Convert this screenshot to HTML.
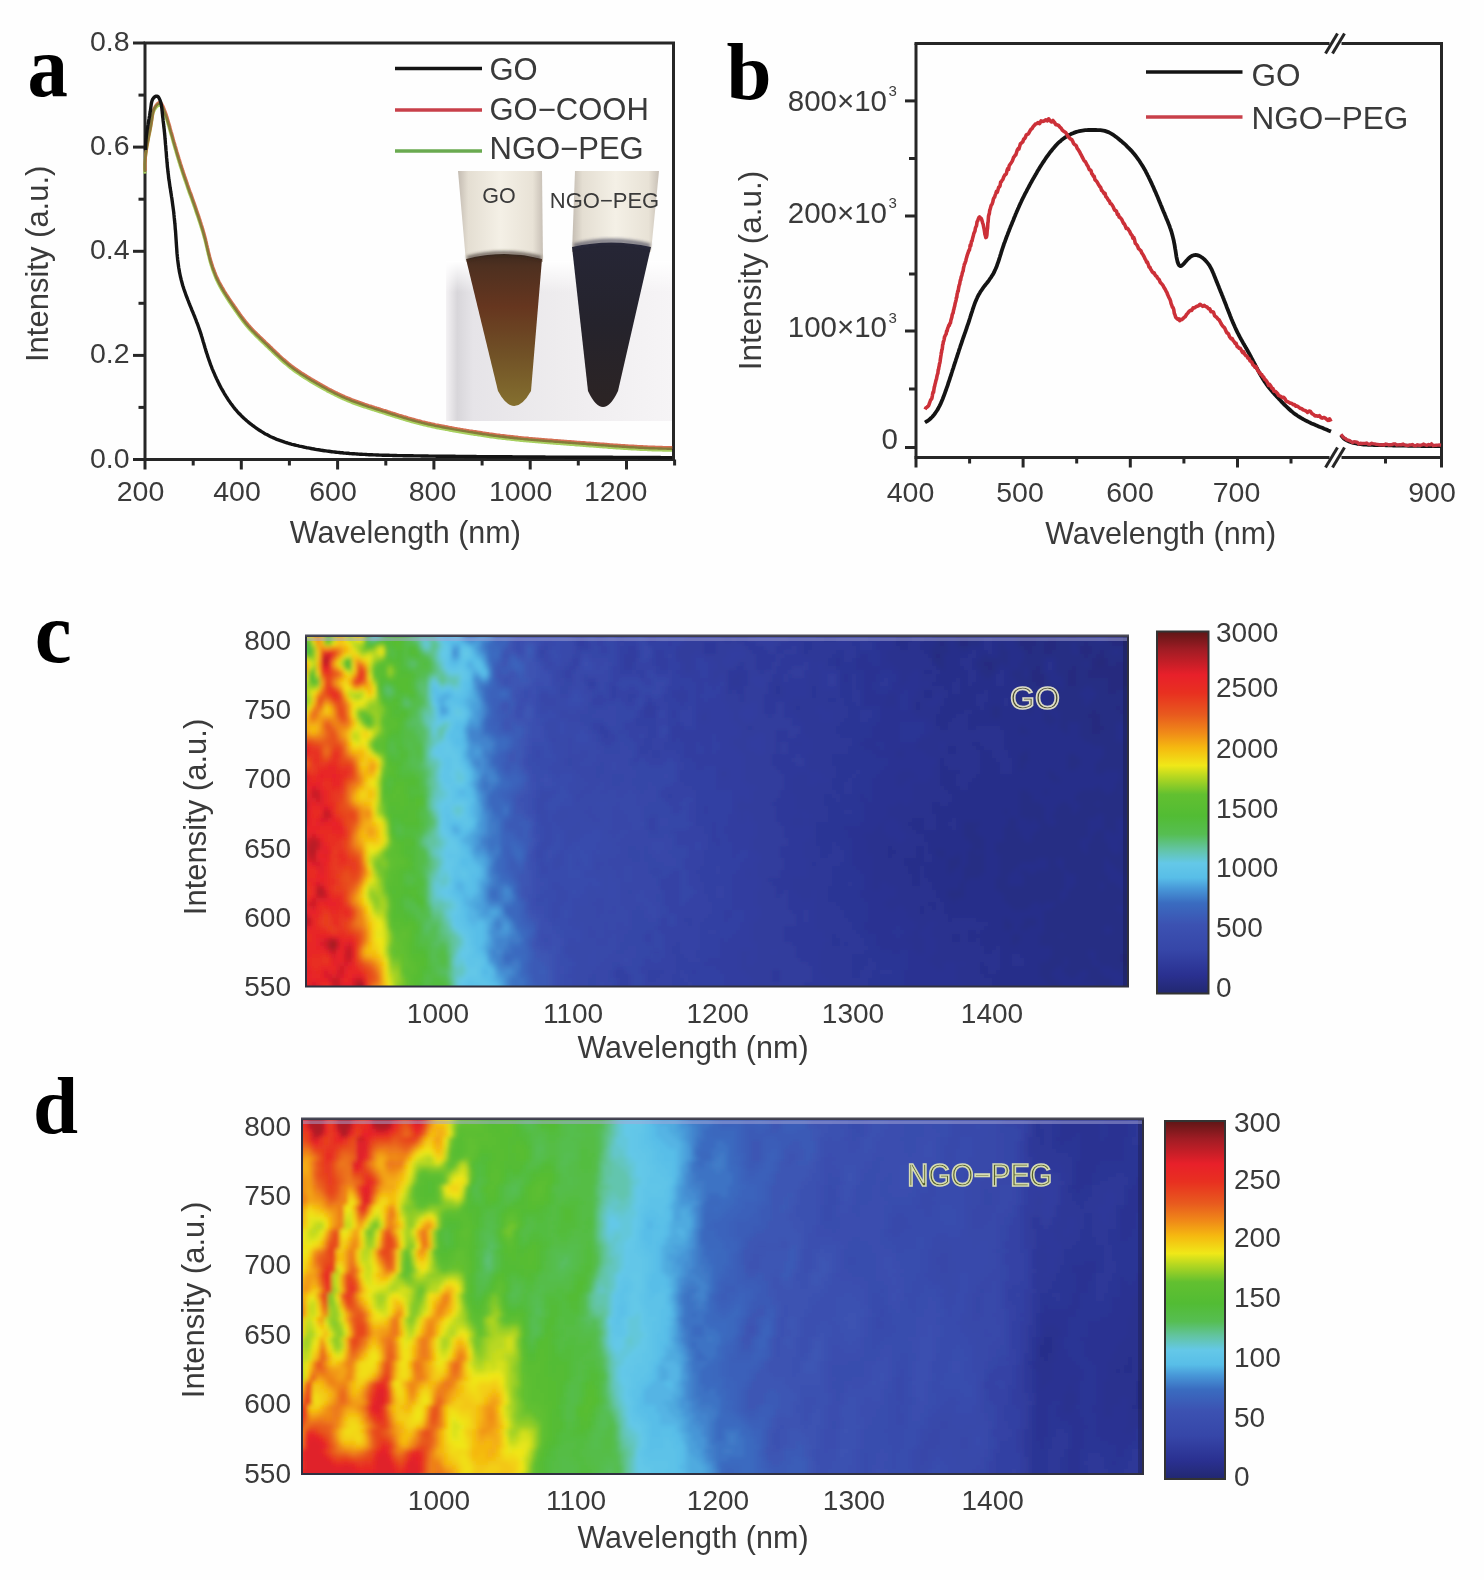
<!DOCTYPE html>
<html><head><meta charset="utf-8"><title>Figure</title>
<style>html,body{margin:0;padding:0;background:#fff;} body{width:1484px;height:1580px;overflow:hidden;} svg{display:block;filter:blur(0.5px);}</style>
</head><body>
<svg width="1484" height="1580" viewBox="0 0 1484 1580">
<rect width="1484" height="1580" fill="#fefefe"/>
<text x="0" y="0" font-family="Liberation Serif, serif" font-weight="bold" font-size="86" fill="#000" transform="translate(27.5,95.8) scale(0.94,1.045)">a</text>
<text x="0" y="0" font-family="Liberation Serif, serif" font-weight="bold" font-size="81" fill="#000" transform="translate(726.5,99.0) scale(1.0,1.0)">b</text>
<text x="0" y="0" font-family="Liberation Serif, serif" font-weight="bold" font-size="86" fill="#000" transform="translate(34.8,661.5) scale(0.965,1.0)">c</text>
<text x="0" y="0" font-family="Liberation Serif, serif" font-weight="bold" font-size="81" fill="#000" transform="translate(33.0,1133.0) scale(1.0,1.0)">d</text>
<rect x="145" y="43" width="528.5" height="416.5" fill="none" stroke="#262626" stroke-width="3"/>
<line x1="133" y1="459.5" x2="145" y2="459.5" stroke="#262626" stroke-width="3"/>
<line x1="138.5" y1="407.4" x2="145" y2="407.4" stroke="#262626" stroke-width="3"/>
<line x1="133" y1="355.4" x2="145" y2="355.4" stroke="#262626" stroke-width="3"/>
<line x1="138.5" y1="303.3" x2="145" y2="303.3" stroke="#262626" stroke-width="3"/>
<line x1="133" y1="251.3" x2="145" y2="251.3" stroke="#262626" stroke-width="3"/>
<line x1="138.5" y1="199.2" x2="145" y2="199.2" stroke="#262626" stroke-width="3"/>
<line x1="133" y1="147.1" x2="145" y2="147.1" stroke="#262626" stroke-width="3"/>
<line x1="138.5" y1="95.1" x2="145" y2="95.1" stroke="#262626" stroke-width="3"/>
<line x1="133" y1="43.0" x2="145" y2="43.0" stroke="#262626" stroke-width="3"/>
<line x1="145.0" y1="459.5" x2="145.0" y2="469.5" stroke="#262626" stroke-width="3"/>
<line x1="193.2" y1="459.5" x2="193.2" y2="465.5" stroke="#262626" stroke-width="3"/>
<line x1="241.3" y1="459.5" x2="241.3" y2="469.5" stroke="#262626" stroke-width="3"/>
<line x1="289.4" y1="459.5" x2="289.4" y2="465.5" stroke="#262626" stroke-width="3"/>
<line x1="337.6" y1="459.5" x2="337.6" y2="469.5" stroke="#262626" stroke-width="3"/>
<line x1="385.8" y1="459.5" x2="385.8" y2="465.5" stroke="#262626" stroke-width="3"/>
<line x1="433.9" y1="459.5" x2="433.9" y2="469.5" stroke="#262626" stroke-width="3"/>
<line x1="482.1" y1="459.5" x2="482.1" y2="465.5" stroke="#262626" stroke-width="3"/>
<line x1="530.2" y1="459.5" x2="530.2" y2="469.5" stroke="#262626" stroke-width="3"/>
<line x1="578.3" y1="459.5" x2="578.3" y2="465.5" stroke="#262626" stroke-width="3"/>
<line x1="626.5" y1="459.5" x2="626.5" y2="469.5" stroke="#262626" stroke-width="3"/>
<line x1="674.6" y1="459.5" x2="674.6" y2="465.5" stroke="#262626" stroke-width="3"/>
<text x="129.5" y="467.5" font-family="Liberation Sans, sans-serif" font-size="28.5" fill="#3a3a3a" text-anchor="end">0.0</text>
<text x="129.5" y="363.4" font-family="Liberation Sans, sans-serif" font-size="28.5" fill="#3a3a3a" text-anchor="end">0.2</text>
<text x="129.5" y="259.3" font-family="Liberation Sans, sans-serif" font-size="28.5" fill="#3a3a3a" text-anchor="end">0.4</text>
<text x="129.5" y="155.1" font-family="Liberation Sans, sans-serif" font-size="28.5" fill="#3a3a3a" text-anchor="end">0.6</text>
<text x="129.5" y="51.0" font-family="Liberation Sans, sans-serif" font-size="28.5" fill="#3a3a3a" text-anchor="end">0.8</text>
<text x="140.5" y="501" font-family="Liberation Sans, sans-serif" font-size="28.5" fill="#3a3a3a" text-anchor="middle">200</text>
<text x="237" y="501" font-family="Liberation Sans, sans-serif" font-size="28.5" fill="#3a3a3a" text-anchor="middle">400</text>
<text x="333" y="501" font-family="Liberation Sans, sans-serif" font-size="28.5" fill="#3a3a3a" text-anchor="middle">600</text>
<text x="432.5" y="501" font-family="Liberation Sans, sans-serif" font-size="28.5" fill="#3a3a3a" text-anchor="middle">800</text>
<text x="520.6" y="501" font-family="Liberation Sans, sans-serif" font-size="28.5" fill="#3a3a3a" text-anchor="middle">1000</text>
<text x="615.6" y="501" font-family="Liberation Sans, sans-serif" font-size="28.5" fill="#3a3a3a" text-anchor="middle">1200</text>
<text x="405.3" y="542.5" font-family="Liberation Sans, sans-serif" font-size="30.5" fill="#3a3a3a" text-anchor="middle">Wavelength (nm)</text>
<text x="0" y="0" font-family="Liberation Sans, sans-serif" font-size="31" fill="#3a3a3a" text-anchor="middle" transform="translate(47.5,263.8) rotate(-90)" font-size-adjust="none">Intensity (a.u.)</text>
<g>
<defs>
<filter id="mblur" x="-10%" y="-100%" width="120%" height="300%"><feGaussianBlur stdDeviation="1.5"/></filter>
<linearGradient id="insbg" x1="0" y1="0" x2="1" y2="0">
<stop offset="0" stop-color="#f4f2f4"/><stop offset="0.05" stop-color="#d8d6da"/><stop offset="0.12" stop-color="#e6e4e8"/>
<stop offset="0.5" stop-color="#eeecee"/><stop offset="1" stop-color="#f6f4f6"/></linearGradient>
<linearGradient id="insfade" x1="0" y1="0" x2="0" y2="1">
<stop offset="0" stop-color="#fff" stop-opacity="1"/><stop offset="0.45" stop-color="#fff" stop-opacity="0"/></linearGradient>
<linearGradient id="gotube" x1="0" y1="0" x2="0" y2="1">
<stop offset="0" stop-color="#3e2a1e"/><stop offset="0.08" stop-color="#4e3020"/><stop offset="0.35" stop-color="#66361f"/><stop offset="0.65" stop-color="#705026"/><stop offset="1" stop-color="#85702f"/></linearGradient>
<linearGradient id="ngtube" x1="0" y1="0" x2="0" y2="1">
<stop offset="0" stop-color="#262636"/><stop offset="0.5" stop-color="#25232c"/><stop offset="1" stop-color="#2c2424"/></linearGradient>
<linearGradient id="glass" x1="0" y1="0" x2="1" y2="0">
<stop offset="0" stop-color="#c4bcb2"/><stop offset="0.12" stop-color="#e4ded2"/><stop offset="0.5" stop-color="#f4f0e6"/><stop offset="0.88" stop-color="#e8e2d6"/><stop offset="1" stop-color="#c8c0b6"/></linearGradient>
</defs>
<rect x="446" y="262" width="226" height="159" fill="url(#insbg)"/>
<rect x="446" y="261" width="226" height="70" fill="url(#insfade)"/>
<path d="M458,171 L542,171 L543,262 L466,262 Z" fill="url(#glass)"/>
<path d="M466,259 Q504,249 542,259 L531,391 Q514,421 498,391 Z" fill="url(#gotube)"/>
<path d="M467,258 Q504,248 541,258" fill="none" stroke="#2e221c" stroke-width="4" opacity="0.6" filter="url(#mblur)"/>
<path d="M575,171 L659,171 L651,252 L572,252 Z" fill="url(#glass)"/>
<path d="M572,247 Q611,238 651,247 L618,391 Q603,423 588,391 Z" fill="url(#ngtube)"/>
<path d="M574,246 Q611,236 650,246" fill="none" stroke="#2a2a42" stroke-width="5" opacity="0.55" filter="url(#mblur)"/>
</g>
<text x="499" y="202.5" font-family="Liberation Sans, sans-serif" font-size="21.5" fill="#3a3a3a" text-anchor="middle">GO</text>
<text x="604.5" y="207.5" font-family="Liberation Sans, sans-serif" font-size="22" fill="#3a3a3a" text-anchor="middle">NGO−PEG</text>
<path d="M145.0,173.6 144.9,172.1 144.8,170.6 144.8,169.1 144.8,167.6 144.8,166.1 144.9,164.6 145.0,163.1 145.1,161.6 145.2,160.1 145.3,158.6 145.5,157.2 145.7,155.7 145.9,154.2 146.1,152.7 146.3,151.2 146.5,149.7 146.8,148.2 147.0,146.7 147.3,145.2 147.6,143.7 147.9,142.3 148.2,140.8 148.4,139.3 148.7,137.8 149.0,136.3 149.3,134.9 149.6,133.4 149.9,131.9 150.2,130.4 150.5,129.0 150.7,127.5 151.0,126.0 151.2,124.5 151.5,123.1 151.7,121.6 151.9,120.1 152.1,118.7 152.3,117.2 152.6,115.8 152.9,114.3 153.2,112.9 153.7,111.5 154.4,110.1 155.2,108.7 156.2,107.3 157.4,106.1 158.7,105.3 159.9,105.2 160.9,105.9 161.8,107.2 162.6,108.8 163.4,110.5 164.0,112.1 164.6,113.6 165.2,115.1 165.7,116.5 166.2,117.9 166.6,119.3 167.0,120.6 167.4,121.9 167.8,123.2 168.2,124.6 168.6,125.9 169.0,127.3 169.4,128.6 169.7,130.0 170.1,131.4 170.5,132.9 170.9,134.3 171.4,135.7 171.8,137.2 172.2,138.6 172.6,140.1 173.0,141.6 173.4,143.1 173.8,144.5 174.3,146.0 174.7,147.5 175.1,149.0 175.6,150.4 176.0,151.9 176.4,153.4 176.8,154.8 177.3,156.3 177.7,157.7 178.1,159.1 178.6,160.6 179.0,162.0 179.5,163.4 179.9,164.9 180.3,166.3 180.8,167.7 181.3,169.1 181.7,170.5 182.2,171.9 182.6,173.4 183.1,174.8 183.6,176.2 184.0,177.6 184.5,179.0 185.0,180.4 185.5,181.8 186.0,183.3 186.5,184.7 187.0,186.1 187.4,187.5 187.9,188.9 188.4,190.3 188.9,191.8 189.4,193.2 189.9,194.6 190.5,196.0 191.0,197.4 191.5,198.8 192.0,200.2 192.5,201.7 193.0,203.1 193.5,204.5 194.0,205.9 194.5,207.3 195.0,208.7 195.5,210.1 195.9,211.6 196.4,213.0 196.9,214.4 197.4,215.8 197.9,217.2 198.4,218.6 198.8,220.1 199.3,221.5 199.8,222.9 200.2,224.3 200.7,225.8 201.1,227.2 201.6,228.6 202.0,230.1 202.5,231.5 202.9,232.9 203.3,234.4 203.7,235.8 204.1,237.3 204.5,238.7 204.9,240.2 205.3,241.6 205.6,243.1 206.0,244.5 206.3,246.0 206.6,247.4 207.0,248.9 207.3,250.4 207.7,251.8 208.0,253.3 208.3,254.7 208.7,256.2 209.1,257.6 209.4,259.1 209.8,260.5 210.2,262.0 210.6,263.4 211.0,264.9 211.5,266.3 212.0,267.7 212.4,269.2 212.9,270.6 213.4,272.0 214.0,273.4 214.5,274.8 215.1,276.2 215.6,277.6 216.2,279.0 216.8,280.3 217.5,281.7 218.1,283.0 218.8,284.4 219.5,285.7 220.2,287.0 220.9,288.3 221.6,289.6 222.4,290.9 223.2,292.2 223.9,293.5 224.7,294.8 225.5,296.0 226.3,297.3 227.2,298.6 228.0,299.8 228.8,301.1 229.6,302.3 230.5,303.6 231.3,304.8 232.2,306.1 233.0,307.3 233.9,308.5 234.7,309.8 235.6,311.0 236.4,312.2 237.3,313.5 238.2,314.7 239.0,315.9 239.9,317.2 240.8,318.4 241.7,319.6 242.6,320.8 243.5,322.0 244.4,323.1 245.3,324.3 246.3,325.5 247.2,326.6 248.2,327.8 249.2,328.9 250.2,330.0 251.2,331.1 252.2,332.2 253.3,333.3 254.3,334.3 255.4,335.4 256.4,336.4 257.5,337.5 258.6,338.5 259.7,339.6 260.8,340.6 261.8,341.6 262.9,342.7 264.0,343.7 265.1,344.8 266.2,345.8 267.3,346.8 268.4,347.9 269.4,348.9 270.5,350.0 271.6,351.0 272.7,352.1 273.8,353.1 274.8,354.1 275.9,355.2 277.0,356.2 278.1,357.2 279.2,358.3 280.3,359.3 281.4,360.3 282.5,361.3 283.6,362.3 284.8,363.3 285.9,364.2 287.1,365.2 288.2,366.1 289.4,367.1 290.5,368.0 291.7,368.9 292.9,369.8 294.1,370.7 295.3,371.6 296.6,372.4 297.8,373.3 299.0,374.1 300.3,375.0 301.5,375.8 302.8,376.6 304.0,377.4 305.3,378.2 306.6,379.0 307.9,379.8 309.2,380.6 310.4,381.4 311.7,382.2 313.0,382.9 314.3,383.7 315.6,384.4 316.9,385.2 318.2,385.9 319.5,386.7 320.8,387.4 322.2,388.2 323.5,388.9 324.8,389.6 326.1,390.3 327.4,391.1 328.8,391.8 330.1,392.5 331.4,393.1 332.8,393.8 334.1,394.5 335.4,395.2 336.8,395.8 338.1,396.5 339.5,397.1 340.8,397.8 342.2,398.4 343.6,399.0 344.9,399.6 346.3,400.2 347.7,400.8 349.1,401.3 350.5,401.9 351.8,402.5 353.2,403.0 354.6,403.5 356.0,404.0 357.5,404.5 358.9,405.0 360.3,405.5 361.7,406.0 363.1,406.5 364.5,407.0 366.0,407.4 367.4,407.9 368.8,408.4 370.2,408.8 371.7,409.3 373.1,409.7 374.5,410.2 376.0,410.6 377.4,411.1 378.8,411.5 380.3,412.0 381.7,412.4 383.1,412.9 384.6,413.3 386.0,413.8 387.4,414.3 388.9,414.7 390.3,415.2 391.7,415.6 393.1,416.1 394.6,416.5 396.0,417.0 397.4,417.4 398.9,417.9 400.3,418.3 401.7,418.7 403.2,419.2 404.6,419.6 406.0,420.0 407.5,420.5 408.9,420.9 410.3,421.3 411.8,421.7 413.2,422.1 414.7,422.5 416.1,422.9 417.6,423.3 419.0,423.6 420.5,424.0 421.9,424.4 423.4,424.7 424.8,425.1 426.3,425.4 427.7,425.8 429.2,426.1 430.7,426.4 432.1,426.7 433.6,427.0 435.1,427.4 436.5,427.7 438.0,427.9 439.5,428.2 440.9,428.5 442.4,428.8 443.9,429.1 445.4,429.4 446.8,429.6 448.3,429.9 449.8,430.2 451.3,430.4 452.7,430.7 454.2,431.0 455.7,431.2 457.2,431.5 458.7,431.7 460.1,432.0 461.6,432.2 463.1,432.5 464.6,432.7 466.1,433.0 467.5,433.2 469.0,433.5 470.5,433.7 472.0,433.9 473.5,434.2 474.9,434.4 476.4,434.6 477.9,434.9 479.4,435.1 480.9,435.3 482.3,435.6 483.8,435.8 485.3,436.0 486.8,436.2 488.3,436.4 489.7,436.7 491.2,436.9 492.7,437.1 494.2,437.3 495.7,437.5 497.2,437.7 498.7,437.9 500.1,438.1 501.6,438.2 503.1,438.4 504.6,438.6 506.1,438.8 507.6,439.0 509.1,439.1 510.6,439.3 512.0,439.4 513.5,439.6 515.0,439.8 516.5,439.9 518.0,440.1 519.5,440.2 521.0,440.4 522.5,440.5 524.0,440.7 525.5,440.8 527.0,440.9 528.5,441.1 529.9,441.2 531.4,441.3 532.9,441.5 534.4,441.6 535.9,441.7 537.4,441.8 538.9,442.0 540.4,442.1 541.9,442.2 543.4,442.3 544.9,442.5 546.4,442.6 547.9,442.7 549.4,442.8 550.9,442.9 552.4,443.0 553.8,443.2 555.3,443.3 556.8,443.4 558.3,443.5 559.8,443.6 561.3,443.7 562.8,443.8 564.3,444.0 565.8,444.1 567.3,444.2 568.8,444.3 570.3,444.4 571.8,444.5 573.3,444.6 574.8,444.7 576.3,444.9 577.8,445.0 579.2,445.1 580.7,445.2 582.2,445.3 583.7,445.4 585.2,445.5 586.7,445.7 588.2,445.8 589.7,445.9 591.2,446.0 592.7,446.1 594.2,446.2 595.7,446.3 597.2,446.5 598.7,446.6 600.2,446.7 601.7,446.8 603.2,446.9 604.7,447.0 606.1,447.1 607.6,447.2 609.1,447.4 610.6,447.5 612.1,447.6 613.6,447.7 615.1,447.8 616.6,447.9 618.1,448.0 619.6,448.1 621.1,448.2 622.6,448.3 624.1,448.4 625.6,448.5 627.1,448.6 628.6,448.7 630.1,448.8 631.6,448.9 633.1,448.9 634.6,449.0 636.0,449.1 637.5,449.2 639.0,449.3 640.5,449.4 642.0,449.4 643.5,449.5 645.0,449.6 646.5,449.6 648.0,449.7 649.5,449.8 651.0,449.8 652.5,449.9 654.0,449.9 655.5,450.0 657.0,450.0 658.5,450.1 660.0,450.1 661.5,450.1 663.0,450.2 664.5,450.2 666.0,450.2 667.5,450.3 669.0,450.3 670.5,450.3 672.0,450.3" fill="none" stroke="#a8d060" stroke-width="3.0" stroke-linejoin="round"/>
<path d="M145.3,170.8 145.2,169.3 145.1,167.8 145.1,166.3 145.1,164.8 145.1,163.3 145.2,161.8 145.3,160.3 145.4,158.8 145.5,157.3 145.6,155.8 145.8,154.4 146.0,152.9 146.2,151.4 146.4,149.9 146.6,148.4 146.8,146.9 147.1,145.4 147.3,143.9 147.6,142.4 147.9,140.9 148.2,139.5 148.5,138.0 148.7,136.5 149.0,135.0 149.3,133.5 149.6,132.1 149.9,130.6 150.2,129.1 150.5,127.6 150.8,126.2 151.0,124.7 151.3,123.2 151.5,121.7 151.8,120.3 152.0,118.8 152.2,117.3 152.4,115.9 152.6,114.4 152.9,113.0 153.2,111.5 153.5,110.1 154.0,108.7 154.7,107.3 155.5,105.9 156.5,104.5 157.7,103.3 159.0,102.5 160.2,102.4 161.2,103.1 162.1,104.4 162.9,106.0 163.7,107.7 164.3,109.3 164.9,110.8 165.5,112.3 166.0,113.7 166.5,115.1 166.9,116.5 167.3,117.8 167.7,119.1 168.1,120.4 168.5,121.8 168.9,123.1 169.3,124.5 169.7,125.8 170.0,127.2 170.4,128.6 170.8,130.1 171.2,131.5 171.7,132.9 172.1,134.4 172.5,135.8 172.9,137.3 173.3,138.8 173.7,140.3 174.1,141.7 174.6,143.2 175.0,144.7 175.4,146.2 175.9,147.6 176.3,149.1 176.7,150.6 177.1,152.0 177.6,153.5 178.0,154.9 178.4,156.3 178.9,157.8 179.3,159.2 179.8,160.6 180.2,162.1 180.6,163.5 181.1,164.9 181.6,166.3 182.0,167.7 182.5,169.1 182.9,170.6 183.4,172.0 183.9,173.4 184.3,174.8 184.8,176.2 185.3,177.6 185.8,179.0 186.3,180.5 186.8,181.9 187.3,183.3 187.7,184.7 188.2,186.1 188.7,187.5 189.2,189.0 189.7,190.4 190.2,191.8 190.8,193.2 191.3,194.6 191.8,196.0 192.3,197.4 192.8,198.9 193.3,200.3 193.8,201.7 194.3,203.1 194.8,204.5 195.3,205.9 195.8,207.3 196.2,208.8 196.7,210.2 197.2,211.6 197.7,213.0 198.2,214.4 198.7,215.8 199.1,217.3 199.6,218.7 200.1,220.1 200.5,221.5 201.0,223.0 201.4,224.4 201.9,225.8 202.3,227.3 202.8,228.7 203.2,230.1 203.6,231.6 204.0,233.0 204.4,234.5 204.8,235.9 205.2,237.4 205.6,238.8 205.9,240.3 206.3,241.7 206.6,243.2 206.9,244.6 207.3,246.1 207.6,247.6 208.0,249.0 208.3,250.5 208.6,251.9 209.0,253.4 209.4,254.8 209.7,256.3 210.1,257.7 210.5,259.2 210.9,260.6 211.3,262.1 211.8,263.5 212.3,264.9 212.7,266.4 213.2,267.8 213.7,269.2 214.3,270.6 214.8,272.0 215.4,273.4 215.9,274.8 216.5,276.2 217.1,277.5 217.8,278.9 218.4,280.2 219.1,281.6 219.8,282.9 220.5,284.2 221.2,285.5 221.9,286.8 222.7,288.1 223.5,289.4 224.2,290.7 225.0,292.0 225.8,293.2 226.6,294.5 227.5,295.8 228.3,297.0 229.1,298.3 229.9,299.5 230.8,300.8 231.6,302.0 232.5,303.3 233.3,304.5 234.2,305.7 235.0,307.0 235.9,308.2 236.7,309.4 237.6,310.7 238.5,311.9 239.3,313.1 240.2,314.4 241.1,315.6 242.0,316.8 242.9,318.0 243.8,319.2 244.7,320.3 245.6,321.5 246.6,322.7 247.5,323.8 248.5,325.0 249.5,326.1 250.5,327.2 251.5,328.3 252.5,329.4 253.6,330.5 254.6,331.5 255.7,332.6 256.7,333.6 257.8,334.7 258.9,335.7 260.0,336.8 261.1,337.8 262.1,338.8 263.2,339.9 264.3,340.9 265.4,342.0 266.5,343.0 267.6,344.0 268.7,345.1 269.7,346.1 270.8,347.2 271.9,348.2 273.0,349.3 274.1,350.3 275.1,351.3 276.2,352.4 277.3,353.4 278.4,354.4 279.5,355.5 280.6,356.5 281.7,357.5 282.8,358.5 283.9,359.5 285.1,360.5 286.2,361.4 287.4,362.4 288.5,363.3 289.7,364.3 290.8,365.2 292.0,366.1 293.2,367.0 294.4,367.9 295.6,368.8 296.9,369.6 298.1,370.5 299.3,371.3 300.6,372.2 301.8,373.0 303.1,373.8 304.3,374.6 305.6,375.4 306.9,376.2 308.2,377.0 309.5,377.8 310.7,378.6 312.0,379.4 313.3,380.1 314.6,380.9 315.9,381.6 317.2,382.4 318.5,383.1 319.8,383.9 321.1,384.6 322.5,385.4 323.8,386.1 325.1,386.8 326.4,387.5 327.7,388.3 329.1,389.0 330.4,389.7 331.7,390.3 333.1,391.0 334.4,391.7 335.7,392.4 337.1,393.0 338.4,393.7 339.8,394.3 341.1,395.0 342.5,395.6 343.9,396.2 345.2,396.8 346.6,397.4 348.0,398.0 349.4,398.5 350.8,399.1 352.1,399.7 353.5,400.2 354.9,400.7 356.3,401.2 357.8,401.7 359.2,402.2 360.6,402.7 362.0,403.2 363.4,403.7 364.8,404.2 366.3,404.6 367.7,405.1 369.1,405.6 370.5,406.0 372.0,406.5 373.4,406.9 374.8,407.4 376.3,407.8 377.7,408.3 379.1,408.7 380.6,409.2 382.0,409.6 383.4,410.1 384.9,410.5 386.3,411.0 387.7,411.5 389.2,411.9 390.6,412.4 392.0,412.8 393.4,413.3 394.9,413.7 396.3,414.2 397.7,414.6 399.2,415.1 400.6,415.5 402.0,415.9 403.5,416.4 404.9,416.8 406.3,417.2 407.8,417.7 409.2,418.1 410.6,418.5 412.1,418.9 413.5,419.3 415.0,419.7 416.4,420.1 417.9,420.5 419.3,420.8 420.8,421.2 422.2,421.6 423.7,421.9 425.1,422.3 426.6,422.6 428.0,423.0 429.5,423.3 431.0,423.6 432.4,423.9 433.9,424.2 435.4,424.6 436.8,424.9 438.3,425.1 439.8,425.4 441.2,425.7 442.7,426.0 444.2,426.3 445.7,426.6 447.1,426.8 448.6,427.1 450.1,427.4 451.6,427.6 453.0,427.9 454.5,428.2 456.0,428.4 457.5,428.7 459.0,428.9 460.4,429.2 461.9,429.4 463.4,429.7 464.9,429.9 466.4,430.2 467.8,430.4 469.3,430.7 470.8,430.9 472.3,431.1 473.8,431.4 475.2,431.6 476.7,431.8 478.2,432.1 479.7,432.3 481.2,432.5 482.6,432.8 484.1,433.0 485.6,433.2 487.1,433.4 488.6,433.6 490.0,433.9 491.5,434.1 493.0,434.3 494.5,434.5 496.0,434.7 497.5,434.9 499.0,435.1 500.4,435.3 501.9,435.4 503.4,435.6 504.9,435.8 506.4,436.0 507.9,436.2 509.4,436.3 510.9,436.5 512.3,436.6 513.8,436.8 515.3,437.0 516.8,437.1 518.3,437.3 519.8,437.4 521.3,437.6 522.8,437.7 524.3,437.9 525.8,438.0 527.3,438.1 528.8,438.3 530.2,438.4 531.7,438.5 533.2,438.7 534.7,438.8 536.2,438.9 537.7,439.0 539.2,439.2 540.7,439.3 542.2,439.4 543.7,439.5 545.2,439.7 546.7,439.8 548.2,439.9 549.7,440.0 551.2,440.1 552.7,440.2 554.1,440.4 555.6,440.5 557.1,440.6 558.6,440.7 560.1,440.8 561.6,440.9 563.1,441.0 564.6,441.2 566.1,441.3 567.6,441.4 569.1,441.5 570.6,441.6 572.1,441.7 573.6,441.8 575.1,441.9 576.6,442.1 578.1,442.2 579.5,442.3 581.0,442.4 582.5,442.5 584.0,442.6 585.5,442.7 587.0,442.9 588.5,443.0 590.0,443.1 591.5,443.2 593.0,443.3 594.5,443.4 596.0,443.5 597.5,443.7 599.0,443.8 600.5,443.9 602.0,444.0 603.5,444.1 605.0,444.2 606.4,444.3 607.9,444.4 609.4,444.6 610.9,444.7 612.4,444.8 613.9,444.9 615.4,445.0 616.9,445.1 618.4,445.2 619.9,445.3 621.4,445.4 622.9,445.5 624.4,445.6 625.9,445.7 627.4,445.8 628.9,445.9 630.4,446.0 631.9,446.1 633.4,446.1 634.9,446.2 636.3,446.3 637.8,446.4 639.3,446.5 640.8,446.6 642.3,446.6 643.8,446.7 645.3,446.8 646.8,446.8 648.3,446.9 649.8,447.0 651.3,447.0 652.8,447.1 654.3,447.1 655.8,447.2 657.3,447.2 658.8,447.3 660.3,447.3 661.8,447.3 663.3,447.4 664.8,447.4 666.3,447.4 667.8,447.5 669.3,447.5 670.8,447.5 672.3,447.5" fill="none" stroke="#d06040" stroke-width="3.0" stroke-linejoin="round" opacity="0.9"/>
<path d="M145.0,172.0 144.9,170.5 144.8,169.0 144.8,167.5 144.8,166.0 144.8,164.5 144.9,163.0 145.0,161.5 145.1,160.0 145.2,158.5 145.3,157.0 145.5,155.6 145.7,154.1 145.9,152.6 146.1,151.1 146.3,149.6 146.5,148.1 146.8,146.6 147.0,145.1 147.3,143.6 147.6,142.1 147.9,140.7 148.2,139.2 148.4,137.7 148.7,136.2 149.0,134.7 149.3,133.3 149.6,131.8 149.9,130.3 150.2,128.8 150.5,127.4 150.7,125.9 151.0,124.4 151.2,122.9 151.5,121.5 151.7,120.0 151.9,118.5 152.1,117.1 152.3,115.6 152.6,114.2 152.9,112.7 153.2,111.3 153.7,109.9 154.4,108.5 155.2,107.1 156.2,105.7 157.4,104.5 158.7,103.7 159.9,103.6 160.9,104.3 161.8,105.6 162.6,107.2 163.4,108.9 164.0,110.5 164.6,112.0 165.2,113.5 165.7,114.9 166.2,116.3 166.6,117.7 167.0,119.0 167.4,120.3 167.8,121.6 168.2,123.0 168.6,124.3 169.0,125.7 169.4,127.0 169.7,128.4 170.1,129.8 170.5,131.3 170.9,132.7 171.4,134.1 171.8,135.6 172.2,137.0 172.6,138.5 173.0,140.0 173.4,141.5 173.8,142.9 174.3,144.4 174.7,145.9 175.1,147.4 175.6,148.8 176.0,150.3 176.4,151.8 176.8,153.2 177.3,154.7 177.7,156.1 178.1,157.5 178.6,159.0 179.0,160.4 179.5,161.8 179.9,163.3 180.3,164.7 180.8,166.1 181.3,167.5 181.7,168.9 182.2,170.3 182.6,171.8 183.1,173.2 183.6,174.6 184.0,176.0 184.5,177.4 185.0,178.8 185.5,180.2 186.0,181.7 186.5,183.1 187.0,184.5 187.4,185.9 187.9,187.3 188.4,188.7 188.9,190.2 189.4,191.6 189.9,193.0 190.5,194.4 191.0,195.8 191.5,197.2 192.0,198.6 192.5,200.1 193.0,201.5 193.5,202.9 194.0,204.3 194.5,205.7 195.0,207.1 195.5,208.5 195.9,210.0 196.4,211.4 196.9,212.8 197.4,214.2 197.9,215.6 198.4,217.0 198.8,218.5 199.3,219.9 199.8,221.3 200.2,222.7 200.7,224.2 201.1,225.6 201.6,227.0 202.0,228.5 202.5,229.9 202.9,231.3 203.3,232.8 203.7,234.2 204.1,235.7 204.5,237.1 204.9,238.6 205.3,240.0 205.6,241.5 206.0,242.9 206.3,244.4 206.6,245.8 207.0,247.3 207.3,248.8 207.7,250.2 208.0,251.7 208.3,253.1 208.7,254.6 209.1,256.0 209.4,257.5 209.8,258.9 210.2,260.4 210.6,261.8 211.0,263.3 211.5,264.7 212.0,266.1 212.4,267.6 212.9,269.0 213.4,270.4 214.0,271.8 214.5,273.2 215.1,274.6 215.6,276.0 216.2,277.4 216.8,278.7 217.5,280.1 218.1,281.4 218.8,282.8 219.5,284.1 220.2,285.4 220.9,286.7 221.6,288.0 222.4,289.3 223.2,290.6 223.9,291.9 224.7,293.2 225.5,294.4 226.3,295.7 227.2,297.0 228.0,298.2 228.8,299.5 229.6,300.7 230.5,302.0 231.3,303.2 232.2,304.5 233.0,305.7 233.9,306.9 234.7,308.2 235.6,309.4 236.4,310.6 237.3,311.9 238.2,313.1 239.0,314.3 239.9,315.6 240.8,316.8 241.7,318.0 242.6,319.2 243.5,320.4 244.4,321.5 245.3,322.7 246.3,323.9 247.2,325.0 248.2,326.2 249.2,327.3 250.2,328.4 251.2,329.5 252.2,330.6 253.3,331.7 254.3,332.7 255.4,333.8 256.4,334.8 257.5,335.9 258.6,336.9 259.7,338.0 260.8,339.0 261.8,340.0 262.9,341.1 264.0,342.1 265.1,343.2 266.2,344.2 267.3,345.2 268.4,346.3 269.4,347.3 270.5,348.4 271.6,349.4 272.7,350.5 273.8,351.5 274.8,352.5 275.9,353.6 277.0,354.6 278.1,355.6 279.2,356.7 280.3,357.7 281.4,358.7 282.5,359.7 283.6,360.7 284.8,361.7 285.9,362.6 287.1,363.6 288.2,364.5 289.4,365.5 290.5,366.4 291.7,367.3 292.9,368.2 294.1,369.1 295.3,370.0 296.6,370.8 297.8,371.7 299.0,372.5 300.3,373.4 301.5,374.2 302.8,375.0 304.0,375.8 305.3,376.6 306.6,377.4 307.9,378.2 309.2,379.0 310.4,379.8 311.7,380.6 313.0,381.3 314.3,382.1 315.6,382.8 316.9,383.6 318.2,384.3 319.5,385.1 320.8,385.8 322.2,386.6 323.5,387.3 324.8,388.0 326.1,388.7 327.4,389.5 328.8,390.2 330.1,390.9 331.4,391.5 332.8,392.2 334.1,392.9 335.4,393.6 336.8,394.2 338.1,394.9 339.5,395.5 340.8,396.2 342.2,396.8 343.6,397.4 344.9,398.0 346.3,398.6 347.7,399.2 349.1,399.7 350.5,400.3 351.8,400.9 353.2,401.4 354.6,401.9 356.0,402.4 357.5,402.9 358.9,403.4 360.3,403.9 361.7,404.4 363.1,404.9 364.5,405.4 366.0,405.8 367.4,406.3 368.8,406.8 370.2,407.2 371.7,407.7 373.1,408.1 374.5,408.6 376.0,409.0 377.4,409.5 378.8,409.9 380.3,410.4 381.7,410.8 383.1,411.3 384.6,411.7 386.0,412.2 387.4,412.7 388.9,413.1 390.3,413.6 391.7,414.0 393.1,414.5 394.6,414.9 396.0,415.4 397.4,415.8 398.9,416.3 400.3,416.7 401.7,417.1 403.2,417.6 404.6,418.0 406.0,418.4 407.5,418.9 408.9,419.3 410.3,419.7 411.8,420.1 413.2,420.5 414.7,420.9 416.1,421.3 417.6,421.7 419.0,422.0 420.5,422.4 421.9,422.8 423.4,423.1 424.8,423.5 426.3,423.8 427.7,424.2 429.2,424.5 430.7,424.8 432.1,425.1 433.6,425.4 435.1,425.8 436.5,426.1 438.0,426.3 439.5,426.6 440.9,426.9 442.4,427.2 443.9,427.5 445.4,427.8 446.8,428.0 448.3,428.3 449.8,428.6 451.3,428.8 452.7,429.1 454.2,429.4 455.7,429.6 457.2,429.9 458.7,430.1 460.1,430.4 461.6,430.6 463.1,430.9 464.6,431.1 466.1,431.4 467.5,431.6 469.0,431.9 470.5,432.1 472.0,432.3 473.5,432.6 474.9,432.8 476.4,433.0 477.9,433.3 479.4,433.5 480.9,433.7 482.3,434.0 483.8,434.2 485.3,434.4 486.8,434.6 488.3,434.8 489.7,435.1 491.2,435.3 492.7,435.5 494.2,435.7 495.7,435.9 497.2,436.1 498.7,436.3 500.1,436.5 501.6,436.6 503.1,436.8 504.6,437.0 506.1,437.2 507.6,437.4 509.1,437.5 510.6,437.7 512.0,437.8 513.5,438.0 515.0,438.2 516.5,438.3 518.0,438.5 519.5,438.6 521.0,438.8 522.5,438.9 524.0,439.1 525.5,439.2 527.0,439.3 528.5,439.5 529.9,439.6 531.4,439.7 532.9,439.9 534.4,440.0 535.9,440.1 537.4,440.2 538.9,440.4 540.4,440.5 541.9,440.6 543.4,440.7 544.9,440.9 546.4,441.0 547.9,441.1 549.4,441.2 550.9,441.3 552.4,441.4 553.8,441.6 555.3,441.7 556.8,441.8 558.3,441.9 559.8,442.0 561.3,442.1 562.8,442.2 564.3,442.4 565.8,442.5 567.3,442.6 568.8,442.7 570.3,442.8 571.8,442.9 573.3,443.0 574.8,443.1 576.3,443.3 577.8,443.4 579.2,443.5 580.7,443.6 582.2,443.7 583.7,443.8 585.2,443.9 586.7,444.1 588.2,444.2 589.7,444.3 591.2,444.4 592.7,444.5 594.2,444.6 595.7,444.7 597.2,444.9 598.7,445.0 600.2,445.1 601.7,445.2 603.2,445.3 604.7,445.4 606.1,445.5 607.6,445.6 609.1,445.8 610.6,445.9 612.1,446.0 613.6,446.1 615.1,446.2 616.6,446.3 618.1,446.4 619.6,446.5 621.1,446.6 622.6,446.7 624.1,446.8 625.6,446.9 627.1,447.0 628.6,447.1 630.1,447.2 631.6,447.3 633.1,447.3 634.6,447.4 636.0,447.5 637.5,447.6 639.0,447.7 640.5,447.8 642.0,447.8 643.5,447.9 645.0,448.0 646.5,448.0 648.0,448.1 649.5,448.2 651.0,448.2 652.5,448.3 654.0,448.3 655.5,448.4 657.0,448.4 658.5,448.5 660.0,448.5 661.5,448.5 663.0,448.6 664.5,448.6 666.0,448.6 667.5,448.7 669.0,448.7 670.5,448.7 672.0,448.7" fill="none" stroke="#857a3a" stroke-width="2.4" stroke-linejoin="round"/>
<path d="M145.5,150.0 145.5,148.5 145.5,146.9 145.6,145.4 145.7,143.9 145.8,142.4 145.9,140.9 146.0,139.4 146.2,137.9 146.3,136.4 146.5,134.9 146.7,133.4 146.9,132.0 147.1,130.5 147.3,129.0 147.6,127.6 147.8,126.1 148.1,124.6 148.3,123.2 148.6,121.7 148.8,120.2 149.1,118.8 149.3,117.3 149.6,115.8 149.8,114.4 150.0,112.9 150.3,111.4 150.5,109.9 150.7,108.4 150.9,106.9 151.1,105.4 151.3,103.9 151.6,102.4 152.0,100.9 152.5,99.5 153.4,98.2 154.5,97.0 155.8,96.2 157.2,96.1 158.3,96.9 159.2,98.4 159.9,99.9 160.5,101.5 160.9,102.9 161.3,104.4 161.5,105.8 161.7,107.3 161.9,108.7 162.0,110.1 162.2,111.6 162.3,113.0 162.5,114.5 162.6,116.0 162.8,117.4 163.0,118.9 163.1,120.4 163.3,122.0 163.5,123.5 163.7,125.0 163.8,126.5 164.0,128.0 164.2,129.5 164.3,131.0 164.5,132.5 164.6,134.0 164.8,135.5 164.9,137.0 165.0,138.5 165.2,140.0 165.3,141.5 165.4,142.9 165.5,144.4 165.7,145.9 165.8,147.4 165.9,148.9 166.0,150.4 166.2,151.9 166.3,153.4 166.4,154.9 166.5,156.4 166.6,157.9 166.8,159.4 166.9,160.8 167.0,162.3 167.2,163.8 167.3,165.3 167.4,166.8 167.6,168.3 167.8,169.8 167.9,171.3 168.1,172.8 168.3,174.3 168.5,175.8 168.6,177.3 168.8,178.7 169.0,180.2 169.3,181.7 169.5,183.2 169.7,184.7 169.9,186.2 170.1,187.7 170.4,189.1 170.6,190.6 170.8,192.1 171.1,193.6 171.3,195.1 171.5,196.5 171.8,198.0 172.0,199.5 172.2,201.0 172.4,202.5 172.6,204.0 172.8,205.4 173.0,206.9 173.2,208.4 173.4,209.9 173.6,211.4 173.8,212.9 173.9,214.4 174.1,215.9 174.2,217.4 174.4,218.8 174.5,220.3 174.7,221.8 174.8,223.3 175.0,224.8 175.1,226.3 175.2,227.8 175.3,229.3 175.5,230.8 175.6,232.3 175.7,233.8 175.8,235.3 175.9,236.8 176.0,238.3 176.1,239.8 176.2,241.3 176.3,242.8 176.4,244.3 176.5,245.8 176.6,247.3 176.7,248.7 176.8,250.2 176.9,251.7 177.0,253.2 177.2,254.7 177.3,256.2 177.5,257.7 177.6,259.2 177.8,260.7 178.0,262.2 178.2,263.7 178.4,265.2 178.6,266.7 178.8,268.1 179.1,269.6 179.3,271.1 179.6,272.6 179.9,274.0 180.2,275.5 180.5,277.0 180.9,278.4 181.2,279.9 181.6,281.3 182.0,282.8 182.4,284.2 182.8,285.7 183.3,287.1 183.7,288.5 184.2,290.0 184.7,291.4 185.2,292.8 185.7,294.2 186.2,295.6 186.7,297.0 187.3,298.4 187.8,299.8 188.4,301.2 188.9,302.6 189.5,304.0 190.0,305.4 190.6,306.8 191.2,308.2 191.7,309.6 192.3,311.0 192.9,312.4 193.4,313.7 194.0,315.1 194.6,316.5 195.1,317.9 195.7,319.3 196.2,320.7 196.7,322.1 197.3,323.5 197.8,324.9 198.3,326.3 198.8,327.7 199.3,329.1 199.8,330.6 200.3,332.0 200.7,333.4 201.2,334.8 201.6,336.3 202.1,337.7 202.5,339.1 202.9,340.6 203.3,342.0 203.8,343.5 204.2,344.9 204.6,346.3 205.0,347.8 205.5,349.2 205.9,350.7 206.3,352.1 206.8,353.5 207.3,354.9 207.7,356.4 208.2,357.8 208.7,359.2 209.2,360.6 209.7,362.0 210.2,363.5 210.7,364.9 211.3,366.3 211.8,367.7 212.3,369.1 212.9,370.4 213.5,371.8 214.1,373.2 214.7,374.6 215.3,376.0 215.9,377.3 216.5,378.7 217.2,380.0 217.8,381.4 218.5,382.7 219.1,384.1 219.8,385.4 220.5,386.7 221.2,388.1 222.0,389.4 222.7,390.7 223.5,392.0 224.2,393.3 225.0,394.6 225.8,395.9 226.6,397.1 227.4,398.4 228.2,399.7 229.1,400.9 229.9,402.1 230.8,403.4 231.7,404.6 232.6,405.8 233.5,407.0 234.4,408.1 235.4,409.3 236.4,410.4 237.3,411.6 238.3,412.7 239.4,413.8 240.4,414.8 241.5,415.9 242.6,416.9 243.6,418.0 244.8,419.0 245.9,420.0 247.0,421.0 248.2,421.9 249.3,422.9 250.5,423.8 251.7,424.7 252.9,425.7 254.1,426.5 255.3,427.4 256.6,428.3 257.8,429.2 259.0,430.0 260.3,430.8 261.6,431.6 262.9,432.4 264.1,433.2 265.4,433.9 266.8,434.6 268.1,435.3 269.4,436.0 270.8,436.7 272.1,437.3 273.5,437.9 274.9,438.5 276.2,439.1 277.6,439.7 279.0,440.2 280.4,440.7 281.9,441.2 283.3,441.7 284.7,442.2 286.1,442.6 287.6,443.0 289.0,443.5 290.5,443.9 291.9,444.3 293.4,444.6 294.8,445.0 296.3,445.4 297.8,445.7 299.2,446.1 300.7,446.4 302.2,446.7 303.6,447.0 305.1,447.3 306.6,447.7 308.1,447.9 309.5,448.2 311.0,448.5 312.5,448.8 314.0,449.0 315.4,449.3 316.9,449.6 318.4,449.8 319.9,450.0 321.4,450.3 322.8,450.5 324.3,450.7 325.8,450.9 327.3,451.1 328.8,451.3 330.3,451.5 331.7,451.7 333.2,451.9 334.7,452.0 336.2,452.2 337.7,452.4 339.2,452.5 340.7,452.7 342.2,452.8 343.7,453.0 345.2,453.1 346.7,453.2 348.2,453.3 349.6,453.5 351.1,453.6 352.6,453.7 354.1,453.8 355.6,453.9 357.1,454.0 358.6,454.1 360.1,454.2 361.6,454.3 363.1,454.4 364.6,454.4 366.1,454.5 367.6,454.6 369.1,454.7 370.6,454.7 372.1,454.8 373.6,454.9 375.1,454.9 376.6,455.0 378.1,455.0 379.6,455.1 381.1,455.1 382.6,455.2 384.1,455.2 385.6,455.3 387.1,455.3 388.6,455.3 390.1,455.4 391.6,455.4 393.1,455.5 394.6,455.5 396.1,455.5 397.6,455.6 399.1,455.6 400.6,455.6 402.1,455.6 403.6,455.7 405.1,455.7 406.6,455.7 408.1,455.8 409.6,455.8 411.1,455.8 412.6,455.8 414.1,455.9 415.6,455.9 417.1,455.9 418.6,455.9 420.1,455.9 421.6,456.0 423.1,456.0 424.6,456.0 426.1,456.0 427.6,456.0 429.1,456.1 430.6,456.1 432.1,456.1 433.6,456.1 435.1,456.1 436.6,456.2 438.1,456.2 439.6,456.2 441.1,456.2 442.6,456.2 444.1,456.2 445.6,456.3 447.1,456.3 448.6,456.3 450.1,456.3 451.6,456.3 453.1,456.3 454.6,456.3 456.1,456.4 457.6,456.4 459.1,456.4 460.6,456.4 462.1,456.4 463.6,456.4 465.1,456.5 466.6,456.5 468.1,456.5 469.6,456.5 471.1,456.5 472.6,456.5 474.1,456.5 475.6,456.5 477.1,456.6 478.6,456.6 480.1,456.6 481.6,456.6 483.1,456.6 484.6,456.6 486.1,456.6 487.6,456.7 489.1,456.7 490.6,456.7 492.1,456.7 493.6,456.7 495.1,456.7 496.6,456.7 498.1,456.7 499.6,456.8 501.1,456.8 502.6,456.8 504.1,456.8 505.6,456.8 507.1,456.8 508.6,456.8 510.1,456.8 511.6,456.8 513.0,456.9 514.5,456.9 516.0,456.9 517.5,456.9 519.0,456.9 520.5,456.9 522.0,456.9 523.5,456.9 525.0,456.9 526.5,456.9 528.0,457.0 529.5,457.0 531.0,457.0 532.5,457.0 534.0,457.0 535.5,457.0 537.0,457.0 538.5,457.0 540.0,457.0 541.5,457.0 543.0,457.0 544.5,457.0 546.0,457.1 547.5,457.1 549.0,457.1 550.5,457.1 552.0,457.1 553.5,457.1 555.0,457.1 556.5,457.1 558.0,457.1 559.5,457.1 561.0,457.1 562.5,457.1 564.0,457.1 565.5,457.2 567.0,457.2 568.5,457.2 570.0,457.2 571.5,457.2 573.0,457.2 574.5,457.2 576.0,457.2 577.5,457.2 579.0,457.2 580.5,457.2 582.0,457.2 583.5,457.2 585.0,457.2 586.5,457.2 588.0,457.3 589.5,457.3 591.0,457.3 592.5,457.3 594.0,457.3 595.5,457.3 597.0,457.3 598.5,457.3 600.0,457.3 601.5,457.3 603.0,457.3 604.5,457.3 606.0,457.3 607.5,457.3 609.0,457.3 610.5,457.3 612.0,457.3 613.5,457.4 615.0,457.4 616.5,457.4 618.0,457.4 619.5,457.4 621.0,457.4 622.5,457.4 624.0,457.4 625.5,457.4 627.0,457.4 628.5,457.4 630.0,457.4 631.5,457.4 633.0,457.4 634.5,457.4 636.0,457.4 637.5,457.4 639.0,457.5 640.5,457.5 642.0,457.5 643.5,457.5 645.0,457.5 646.5,457.5 648.0,457.5 649.5,457.5 651.0,457.5 652.5,457.5 654.0,457.5 655.5,457.5 657.0,457.5 658.5,457.5 660.0,457.5 661.5,457.6 663.0,457.6 664.5,457.6 666.0,457.6 667.5,457.6 669.0,457.6 670.5,457.6 672.0,457.6" fill="none" stroke="#141414" stroke-width="3.4" stroke-linejoin="round"/>
<line x1="395" y1="68.5" x2="482" y2="68.5" stroke="#141414" stroke-width="3.5"/>
<line x1="395" y1="110" x2="482" y2="110" stroke="#c8404a" stroke-width="3.5"/>
<line x1="395" y1="151" x2="482" y2="151" stroke="#6aaa50" stroke-width="3.5"/>
<text x="489.5" y="80" font-family="Liberation Sans, sans-serif" font-size="31" fill="#3a3a3a">GO</text>
<text x="489.5" y="120" font-family="Liberation Sans, sans-serif" font-size="31" fill="#3a3a3a">GO−COOH</text>
<text x="489.5" y="159" font-family="Liberation Sans, sans-serif" font-size="31" fill="#3a3a3a">NGO−PEG</text>
<line x1="916" y1="43.5" x2="916" y2="457.5" stroke="#262626" stroke-width="3"/>
<line x1="1441.5" y1="43.5" x2="1441.5" y2="457.5" stroke="#262626" stroke-width="3"/>
<line x1="914.5" y1="43.5" x2="1329.5" y2="43.5" stroke="#262626" stroke-width="3"/>
<line x1="1341.5" y1="43.5" x2="1443.0" y2="43.5" stroke="#262626" stroke-width="3"/>
<line x1="914.5" y1="457.5" x2="1329.5" y2="457.5" stroke="#262626" stroke-width="3"/>
<line x1="1341.5" y1="457.5" x2="1443.0" y2="457.5" stroke="#262626" stroke-width="3"/>
<line x1="1325.5" y1="53.5" x2="1337.5" y2="33.5" stroke="#262626" stroke-width="3"/>
<line x1="1332.5" y1="53.5" x2="1344.5" y2="33.5" stroke="#262626" stroke-width="3"/>
<line x1="1325.5" y1="467.5" x2="1337.5" y2="447.5" stroke="#262626" stroke-width="3"/>
<line x1="1332.5" y1="467.5" x2="1344.5" y2="447.5" stroke="#262626" stroke-width="3"/>
<line x1="905" y1="100.9" x2="916" y2="100.9" stroke="#262626" stroke-width="3"/>
<line x1="909" y1="158.5" x2="916" y2="158.5" stroke="#262626" stroke-width="3"/>
<line x1="905" y1="216" x2="916" y2="216" stroke="#262626" stroke-width="3"/>
<line x1="909" y1="274" x2="916" y2="274" stroke="#262626" stroke-width="3"/>
<line x1="905" y1="331" x2="916" y2="331" stroke="#262626" stroke-width="3"/>
<line x1="909" y1="389" x2="916" y2="389" stroke="#262626" stroke-width="3"/>
<line x1="905" y1="447.5" x2="916" y2="447.5" stroke="#262626" stroke-width="3"/>
<line x1="916.0" y1="457.5" x2="916.0" y2="467.5" stroke="#262626" stroke-width="3"/>
<line x1="969.6" y1="457.5" x2="969.6" y2="463.5" stroke="#262626" stroke-width="3"/>
<line x1="1023.1" y1="457.5" x2="1023.1" y2="467.5" stroke="#262626" stroke-width="3"/>
<line x1="1076.7" y1="457.5" x2="1076.7" y2="463.5" stroke="#262626" stroke-width="3"/>
<line x1="1130.3" y1="457.5" x2="1130.3" y2="467.5" stroke="#262626" stroke-width="3"/>
<line x1="1183.9" y1="457.5" x2="1183.9" y2="463.5" stroke="#262626" stroke-width="3"/>
<line x1="1237.5" y1="457.5" x2="1237.5" y2="467.5" stroke="#262626" stroke-width="3"/>
<line x1="1291.0" y1="457.5" x2="1291.0" y2="463.5" stroke="#262626" stroke-width="3"/>
<line x1="1385.5" y1="457.5" x2="1385.5" y2="463.5" stroke="#262626" stroke-width="3"/>
<line x1="1441.5" y1="457.5" x2="1441.5" y2="467.5" stroke="#262626" stroke-width="3"/>
<text x="887" y="110.5" font-family="Liberation Sans, sans-serif" font-size="29.5" fill="#3a3a3a" text-anchor="end">800×10</text>
<text x="888.5" y="96.0" font-family="Liberation Sans, sans-serif" font-size="15" fill="#3a3a3a">3</text>
<text x="887" y="222.7" font-family="Liberation Sans, sans-serif" font-size="29.5" fill="#3a3a3a" text-anchor="end">200×10</text>
<text x="888.5" y="208.2" font-family="Liberation Sans, sans-serif" font-size="15" fill="#3a3a3a">3</text>
<text x="887" y="337.3" font-family="Liberation Sans, sans-serif" font-size="29.5" fill="#3a3a3a" text-anchor="end">100×10</text>
<text x="888.5" y="322.8" font-family="Liberation Sans, sans-serif" font-size="15" fill="#3a3a3a">3</text>
<text x="898" y="449.3" font-family="Liberation Sans, sans-serif" font-size="29.5" fill="#3a3a3a" text-anchor="end">0</text>
<text x="910.5" y="501.5" font-family="Liberation Sans, sans-serif" font-size="28.5" fill="#3a3a3a" text-anchor="middle">400</text>
<text x="1020" y="501.5" font-family="Liberation Sans, sans-serif" font-size="28.5" fill="#3a3a3a" text-anchor="middle">500</text>
<text x="1130" y="501.5" font-family="Liberation Sans, sans-serif" font-size="28.5" fill="#3a3a3a" text-anchor="middle">600</text>
<text x="1236.5" y="501.5" font-family="Liberation Sans, sans-serif" font-size="28.5" fill="#3a3a3a" text-anchor="middle">700</text>
<text x="1432" y="501.5" font-family="Liberation Sans, sans-serif" font-size="28.5" fill="#3a3a3a" text-anchor="middle">900</text>
<text x="1160.7" y="543.5" font-family="Liberation Sans, sans-serif" font-size="30.5" fill="#3a3a3a" text-anchor="middle">Wavelength (nm)</text>
<text x="0" y="0" font-family="Liberation Sans, sans-serif" font-size="31.5" fill="#3a3a3a" text-anchor="middle" transform="translate(760.5,270.5) rotate(-90)">Intensity (a.u.)</text>
<path d="M925.0,422.5 926.3,421.7 927.6,420.9 928.8,420.0 930.0,419.0 931.1,418.0 932.1,417.0 933.1,415.9 934.1,414.7 935.0,413.5 935.8,412.3 936.7,411.0 937.5,409.8 938.2,408.5 938.9,407.1 939.6,405.8 940.3,404.4 940.9,403.1 941.5,401.7 942.1,400.3 942.7,398.9 943.2,397.5 943.8,396.1 944.3,394.7 944.8,393.3 945.3,391.9 945.8,390.5 946.3,389.1 946.8,387.7 947.3,386.3 947.8,384.9 948.2,383.4 948.7,382.0 949.2,380.6 949.7,379.2 950.1,377.7 950.6,376.3 951.1,374.9 951.5,373.5 952.0,372.0 952.4,370.6 952.9,369.2 953.4,367.8 953.8,366.3 954.3,364.9 954.7,363.5 955.2,362.1 955.7,360.6 956.1,359.2 956.6,357.8 957.1,356.4 957.5,354.9 958.0,353.5 958.5,352.1 958.9,350.7 959.4,349.2 959.9,347.8 960.3,346.4 960.8,345.0 961.3,343.6 961.8,342.1 962.3,340.7 962.7,339.3 963.2,337.9 963.7,336.5 964.2,335.1 964.7,333.7 965.2,332.3 965.7,330.8 966.2,329.4 966.7,328.0 967.1,326.6 967.6,325.2 968.1,323.8 968.6,322.3 969.1,320.9 969.5,319.5 970.0,318.0 970.4,316.6 970.9,315.2 971.3,313.7 971.8,312.3 972.3,310.8 972.7,309.4 973.2,308.0 973.7,306.5 974.2,305.1 974.7,303.7 975.2,302.3 975.8,300.9 976.4,299.5 977.0,298.2 977.6,296.8 978.3,295.5 979.0,294.2 979.8,292.9 980.5,291.6 981.4,290.4 982.2,289.2 983.1,287.9 984.0,286.7 984.9,285.5 985.8,284.3 986.8,283.2 987.7,282.0 988.6,280.8 989.5,279.5 990.3,278.3 991.2,277.1 992.0,275.8 992.8,274.6 993.5,273.3 994.2,272.0 994.8,270.6 995.4,269.3 996.0,267.9 996.6,266.5 997.1,265.1 997.6,263.7 998.1,262.3 998.6,260.8 999.1,259.4 999.5,258.0 1000.0,256.5 1000.4,255.1 1000.9,253.6 1001.3,252.2 1001.8,250.7 1002.2,249.3 1002.7,247.9 1003.2,246.4 1003.7,245.0 1004.1,243.6 1004.7,242.2 1005.2,240.8 1005.7,239.4 1006.2,238.0 1006.7,236.6 1007.3,235.2 1007.8,233.8 1008.3,232.4 1008.9,231.0 1009.4,229.6 1010.0,228.2 1010.5,226.8 1011.1,225.4 1011.7,224.0 1012.2,222.7 1012.8,221.3 1013.4,219.9 1013.9,218.5 1014.5,217.1 1015.1,215.7 1015.6,214.3 1016.2,213.0 1016.8,211.6 1017.4,210.2 1018.0,208.8 1018.6,207.5 1019.2,206.1 1019.8,204.7 1020.4,203.4 1021.1,202.0 1021.7,200.6 1022.3,199.3 1023.0,197.9 1023.7,196.6 1024.3,195.3 1025.0,193.9 1025.7,192.6 1026.4,191.3 1027.1,189.9 1027.8,188.6 1028.5,187.3 1029.2,186.0 1029.9,184.7 1030.6,183.3 1031.4,182.0 1032.1,180.7 1032.8,179.4 1033.6,178.1 1034.3,176.8 1035.1,175.5 1035.8,174.2 1036.6,172.9 1037.3,171.6 1038.1,170.3 1038.9,169.0 1039.6,167.8 1040.4,166.5 1041.2,165.2 1042.0,164.0 1042.8,162.7 1043.7,161.5 1044.5,160.2 1045.3,159.0 1046.2,157.7 1047.0,156.5 1047.9,155.3 1048.8,154.1 1049.7,152.9 1050.6,151.7 1051.6,150.5 1052.5,149.3 1053.5,148.2 1054.5,147.0 1055.5,145.9 1056.5,144.8 1057.5,143.7 1058.6,142.7 1059.7,141.7 1060.9,140.7 1062.0,139.7 1063.2,138.8 1064.4,137.9 1065.6,137.1 1066.9,136.3 1068.2,135.5 1069.6,134.8 1070.9,134.1 1072.3,133.5 1073.7,132.9 1075.1,132.4 1076.5,131.9 1078.0,131.5 1079.4,131.1 1080.9,130.8 1082.4,130.6 1083.8,130.4 1085.3,130.2 1086.8,130.1 1088.3,130.0 1089.8,130.0 1091.3,130.0 1092.8,130.0 1094.4,130.0 1095.9,130.0 1097.4,130.1 1098.9,130.1 1100.4,130.2 1101.9,130.4 1103.4,130.6 1104.8,130.9 1106.2,131.4 1107.6,131.9 1109.0,132.4 1110.3,133.1 1111.6,133.8 1112.9,134.6 1114.2,135.5 1115.4,136.4 1116.6,137.3 1117.8,138.2 1119.0,139.2 1120.2,140.2 1121.4,141.2 1122.5,142.2 1123.7,143.2 1124.8,144.2 1125.9,145.2 1127.0,146.3 1128.0,147.3 1129.1,148.4 1130.1,149.5 1131.2,150.5 1132.2,151.6 1133.1,152.8 1134.1,153.9 1135.0,155.0 1135.9,156.2 1136.8,157.4 1137.7,158.6 1138.6,159.8 1139.4,161.0 1140.2,162.2 1141.0,163.5 1141.8,164.7 1142.6,166.0 1143.4,167.3 1144.1,168.6 1144.9,169.9 1145.6,171.2 1146.3,172.6 1147.0,173.9 1147.7,175.3 1148.4,176.6 1149.0,178.0 1149.7,179.4 1150.4,180.8 1151.0,182.2 1151.7,183.6 1152.3,185.0 1153.0,186.4 1153.6,187.8 1154.2,189.2 1154.8,190.7 1155.5,192.1 1156.1,193.5 1156.7,194.9 1157.3,196.3 1157.9,197.7 1158.4,199.1 1159.0,200.5 1159.6,201.9 1160.2,203.3 1160.7,204.7 1161.3,206.0 1161.8,207.4 1162.4,208.7 1162.9,210.0 1163.5,211.4 1164.0,212.6 1164.6,213.9 1165.1,215.2 1165.6,216.4 1166.1,217.7 1166.6,218.9 1167.1,220.1 1167.6,221.3 1168.1,222.5 1168.6,223.8 1169.1,225.0 1169.6,226.3 1170.0,227.6 1170.5,228.9 1170.9,230.2 1171.4,231.6 1171.8,233.0 1172.2,234.5 1172.6,236.0 1173.0,237.6 1173.4,239.2 1173.8,240.9 1174.1,242.7 1174.5,244.5 1174.8,246.4 1175.1,248.4 1175.5,250.5 1175.8,252.5 1176.1,254.6 1176.4,256.6 1176.8,258.5 1177.2,260.3 1177.6,262.0 1178.1,263.4 1178.6,264.5 1179.2,265.4 1179.8,265.9 1180.6,266.1 1181.4,265.8 1182.3,265.2 1183.3,264.3 1184.4,263.1 1185.5,261.8 1186.6,260.5 1187.8,259.2 1189.1,258.0 1190.3,256.9 1191.6,256.1 1192.9,255.5 1194.3,255.1 1195.7,255.0 1197.1,255.1 1198.5,255.6 1199.9,256.2 1201.2,257.0 1202.6,257.9 1203.8,258.9 1205.0,260.0 1206.1,261.2 1207.1,262.4 1208.1,263.6 1209.0,264.8 1209.8,266.1 1210.5,267.4 1211.2,268.7 1211.9,270.0 1212.5,271.4 1213.1,272.8 1213.7,274.1 1214.2,275.5 1214.8,276.9 1215.3,278.3 1215.9,279.7 1216.4,281.1 1217.0,282.4 1217.5,283.8 1218.1,285.2 1218.7,286.6 1219.2,288.0 1219.8,289.4 1220.3,290.8 1220.9,292.2 1221.5,293.6 1222.0,295.0 1222.6,296.3 1223.1,297.7 1223.7,299.1 1224.2,300.5 1224.8,301.9 1225.3,303.3 1225.9,304.7 1226.4,306.1 1226.9,307.5 1227.5,308.9 1228.0,310.3 1228.6,311.7 1229.1,313.1 1229.7,314.5 1230.2,315.9 1230.8,317.3 1231.3,318.7 1231.9,320.1 1232.5,321.5 1233.1,322.9 1233.7,324.2 1234.3,325.6 1234.9,327.0 1235.5,328.3 1236.1,329.7 1236.8,331.0 1237.4,332.4 1238.1,333.7 1238.8,335.0 1239.5,336.3 1240.2,337.7 1240.9,339.0 1241.7,340.3 1242.4,341.6 1243.1,342.9 1243.9,344.2 1244.6,345.5 1245.4,346.8 1246.1,348.1 1246.9,349.4 1247.6,350.7 1248.3,352.0 1249.1,353.3 1249.8,354.6 1250.5,356.0 1251.2,357.3 1251.9,358.6 1252.6,359.9 1253.3,361.3 1254.0,362.6 1254.7,364.0 1255.4,365.3 1256.1,366.6 1256.8,368.0 1257.5,369.3 1258.2,370.6 1258.9,371.9 1259.6,373.3 1260.3,374.6 1261.1,375.9 1261.8,377.1 1262.6,378.4 1263.4,379.7 1264.2,380.9 1265.0,382.2 1265.9,383.4 1266.7,384.6 1267.6,385.8 1268.5,387.0 1269.5,388.2 1270.4,389.3 1271.4,390.5 1272.3,391.6 1273.3,392.7 1274.3,393.9 1275.3,395.0 1276.4,396.1 1277.4,397.2 1278.4,398.3 1279.4,399.4 1280.5,400.5 1281.5,401.6 1282.5,402.7 1283.6,403.8 1284.6,404.8 1285.7,405.9 1286.8,406.9 1287.9,408.0 1289.0,409.0 1290.1,410.0 1291.2,411.0 1292.3,411.9 1293.5,412.9 1294.7,413.8 1295.9,414.6 1297.1,415.5 1298.4,416.3 1299.7,417.1 1300.9,417.9 1302.2,418.6 1303.5,419.4 1304.9,420.1 1306.2,420.8 1307.6,421.4 1308.9,422.1 1310.3,422.8 1311.6,423.4 1313.0,424.0 1314.4,424.6 1315.8,425.2 1317.2,425.8 1318.6,426.4 1320.0,427.0 1321.4,427.5 1322.8,428.1 1324.1,428.7 1325.5,429.2 1326.9,429.8 1328.3,430.4 1329.6,430.9 1331.0,431.5" fill="none" stroke="#141414" stroke-width="3.8" stroke-linejoin="round"/>
<path d="M925.0,409.4 926.0,407.8 927.0,407.2 927.9,406.4 928.7,405.5 929.4,403.4 930.1,401.5 930.7,399.8 931.3,399.4 931.8,398.6 932.3,396.1 932.7,393.5 933.1,392.1 933.5,392.4 933.9,389.8 934.3,386.9 934.6,386.5 935.0,384.2 935.4,383.0 935.7,381.5 936.1,379.8 936.5,379.1 936.8,377.1 937.2,375.2 937.5,374.3 937.9,373.1 938.2,369.8 938.6,369.2 938.9,367.1 939.2,366.1 939.5,363.8 939.8,363.1 940.1,361.5 940.3,359.8 940.6,357.7 940.8,356.5 941.1,354.5 941.3,352.7 941.6,352.2 941.8,349.7 942.1,349.7 942.4,347.8 942.7,344.4 943.0,344.4 943.3,341.9 943.7,341.1 944.1,339.6 944.6,336.6 945.0,336.3 945.5,334.8 946.1,334.1 946.6,331.1 947.1,331.0 947.7,328.2 948.2,327.2 948.8,325.4 949.3,325.5 949.9,323.3 950.4,323.1 950.9,320.3 951.3,318.9 951.8,317.4 952.2,314.9 952.6,313.7 953.1,313.1 953.5,310.4 953.9,309.2 954.2,307.5 954.6,306.4 955.0,304.2 955.3,302.8 955.7,301.5 956.1,299.8 956.4,297.6 956.8,297.3 957.1,294.2 957.5,292.7 957.8,291.1 958.2,291.2 958.5,288.7 958.9,286.7 959.2,285.0 959.6,284.6 960.0,282.0 960.3,280.3 960.7,280.0 961.1,277.2 961.5,276.3 961.9,274.9 962.3,273.0 962.7,271.7 963.1,271.1 963.5,268.2 964.0,266.1 964.4,264.1 964.9,263.7 965.3,262.0 965.8,260.9 966.2,258.8 966.7,257.3 967.1,255.6 967.6,254.2 968.0,253.2 968.5,251.4 968.9,250.3 969.4,250.2 969.8,247.8 970.2,245.0 970.7,246.0 971.1,243.6 971.5,241.3 972.0,241.2 972.4,239.1 972.9,237.1 973.4,235.5 973.8,233.5 974.3,232.4 974.9,231.2 975.4,228.2 976.0,226.7 976.5,225.7 977.1,221.6 977.7,220.9 978.3,219.0 979.0,217.4 979.6,216.9 980.2,217.5 980.8,218.4 981.4,218.7 982.0,220.6 982.6,222.8 983.2,224.5 983.7,227.1 984.1,229.0 984.5,231.2 984.9,234.2 985.2,235.1 985.5,236.2 985.8,237.6 986.1,236.9 986.3,237.1 986.5,237.1 986.7,235.8 986.9,234.8 987.1,231.9 987.3,228.8 987.5,228.9 987.7,226.1 987.9,222.4 988.1,222.1 988.3,219.3 988.5,216.3 988.7,215.6 989.0,214.1 989.3,214.1 989.6,211.1 989.9,210.1 990.3,208.6 990.7,207.1 991.2,205.3 991.7,204.7 992.2,203.8 992.8,202.0 993.3,199.4 993.9,197.8 994.6,197.2 995.2,195.1 995.8,193.6 996.5,191.4 997.2,192.4 997.9,190.2 998.6,187.3 999.3,187.1 1000.0,186.0 1000.7,181.9 1001.4,181.7 1002.1,180.3 1002.8,179.6 1003.5,177.6 1004.2,176.1 1004.9,174.8 1005.7,174.7 1006.4,173.5 1007.1,170.2 1007.8,168.5 1008.5,169.6 1009.2,165.7 1010.0,164.5 1010.7,163.5 1011.4,162.5 1012.1,161.4 1012.9,159.6 1013.6,157.3 1014.3,156.8 1015.1,155.2 1015.8,155.0 1016.6,152.2 1017.3,149.9 1018.1,148.7 1018.9,149.0 1019.7,146.2 1020.4,143.7 1021.2,143.4 1022.0,142.4 1022.8,141.9 1023.7,139.0 1024.5,138.8 1025.3,137.5 1026.2,135.1 1027.1,134.2 1028.0,134.2 1028.9,132.9 1029.9,131.0 1030.9,129.4 1031.9,128.8 1033.1,126.7 1034.2,125.6 1035.5,124.0 1036.8,123.6 1038.2,122.5 1039.6,123.7 1041.1,120.9 1042.6,121.4 1044.1,121.0 1045.6,119.8 1047.1,120.9 1048.6,118.8 1050.1,120.9 1051.6,122.0 1053.0,120.5 1054.4,122.3 1055.9,124.8 1057.2,124.9 1058.6,125.5 1059.9,127.1 1061.1,128.1 1062.3,130.2 1063.5,131.2 1064.7,131.8 1065.8,132.7 1066.8,134.4 1067.9,136.5 1068.9,137.1 1069.9,138.5 1070.9,139.2 1071.8,139.6 1072.7,141.3 1073.6,143.5 1074.5,144.4 1075.4,145.0 1076.3,145.8 1077.2,148.3 1078.0,149.3 1078.9,150.7 1079.7,152.0 1080.5,153.8 1081.4,155.2 1082.2,157.0 1083.0,158.4 1083.8,160.1 1084.6,161.1 1085.4,161.7 1086.2,163.3 1087.0,165.1 1087.8,165.9 1088.6,167.9 1089.4,169.7 1090.2,169.8 1091.0,170.5 1091.8,173.9 1092.6,174.5 1093.4,176.4 1094.2,176.3 1095.0,179.9 1095.8,180.5 1096.6,181.3 1097.4,182.5 1098.3,184.2 1099.1,185.4 1099.9,186.7 1100.7,187.4 1101.6,190.5 1102.4,190.9 1103.3,192.3 1104.1,193.7 1105.0,193.3 1105.9,196.7 1106.7,197.4 1107.6,198.8 1108.5,200.4 1109.4,201.0 1110.3,203.6 1111.2,203.8 1112.1,205.0 1113.0,206.4 1113.8,208.4 1114.7,210.2 1115.6,210.5 1116.5,211.2 1117.4,214.4 1118.3,214.2 1119.2,217.1 1120.1,217.5 1121.0,218.4 1121.9,219.8 1122.8,221.9 1123.6,223.5 1124.5,224.1 1125.4,226.2 1126.2,228.4 1127.1,228.1 1127.9,228.8 1128.8,230.2 1129.6,231.3 1130.4,233.2 1131.2,234.5 1132.1,235.5 1132.9,238.1 1133.7,237.3 1134.5,239.6 1135.3,243.3 1136.1,244.0 1136.9,245.0 1137.7,246.4 1138.5,248.7 1139.4,249.2 1140.2,250.3 1141.0,250.8 1141.8,253.1 1142.6,254.0 1143.4,255.5 1144.2,256.9 1145.0,258.8 1145.8,260.0 1146.6,262.2 1147.4,262.1 1148.2,264.3 1149.1,267.1 1149.9,267.2 1150.7,269.3 1151.6,270.6 1152.4,272.0 1153.2,272.9 1154.1,272.7 1155.0,274.8 1155.8,275.9 1156.7,276.3 1157.6,278.2 1158.4,278.9 1159.3,279.8 1160.2,282.3 1161.1,283.3 1161.9,284.1 1162.8,285.2 1163.6,286.7 1164.5,288.2 1165.3,289.5 1166.1,291.2 1166.9,292.4 1167.6,294.6 1168.4,296.3 1169.1,297.9 1169.8,299.0 1170.5,300.9 1171.1,303.6 1171.8,305.2 1172.4,307.3 1173.0,307.5 1173.7,309.3 1174.3,313.2 1175.0,314.9 1175.7,317.2 1176.4,318.0 1177.1,318.7 1177.9,319.4 1178.8,318.9 1179.7,320.6 1180.7,319.4 1181.8,319.6 1182.9,318.6 1184.0,317.6 1185.2,316.8 1186.5,314.5 1187.8,313.1 1189.1,311.4 1190.4,310.3 1191.7,310.5 1193.1,307.9 1194.5,308.0 1195.8,306.9 1197.2,306.2 1198.6,305.8 1200.0,304.3 1201.4,305.3 1202.8,306.4 1204.2,305.3 1205.6,306.5 1207.0,306.9 1208.4,308.6 1209.7,308.7 1211.0,311.8 1212.3,311.7 1213.5,312.2 1214.7,315.9 1215.8,316.7 1216.9,317.7 1218.0,319.1 1219.0,319.8 1219.9,321.2 1220.9,323.2 1221.8,324.7 1222.7,326.1 1223.5,326.9 1224.4,327.7 1225.2,329.2 1226.1,331.4 1226.9,333.0 1227.8,333.0 1228.6,334.2 1229.5,336.7 1230.3,337.6 1231.2,338.8 1232.2,338.6 1233.1,340.5 1234.1,341.6 1235.1,343.4 1236.1,343.2 1237.1,346.5 1238.2,347.0 1239.2,348.3 1240.3,348.4 1241.4,350.4 1242.5,352.5 1243.6,351.7 1244.7,354.2 1245.8,355.6 1246.8,355.9 1247.9,358.1 1249.0,358.5 1250.0,360.9 1251.0,361.6 1252.0,362.6 1253.0,365.2 1254.0,365.6 1255.0,367.2 1256.0,366.7 1256.9,368.4 1257.9,370.7 1258.8,372.0 1259.8,372.6 1260.7,374.5 1261.7,374.5 1262.6,376.6 1263.6,377.0 1264.6,379.3 1265.6,379.9 1266.6,381.1 1267.6,382.8 1268.6,385.3 1269.7,384.5 1270.8,386.0 1271.8,388.4 1272.9,388.5 1274.0,391.2 1275.2,391.2 1276.3,392.3 1277.5,393.5 1278.7,395.6 1279.9,395.9 1281.1,396.8 1282.4,397.6 1283.6,397.3 1284.9,398.7 1286.2,401.2 1287.6,401.7 1288.9,402.3 1290.3,403.2 1291.6,403.2 1293.0,404.6 1294.4,404.5 1295.9,406.2 1297.3,406.1 1298.7,407.2 1300.2,408.4 1301.6,408.5 1303.1,409.9 1304.6,410.4 1306.0,411.0 1307.5,412.3 1309.0,411.0 1310.5,411.5 1312.0,413.7 1313.5,414.5 1315.0,415.9 1316.4,415.7 1317.9,416.3 1319.4,415.7 1320.9,417.5 1322.3,418.1 1323.8,417.5 1325.3,418.2 1326.7,419.4 1328.2,420.4 1329.6,418.8 1331.0,421.5" fill="none" stroke="#cc3038" stroke-width="3.6" stroke-linejoin="round"/>
<path d="M1341.0,435.0 1341.9,436.3 1342.9,437.4 1343.9,438.5 1345.1,439.4 1346.3,440.2 1347.6,440.9 1349.0,441.5 1350.4,442.0 1351.8,442.5 1353.2,442.9 1354.7,443.2 1356.2,443.5 1357.7,443.8 1359.2,444.0 1360.7,444.2 1362.1,444.4 1363.6,444.5 1365.1,444.6 1366.6,444.7 1368.1,444.8 1369.6,444.8 1371.0,444.9 1372.5,444.9 1374.0,445.0 1375.5,445.0 1377.0,445.0 1378.5,445.1 1380.0,445.1 1381.4,445.2 1382.9,445.2 1384.4,445.2 1385.9,445.3 1387.4,445.3 1388.9,445.3 1390.4,445.4 1391.9,445.4 1393.3,445.5 1394.8,445.5 1396.3,445.5 1397.8,445.6 1399.3,445.6 1400.8,445.6 1402.3,445.7 1403.8,445.7 1405.3,445.7 1406.8,445.7 1408.2,445.8 1409.7,445.8 1411.2,445.8 1412.7,445.8 1414.2,445.9 1415.7,445.9 1417.2,445.9 1418.7,445.9 1420.2,445.9 1421.7,446.0 1423.1,446.0 1424.6,446.0 1426.1,446.0 1427.6,446.0 1429.1,446.0 1430.6,446.0 1432.1,446.0 1433.6,446.0 1435.1,446.0 1436.5,446.0 1438.0,446.0 1439.5,446.0 1441.0,446.0" fill="none" stroke="#141414" stroke-width="3.8"/>
<path d="M1341.0,434.3 1341.9,435.5 1343.0,436.9 1344.1,438.0 1345.4,438.4 1346.7,439.8 1348.1,440.2 1349.6,440.6 1351.1,441.6 1352.6,442.5 1354.1,441.7 1355.7,442.0 1357.3,442.3 1358.9,444.0 1360.4,443.3 1362.0,443.5 1363.6,443.4 1365.2,443.4 1366.7,443.1 1368.3,444.1 1369.9,444.2 1371.5,443.3 1373.1,443.7 1374.6,443.9 1376.2,444.2 1377.8,444.4 1379.4,444.8 1380.9,444.9 1382.5,444.8 1384.1,445.0 1385.7,444.0 1387.3,444.3 1388.8,445.0 1390.4,444.7 1392.0,444.6 1393.6,443.9 1395.2,443.9 1396.7,445.0 1398.3,444.9 1399.9,444.7 1401.5,444.7 1403.1,444.2 1404.6,445.0 1406.2,445.3 1407.8,445.6 1409.4,445.0 1411.0,444.9 1412.6,444.6 1414.1,445.6 1415.7,445.8 1417.3,444.9 1418.9,445.2 1420.5,445.2 1422.0,444.9 1423.6,444.2 1425.2,445.0 1426.8,445.4 1428.4,444.6 1429.9,444.9 1431.5,443.9 1433.1,445.7 1434.7,445.4 1436.3,445.2 1437.8,445.1 1439.4,445.0 1441.0,445.2" fill="none" stroke="#c83440" stroke-width="3.4"/>
<line x1="1146" y1="72" x2="1242.5" y2="72" stroke="#141414" stroke-width="3.6"/>
<line x1="1146" y1="117" x2="1242.5" y2="117" stroke="#c8404a" stroke-width="3.6"/>
<text x="1251.5" y="85.5" font-family="Liberation Sans, sans-serif" font-size="31.5" fill="#3a3a3a">GO</text>
<text x="1251.5" y="128.5" font-family="Liberation Sans, sans-serif" font-size="31.5" fill="#3a3a3a">NGO−PEG</text>
<defs><clipPath id="clipc"><rect x="306" y="636" width="822" height="350.5"/></clipPath>
<filter id="blurc" x="-2%" y="-5%" width="104%" height="110%"><feGaussianBlur stdDeviation="2.0"/></filter></defs>
<g clip-path="url(#clipc)"><g filter="url(#blurc)" shape-rendering="crispEdges" stroke-width="4" fill="none">
<path stroke="#f2d715" d="M300 632h4m56 4h4m-8 20h4m-56 4h4m56 0h4m-32 4h4m12 4h4m-40 4h4m28 4h4m16 4h4m-28 12h4m16 0h4m-20 8h4m-44 8h4m-8 8h4m44 12h4m8 4h4m0 48h4m0 8h4m-16 8h4m8 4h4m-4 12h4m4 28h4m-16 4h4m-8 60h4m4 20h4m-4 4h4m-4 4h4m-4 4h4m-4 4h4m0 8h4m0 8h4m0 20h4m-4 4h4"/>
<path stroke="#f4c011" d="M304 632h8m44 4h4m-40 4h4m16 0h4m-28 24h4m-4 4h4m24 8h4m20 8h4m-12 4h4m-36 24h4m20 12h4m-44 4h4m44 32h4m4 0h8m-16 8h8m0 8h4m-8 4h4m0 12h4m-16 4h4m8 0h4m-16 4h4m8 4h4m0 20h4m0 8h4m-4 4h4m-16 4h12m-12 12h4m-4 4h4m-8 36h4m-4 8h4m0 8h4m0 16h4m-4 24h4m-4 4h8m0 4h4m4 32h4"/>
<path stroke="#f4af12" d="M312 632h8m-20 28h4m16 24h4m16 4h4m24 0h4m-24 16h4m-48 20h4m8 0h4m-4 4h4m-12 4h4m36 16h4m16 16h4m-12 8h4m8 0h4m-16 32h4m4 4h4m-8 16h8m-8 4h4m4 0h4m-12 4h4m4 4h4m-16 4h4m-4 48h4m0 28h4m0 16h4m-4 4h4m-4 4h4m-8 8h4m0 8h4m4 4h4m0 8h4"/>
<path stroke="#f3cf14" d="M320 632h4m8 0h4m-24 8h4m28 4h4m0 4h4m-36 4h4m28 0h4m-36 4h4m32 8h4m-56 8h4m48 0h4m-52 4h4m36 4h4m-36 16h4m52 0h4m-24 40h4m12 0h4m-16 12h12m0 4h4m0 4h4m4 8h4m-4 4h4m-12 20h4m-12 4h8m-4 4h4m4 20h4m-4 4h4m0 4h4m-8 20h8m-16 40h4m0 32h4m0 28h4m-4 4h4m0 4h4"/>
<path stroke="#d6e11c" d="M324 632h4m16 0h4m-4 4h4m4 4h4m-44 4h4m36 4h4m24 0h4m-8 4h4m-32 4h4m12 0h4m-28 4h4m24 4h4m-64 4h4m-12 12h4m48 12h8m-8 8h4m-52 12h4m44 20h8m-8 8h4m20 36h4m0 44h4m0 20h4m-20 16h4m-4 8h4m0 16h4m-8 4h4m-4 20h4m8 16h4m4 60h4"/>
<path stroke="#c7dc1e" d="M328 632h4m0 4h4m20 16h4m0 4h4m16 0h4m-16 12h4m-4 4h4m-56 4h4m52 8h4m-60 4h4m-12 4h4m36 0h4m8 0h4m-16 4h4m4 4h4m8 0h4m-64 4h4m52 0h4m-12 4h4m-60 4h4m68 20h4m-20 4h4m-4 4h4m16 40h4m-4 8h4m-4 4h4m-4 4h4m-4 4h4m-4 16h4m4 20h4m-8 12h4m-8 4h4m-12 8h4m0 16h4m-4 8h4m-4 28h4m0 4h8m0 16h4m-4 4h4m-4 4h4m-4 4h4m-4 12h4m0 20h4"/>
<path stroke="#f3a613" d="M336 632h4m-16 16h4m12 0h4m-44 20h4m32 0h4m-4 16h4m12 4h4m-32 16h4m20 4h4m-44 4h4m8 0h4m24 0h4m-32 4h12m-24 8h8m-16 4h8m40 0h4m-36 4h4m24 0h4m-4 4h4m8 20h4m12 8h4m-8 4h4m-4 4h4m-20 24h4m-4 4h4m0 4h4m4 4h4m-4 12h8m-12 8h4m4 0h4m0 4h4m-8 4h4m-12 8h4m0 20h4m-12 32h4m-4 4h4m4 20h4m-4 36h4m12 16h4m-4 4h4m-4 8h4m-4 4h4"/>
<path stroke="#f5b810" d="M340 632h4m16 0h4m-52 4h4m20 0h8m-24 8h4m-8 4h4m24 0h4m-4 4h4m-8 4h4m-8 4h4m24 4h4m-64 8h4m32 8h4m4 0h4m-4 4h4m12 4h4m-52 4h4m48 0h4m-28 4h4m-36 8h4m12 4h4m-28 12h4m-8 4h4m4 4h4m0 4h4m32 12h4m0 8h12m-4 4h4m0 16h4m-4 4h4m-8 12h4m-8 4h4m4 12h4m-8 28h4m-4 4h8m-4 24h4m-4 20h4m-8 24h4m0 8h4m0 16h4m-4 16h4m-8 8h4m4 4h4m4 8h4m-8 28h8"/>
<path stroke="#b8d820" d="M348 632h4m-20 8h4m12 0h4m0 4h8m16 4h4m-8 8h8m-72 4h4m0 4h4m32 8h4m-48 12h4m0 12h4m48 0h4m8 4h4m-16 8h4m-8 12h4m-8 16h4m12 4h4m4 44h4m-4 20h4m4 24h4m-4 4h4m-4 12h4m-16 12h4m-4 16h4m-8 16h8m-8 12h4m8 12h4m0 16h4m-4 20h4m-4 4h4m0 20h4m0 16h4m-4 4h4"/>
<path stroke="#f3c713" d="M352 632h4m-36 4h4m12 4h4m-4 4h8m8 12h4m-40 4h4m32 0h4m4 0h4m-24 24h4m-32 16h4m8 8h4m-4 4h4m-28 8h4m48 0h4m-8 12h4m-4 8h4m12 16h4m-4 4h4m-8 4h8m4 12h4m-12 8h4m-4 4h4m4 4h4m-4 4h4m-16 4h12m4 28h4m-4 12h4m-16 4h4m-4 4h4m0 24h4m-4 4h4m-12 20h4m4 24h4m8 40h4m0 24h4m-4 8h4"/>
<path stroke="#f19316" d="M356 632h4m-44 12h4m16 4h4m0 4h4m-44 12h4m0 4h4m32 4h4m-8 8h4m-20 8h4m20 12h4m-20 4h4m0 8h4m-4 4h4m-28 4h4m8 0h4m16 12h4m-32 4h4m24 0h4m0 4h4m4 16h4m0 8h4m0 16h4m-12 12h4m4 20h12m-12 4h12m-12 4h4m-8 12h4m-4 12h4m0 4h4m0 20h4m-8 16h4m-8 8h4m-4 12h4m4 24h4m-4 16h4m8 44h4"/>
<path stroke="#81c92a" d="M364 632h4m-44 4h4m-20 4h4m0 12h4m56 12h4m-64 4h4m72 8h4m-84 8h4m64 12h4m-76 4h4m68 0h4m-76 4h4m72 4h4m-4 4h4m-12 8h4m-4 4h4m-8 4h4m8 28h4m-4 16h4m-4 36h4m-4 4h4m-4 44h4m-8 4h8m-4 4h8m-12 8h4m0 8h4m-4 4h4m0 12h4m0 36h4m-4 12h4m-4 12h4m0 8h8m0 16h4m-4 4h4"/>
<path stroke="#5bc071" d="M368 632h4m12 0h4m24 0h4m8 0h4m-60 8h4m40 0h4m12 16h4m-20 8h4m16 0h4m-4 4h4m-4 4h4m-16 12h4m-4 4h8m-40 4h4m28 0h8m-4 4h4m-4 4h4m-24 4h4m16 0h4m-8 4h4m-4 16h4m0 8h4m-4 4h4m-4 4h4m-4 28h4m0 44h4m0 8h4m-4 4h4m-8 4h4m-12 12h4m-4 4h4m0 4h4m0 12h4m-4 4h4m-4 4h4m0 52h8m0 16h4m-4 4h8m0 16h4m-4 4h4m-4 4h4m-4 4h4m-4 12h4"/>
<path stroke="#5fc4e8" d="M372 632h4m64 0h4m20 16h4m-8 4h4m4 0h4m-12 4h4m4 0h4m-12 4h4m-4 4h4m-16 4h4m4 0h4m4 4h4m-36 12h4m24 0h4m-28 4h4m8 0h4m8 0h4m-12 4h4m-24 8h4m0 16h4m0 4h4m8 0h4m4 0h4m-12 28h4m0 4h4m-16 8h8m-8 4h8m-8 4h8m-8 4h4m16 0h4m-24 4h4m16 0h4m-24 4h8m12 0h4m-16 8h4m-4 4h4m-4 4h4m-4 4h12m-20 8h4m16 0h4m-20 4h4m12 0h4m-4 4h4m-12 4h12m-4 4h8m-28 4h4m0 8h4m4 8h4m-12 12h4m4 0h4m-4 4h4m-8 8h4m4 4h8m-8 4h8m-20 16h4m4 24h4m-4 4h4m-4 4h8m-4 4h4m0 4h4m0 8h4m-4 4h4m-4 12h4m0 4h8m-8 4h4m-4 16h8m-16 4h4m12 0h4m-20 4h4m-4 4h4m20 0h4"/>
<path stroke="#62c6e8" d="M376 632h4m68 0h4m-80 4h4m80 0h4m-20 4h4m0 4h4m-4 16h4m-4 4h4m12 4h4m0 8h4m-8 4h4m-20 8h4m8 4h4m-8 16h8m-8 4h4m4 0h4m-12 4h4m4 0h4m-28 4h4m8 24h4m-16 4h8m-8 4h8m8 0h4m-16 4h12m4 0h4m-4 4h4m0 8h4m-16 4h4m-12 4h4m4 0h4m0 4h4m-12 4h12m-8 4h4m-8 16h12m8 0h4m-20 4h4m-12 4h4m-4 4h4m8 0h4m-12 16h4m4 8h4m0 8h4m-16 4h16m-16 4h4m4 0h4m-8 4h8m-4 4h4m-8 24h4m-8 4h4m0 4h4m0 4h4m0 4h4m-4 4h4m-4 4h4m-8 4h4m-4 4h4m0 8h4m4 8h4m0 12h4m-4 4h4m-8 4h4m-4 4h4m8 4h4m-12 4h12m-4 4h4m-12 4h12m-16 4h4m-8 4h4m-4 4h4m-4 4h4"/>
<path stroke="#62c4a0" d="M380 632h4m36 4h12m0 4h4m0 4h4m-4 20h4m0 8h4m-12 4h8m-12 4h4m12 0h4m-8 4h4m-16 20h4m-4 4h4m-8 4h8m-8 12h4m0 8h4m8 0h4m-16 4h4m-4 4h4m-4 4h4m-4 20h4m0 4h4m-4 4h4m-4 4h4m-4 4h4m-4 4h4m-4 4h4m-4 24h4m-4 20h4m-4 4h4m-8 4h8m-8 4h8m-8 4h4m4 16h4m-8 8h4m-4 36h8m0 4h4m0 12h4m0 8h4m0 4h4m-4 4h4m-4 4h4m-4 4h4m-4 4h4m-4 32h4m-4 4h4m-4 4h4"/>
<path stroke="#58bf62" d="M388 632h4m16 0h4m-4 4h4m4 8h4m0 8h4m-16 12h4m8 16h8m-12 4h4m4 0h4m-44 4h8m24 0h4m-36 4h4m32 4h4m-20 4h4m0 4h4m4 8h4m-4 4h4m-8 4h8m-12 4h12m-4 4h8m-8 4h8m-4 4h4m-4 4h4m-4 24h4m-4 4h4m0 4h4m-4 4h4m-4 4h4m-4 4h4m0 32h4m-4 4h4m-4 4h4m-8 8h4m-4 36h4m-4 4h4m-4 4h4m0 32h4m-4 4h4m-4 8h4m-8 4h16m-16 4h8m4 0h4m-16 4h4m8 0h4m-4 4h4m-4 4h4m-8 4h8m4 0h4m-8 28h8m0 12h4"/>
<path stroke="#56be52" d="M392 632h4m8 0h4m0 8h4m12 16h4m-20 4h8m12 0h4m-20 8h4m12 4h4m-12 4h8m-12 4h4m-4 12h4m-32 4h4m28 4h4m-4 4h4m-8 4h4m-8 8h4m-8 4h4m-4 8h8m0 8h4m0 8h4m-12 16h4m4 0h4m-12 4h8m-4 4h4m0 4h4m0 16h4m-4 4h4m-4 36h4m-8 8h4m-4 12h4m0 4h4m-4 12h4m-4 16h4m-4 8h4m-4 4h4m-4 4h4m0 20h4m-8 4h4m4 8h4m-8 4h8m-8 4h8m-4 4h4m4 4h4m-12 4h8m4 0h4m-16 4h4m-4 4h4m-4 4h4m0 8h12m-12 4h4m0 4h8m0 12h4m-4 4h4"/>
<path stroke="#55be4d" d="M396 632h8m-20 4h4m16 0h4m-32 4h4m24 0h4m-104 8h4m108 16h4m-12 4h4m16 0h4m-12 4h8m-36 20h4m-12 4h4m28 0h4m-12 4h4m4 0h4m-4 4h4m-12 4h8m-4 4h4m-12 12h4m4 8h4m0 8h4m-12 4h4m-4 4h4m8 0h4m-12 4h4m4 0h4m-12 4h4m4 0h4m-16 4h4m4 0h4m-12 4h4m0 4h4m4 8h4m0 20h4m-4 4h4m-4 4h4m-4 4h4m-4 4h4m-4 4h4m-4 4h4m-4 4h4m-4 32h4m-4 4h4m-8 8h4m0 16h4m-4 16h4m-20 4h4m0 4h4m0 4h4m-4 4h12m-8 4h4m0 16h4m0 4h4m8 8h4m-8 4h4m4 0h4m-12 8h4m-8 4h8m4 16h4"/>
<path stroke="#5dc281" d="M416 632h8m4 0h4m-64 4h4m8 0h4m28 0h4m-44 4h4m40 0h4m12 4h4m-4 4h4m-4 12h4m-8 16h4m8 4h4m-20 28h4m-8 4h4m-4 4h4m-4 4h4m0 8h4m-4 16h4m-4 4h4m-4 4h4m-4 4h4m-4 4h4m-4 4h4m0 8h4m-4 4h4m-4 12h4m-4 4h4m-4 4h4m0 32h4m-8 4h4m-8 4h4m0 20h4m-4 16h4m-4 32h4m0 12h8m0 8h4m-4 4h4m-4 4h4m0 4h4m0 8h4m-4 4h4m-4 4h4m-4 20h4m-4 4h4"/>
<path stroke="#63c6bd" d="M432 632h4m-4 4h4m-16 4h4m4 4h4m4 8h4m-4 4h4m-4 4h4m0 8h4m12 12h4m-32 4h4m12 0h4m-20 4h4m-4 4h4m-4 4h4m-4 24h4m-4 4h4m12 0h4m-4 4h4m-12 4h4m-4 4h4m-8 4h8m-8 4h4m-8 8h4m-4 4h4m0 4h4m0 4h4m-4 4h4m-4 16h4m-4 4h4m-4 4h4m-8 8h4m-4 4h4m-4 4h4m0 8h4m-4 12h4m-4 4h4m-4 4h4m0 8h4m-8 4h4m-8 4h4m0 4h4m-4 16h4m-8 8h4m-4 16h4m-4 4h8m4 4h4m-4 4h4m-4 8h4m0 8h4m0 8h4m0 4h4m-4 12h4m-8 12h4m-4 4h4m4 4h4m-8 4h8"/>
<path stroke="#64c8e8" d="M436 632h4m16 0h4m-24 4h4m12 0h4m-12 12h4m-8 4h8m16 0h4m-28 4h8m16 0h4m-24 12h4m0 4h16m-4 4h4m-32 28h4m20 12h4m-16 4h8m-16 4h4m8 4h4m-8 8h4m-4 4h4m-8 4h8m-4 4h8m-20 4h4m8 0h8m-16 4h4m12 0h4m-16 4h4m8 0h4m-4 4h8m-20 4h4m8 0h8m-20 4h4m8 0h4m4 0h4m-12 4h4m-16 4h4m12 4h8m-20 4h4m0 4h4m-4 4h4m-8 4h8m-12 4h4m12 0h8m-24 4h4m16 8h4m-24 4h4m-4 4h4m-4 4h4m-4 4h4m0 4h4m0 4h4m-4 4h8m-12 4h12m-12 12h4m-4 4h8m-8 4h8m-4 4h4m-4 4h4m-4 8h4m-8 4h4m-8 4h4m0 4h4m4 16h4m-4 12h4m4 8h4m0 8h4m-4 4h4m-4 4h4m-8 4h8m-8 4h4m0 8h4m0 8h8m-12 4h4m-8 4h4"/>
<path stroke="#5dc2e8" d="M444 632h4m-8 4h4m8 4h8m-12 8h4m8 0h4m-16 4h4m12 8h4m8 4h4m-28 4h4m8 12h4m-28 12h4m16 0h4m-32 4h4m20 0h4m-12 8h8m4 4h4m-28 4h4m24 0h4m-20 4h4m12 0h4m-12 4h4m-8 4h4m-8 8h4m-4 8h4m4 8h4m0 16h4m0 20h4m-12 4h8m0 12h4m-24 12h4m-4 4h8m-8 4h12m12 0h4m-28 4h4m12 0h4m0 4h4m-20 4h4m4 8h4m0 12h4m-4 4h4m-8 8h4m-4 4h8m-12 4h8m-8 4h4m8 4h4m-16 16h4m0 4h4m0 12h4m-4 4h4m-4 4h4m0 8h4m0 4h4m-4 4h4m0 12h4m-4 4h4m-4 4h8m-12 4h4m8 0h4m-16 4h4m8 0h4m-16 16h4m8 0h4m-12 4h8m4 0h4m-20 4h4m12 0h8m-24 4h4m12 0h4m4 0h4"/>
<path stroke="#64c7da" d="M452 632h4m-80 4h4m44 8h4m12 0h4m-4 4h4m-4 12h4m-12 20h4m0 4h4m0 4h4m8 0h8m-4 24h4m-28 12h4m4 0h4m4 0h4m-20 4h4m-4 4h4m8 0h4m-12 12h4m-8 4h4m-4 8h4m4 8h4m12 8h4m-4 4h8m-8 4h8m-24 4h4m-4 4h4m0 4h4m-4 4h4m-8 4h4m-8 4h4m-4 4h4m12 0h4m4 0h4m-12 4h4m4 0h4m-8 4h4m-20 20h4m0 4h4m-4 4h4m-8 8h4m-4 4h4m-4 12h4m-4 4h8m-8 4h4m4 4h4m-16 4h4m-4 4h8m-8 4h4m-4 4h8m0 4h8m0 4h4m-4 4h4m-8 4h4m-4 4h4m0 12h4m0 4h4m0 4h4m-4 12h4m-8 8h4m-4 4h8m-8 4h4m4 4h4m-4 4h4m-12 8h4m-4 4h4m-4 4h4m-4 4h4"/>
<path stroke="#5ac0e8" d="M460 632h4m-16 4h4m-8 4h8m-4 4h4m16 4h4m-24 8h4m-4 4h4m24 0h4m-32 4h4m4 0h4m4 4h4m8 0h8m-16 4h4m8 0h4m-16 4h4m-4 4h4m-8 4h4m-36 4h4m28 0h4m-36 4h8m24 0h4m-16 4h4m4 0h4m-16 4h12m-4 4h4m-24 4h4m8 0h4m-4 4h4m8 12h4m-12 4h4m-4 4h8m-12 4h12m-8 4h4m-4 4h4m4 4h4m-4 4h4m-4 4h4m-4 4h4m0 8h4m-4 20h4m-12 4h4m-4 4h4m8 0h4m-4 4h4m-4 4h4m-4 12h4m-24 8h4m-4 4h4m8 0h4m4 0h4m-20 8h4m4 12h4m0 4h4m-4 4h4m0 8h4m-8 4h12m-8 4h8m-20 4h4m8 0h4m-20 4h4m4 0h4m4 0h4m-20 4h4m8 0h8m-20 4h4m12 0h4m-20 4h4m0 4h4m0 8h4m-4 4h4m0 12h4m-4 4h4m0 4h4m0 4h4m-4 4h4m-4 4h4m-4 4h4m4 12h4m-4 12h4m4 4h4m-12 4h4m0 4h4m-20 4h4m16 0h4m-20 4h12m8 0h4m-24 4h4m4 0h4"/>
<path stroke="#448dd2" d="M464 632h4m20 0h4m-16 4h4m8 0h4m-24 4h8m4 0h4m-32 12h4m24 0h4m0 8h4m-12 32h4m0 12h4m-4 4h4m-4 4h4m-4 4h4m-16 12h12m-12 12h4m0 4h8m0 4h4m-4 4h4m-4 4h4m-12 4h12m-12 4h4m4 0h4m-8 4h8m-4 4h4m-8 12h4m-4 4h4m0 8h4m-4 4h4m-4 4h4m0 12h4m-4 4h4m-4 4h4m-4 4h4m-4 4h4m-8 4h4m-8 12h8m0 4h4m0 8h4m-4 4h4m-4 16h4m-8 8h4m-4 4h4m16 0h4m-24 4h4m-4 4h4m12 12h4m-4 4h4m-4 4h8m-16 4h4m4 0h4m4 0h4m-20 4h4m4 0h4m4 0h4m-20 4h8m8 0h4m-20 4h16m-16 4h4m-4 4h4m-4 4h4m-8 4h4m4 0h4m-8 8h4m0 8h4m0 4h12m-8 4h4m-4 4h4m-4 4h4m0 8h4"/>
<path stroke="#3f7bc8" d="M468 632h8m-8 4h4m16 4h4m-8 12h4m0 16h4m-12 16h8m-8 8h4m-4 4h4m0 12h4m-4 4h4m-8 12h4m-4 4h4m-4 4h4m-4 4h8m0 4h4m0 4h4m-12 8h8m-8 4h4m0 12h4m0 4h4m-12 4h4m-8 4h8m8 0h4m-20 4h4m4 0h8m-16 4h4m4 0h4m-8 4h4m-4 4h4m-4 4h4m-4 4h4m-4 4h4m0 4h4m-4 4h4m-4 4h4m-4 4h8m-8 4h8m-8 4h8m-8 4h4m-8 4h4m-4 4h4m8 4h4m-12 4h12m-8 4h4m-4 4h4m-4 16h4m-4 4h4m-4 4h4m-8 4h4m8 0h4m4 0h4m-12 4h4m-4 4h4m-16 4h4m8 0h4m4 0h4m-12 4h4m0 12h4m0 4h4m-16 4h4m12 4h4m-4 8h8m-12 4h12m-16 8h4m-8 8h4m-4 4h4m-4 4h4m8 0h8m-8 4h8m-8 8h4m-8 4h4m-4 4h4m-4 4h4m4 4h4"/>
<path stroke="#4796d7" d="M476 632h4m4 4h4m-24 4h4m8 0h4m-4 8h4m-28 8h4m28 8h4m-12 12h4m-8 4h4m4 0h8m-12 16h4m-4 16h4m-4 4h4m-4 4h4m-12 4h12m-12 20h4m-4 4h12m-12 4h8m-8 4h12m-4 16h4m-4 8h4m-4 12h4m0 16h4m-4 4h4m-4 4h4m-4 4h4m-4 4h4m-4 4h4m-4 4h4m-8 4h4m-4 4h4m-4 4h4m-4 8h8m0 4h4m-4 28h4m-4 20h4m-4 4h16m-16 4h4m8 4h4m-8 4h4m8 4h4m-20 8h4m8 0h8m-20 16h4m-4 8h4m-4 4h4m0 4h4m0 8h4m0 4h4m0 12h4"/>
<path stroke="#4faadf" d="M480 632h8m-28 4h4m-4 4h4m8 8h4m0 8h4m-28 4h4m24 0h4m-16 4h4m12 4h4m-16 4h4m-4 20h4m-32 4h4m24 0h4m-36 4h4m24 0h8m-36 4h4m24 0h4m-28 4h4m20 0h4m-8 28h4m-4 4h4m-4 12h4m-4 4h4m0 8h4m0 8h4m-4 4h4m-4 4h4m-4 8h4m0 16h4m-4 4h4m-4 4h4m-4 4h4m-4 4h4m-28 8h4m0 4h4m12 0h4m-8 4h4m-8 4h8m-4 4h4m0 12h4m0 4h8m-4 4h4m-4 16h4m-8 16h4m-8 4h8m-12 4h8m-4 4h4m0 4h4m12 0h4m-20 4h4m4 4h8m-8 24h4m-4 4h4m-4 4h4m0 12h4m0 4h4m0 12h4m0 8h4m-4 4h4"/>
<path stroke="#3c73c4" d="M492 632h4m-12 12h4m-4 4h4m0 16h4m-4 16h4m-12 8h4m0 16h4m-4 12h4m0 20h4m0 4h4m-4 8h4m-4 4h4m-8 4h4m-4 4h4m-4 4h4m0 4h4m0 8h4m-16 8h4m8 0h4m-16 4h4m4 0h4m-8 4h4m-4 16h4m12 0h4m-4 4h4m-16 4h4m-4 4h8m-4 4h4m-4 4h4m-4 4h4m-8 4h8m-12 4h12m-12 4h12m-12 4h8m0 8h4m-8 8h4m-4 4h4m-4 4h4m0 4h4m-4 4h4m-4 4h12m-16 4h8m-12 4h4m4 0h4m-12 4h4m4 0h4m12 0h4m-24 4h8m12 0h4m-12 4h8m0 20h4m0 8h4m0 8h4m-16 4h12m-12 4h4m-8 4h8m0 8h8m-16 4h8m4 8h4m-4 4h4m-8 4h12m-12 4h12m-12 4h12"/>
<path stroke="#3a68be" d="M496 632h4m-8 8h4m-4 4h4m-4 4h8m-8 12h4m-8 28h4m-8 4h4m12 0h8m-8 4h8m-20 12h4m-4 4h4m-4 4h4m-8 8h4m0 8h4m12 16h4m-12 4h4m-8 8h4m-4 4h4m0 4h4m0 8h4m0 4h4m0 4h4m-12 4h8m-12 4h4m-8 4h8m-8 4h12m-12 4h8m4 0h4m-16 4h8m-4 4h4m0 8h4m-4 4h4m-4 4h4m-4 4h4m-4 4h4m-4 4h4m-4 4h4m8 0h4m-16 4h4m8 0h8m-20 4h4m8 0h4m4 0h4m-24 4h4m16 0h4m-24 4h4m12 0h4m-20 4h4m-4 4h4m-4 4h4m0 4h4m0 4h4m0 4h4m0 20h4m-8 4h8m-12 4h12m-8 4h8m-4 4h4m-4 4h4m0 4h4m0 4h4m-4 4h4m-4 12h4m-8 4h8m-4 4h4m-4 4h4m-4 16h4m-4 12h4m-4 4h4m4 0h4"/>
<path stroke="#3b61ba" d="M500 632h12m-12 4h4m-8 4h4m4 4h4m-8 4h4m-12 20h4m16 0h4m4 0h4m-32 4h4m-4 4h4m0 12h4m-8 4h4m-4 4h4m-4 4h12m-12 4h8m-8 4h4m-4 4h4m-4 4h4m-4 4h4m-4 4h8m-4 4h4m-4 4h4m8 4h4m-4 12h4m-8 4h4m-8 4h4m-4 4h4m-4 4h4m-4 4h4m8 4h4m-8 4h4m4 0h4m0 4h4m-8 4h4m-8 4h4m-8 4h4m-8 4h4m0 4h4m-4 16h4m-8 4h4m-4 12h8m0 4h4m0 4h4m0 4h4m-20 4h4m-4 4h8m-8 4h8m4 8h8m-16 8h4m0 8h4m0 16h4m0 8h4m-4 4h4m-4 4h4m-4 4h4m0 8h4m0 4h4m-4 8h4m-4 16h4m-4 4h4m-4 4h4m-4 16h4m4 12h4m-4 4h4"/>
<path stroke="#3b5db8" d="M512 632h4m-8 4h4m16 12h4m-32 4h4m24 0h4m-20 4h4m-8 4h4m4 0h4m-24 4h4m8 0h4m8 0h4m-16 4h4m-8 4h4m8 0h8m-28 12h4m0 4h8m0 4h4m-4 4h4m-8 4h8m-16 8h4m-4 8h4m-4 4h4m16 8h4m-20 4h4m12 0h4m-8 4h8m-8 4h4m-4 4h4m-12 12h4m-4 4h4m4 8h8m-16 4h8m4 0h4m0 4h4m-4 8h4m-8 4h4m-8 4h4m-8 4h4m-4 24h4m-8 4h4m12 0h8m-24 4h4m16 0h4m-16 4h4m8 0h4m-4 4h4m-8 4h4m0 4h4m-4 4h4m-4 4h4m-20 8h8m-8 4h4m-4 4h4m4 0h8m-12 4h4m-4 4h4m0 8h4m-4 4h4m-4 4h4m0 8h4m0 16h4m-4 4h4m0 4h4m0 4h4m-4 4h4m-8 8h4m-4 4h4m-4 4h4m-4 16h4m-4 4h4m-4 4h4m8 0h4m-12 12h4m4 4h4m-4 4h4"/>
<path stroke="#3c56b4" d="M516 632h4m-8 4h4m-8 8h4m16 0h4m-8 4h4m-20 4h4m12 0h4m-4 4h4m-8 4h12m-32 4h8m16 0h4m-4 4h4m-32 4h4m8 0h8m8 0h4m-32 4h12m16 0h4m-16 4h8m8 0h4m-32 4h4m8 0h16m-16 4h4m-4 12h4m-16 4h4m-4 4h4m8 0h4m12 0h4m-28 4h4m16 0h8m-24 4h4m12 0h8m-28 4h12m-8 4h4m4 0h8m-20 4h8m12 0h4m-4 4h4m-8 8h4m-4 4h4m-4 4h4m-12 4h4m4 0h4m-16 4h8m4 0h4m-16 4h8m4 8h4m0 16h4m-4 4h4m-8 4h4m-8 4h4m-4 12h4m-4 4h8m4 8h4m-4 12h4m-4 4h4m-4 8h4m-4 4h4m-8 16h4m-4 4h4m-4 4h4m-8 4h8m-8 4h8m-8 4h8m-8 4h4m-4 4h4m-4 4h4m0 4h4m0 16h4m0 4h4m-4 20h4m-4 8h4m0 4h4m-4 4h12m-8 4h8m-4 4h4m0 8h4m-4 4h4m-4 4h4m-4 4h4m-4 4h4m-4 4h4"/>
<path stroke="#3b50b0" d="M520 632h4m20 0h8m-36 4h4m24 0h4m-24 4h8m-20 4h4m4 0h4m-12 4h4m20 16h4m0 8h4m-4 4h8m-12 4h8m-12 4h4m8 0h4m-20 4h8m-16 4h4m8 0h4m-16 4h4m8 0h4m-8 4h4m-16 4h4m12 4h4m-16 4h4m8 0h4m-20 4h8m8 0h4m-4 4h4m-4 4h4m-4 4h8m-8 4h8m-8 4h8m-12 4h4m-4 4h4m-8 12h4m0 16h4m12 8h4m-16 4h4m-4 4h4m-8 8h4m-4 4h4m-4 4h4m-4 4h4m-4 4h4m0 4h4m-4 4h4m-4 8h4m-4 4h4m-4 16h4m-4 16h4m-4 4h4m-4 4h4m-4 4h4m-4 4h4m-4 4h4m-4 4h4m-4 4h4m-4 4h4m-4 12h4m0 4h4m0 4h4m-4 4h4m-4 4h8m-8 4h12m-8 4h8m0 4h4m-4 4h8m-20 4h4m8 0h8m-16 4h8m4 0h4m-4 4h4m-4 36h4m0 4h8"/>
<path stroke="#394dae" d="M524 632h4m8 0h4m-16 4h4m24 0h12m-28 4h8m-28 4h4m-4 4h4m32 4h4m-4 4h8m-24 4h4m44 0h4m-48 4h4m-8 24h16m-28 4h4m8 0h4m-16 4h4m44 0h8m-8 4h8m-44 16h4m0 4h4m-4 4h4m0 16h4m-16 4h16m-4 4h4m-4 4h8m-24 4h4m12 0h8m-24 4h4m-4 4h8m-4 4h8m-8 4h16m-12 4h8m4 0h4m-16 4h4m-4 4h8m8 0h4m-20 4h4m4 0h8m8 0h4m-4 4h8m-12 4h12m-36 4h4m16 0h12m-32 4h4m12 0h12m-28 4h4m12 0h8m-20 16h4m-4 4h4m-4 4h4m16 4h4m-4 4h4m-24 4h4m12 0h8m-12 4h12m16 0h4m-36 4h4m4 0h4m24 0h4m-40 4h4m20 0h4m8 0h8m-44 4h8m16 0h4m8 0h8m-20 4h4m12 0h4m-52 4h4m28 0h4m-36 4h4m28 0h12m-44 4h4m28 0h12m-40 4h8m-4 4h4m-8 4h8m-8 4h4m28 0h4m-40 4h4m4 4h4m-12 4h12m-4 4h4m-4 4h4m16 0h4m-24 4h4m16 0h4m-20 4h4m0 8h8m-4 4h8m-4 4h4m-20 4h4m12 8h4m-4 4h4m-4 4h4m-4 4h8m-8 4h12m-8 4h4m-4 4h4m-8 4h4m-4 4h4m-4 4h4m4 4h4m0 4h4"/>
<path stroke="#384aab" d="M528 632h8m-4 4h4m12 4h4m-12 4h4m8 0h4m4 0h12m-12 4h12m-36 4h4m20 0h12m-36 4h4m8 0h4m8 0h8m-8 4h4m16 0h4m-32 4h4m-12 4h4m4 0h4m24 0h4m4 4h4m-40 8h4m-4 4h4m20 0h4m-8 4h8m-40 4h8m32 0h4m-32 4h4m12 0h4m8 0h4m-20 4h4m-8 4h8m12 0h4m-20 4h16m-40 4h8m4 0h4m0 4h4m-12 4h16m-20 4h4m8 0h4m4 0h4m-24 4h4m8 0h4m4 0h4m8 0h4m-24 4h4m4 0h16m4 0h4m-28 4h8m4 0h4m-28 4h4m8 0h4m12 4h16m-40 4h4m4 0h4m12 0h4m-44 4h4m12 0h12m-28 4h4m16 0h8m-8 4h4m-8 4h8m-12 4h16m-12 4h20m-16 4h4m12 0h4m-4 4h4m-8 4h8m-8 4h8m-36 4h16m12 0h4m-24 4h4m-16 4h4m4 0h4m-12 4h4m32 0h4m20 0h12m-72 4h4m20 0h16m24 0h4m-68 4h4m4 0h4m8 0h4m8 0h12m-36 4h4m4 0h8m8 0h12m-40 4h8m4 0h8m4 0h20m20 0h4m-68 4h12m4 0h20m4 0h12m12 0h4m-64 4h8m8 0h12m8 0h24m-60 4h8m12 0h4m12 0h12m8 0h4m-60 4h8m12 0h4m8 0h8m16 0h8m-60 4h4m12 0h4m4 0h8m20 0h8m-68 4h4m4 0h4m12 0h8m24 0h16m-72 4h8m16 0h4m28 0h16m-76 4h8m16 0h4m28 0h4m4 0h8m-72 4h8m12 0h8m28 0h8m-60 4h4m8 0h4m4 0h4m12 0h4m12 0h4m-56 4h4m8 0h4m4 0h4m12 0h4m-40 4h8m4 0h8m-20 4h8m36 0h12m-12 4h16m8 0h4m-16 4h8m4 0h4m-60 4h8m28 0h4m8 0h4m4 0h8m-64 4h12m20 0h20m4 0h8m-60 4h12m16 0h4m8 0h4m8 0h8m-60 4h12m12 0h8m20 0h8m-60 4h12m4 0h16m-36 4h12m8 0h16m-36 4h8m12 0h4m-24 4h8m12 0h4m-24 4h8m12 0h4m-24 4h4m12 0h4m-4 4h8m4 0h4m-12 4h12m-4 4h4m-4 4h4m-16 4h8m4 0h4m-12 4h8m-16 4h4m8 0h4m-16 4h4m24 0h4m-28 4h8m12 0h8m-24 4h4m12 0h8m-8 4h8m-24 4h4m-4 4h4m-8 4h8m-4 4h4m-4 4h4m0 4h4m-4 4h4"/>
<path stroke="#3a4eaf" d="M540 632h4m8 0h12m-44 4h4m16 0h4m4 0h4m-36 4h8m8 0h4m0 4h4m-20 4h4m-8 4h8m60 12h4m-48 4h4m0 4h4m0 4h4m-4 4h4m-16 4h8m4 0h4m-24 8h4m-4 4h4m-12 4h8m4 0h4m-16 4h4m8 0h4m-20 4h8m-8 4h4m16 8h4m-4 4h4m0 4h4m-4 4h4m-4 4h4m-12 4h12m-16 8h4m-4 4h4m-8 8h4m-4 4h4m0 4h4m0 8h4m8 0h4m-16 4h4m4 0h4m4 0h4m-8 4h8m-20 8h4m-4 4h4m-4 16h4m0 24h4m-4 4h4m-8 12h4m12 0h4m-20 4h4m12 0h4m-20 4h4m0 20h4m-4 4h8m-8 4h4m-4 4h4m-8 8h4m-4 4h4m0 4h8m-4 4h4m0 8h4m0 4h4m-12 8h4m8 0h4m-16 4h12m4 0h4m-20 4h4m4 0h4m8 0h4m-20 4h8m8 0h4m-8 12h4m-4 4h4m-4 4h4m-4 4h8m-8 4h8m-8 4h4m-4 4h4m-4 4h4m0 4h8m0 4h4"/>
<path stroke="#394bad" d="M564 632h4m-40 4h4m4 0h4m24 0h4m-24 4h4m4 0h16m-12 4h4m-24 4h4m12 0h8m-12 4h4m4 0h4m-8 8h8m-4 4h4m20 0h4m4 0h4m-8 4h8m-44 4h4m0 16h4m-8 4h8m16 0h8m-44 4h4m-4 4h4m28 0h4m8 0h4m-48 4h4m28 0h12m-44 4h4m-4 4h4m8 0h4m-12 4h16m-12 4h4m12 4h4m-4 4h4m-20 4h4m12 0h4m16 0h4m-40 4h4m28 0h12m-12 4h12m-40 4h4m-20 4h12m4 0h4m-20 4h4m4 0h4m-12 4h4m4 0h4m8 0h4m-24 4h24m-20 4h16m-12 4h8m0 4h4m0 4h4m4 0h12m-20 4h20m-16 4h12m-28 4h4m8 0h8m4 0h4m-32 4h4m16 0h4m-24 4h4m12 0h4m12 0h4m-24 4h4m12 0h8m-28 4h4m12 0h12m-28 4h4m8 0h4m-12 4h8m-20 4h4m8 0h4m-16 4h4m8 0h4m0 4h4m-16 4h4m8 0h8m-20 4h4m8 0h12m28 0h8m-60 4h4m8 0h4m4 0h4m20 0h16m-60 4h4m8 0h4m4 0h4m16 0h20m-40 4h4m8 0h24m-60 4h4m20 0h4m4 0h8m4 0h16m-40 4h4m4 0h16m4 0h8m4 0h4m-48 4h4m8 0h4m4 0h8m8 0h4m-56 4h4m24 0h4m4 0h4m12 0h4m-56 4h4m4 0h8m12 0h4m4 0h4m4 0h4m4 0h4m-44 4h4m8 0h8m4 0h20m-44 4h20m12 0h4m-44 4h28m12 0h4m-36 4h48m-48 4h4m8 0h28m4 0h8m-52 4h4m12 0h20m-40 4h12m12 0h4m4 0h8m-44 4h16m12 0h12m-44 4h8m4 0h8m12 0h4m-24 4h4m12 0h8m-24 4h4m8 0h12m-24 4h4m8 0h4m4 0h4m-24 4h4m8 0h4m4 0h4m-16 4h12m-16 4h16m-8 4h12m-8 4h16m-16 4h16m-16 4h4m8 0h4m-16 4h4m-4 12h4m0 4h4m0 4h4m-8 4h4m-4 4h4m-8 4h4m-4 4h8m-8 4h8m0 4h4"/>
<path stroke="#3749aa" d="M568 632h4m-4 8h4m-24 4h4m-4 4h4m16 8h4m12 0h4m-48 4h4m4 0h4m12 0h4m20 0h4m-48 4h4m12 0h4m28 0h4m8 0h4m-60 4h4m4 0h4m32 0h4m4 0h8m-56 4h4m20 0h12m4 0h12m-52 4h4m20 0h4m-4 4h4m-24 4h4m20 0h4m-28 4h4m20 0h4m-28 4h4m8 0h4m-24 4h4m4 0h4m24 0h4m-32 4h8m20 0h4m-48 4h4m12 0h4m24 0h4m-48 4h24m16 0h4m-28 4h4m8 0h8m-12 8h4m-20 4h8m12 0h12m-32 4h8m12 0h8m4 0h8m-40 4h8m-8 4h12m8 0h4m16 0h4m-36 4h4m4 0h4m4 0h4m12 0h4m-40 4h16m4 0h4m16 0h4m-40 4h4m4 0h4m4 0h4m4 0h16m-32 4h4m4 0h8m8 0h12m-36 4h4m20 0h8m-36 4h4m20 0h12m-36 4h4m16 0h12m20 0h4m-52 4h8m40 0h4m-44 4h4m0 4h4m-4 4h8m-8 4h12m12 0h4m-28 4h8m12 0h8m-32 4h8m12 0h8m8 0h8m12 0h4m-92 4h8m24 0h4m8 0h32m8 0h12m-96 4h4m28 0h4m4 0h56m-96 4h4m32 0h20m12 0h8m4 0h16m-96 4h4m32 0h12m4 0h8m4 0h8m8 0h20m-100 4h4m16 0h8m12 0h4m8 0h20m12 0h16m-100 4h4m16 0h8m12 0h8m8 0h16m16 0h12m-80 4h4m20 0h8m8 0h4m4 0h4m16 0h12m-64 4h4m12 0h12m4 0h4m20 0h12m-72 4h8m24 0h8m20 0h8m-72 4h12m24 0h4m12 0h8m-60 4h8m32 0h4m4 0h8m-80 4h4m20 0h4m36 0h12m-76 4h4m64 0h4m36 0h12m-52 4h8m32 0h12m-56 4h12m36 0h4m-60 4h16m-60 4h4m36 0h12m-52 4h4m32 0h4m8 0h4m-16 4h4m4 0h12m12 0h8m-36 4h20m8 0h8m-32 4h8m4 0h4m8 0h8m-28 4h4m4 0h8m4 0h8m-28 4h4m8 0h4m-16 4h4m8 0h4m-32 4h8m4 0h8m8 0h4m20 0h4m-56 4h20m8 0h4m16 0h8m-56 4h8m8 0h16m16 0h12m-60 4h4m12 0h16m24 0h8m-76 4h20m8 0h8m4 0h8m24 0h8m-80 4h20m8 0h4m8 0h12m20 0h8m-80 4h20m4 0h28m24 0h4m-84 4h56m-52 4h4m4 0h20m4 0h8m8 0h4m-44 4h4m4 0h12m4 0h8m-32 4h4m8 0h8m-20 4h4m8 0h8m8 0h4m-32 4h12m12 0h8m-48 4h4m8 0h16m12 0h8m-48 4h8m4 0h36m-48 4h24m4 0h16m-36 4h12m8 0h12m-32 4h12m8 0h8m20 0h4m-52 4h12m8 0h4m-24 4h20m-20 4h16m-16 4h12m-12 4h12m-12 4h12m12 0h4m-24 4h8m8 0h12m-28 4h8m8 0h16"/>
<path stroke="#3646a8" d="M572 632h4m16 0h4m8 0h4m-20 4h8m8 0h4m20 0h4m4 0h8m-72 4h4m12 0h8m8 0h4m28 0h8m-52 4h4m8 0h12m24 0h8m-104 4h4m44 0h8m8 0h8m24 0h4m4 0h4m-72 4h20m8 0h8m24 0h4m-104 4h4m28 0h4m16 0h24m24 0h4m4 0h4m-44 4h8m24 0h8m-80 4h4m40 0h4m-52 4h4m40 0h4m-52 4h4m8 0h4m32 0h4m36 0h4m-92 4h4m20 0h4m20 0h4m36 0h8m-92 4h4m40 0h4m8 0h20m12 0h16m-104 4h8m12 0h4m8 0h4m4 0h4m8 0h28m8 0h4m8 0h4m-108 4h8m28 0h4m4 0h4m12 0h8m8 0h20m4 0h4m-104 4h8m24 0h16m32 0h12m8 0h4m-72 4h4m8 0h4m32 0h4m8 0h8m-44 4h4m16 0h8m-56 4h4m12 0h20m12 0h8m-56 4h20m8 0h12m4 0h8m-52 4h8m20 0h20m24 0h4m-84 4h12m24 0h20m24 0h4m-84 4h24m12 0h16m-48 4h8m12 0h4m8 0h8m-36 4h4m16 0h16m36 0h8m-76 4h4m16 0h8m4 0h4m32 0h8m-72 4h4m16 0h12m12 0h4m16 0h4m-68 4h4m16 0h16m-32 4h4m8 0h8m4 0h12m-32 4h16m8 0h8m-32 4h16m12 0h4m-4 4h4m-68 4h4m56 0h4m8 0h4m24 0h4m-104 4h4m28 0h4m24 0h4m4 0h12m16 0h12m-80 4h8m28 0h44m-80 4h8m32 0h40m-80 4h4m12 0h12m12 0h28m4 0h8m-64 4h12m8 0h44m-64 4h8m12 0h16m4 0h20m-36 4h12m8 0h8m-24 4h4m12 0h4m-4 4h4m-4 4h8m20 0h8m-44 4h20m12 0h8m-44 4h28m12 0h4m-44 4h28m8 0h8m-44 4h8m4 0h32m-44 4h4m8 0h4m8 0h20m-44 4h4m8 0h4m8 0h24m-48 4h4m8 0h32m-40 4h4m4 0h16m-24 4h16m4 0h8m-4 4h4m-4 4h4m20 0h4m-72 4h8m8 0h4m24 0h16m8 0h4m-72 4h12m4 0h4m20 0h20m-60 4h12m4 0h8m20 0h16m-56 4h8m4 0h12m20 0h8m-36 4h16m12 0h8m-36 4h36m-36 4h4m8 0h12m8 0h8m-36 4h16m12 0h8m-32 4h4m20 0h8m-32 4h4m20 0h8m-8 4h12m-64 4h4m28 0h4m16 0h16m-40 4h8m16 0h12m-36 4h8m16 0h8m-28 4h4m16 0h4m-48 4h4m20 0h8m-36 4h12m16 0h8m-36 4h12m16 0h4m4 0h8m-44 4h16m8 0h4m8 0h8m-44 4h28m8 0h8m-44 4h24m-28 4h20m4 0h8m-36 4h20m8 0h12m-40 4h20m8 0h12m-44 4h28m4 0h12m-44 4h8m8 0h28m-48 4h8m12 0h16m8 0h4m-28 4h20m4 0h4m-32 4h12m8 0h8m-48 4h8m12 0h12m-32 4h4m8 0h16m-32 4h4m16 0h12m-48 4h4m12 0h4m20 0h12m-56 4h8m12 0h8m16 0h12m-56 4h8m16 0h4m16 0h12m-32 4h4m16 0h12m-32 4h4m12 0h20"/>
<path stroke="#3341a3" d="M576 632h8m12 0h8m12 0h8m20 0h4m8 0h4m8 0h20m64 0h12m-188 4h4m16 0h8m12 0h4m24 0h4m8 0h4m8 0h20m68 0h4m-184 4h4m4 0h4m32 0h4m32 0h4m8 0h16m-108 4h4m4 0h4m36 0h12m12 0h20m4 0h8m-100 4h8m32 0h8m24 0h24m-56 4h8m8 0h4m12 0h4m8 0h12m-56 4h4m12 0h4m12 0h4m8 0h4m4 0h4m-56 4h4m28 0h4m12 0h8m20 0h8m-84 4h4m8 0h4m16 0h4m12 0h12m16 0h12m-88 4h4m8 0h4m20 0h4m8 0h12m16 0h12m-88 4h12m4 0h8m12 0h12m4 0h4m24 0h8m-68 4h4m28 0h8m20 0h8m-36 4h20m-104 4h8m76 0h24m8 0h4m12 0h4m-112 4h4m52 0h12m4 0h12m8 0h8m4 0h4m-108 4h4m52 0h4m16 0h8m8 0h16m-108 4h4m12 0h8m28 0h8m16 0h8m4 0h16m-88 4h4m16 0h4m12 0h12m12 0h8m8 0h4m-64 4h4m4 0h4m12 0h12m4 0h12m-40 4h4m8 0h20m4 0h4m-56 4h4m24 0h4m4 0h4m12 0h4m-56 4h4m24 0h4m4 0h4m12 0h4m-60 4h20m12 0h12m12 0h4m-60 4h20m12 0h8m4 0h4m8 0h4m-96 4h4m44 0h8m12 0h4m12 0h12m-96 4h8m40 0h8m12 0h4m-68 4h4m40 0h8m12 0h4m40 0h4m-72 4h8m16 0h4m4 0h4m32 0h4m-72 4h8m12 0h20m12 0h4m12 0h8m-80 4h12m12 0h20m12 0h8m8 0h8m-80 4h8m4 0h8m16 0h8m12 0h8m8 0h4m-64 4h8m20 0h4m-4 4h12m-8 4h12m-12 4h12m8 0h12m-36 4h36m-36 4h36m-36 4h36m-32 4h32m-24 4h24m-20 4h36m-64 4h4m24 0h36m-36 4h36m-36 4h36m-36 4h8m4 0h24m-36 4h8m4 0h24m-36 4h32m-32 4h32m-32 4h16m4 0h12m-24 4h8m4 0h8m-20 4h8m4 0h8m-16 4h4m4 0h12m-20 4h4m8 0h8m-20 4h8m4 0h12m-24 4h24m-28 4h28m8 0h8m-44 4h28m4 0h12m-44 4h40m-40 4h36m-40 4h16m4 0h20m-44 4h20m4 0h16m-36 4h32m-32 4h32m-28 4h28m-28 4h12m8 0h8m-28 4h12m8 0h8m-24 4h8m8 0h8m-24 4h24m-20 4h20m-20 4h20m-20 4h12m8 0h12m-36 4h16m8 0h12m-60 4h8m12 0h20m4 0h16m-56 4h4m8 0h40m-40 4h40m-40 4h8m8 0h20m-36 4h32m-32 4h20m4 0h4m-52 4h4m20 0h20m-48 4h8m20 0h20m-48 4h8m16 0h24m-44 4h8m12 0h24m-44 4h12m12 0h8m-32 4h28m-28 4h40m-100 4h8m24 0h16m12 0h4m4 0h8m4 0h24m-104 4h12m20 0h12m12 0h8m8 0h36m-104 4h8m20 0h8m16 0h12m4 0h36m-104 4h8m44 0h16m4 0h32m-104 4h4m52 0h36m-32 4h32"/>
<path stroke="#3543a5" d="M584 632h4m36 0h20m16 0h8m-96 4h4m8 0h4m36 0h4m4 0h4m24 0h8m-72 4h8m12 0h4m4 0h12m8 0h4m12 0h8m-80 4h4m4 0h8m12 0h8m12 0h4m-64 4h4m8 0h4m8 0h8m8 0h4m16 0h4m-100 4h4m32 0h4m20 0h8m8 0h4m-44 4h4m36 0h4m48 0h4m-100 4h8m36 0h4m16 0h4m8 0h4m-80 4h8m36 0h4m16 0h16m-84 4h8m36 0h8m16 0h20m-92 4h8m40 0h8m12 0h4m8 0h4m4 0h4m12 0h4m-108 4h8m40 0h28m4 0h4m8 0h16m-104 4h4m12 0h12m16 0h8m20 0h12m16 0h4m-64 4h8m28 0h8m16 0h4m-84 4h8m12 0h4m4 0h4m8 0h8m28 0h4m-60 4h4m4 0h24m24 0h4m-72 4h8m4 0h4m4 0h12m8 0h4m4 0h8m8 0h4m-72 4h24m4 0h8m4 0h4m8 0h4m4 0h12m-72 4h12m20 0h12m20 0h12m-40 4h4m8 0h4m16 0h8m20 0h4m-56 4h4m16 0h4m4 0h4m12 0h12m-56 4h4m16 0h4m4 0h4m12 0h12m-60 4h4m20 0h12m12 0h12m-100 4h12m20 0h12m20 0h12m16 0h8m-100 4h8m4 0h4m16 0h24m8 0h4m-64 4h4m8 0h4m8 0h4m4 0h20m8 0h4m-60 4h4m4 0h8m12 0h12m4 0h4m8 0h4m4 0h4m-68 4h16m16 0h12m8 0h16m-64 4h8m24 0h8m8 0h12m-28 4h4m12 0h12m-28 4h4m8 0h4m8 0h16m-40 4h16m8 0h20m-48 4h8m4 0h24m4 0h8m-48 4h4m12 0h16m12 0h8m-8 4h8m-8 4h4m-4 4h4m-4 4h4m-8 4h12m-20 4h28m-32 4h36m-36 4h8m4 0h24m-32 4h20m8 0h4m-28 4h12m8 0h8m-24 4h12m4 0h8m-24 4h8m8 0h8m-44 4h4m32 0h8m-48 4h8m32 0h8m-48 4h8m36 0h4m-48 4h8m32 0h16m-52 4h4m16 0h32m-28 4h32m-32 4h32m-32 4h20m4 0h8m-20 4h8m4 0h8m-20 4h16m-16 4h16m-20 4h20m-20 4h20m-20 4h16m16 0h4m-68 4h8m12 0h8m8 0h8m20 0h4m-52 4h12m8 0h12m-40 4h20m8 0h12m-40 4h20m8 0h16m-44 4h20m12 0h12m12 0h8m-60 4h16m16 0h8m12 0h8m-60 4h16m12 0h16m8 0h8m-60 4h16m8 0h20m-44 4h16m4 0h28m-44 4h44m-44 4h44m-48 4h4m8 0h32m-48 4h8m8 0h8m8 0h12m-44 4h8m8 0h12m4 0h8m-44 4h44m-52 4h4m8 0h40m8 0h8m-72 4h8m12 0h36m-56 4h8m12 0h36m-52 4h4m12 0h12m4 0h20m-36 4h8m8 0h20m-48 4h8m4 0h8m8 0h16m-40 4h4m4 0h12m8 0h12m-52 4h8m8 0h16m12 0h12m-56 4h32m-60 4h8m16 0h36m-64 4h4m8 0h4m12 0h8m16 0h12m4 0h4m-72 4h4m12 0h4m12 0h4m12 0h12m8 0h8m-72 4h4m8 0h4m12 0h4m8 0h16m12 0h4m-72 4h4m8 0h4m12 0h28m16 0h4m-76 4h4m4 0h8m12 0h32m-60 4h12m20 0h32"/>
<path stroke="#3747a9" d="M588 632h4m16 0h8m-48 4h4m36 0h8m-8 4h8m-72 4h4m24 0h4m-36 4h4m28 0h4m68 0h4m-104 4h4m24 0h4m68 0h8m-108 4h4m32 0h4m4 0h4m52 0h4m-104 4h4m20 0h4m20 0h16m-60 4h4m12 0h4m28 0h8m4 0h4m-52 4h4m12 0h4m16 0h4m-44 4h4m44 0h4m-52 4h4m12 0h4m4 0h4m4 0h20m-52 4h8m8 0h4m4 0h4m12 0h12m-48 4h4m8 0h4m24 0h4m52 0h8m-96 4h4m12 0h4m12 0h4m52 0h4m-76 4h8m60 0h8m-120 4h8m12 0h8m20 0h4m-52 4h16m32 0h4m-48 4h12m28 4h4m20 0h8m-56 4h8m8 0h12m8 0h20m-56 4h20m12 0h24m-48 4h12m24 0h12m-36 4h4m24 0h8m-28 8h4m0 4h4m-44 4h4m12 0h4m20 0h4m-28 4h4m24 0h4m20 0h4m-56 4h4m24 0h8m16 0h8m-60 4h4m8 0h8m12 0h4m16 0h12m-64 4h20m8 0h36m-68 4h4m4 0h12m12 0h32m-64 4h4m4 0h8m12 0h8m4 0h8m4 0h12m-56 4h24m8 0h8m4 0h16m-56 4h20m8 0h32m-56 4h16m4 0h12m12 0h12m28 0h4m-84 4h28m12 0h8m-44 4h12m4 0h8m8 0h12m16 0h4m-68 4h12m8 0h32m12 0h8m-76 4h12m8 0h8m8 0h12m4 0h8m4 0h12m-80 4h8m32 0h8m12 0h20m-80 4h4m56 0h20m-40 4h4m16 0h12m-60 4h4m20 0h8m20 0h4m-60 4h8m20 0h12m16 0h4m-56 4h8m16 0h16m12 0h4m-52 4h8m12 0h16m12 0h4m16 0h8m-56 4h20m28 0h8m-56 4h20m8 0h4m-36 4h12m8 0h20m-36 4h4m8 0h24m16 0h4m-48 4h52m-56 4h36m12 0h8m-52 4h8m8 0h8m4 0h4m12 0h8m-52 4h8m12 0h4m4 0h8m4 0h8m-52 4h12m12 0h4m8 0h20m-64 4h24m8 0h4m12 0h20m-80 4h8m4 0h40m16 0h12m-80 4h4m12 0h12m8 0h16m-32 4h8m8 0h16m-32 4h8m8 0h20m-32 4h4m8 0h24m-36 4h36m-36 4h40m-40 4h8m4 0h8m4 0h16m-40 4h16m8 0h12m-60 4h8m16 0h16m12 0h8m-64 4h12m16 0h24m8 0h8m-64 4h8m8 0h4m8 0h12m4 0h8m8 0h4m-64 4h8m4 0h8m12 0h4m12 0h4m8 0h4m-64 4h4m28 0h4m12 0h8m4 0h4m-32 4h4m16 0h8m-52 4h4m8 0h8m4 0h4m-44 4h4m12 0h4m8 0h16m-44 4h8m8 0h24m-40 4h8m8 0h8m4 0h8m-28 4h12m8 0h8m-28 4h12m8 0h4m-4 4h4m8 0h8m-24 4h4m8 0h12m-28 4h28m-32 4h20m4 0h4m-32 4h12m8 0h12m-36 4h16m-20 4h16m-20 4h4m4 0h12m-12 4h12m-12 4h4m4 0h8m-24 4h8m12 0h4m-24 4h8"/>
<path stroke="#323ea0" d="M648 632h8m32 0h4m4 0h20m32 0h4m12 0h8m-192 4h4m36 0h4m24 0h8m32 0h4m12 0h8m40 0h4m4 0h12m-192 4h4m64 0h8m28 0h4m68 0h16m-192 4h4m84 0h4m8 0h4m84 0h4m-144 4h8m40 0h4m56 0h4m-112 4h8m20 0h8m32 0h4m28 0h16m-120 4h12m20 0h8m28 0h12m24 0h16m-120 4h4m4 0h4m20 0h12m8 0h4m12 0h4m8 0h8m12 0h12m-112 4h4m28 0h12m12 0h4m8 0h4m12 0h8m8 0h8m-108 4h8m28 0h8m12 0h4m8 0h4m12 0h8m-40 4h8m8 0h8m8 0h4m-32 4h20m8 0h4m8 0h4m-32 4h20m4 0h8m28 0h12m-68 4h8m4 0h12m36 0h8m-84 4h4m12 0h8m8 0h4m4 0h4m-52 4h16m8 0h8m16 0h4m-52 4h8m4 0h4m8 0h4m16 0h8m-48 4h12m8 0h8m4 0h16m-76 4h4m28 0h4m12 0h32m24 0h4m-112 4h4m4 0h4m40 0h32m16 0h12m-112 4h4m4 0h4m16 0h4m20 0h8m4 0h24m8 0h16m-112 4h12m16 0h4m20 0h4m8 0h24m8 0h16m-60 4h4m8 0h24m12 0h8m-76 4h4m16 0h40m-64 4h12m12 0h44m-68 4h68m-68 4h40m4 0h24m16 0h8m-92 4h4m4 0h32m4 0h16m16 0h16m-80 4h12m4 0h12m8 0h12m16 0h16m-80 4h12m8 0h8m8 0h16m12 0h16m-80 4h12m8 0h8m4 0h24m16 0h8m-80 4h60m-52 4h52m-48 4h48m-48 4h8m12 0h28m-28 4h4m8 0h16m-28 4h4m8 0h16m-28 4h28m-28 4h32m-32 4h40m-24 4h20m-20 4h20m-20 4h8m4 0h8m-20 4h4m-32 4h4m24 0h4m-32 4h4m24 0h8m4 0h4m-20 4h12m4 0h8m-24 4h12m4 0h8m-40 4h4m12 0h28m-44 4h4m8 0h32m-44 4h4m8 0h32m-44 4h4m12 0h28m-44 4h8m8 0h24m-36 4h4m12 0h20m-20 4h20m-20 4h8m8 0h8m-24 4h4m12 0h12m-16 4h16m-20 4h16m-16 4h16m-20 4h12m4 0h4m-24 4h16m4 0h4m-24 4h28m-28 4h28m-28 4h28m-28 4h24m-24 4h24m-24 4h24m-24 4h24m-24 4h28m-36 4h8m12 0h16m-36 4h8m12 0h16m-36 4h4m16 0h12m-16 4h12m-12 4h12m-16 4h16m-20 4h20m-32 4h4m4 0h24m-32 4h36m-36 4h36m-36 4h20m12 0h4m16 0h4m-56 4h20m8 0h8m-48 4h32m8 0h8m-52 4h36m8 0h4m-36 4h24m-48 4h4m24 0h24m-20 4h24m-24 4h28m-28 4h28m-40 4h40m-40 4h20m8 0h16"/>
<path stroke="#313c9d" d="M692 632h4m20 0h4m52 0h16m16 0h8m-120 4h12m8 0h8m28 0h4m20 0h16m-100 4h36m8 0h4m12 0h8m16 0h16m-104 4h20m12 0h28m12 0h12m4 0h8m-100 4h24m12 0h20m4 0h8m16 0h12m16 0h4m-120 4h20m4 0h4m12 0h12m16 0h8m16 0h8m8 0h12m-120 4h16m12 0h24m16 0h12m20 0h8m-156 4h4m48 0h12m20 0h12m12 0h20m20 0h4m-152 4h4m52 0h8m24 0h8m8 0h8m4 0h12m16 0h8m24 0h4m-124 4h8m24 0h20m8 0h12m16 0h4m16 0h16m-124 4h8m20 0h16m20 0h12m4 0h12m12 0h16m-92 4h8m4 0h4m20 0h24m12 0h4m4 0h12m24 0h8m-124 4h4m8 0h4m20 0h4m12 0h8m12 0h4m40 0h8m-112 4h4m20 0h8m8 0h4m60 0h8m-112 4h4m16 0h24m-44 4h4m4 0h4m8 0h24m-88 4h4m40 0h16m4 0h20m-40 4h16m4 0h20m-36 4h24m4 0h8m12 0h8m-136 4h4m76 0h16m12 0h8m12 0h8m-136 4h4m52 0h4m24 0h8m16 0h8m12 0h8m-84 4h8m24 0h8m16 0h12m4 0h12m-84 4h8m24 0h12m8 0h40m-56 4h56m-52 4h8m4 0h48m-60 4h36m12 0h12m-60 4h16m8 0h12m12 0h8m-64 4h16m16 0h12m-44 4h16m16 0h12m4 0h8m-52 4h12m16 0h12m4 0h8m-48 4h16m8 0h12m4 0h8m-44 4h28m24 0h4m-56 4h28m20 0h12m-60 4h28m24 0h8m-60 4h32m-56 4h8m16 0h36m-60 4h8m16 0h40m-40 4h40m-36 4h36m-28 4h28m-32 4h28m-28 4h28m-40 4h4m8 0h24m-40 4h36m-36 4h40m-36 4h4m4 0h28m-36 4h4m8 0h24m-36 4h4m8 0h24m-20 4h24m-24 4h28m-28 4h28m-28 4h28m-32 4h36m-36 4h36m-36 4h28m-24 4h24m-20 4h20m-20 4h24m-28 4h28m-28 4h28m-36 4h4m4 0h24m-32 4h4m4 0h24m-20 4h8m-8 4h12m-12 4h16m-20 4h20m8 0h4m-32 4h20m4 0h8m-32 4h32m-32 4h32m-28 4h28m-28 4h32m12 0h4m-48 4h36m8 0h4m-52 4h40m8 0h4m-56 4h44m-44 4h32m-32 4h32m-32 4h32m-32 4h32m-28 4h36m-36 4h40m-56 4h12m4 0h16m4 0h20m-56 4h8m8 0h40m-56 4h8m8 0h44m-60 4h8m4 0h56m-68 4h72m-68 4h28m8 0h32m-64 4h24m8 0h32m-60 4h20m8 0h32m-60 4h52m-52 4h8m4 0h40m-72 4h8m16 0h4m4 0h36"/>
<path stroke="#2f399a" d="M720 632h4m4 0h12m4 0h4m40 0h4m4 0h8m8 0h4m32 0h4m-132 4h4m4 0h12m4 0h4m40 0h4m8 0h12m32 0h8m-128 4h8m4 0h12m40 0h12m40 0h8m-144 4h12m28 0h12m24 0h20m16 0h4m16 0h12m-144 4h12m32 0h16m12 0h16m4 0h4m-96 4h12m36 0h16m8 0h8m12 0h4m48 0h4m-96 4h20m8 0h20m-48 4h20m4 0h32m-72 4h4m12 0h16m8 0h24m4 0h4m4 0h8m-88 4h8m12 0h16m4 0h16m16 0h4m4 0h8m-96 4h20m12 0h4m12 0h12m16 0h8m8 0h16m-108 4h8m8 0h4m24 0h4m4 0h4m4 0h4m12 0h4m12 0h8m-100 4h4m8 0h8m32 0h4m4 0h20m12 0h8m-100 4h4m8 0h8m20 0h4m8 0h28m12 0h8m-100 4h16m24 0h4m12 0h24m12 0h16m-108 4h4m4 0h8m24 0h4m12 0h24m-68 4h4m20 0h8m12 0h24m-68 4h4m20 0h28m-28 4h12m8 0h4m-24 4h12m8 0h8m24 0h8m-60 4h12m8 0h8m24 0h16m-64 4h4m12 0h12m24 0h12m-40 4h8m20 0h12m-40 4h12m-56 4h4m48 0h4m-28 4h12m12 0h4m-28 4h12m8 0h12m-32 4h36m-36 4h4m8 0h8m4 0h12m-36 4h4m8 0h24m-36 4h4m8 0h24m-40 4h24m4 0h8m-36 4h20m12 0h4m-36 4h24m8 0h4m-32 4h32m-28 4h40m-36 4h12m12 0h16m-40 4h8m16 0h20m-44 4h8m16 0h8m-32 4h8m-12 4h12m-12 4h16m-20 4h20m-24 4h24m-20 4h20m-20 4h32m-32 4h20m4 0h12m-36 4h16m12 0h4m-28 4h12m12 0h4m-24 4h28m-28 4h28m-28 4h28m-24 4h20m-20 4h16m-24 4h24m-24 4h24m-24 4h24m-20 4h24m-24 4h24m-24 4h24m-28 4h28m-28 4h28m-40 4h24m-20 4h20m-16 4h16m-16 4h8m4 0h8m16 0h4m-40 4h4m8 0h12m12 0h4m-28 4h16m4 0h8m-28 4h28m-28 4h28m-24 4h12m4 0h8m-20 4h8m4 0h8m-20 4h8m4 0h8m-20 4h20m-32 4h32m-32 4h40m-40 4h40m-40 4h44m-36 4h32m-28 4h28m-28 4h24m-24 4h24m-20 4h20m-12 4h12m-8 4h8m-48 4h8m32 0h8m-48 4h8m32 0h12m-52 4h8m32 0h16m-24 4h28m-72 4h4m40 0h32m-76 4h4m36 0h36"/>
<path stroke="#2e3798" d="M724 632h4m12 0h4m48 0h4m44 0h8m4 0h12m-140 4h4m12 0h4m48 0h8m12 0h4m24 0h4m8 0h16m-68 4h24m12 0h4m8 0h20m-68 4h4m8 0h4m4 0h16m12 0h4m8 0h12m-72 4h4m8 0h44m4 0h12m-72 4h4m4 0h28m8 0h4m4 0h4m-52 4h28m12 0h12m-44 4h16m16 0h8m-40 4h4m8 0h4m-16 4h4m8 0h12m-24 4h8m16 0h4m-104 4h8m32 0h4m28 0h12m16 0h4m12 0h4m-124 4h8m32 0h8m28 0h12m16 0h4m12 0h4m28 0h4m-156 4h8m32 0h8m28 0h12m16 0h4m12 0h4m24 0h8m-116 4h4m4 0h4m24 0h4m4 0h4m16 0h4m12 0h4m-84 4h4m4 0h4m24 0h4m4 0h24m12 0h8m-88 4h12m24 0h4m4 0h24m12 0h8m-68 4h36m8 0h8m8 0h8m-72 4h56m12 0h4m-68 4h4m4 0h16m8 0h24m-56 4h24m16 0h16m12 0h12m-76 4h24m12 0h16m12 0h12m-72 4h20m12 0h12m16 0h8m-64 4h36m-36 4h32m-32 4h32m-28 4h32m-28 4h40m-56 4h4m12 0h40m-40 4h36m-36 4h36m-40 4h24m-24 4h24m-24 4h24m-24 4h28m-16 4h16m20 0h4m-64 4h12m16 0h12m16 0h4m-64 4h16m20 0h4m16 0h4m-60 4h16m8 0h16m12 0h8m-60 4h40m12 0h8m-60 4h44m8 0h8m-56 4h28m8 0h8m-44 4h28m12 0h4m-44 4h28m-28 4h32m-20 4h20m16 0h8m-56 4h4m12 0h16m-36 4h12m4 0h20m-36 4h12m4 0h8m-4 4h4m-4 4h4m-4 4h4m-8 4h8m-12 4h12m16 0h4m-32 4h16m12 0h8m-36 4h16m12 0h12m-40 4h16m8 0h16m-36 4h36m-36 4h4m4 0h24m-32 4h24m-24 4h24m-24 4h24m-40 4h40m-40 4h40m16 0h4m-60 4h36m-32 4h16m4 0h12m-28 4h12m4 0h12m-24 4h4m8 0h12m-12 4h20m-20 4h24m-24 4h28m-28 4h28m-28 4h32m-32 4h36m-36 4h36m-28 4h32m-32 4h8m4 0h24m-32 4h4m8 0h24m-40 4h8m8 0h4m4 0h16m-40 4h44m-48 4h44m-44 4h32m-32 4h32m16 0h4m-52 4h32m16 0h8m-56 4h32m12 0h12m-56 4h32m8 0h12m8 0h12m-68 4h28m8 0h12m-44 4h40m-36 4h36m-32 4h32m-32 4h40"/>
<path stroke="#2c3495" d="M816 632h4m12 0h8m24 0h16m-64 4h8m8 0h8m28 0h12m-56 4h12m32 0h12m-76 4h8m40 0h8m12 0h4m-72 4h8m44 0h4m12 0h4m-72 4h4m28 0h8m12 0h24m-48 4h12m12 0h4m8 0h12m-52 4h8m4 0h4m8 0h4m12 0h12m-52 4h8m4 0h16m16 0h8m-44 4h20m-16 4h24m16 0h12m-52 4h4m4 0h4m4 0h8m12 0h20m-56 4h4m4 0h4m4 0h8m12 0h8m4 0h8m-56 4h12m4 0h8m8 0h8m8 0h4m-116 4h4m32 0h4m24 0h12m4 0h8m8 0h20m-116 4h4m32 0h4m24 0h12m8 0h4m12 0h12m16 0h4m-96 4h4m24 0h12m8 0h4m36 0h8m-80 4h8m8 0h8m8 0h4m36 0h8m-64 4h12m4 0h4m36 0h8m-112 4h4m48 0h32m20 0h8m-60 4h12m12 0h8m-32 4h12m12 0h8m-36 4h16m8 0h12m-40 4h36m24 0h24m-88 4h36m28 0h24m-88 4h36m28 0h24m-84 4h32m28 0h20m-68 4h12m36 0h16m-64 4h8m16 0h8m-36 4h16m16 0h4m-36 4h24m-40 4h44m-44 4h56m-56 4h56m-52 4h48m-48 4h20m4 0h20m-44 4h16m4 0h20m-44 4h16m4 0h20m-40 4h12m8 0h20m-40 4h12m8 0h20m-36 4h8m8 0h20m-48 4h8m8 0h20m4 0h8m-48 4h12m4 0h20m8 0h4m-48 4h40m-36 4h36m-36 4h16m8 0h12m-36 4h36m-36 4h36m-48 4h44m-44 4h28m-28 4h32m-32 4h32m-32 4h36m-36 4h16m4 0h16m-32 4h12m8 0h12m-32 4h12m12 0h8m-32 4h8m16 0h8m-8 4h8m-40 4h4m24 0h12m-20 4h24m-24 4h28m-28 4h32m-32 4h32m-32 4h16m4 0h12m-36 4h36m-36 4h32m-32 4h32m-32 4h36m-28 4h32m-28 4h28m-24 4h24m-24 4h24m-20 4h20m-16 4h12m-12 4h12m32 0h4m-44 4h12m24 0h12m-72 4h4m24 0h16m20 0h4m-68 4h8m24 0h12m-44 4h8m4 0h4m16 0h12m-8 4h12m-16 4h28m8 0h8m-56 4h56m-56 4h16m4 0h36m-56 4h16m8 0h32m-56 4h12m12 0h32m-56 4h8m12 0h8m12 0h12m-52 4h8m12 0h32m-36 4h36m-36 4h36m-36 4h36m-28 4h32"/>
<path stroke="#2b3292" d="M820 632h12m48 0h4m4 0h4m-68 4h8m48 0h12m-12 4h12m-16 4h16m-16 4h16m-12 4h8m-28 4h8m12 0h8m-52 4h4m16 0h12m12 0h8m-52 4h4m16 0h16m8 0h12m-36 4h40m-32 4h16m12 0h8m12 0h8m-76 4h4m16 0h12m20 0h4m8 0h12m-76 4h4m16 0h12m20 0h4m8 0h12m-56 4h8m20 0h8m4 0h16m4 0h4m-64 4h8m20 0h28m-56 4h12m12 0h16m4 0h8m-52 4h24m8 0h4m8 0h8m20 0h4m-76 4h24m8 0h4m8 0h4m20 0h8m-76 4h20m12 0h4m8 0h4m16 0h8m-56 4h20m8 0h4m-32 4h32m-32 4h36m-36 4h48m-52 4h24m24 0h8m-60 4h28m24 0h8m-60 4h28m24 0h8m-60 4h28m20 0h8m-64 4h36m16 0h4m-60 4h16m8 0h32m24 0h4m-80 4h16m4 0h32m24 0h4m-72 4h24m8 0h20m-48 4h20m8 0h24m-40 4h48m-48 4h48m-52 4h48m-52 4h20m12 0h20m-56 4h20m20 0h16m-60 4h24m12 0h20m-56 4h24m8 0h8m-40 4h40m-40 4h40m-52 4h4m8 0h40m-52 4h8m4 0h40m-48 4h32m8 0h4m-44 4h24m-24 4h24m-24 4h24m-24 4h20m4 0h8m-36 4h20m4 0h16m-56 4h32m8 0h16m-52 4h24m12 0h20m-56 4h16m24 0h20m-56 4h16m28 0h8m-52 4h16m-16 4h16m-16 4h16m-16 4h20m-20 4h20m-20 4h20m-16 4h16m-12 4h12m-8 4h8m-8 4h8m-8 4h8m8 0h8m-24 4h8m8 0h16m-36 4h36m-36 4h36m-32 4h24m-20 4h16m-16 4h20m8 0h8m-36 4h40m-40 4h40m-40 4h44m-48 4h52m12 0h8m-72 4h32m4 0h16m8 0h8m-64 4h24m12 0h8m8 0h12m-56 4h20m4 0h12m8 0h12m-56 4h32m16 0h12m-60 4h36m12 0h12m-56 4h32m12 0h12m-44 4h8m8 0h8m8 0h12m-28 4h24m-24 4h20m-20 4h24m12 0h12m4 0h4m-56 4h28m8 0h12m-52 4h52m-52 4h52m-52 4h52m-52 4h60m-60 4h44m4 0h12m-56 4h36m8 0h12"/>
<path stroke="#2a308f" d="M884 632h4m4 0h4m16 0h20m-40 4h4m16 0h20m-40 4h4m16 0h12m60 0h8m-100 4h4m12 0h12m64 0h8m-100 4h8m8 0h12m64 0h8m-104 4h36m48 0h4m12 0h4m-104 4h40m40 0h8m-88 4h44m28 0h12m-80 4h40m28 0h12m76 0h4m-156 4h40m28 0h8m76 0h4m-152 4h12m8 0h4m8 0h8m28 0h8m24 0h4m-104 4h8m12 0h16m32 0h8m20 0h8m-104 4h8m12 0h16m20 0h4m8 0h8m20 0h8m-104 4h4m16 0h4m4 0h4m20 0h8m8 0h4m24 0h8m-84 4h24m8 0h8m-44 4h8m8 0h16m4 0h8m24 0h4m-100 4h8m20 0h8m8 0h4m4 0h8m28 0h12m-100 4h8m16 0h20m8 0h4m32 0h12m16 0h4m-124 4h12m16 0h4m4 0h8m8 0h8m32 0h8m20 0h4m-96 4h4m4 0h20m40 0h4m-72 4h28m24 0h8m-56 4h20m20 0h12m-40 4h8m16 0h16m-36 4h4m12 0h20m-36 4h8m8 0h20m8 0h24m-68 4h72m-76 4h76m-84 4h84m-88 4h24m4 0h28m8 0h24m-88 4h24m4 0h4m8 0h20m8 0h20m-108 4h8m20 0h24m8 0h24m12 0h16m-112 4h8m24 0h52m12 0h16m-72 4h4m4 0h36m16 0h16m-76 4h4m4 0h36m20 0h12m-80 4h8m8 0h32m20 0h12m-112 4h12m20 0h8m20 0h20m20 0h12m-116 4h20m16 0h8m16 0h20m-80 4h12m20 0h12m16 0h16m-76 4h8m8 0h28m16 0h12m-56 4h32m16 0h8m-56 4h36m-36 4h40m-40 4h40m-56 4h8m4 0h24m8 0h8m-60 4h44m-44 4h44m-44 4h48m-52 4h4m8 0h16m12 0h12m16 0h4m-76 4h4m16 0h8m16 0h12m12 0h8m-80 4h8m16 0h12m12 0h12m16 0h4m-84 4h12m20 0h12m-52 4h24m20 0h16m-56 4h28m8 0h20m-56 4h60m-60 4h20m4 0h24m8 0h4m-60 4h20m8 0h20m8 0h4m-56 4h16m4 0h24m8 0h8m-60 4h32m20 0h8m-60 4h32m-32 4h36m12 0h4m-52 4h36m12 0h4m-52 4h40m8 0h4m-52 4h40m8 0h8m-56 4h8m8 0h24m8 0h12m-60 4h8m16 0h36m-36 4h40m-40 4h40m-48 4h52m-56 4h44m8 0h8m-56 4h8m8 0h16m4 0h8m4 0h8m-36 4h12m4 0h20m-36 4h40m-36 4h36m4 0h24m-60 4h12m8 0h52m-72 4h8m8 0h52m-72 4h8m12 0h36m8 0h4m-68 4h8m12 0h20m8 0h8m-60 4h16m12 0h16m8 0h8m8 0h4m-68 4h12m12 0h44m-68 4h12m12 0h48m12 0h4m-84 4h8m12 0h48m8 0h8m-68 4h68m12 0h8m-92 4h72m12 0h12m-92 4h12m12 0h4m4 0h16m4 0h16m12 0h12m-88 4h8m12 0h24m8 0h12m-44 4h24m8 0h8m-40 4h28m-28 4h36m-28 4h28m-44 4h4m12 0h32m-52 4h8m12 0h32m32 0h4"/>
<path stroke="#282e8a" d="M896 632h4m8 0h4m20 0h16m32 0h36m40 0h8m16 0h8m8 0h8m-208 4h4m8 0h4m20 0h4m8 0h8m28 0h36m68 0h4m8 0h8m-208 4h4m4 0h8m12 0h12m12 0h8m24 0h4m8 0h24m80 0h8m-208 4h12m12 0h16m12 0h8m24 0h4m8 0h8m4 0h12m56 0h4m-176 4h8m12 0h12m16 0h12m8 0h16m8 0h8m4 0h16m52 0h4m-152 4h8m16 0h24m4 0h12m4 0h8m8 0h16m48 0h8m32 0h8m-192 4h4m12 0h24m8 0h8m4 0h12m8 0h16m-80 4h16m12 0h8m28 0h16m20 0h12m-124 4h4m8 0h16m12 0h4m24 0h4m4 0h12m24 0h4m4 0h4m28 0h4m-152 4h4m4 0h20m8 0h8m16 0h24m4 0h4m16 0h4m4 0h4m-132 4h8m8 0h28m8 0h4m16 0h4m4 0h8m12 0h4m16 0h12m-120 4h32m8 0h8m8 0h4m8 0h8m12 0h4m20 0h12m-124 4h20m4 0h8m8 0h20m8 0h12m32 0h16m-132 4h20m8 0h8m4 0h24m8 0h16m32 0h12m-120 4h8m8 0h60m40 0h4m20 0h8m-168 4h8m16 0h4m8 0h24m4 0h28m8 0h8m8 0h8m32 0h16m28 0h8m-208 4h8m16 0h28m12 0h28m8 0h24m32 0h16m28 0h8m-188 4h32m12 0h16m4 0h4m20 0h16m36 0h8m-176 4h4m24 0h32m8 0h20m4 0h8m16 0h20m32 0h4m-172 4h4m20 0h40m4 0h8m8 0h24m8 0h12m4 0h4m-112 4h24m8 0h20m8 0h28m4 0h12m4 0h12m-124 4h20m12 0h24m8 0h44m8 0h8m-124 4h16m16 0h76m12 0h4m-124 4h12m20 0h80m4 0h8m8 0h12m36 0h8m-184 4h8m20 0h8m24 0h20m4 0h36m8 0h12m36 0h12m-124 4h16m8 0h36m4 0h12m36 0h12m-124 4h76m36 0h12m-124 4h80m32 0h8m-152 4h8m24 0h88m-144 4h8m20 0h8m20 0h100m-156 4h8m24 0h12m16 0h16m4 0h76m-124 4h12m16 0h12m8 0h40m8 0h28m-164 4h4m36 0h16m16 0h8m8 0h40m12 0h20m-160 4h4m36 0h20m12 0h8m4 0h44m12 0h16m-156 4h8m32 0h20m12 0h8m4 0h44m8 0h20m-156 4h20m20 0h20m12 0h36m4 0h44m8 0h16m-180 4h16m20 0h72m8 0h64m-180 4h16m16 0h80m8 0h60m-180 4h16m12 0h148m-172 4h16m8 0h128m4 0h16m-168 4h72m8 0h16m4 0h32m24 0h8m8 0h4m8 0h4m-184 4h68m12 0h44m56 0h4m-184 4h68m12 0h44m-144 4h8m8 0h72m20 0h20m8 0h12m16 0h4m-168 4h88m24 0h12m16 0h8m-148 4h72m4 0h12m24 0h12m16 0h4m-140 4h84m24 0h8m44 0h8m-192 4h12m12 0h16m4 0h52m8 0h12m4 0h4m8 0h12m32 0h16m12 0h20m-228 4h16m12 0h12m8 0h8m16 0h28m8 0h24m8 0h8m32 0h16m12 0h20m-224 4h12m12 0h16m4 0h8m12 0h28m12 0h24m48 0h16m12 0h20m-220 4h48m12 0h28m16 0h16m52 0h8m8 0h8m4 0h20m-212 4h40m16 0h24m16 0h12m56 0h4m12 0h28m-208 4h44m16 0h20m20 0h8m48 0h12m12 0h20m-196 4h44m12 0h12m84 0h8m20 0h12m-232 4h4m24 0h8m4 0h44m12 0h12m84 0h8m20 0h16m-236 4h8m20 0h8m4 0h8m8 0h24m8 0h4m4 0h12m88 0h4m24 0h8m-232 4h4m24 0h8m8 0h8m4 0h12m4 0h8m16 0h16m-96 4h20m8 0h16m12 0h8m16 0h16m36 0h12m8 0h8m40 0h4m24 0h4m-232 4h44m12 0h8m16 0h16m20 0h28m8 0h8m40 0h8m20 0h4m-228 4h12m4 0h24m8 0h8m20 0h16m16 0h32m12 0h4m40 0h12m16 0h4m-228 4h12m4 0h24m4 0h12m20 0h16m12 0h8m8 0h8m28 0h4m36 0h16m8 0h8m-224 4h8m4 0h40m16 0h20m8 0h16m40 0h12m32 0h28m-224 4h8m8 0h36m4 0h28m12 0h16m40 0h12m32 0h28m-224 4h8m12 0h28m4 0h32m12 0h16m40 0h12m24 0h4m12 0h20m-204 4h28m4 0h32m68 0h8m28 0h4m16 0h16m-200 4h12m16 0h36m60 0h8m56 0h8m-196 4h12m16 0h40m56 0h8m60 0h4m-192 4h12m4 0h48m56 0h4m-136 4h8m8 0h64m24 0h8m4 0h12m-136 4h4m8 0h4m8 0h68m16 0h24m64 0h8m-204 4h4m20 0h100m76 0h4m-176 4h96m-96 4h4m24 0h28m4 0h16m12 0h8m-56 4h16m8 0h12m12 0h8m-60 4h20m8 0h8m8 0h16m60 0h8m-144 4h8m4 0h64m60 0h8m-160 4h8m8 0h44m8 0h20m20 0h4m-112 4h8m8 0h8m4 0h32m8 0h20m-60 4h32m4 0h24m-56 4h12m4 0h52m-68 4h8m8 0h52m36 0h8m-96 4h12m8 0h32m36 0h8m-96 4h12m12 0h24m16 0h4m24 0h4m-116 4h4m16 0h12m12 0h16m24 0h4m24 0h8m-120 4h8m12 0h40m16 0h8m36 0h12m-132 4h8m8 0h44m12 0h12m16 0h8m12 0h20m-136 4h56m12 0h16m8 0h12m16 0h20m-132 4h52m12 0h28m28 0h16m-136 4h56m12 0h36m16 0h20m-136 4h56m8 0h36m16 0h20m-136 4h32m4 0h64m20 0h4"/>
<path stroke="#272d84" d="M900 632h8m40 0h4m8 0h20m36 0h4m16 0h20m8 0h4m8 0h4m8 0h8m8 0h4m24 0h4m-236 4h8m28 0h8m8 0h4m4 0h20m36 0h4m20 0h28m8 0h8m4 0h8m8 0h4m24 0h4m-236 4h4m32 0h12m8 0h4m8 0h12m36 0h4m16 0h12m8 0h40m8 0h4m24 0h4m-200 4h4m4 0h4m8 0h4m8 0h12m20 0h4m12 0h4m16 0h8m12 0h16m4 0h8m4 0h24m20 0h4m-204 4h16m12 0h8m32 0h4m16 0h4m8 0h12m12 0h16m4 0h4m12 0h32m-192 4h16m52 0h8m16 0h4m4 0h12m8 0h20m20 0h8m4 0h8m8 0h8m-196 4h4m4 0h4m40 0h4m12 0h8m16 0h60m4 0h8m8 0h28m-200 4h12m36 0h28m16 0h20m12 0h36m16 0h24m-196 4h8m32 0h8m8 0h8m4 0h4m12 0h24m12 0h28m4 0h4m16 0h8m8 0h8m-192 4h4m36 0h8m4 0h4m24 0h4m4 0h8m4 0h4m12 0h16m4 0h16m32 0h8m-152 4h16m16 0h12m4 0h4m8 0h4m12 0h12m8 0h12m-104 4h8m20 0h12m4 0h4m12 0h4m12 0h8m8 0h12m-72 4h16m12 0h4m16 0h4m8 0h32m24 0h4m-116 4h16m8 0h8m12 0h4m8 0h32m20 0h8m-116 4h40m4 0h20m8 0h16m16 0h12m-120 4h8m8 0h8m8 0h32m16 0h12m8 0h8m8 0h4m-120 4h8m24 0h32m16 0h28m8 0h4m-124 4h20m16 0h36m8 0h44m-120 4h16m20 0h32m4 0h48m-144 4h8m24 0h8m12 0h4m4 0h64m4 0h16m-144 4h8m28 0h4m12 0h4m12 0h32m4 0h24m4 0h12m-144 4h8m44 0h8m8 0h28m12 0h36m-92 4h12m4 0h32m8 0h36m-88 4h4m8 0h8m12 0h12m8 0h16m8 0h12m-116 4h4m36 0h8m12 0h12m12 0h12m12 0h8m-116 4h8m36 0h4m12 0h12m8 0h16m12 0h8m-56 4h36m12 0h8m-52 4h32m8 0h12m-44 4h44m-32 4h32m-112 4h4m76 0h32m-116 4h8m40 0h8m28 0h32m-116 4h8m40 0h12m20 0h36m-116 4h4m44 0h12m16 0h40m-116 4h4m44 0h8m20 0h40m-88 4h4m44 0h8m16 0h16m-88 4h8m64 0h16m-84 4h8m60 0h16m-20 4h20m-40 4h4m16 0h20m-116 4h8m16 0h4m32 0h24m8 0h8m4 0h8m-112 4h12m44 0h56m-112 4h12m44 0h60m-116 4h20m20 0h8m12 0h16m4 0h36m-116 4h24m12 0h16m8 0h56m-132 4h4m12 0h24m12 0h16m4 0h60m-116 4h24m8 0h44m8 0h32m-128 4h8m12 0h4m4 0h8m12 0h32m16 0h12m-152 4h16m28 0h8m24 0h8m8 0h32m16 0h12m-152 4h12m28 0h12m24 0h48m16 0h12m-152 4h12m28 0h16m16 0h52m8 0h8m8 0h4m-152 4h16m24 0h16m12 0h56m4 0h12m28 0h4m-168 4h16m20 0h20m8 0h48m12 0h12m20 0h12m-164 4h12m12 0h84m8 0h20m12 0h16m-164 4h12m12 0h84m8 0h20m16 0h12m-200 4h8m24 0h8m4 0h4m12 0h88m4 0h24m8 0h16m-196 4h4m12 0h4m8 0h16m16 0h136m-188 4h12m8 0h16m16 0h36m12 0h8m8 0h40m4 0h24m-184 4h12m8 0h16m16 0h20m28 0h8m8 0h40m8 0h20m-184 4h8m8 0h20m16 0h16m32 0h12m4 0h40m12 0h16m-184 4h4m12 0h20m16 0h12m8 0h8m8 0h28m4 0h36m16 0h8m-164 4h16m20 0h8m16 0h40m12 0h32m-144 4h4m28 0h12m16 0h40m12 0h32m-148 4h4m32 0h12m16 0h40m12 0h24m4 0h12m-156 4h4m32 0h68m8 0h28m4 0h16m-172 4h16m36 0h60m8 0h56m8 0h4m-188 4h16m40 0h56m8 0h60m4 0h4m-184 4h4m48 0h56m4 0h72m-128 4h24m8 0h4m12 0h80m-124 4h16m24 0h64m8 0h12m-92 4h76m4 0h12m-92 4h92m-132 4h4m16 0h12m8 0h92m-132 4h8m12 0h12m8 0h92m-132 4h8m8 0h8m16 0h60m8 0h24m-92 4h60m8 0h24m-124 4h8m20 0h20m4 0h72m-124 4h8m20 0h96m-124 4h4m24 0h96m-84 4h84m-84 4h36m8 0h40m-84 4h36m8 0h24m12 0h4m-88 4h16m4 0h24m4 0h24m12 0h4m-96 4h24m4 0h24m8 0h24m8 0h4m-96 4h16m8 0h36m12 0h24m-96 4h12m12 0h16m8 0h12m20 0h16m-96 4h12m16 0h8m12 0h16m20 0h12m-92 4h12m28 0h28m16 0h8m-88 4h12m36 0h16m20 0h4m-84 4h8m36 0h16m20 0h4m-40 4h20m4 0h16"/>
<path stroke="#262c7f" d="M952 632h8m60 0h16m32 0h8m32 0h8m8 0h8m-176 4h4m60 0h20m28 0h8m32 0h4m12 0h8m-172 4h8m52 0h16m12 0h8m52 0h8m8 0h8m-192 4h4m16 0h8m52 0h16m8 0h12m28 0h4m24 0h20m-108 4h8m12 0h12m24 0h12m32 0h12m-108 4h4m12 0h8m28 0h12m8 0h4m24 0h8m-200 4h4m144 0h4m8 0h8m28 0h4m-44 4h8m4 0h4m24 0h4m-152 4h8m100 0h4m8 0h4m8 0h8m8 0h4m-148 4h4m44 0h4m32 0h4m16 0h32m8 0h4m-104 4h8m28 0h8m12 0h48m-104 4h12m24 0h8m12 0h48m-104 4h12m24 0h8m32 0h24m-96 4h8m24 0h8m32 0h20m-20 4h16m-16 4h8m0 16h4m-28 4h4m24 0h4m-36 4h12m-8 4h8m-8 4h8m-8 4h12m-12 4h8m20 224h12m-12 4h12m-8 4h8"/>
<path stroke="#252b7a" d="M1116 632h8m-12 4h12m-8 4h8m-24 20h4m-8 4h8"/>
<path stroke="#aad423" d="M300 636h4m56 8h4m-8 4h4m8 4h8m-64 8h4m56 0h4m-36 4h4m-44 20h4m0 4h8m-8 4h4m44 4h4m-48 4h4m-8 8h4m56 0h4m-4 20h4m4 0h8m-8 8h4m-8 12h4m4 8h4m0 8h4m-8 44h4m-4 4h4m0 4h4m0 8h4m-12 56h4m-4 4h4m-4 4h4m-4 4h4m0 8h4m-4 4h4m-12 4h4m4 0h4m-8 4h4m4 12h4m0 44h4m0 8h4m-4 4h4m-4 4h4"/>
<path stroke="#f0e618" d="M304 636h8m40 0h4m-12 4h4m8 0h4m-28 4h4m12 0h4m28 8h4m-84 4h4m4 8h4m32 8h4m-48 4h4m40 12h4m24 0h4m-64 4h4m48 4h4m-12 8h8m-12 4h4m-4 8h4m12 20h4m-12 4h8m-16 4h4m20 16h4m-4 12h4m-8 12h4m0 36h4m-12 28h4m4 0h4m-16 40h4m-4 12h4m0 8h4m4 16h4m-4 4h4m-4 12h8m-4 4h4m-4 4h4m-4 4h4m4 36h4m-4 4h4"/>
<path stroke="#f08a18" d="M316 636h4m0 12h4m8 0h4m28 20h4m-28 8h4m20 8h4m-56 24h4m-8 8h4m4 0h4m12 4h4m12 0h4m-32 4h4m24 0h4m-32 4h4m16 0h8m-48 4h4m16 0h4m-16 4h4m4 0h4m32 68h4m8 68h4m-16 28h4m4 12h4m-4 4h4m-4 36h4m4 8h4m4 8h4m-8 20h4"/>
<path stroke="#65c12f" d="M328 636h4m52 12h4m-88 4h4m44 8h4m-8 8h4m24 0h4m16 0h4m-88 8h4m60 0h4m-68 4h4m64 8h4m-80 4h4m-4 12h4m76 0h4m-24 8h4m4 4h4m8 4h4m-4 4h4m-4 12h4m-8 16h8m-4 28h4m-4 4h4m-4 16h4m0 16h4m0 20h4m-8 16h4m-4 4h4m-4 16h4m-4 4h4m-4 16h4m0 36h4m0 12h4m-4 4h8m-8 4h8m-4 4h4m-8 4h12m-4 4h4m-4 4h4m-4 4h4m-4 4h4m0 8h4m-4 4h4m-4 4h4m-8 4h4"/>
<path stroke="#9cd025" d="M348 636h4m-28 8h4m60 28h4m-80 16h4m-12 8h4m48 0h4m8 8h8m-4 8h4m0 4h4m-4 4h4m-20 4h4m12 0h4m-4 8h4m0 28h4m-8 96h4m-8 4h4m-4 8h4m-8 24h8m-8 4h4m4 0h8m-12 8h4m8 0h4m-12 4h4m4 0h4m-4 12h4m0 44h4m0 8h8m-4 4h4m-4 4h4m-4 12h4"/>
<path stroke="#60c030" d="M364 636h4m-64 4h4m16 0h4m48 4h4m-16 4h4m-60 8h4m72 0h4m-12 8h4m8 0h4m-44 4h4m20 4h4m8 0h4m4 4h4m-20 8h4m4 28h4m-28 4h4m16 24h4m-12 8h4m4 40h4m-4 8h4m4 36h4m-4 16h4m-4 12h4m-4 4h4m-4 4h4m-8 12h4m-4 4h4m-4 4h4m0 16h4m-4 4h4m-4 16h4m0 12h4m0 4h4m0 8h4m-12 4h4m4 0h4m0 8h4m-4 4h4m0 24h4m-8 4h8"/>
<path stroke="#54bd44" d="M388 636h4m-24 8h4m32 4h4m-20 4h8m8 0h4m-16 4h4m8 0h4m8 4h12m-8 4h4m-4 4h8m-16 4h4m-32 12h4m24 0h4m-24 4h4m-4 8h4m8 0h4m4 4h4m-8 12h4m-8 8h4m-4 12h4m-4 4h8m-20 8h4m8 4h4m8 0h4m-32 4h4m24 0h4m-16 12h4m-4 4h4m4 4h4m0 4h4m-32 8h4m28 4h4m-4 4h4m-4 28h4m-24 8h4m16 0h4m-24 4h4m12 16h4m-4 4h4m-4 4h4m-4 4h4m-4 4h4m-4 4h4m-16 8h8m8 0h4m-20 4h4m4 0h4m-8 4h4m8 8h4m-20 8h8m-8 8h4m8 12h4m0 24h8m12 8h4m-4 4h4m-16 4h4m8 0h8m-20 4h4m-8 12h12m4 4h4m-16 4h4m12 0h4m-24 4h4m8 4h8"/>
<path stroke="#53bc3a" d="M392 636h4m-16 4h4m4 0h4m-92 8h4m4 0h4m80 0h4m12 0h8m-112 4h4m92 0h4m12 0h4m-20 4h4m8 0h8m-20 4h4m-4 4h4m-4 4h4m4 4h4m0 4h4m-36 12h4m-4 4h4m12 0h4m12 0h4m-20 4h4m8 0h8m-20 16h4m0 12h4m-4 4h4m-12 8h8m-4 4h4m-4 4h4m-4 4h8m-4 4h8m-20 4h4m12 0h4m-16 4h12m-4 4h4m-8 8h4m0 4h16m0 4h4m-4 4h4m-32 4h4m16 0h12m-12 4h4m-4 4h8m4 0h4m-8 16h4m-4 4h4m-28 4h8m-8 4h4m4 0h4m-12 4h4m8 0h16m-16 8h8m0 4h4m-4 8h4m-8 4h8m-4 4h4m-4 4h4m-4 4h4m-4 4h4m-12 4h12m0 8h4m-4 4h4m-4 4h4m-4 4h4m-16 4h4m-8 4h4m8 0h4m-16 4h4m12 0h4m-16 8h4m0 4h4m4 8h4m-4 8h4m-4 16h8m0 4h4m-8 28h4m-4 4h4m4 8h4"/>
<path stroke="#52bc35" d="M396 636h4m-16 4h4m12 0h4m-32 4h4m12 0h4m8 0h4m-4 4h4m-8 4h4m8 0h4m-16 4h4m-4 4h4m0 12h8m-28 12h4m8 0h4m12 0h4m-16 4h4m0 4h4m-20 8h4m4 0h8m-4 8h4m-8 4h4m4 0h8m-12 4h4m4 0h4m-8 4h4m-8 12h4m-12 4h4m8 20h4m-16 4h4m4 4h4m-4 4h4m-4 8h4m-8 4h4m8 0h12m-24 4h4m12 0h8m0 12h4m-12 4h8m4 0h4m-4 4h4m-20 8h4m-16 4h16m-8 4h4m12 0h4m-16 4h16m-28 8h4m4 8h4m8 4h4m-12 4h8m-8 4h4m0 4h4m-12 20h4m-4 4h4m0 8h12m-12 4h4m-8 4h4m4 0h4m4 0h4m-4 4h8m-4 4h4m-24 4h4m0 8h4m-4 4h4m4 0h4m0 8h4m-4 24h8m0 4h4m-4 4h4m-4 4h4m-4 4h4m-8 4h4m-4 4h4"/>
<path stroke="#53bd3f" d="M400 636h4m-100 8h4m80 4h4m-4 8h4m16 0h4m12 8h4m-24 4h4m4 12h4m-28 4h4m20 4h4m-16 8h4m-16 4h4m8 8h4m-4 24h4m-4 4h4m-16 4h8m4 0h4m-4 4h4m-8 8h4m-8 4h8m4 4h4m-8 8h4m-4 4h12m-24 8h4m20 12h8m0 16h4m-28 16h4m20 0h4m-20 8h16m-24 4h8m8 0h4m0 36h4m-8 4h8m0 4h4m-20 4h4m4 0h4m4 0h4m-4 4h4m-4 8h4m-4 12h4m-16 4h4m0 4h4m0 20h4m-4 4h4m-4 4h4m4 4h4m0 20h4m-8 4h8m0 8h8m-8 4h12m-24 4h4m4 0h20m-28 4h8m4 0h4m8 0h4"/>
<path stroke="#60c390" d="M416 636h4m0 12h4m0 4h12m-4 4h4m0 12h4m-4 4h4m0 4h4m-16 92h4m-4 12h4m-4 4h4m-4 16h4m-4 4h4m-4 4h4m0 8h4m-8 20h4m-8 4h4m-4 4h4m0 8h4m0 8h4m-4 4h4m-4 4h4m-8 8h4m-4 4h4m-4 4h4m-4 4h4m-4 4h4m-4 4h4m-4 4h4m0 12h8m0 4h4m-4 4h4m0 8h4m-4 4h4m0 4h4m-4 4h4"/>
<path stroke="#58bee8" d="M444 636h4m12 8h4m8 12h4m-8 4h8m-24 4h4m8 0h4m4 0h4m4 0h4m0 8h4m-20 12h4m-4 4h4m-28 4h8m-16 4h4m24 0h4m-8 4h4m-28 4h4m4 0h4m12 0h4m0 4h4m-24 8h4m16 4h4m-12 4h4m-4 4h8m-4 4h4m-4 4h4m-8 4h8m-8 4h8m0 20h4m0 8h4m-4 4h4m-4 4h4m-4 8h4m-8 4h8m-12 4h8m4 4h4m-8 8h4m-4 4h4m0 8h4m-24 4h8m12 0h4m-16 8h8m-12 4h8m-4 8h4m0 4h4m0 8h4m-12 4h12m-12 4h8m4 0h4m0 4h4m-4 4h4m-8 4h8m-24 4h4m12 0h4m-4 4h4m-12 4h4m4 0h4m-20 4h4m4 0h12m-16 4h4m4 0h4m-12 4h4m0 8h4m-4 4h4m-4 4h4m0 8h4m4 0h8m-12 4h12m-8 4h8m-8 4h8m-8 4h8m-8 4h8m-8 4h4m-4 4h8m0 8h4m-4 4h4m-4 4h8m-12 4h4m0 4h8m-4 4h4m0 4h4m0 4h4m-24 4h4m16 0h4"/>
<path stroke="#4284cd" d="M464 636h4m4 0h4m8 4h4m-8 4h4m-4 4h4m0 8h4m0 16h4m-4 4h4m-16 4h4m-4 4h4m-4 4h4m0 12h4m-4 20h4m-16 12h12m-12 4h12m-8 4h16m-8 4h12m-8 4h8m-8 12h4m-12 4h4m4 0h4m-4 4h4m-4 4h8m-12 4h4m4 0h8m-8 4h8m-16 12h4m0 20h4m-4 24h4m-8 4h4m-4 4h4m0 4h4m0 8h4m-4 12h4m-4 4h4m-4 4h4m-4 8h4m12 4h4m0 4h4m-8 4h8m-8 4h4m-20 4h12m0 4h4m-8 12h4m-4 8h4m12 4h4m-8 4h4m-16 4h12m-12 4h12m-12 4h8m-12 4h4m4 0h4m-12 4h8m-4 4h4m-4 4h4m0 4h12m0 4h4m-8 4h4m0 16h4"/>
<path stroke="#4ba0db" d="M480 636h4m-16 8h12m-28 4h8m-4 4h4m16 0h4m-24 4h4m20 0h4m-12 20h4m-4 8h4m-4 4h4m0 12h4m-8 4h8m-40 4h4m28 0h8m-40 4h8m24 0h4m-4 4h4m-8 4h8m-12 8h4m-4 4h4m8 20h4m-12 8h4m0 8h4m0 8h4m-8 8h4m0 12h4m-4 4h4m-4 24h4m-4 4h4m-4 4h4m-8 4h4m-4 4h4m-4 4h4m-4 4h4m-4 4h4m0 4h8m0 4h4m-4 4h4m-4 4h4m-4 4h4m-4 4h4m-4 4h4m-8 4h4m-4 4h4m-4 4h4m-4 4h4m-4 4h4m-8 4h8m-8 4h8m-4 4h4m4 0h4m4 0h4m-20 4h16m-8 8h4m-4 4h4m12 0h4m-20 8h4m-4 4h4m-4 4h4m4 32h4m0 4h4m-4 4h4m0 8h4"/>
<path stroke="#3a6bc0" d="M492 636h4m-8 8h4m-4 4h4m-4 4h12m-12 4h12m-12 4h4m-4 24h4m-8 4h4m-4 8h4m-4 4h4m-4 20h4m-4 8h4m-4 4h4m4 4h4m0 4h12m-12 4h12m-12 4h8m-12 8h4m0 16h4m0 8h4m-4 4h8m-12 4h4m-8 4h4m-8 4h4m-4 4h4m-4 4h4m8 0h4m-4 4h4m-12 4h4m4 0h4m-8 4h12m8 36h4m-4 4h4m-24 4h4m-4 4h4m-4 4h4m-4 4h4m0 4h4m-4 4h8m0 4h4m0 4h4m-24 4h4m16 0h4m-24 4h4m16 8h4m-12 4h8m-8 4h4m0 4h4m0 4h4m0 8h4m0 4h4m-4 4h4m-4 8h4m-12 4h12m-12 4h8m-16 4h20m-20 4h8m8 0h4m-4 4h4m-4 4h4m-4 4h4m-4 4h4m0 4h4m-4 4h4m-8 8h4"/>
<path stroke="#3b64bc" d="M496 636h4m4 0h4m-8 4h8m-12 4h8m-8 16h4m12 0h4m-24 4h4m16 0h8m-4 4h4m-28 12h4m-4 4h4m-4 4h4m-8 4h4m4 0h4m-12 4h4m4 0h4m-12 4h4m-4 4h4m-4 16h4m-4 4h4m-4 4h8m-4 4h4m0 4h12m0 4h4m-4 4h4m-12 8h4m-8 4h4m-4 4h4m-4 4h4m0 8h4m0 4h4m4 0h4m-8 4h12m-8 4h4m-8 4h4m-12 4h8m-8 4h4m0 4h4m0 4h4m-4 4h4m-4 4h4m-8 24h8m-8 4h12m-12 4h8m4 0h4m-12 4h4m8 0h4m-12 8h4m-12 4h4m12 0h4m-20 4h4m-4 4h4m-4 4h4m0 4h4m4 24h4m0 20h4m-4 4h4m0 4h4m0 4h4m-8 8h4m-4 4h4m-4 20h4m-4 4h4m-4 4h4m0 8h4m-4 4h4m-4 4h8m-8 4h4"/>
<path stroke="#56bd33" d="M300 640h4m88 0h4m-4 4h4m-8 16h4m-48 4h4m32 4h4m12 0h4m-4 4h4m-4 4h4m-4 4h12m-12 4h12m-8 4h8m0 4h4m-20 12h4m0 16h4m-4 8h4m-16 16h4m-4 4h4m0 16h4m0 4h4m-8 8h8m-12 4h4m12 4h4m-12 4h4m-12 4h4m16 4h4m-4 4h4m8 0h4m-32 4h12m4 0h4m-12 4h8m-16 8h4m-4 4h4m0 16h4m4 8h4m-4 4h4m-4 4h4m4 12h4m-8 4h4m-16 20h4m0 4h4m12 0h4m-24 4h8m-8 4h4m-4 12h4m-4 4h8m0 4h4m0 4h4m4 0h4m-4 4h4m-4 28h8m-4 4h8m-4 4h4m-8 12h4m-8 4h8"/>
<path stroke="#ef8219" d="M316 640h4m-4 56h4m0 12h4m8 0h4m-24 12h4m12 0h4m0 4h8m-4 4h4m-36 8h4m36 8h4m8 24h4m-4 16h4m-8 4h4m0 20h4m-4 20h4m-4 20h4m0 4h4m-8 36h4m-8 8h4m4 24h4m-4 4h4m0 8h4m-4 4h4m-4 4h4m-8 16h4m0 4h4m4 4h4"/>
<path stroke="#5cbf31" d="M328 640h4m32 0h4m-4 4h4m0 4h4m12 12h4m-4 4h4m4 0h4m-20 4h4m4 8h4m-8 24h4m0 20h4m4 4h4m-12 4h4m-4 8h4m-12 8h4m-4 4h4m4 8h4m-4 16h4m-4 32h4m0 24h4m0 16h4m-4 4h4m-4 4h4m-4 4h8m-4 4h8m-8 4h8m-12 4h4m-8 4h4m-4 4h4m-4 4h4m-4 36h4m0 12h4m0 4h4m4 8h4m-4 4h4m-4 4h4m0 12h4m0 8h4m-12 4h12m-8 4h4m-4 4h4m0 12h4"/>
<path stroke="#e5e51a" d="M360 640h4m-20 16h4m20 0h4m-4 4h4m-4 16h4m-68 4h4m64 16h4m-16 4h8m-16 12h4m0 12h4m-4 4h8m4 4h4m-16 12h4m4 0h4m0 8h4m0 4h4m-8 96h8m-12 40h4m-4 4h4m4 20h4m0 4h4m0 4h4m-4 4h4m-8 4h8m-8 4h8m0 24h4m0 24h4"/>
<path stroke="#58bd33" d="M396 640h4m-92 4h4m84 4h4m-20 24h4m-72 4h4m64 0h4m-72 4h4m72 28h4m-4 4h4m-4 4h4m-24 4h4m-4 4h4m24 0h4m-12 8h4m-8 8h4m-4 12h4m4 20h4m0 12h4m0 4h4m-12 4h4m4 0h4m-20 4h8m4 0h8m-16 4h16m-4 4h4m12 0h4m-20 52h4m-4 12h4m-8 4h4m-8 4h8m-8 4h8m-8 4h8m-12 4h4m4 0h4m-12 4h4m0 12h4m-4 4h4m-4 12h8m0 4h4m4 0h4m-4 20h4m-4 4h4m-4 4h4m0 8h4m0 4h4m-4 4h4m-4 4h4m-8 4h4m-4 8h4"/>
<path stroke="#63c6cb" d="M424 640h4m8 0h4m-16 8h4m12 16h4m0 8h4m0 4h12m-12 8h4m4 0h4m-28 24h4m-4 4h4m-4 4h4m-4 4h4m0 8h4m-8 8h4m4 4h4m-8 20h4m-4 12h4m-4 4h4m-4 4h4m0 12h4m-8 4h8m-8 4h4m16 8h4m-24 4h4m16 0h4m-20 28h4m-4 8h4m-8 4h4m0 8h4m-4 4h4m-8 12h4m4 0h4m-12 4h12m-16 4h4m4 0h8m-16 4h4m-4 4h4m4 8h4m4 4h4m-4 4h4m-8 4h4m0 8h4m8 20h4m-4 4h4m-8 8h4m0 12h4m-8 4h4m-4 8h8"/>
<path stroke="#62c5ae" d="M428 640h4m-12 4h4m4 4h4m4 0h4m4 28h4m-12 4h4m8 0h8m-4 4h4m-28 16h4m-8 16h8m-8 4h4m0 8h4m8 0h4m-4 8h4m-16 12h4m-4 12h4m0 4h4m-4 28h4m-4 4h4m0 24h4m-4 4h4m-4 16h4m-4 4h4m-8 4h4m-4 8h4m0 4h4m-4 8h4m-8 8h4m-4 28h12m-4 4h4m0 12h4m0 8h4m4 12h4m-4 4h4m-8 12h4m-4 12h4m-4 4h4m-4 4h4m-4 4h4"/>
<path stroke="#3b5ab6" d="M508 640h4m-8 8h4m-8 8h4m4 0h4m16 0h4m-32 4h4m-8 8h12m-8 4h4m12 4h8m-28 4h4m20 0h8m-20 8h4m-4 16h8m-8 4h4m-16 4h8m4 0h4m-12 4h8m-8 4h4m-4 4h4m8 0h4m-16 4h4m8 0h4m4 0h4m-20 4h12m4 0h4m-4 4h4m-8 4h4m-4 4h4m-8 4h8m-12 4h4m4 0h4m-4 4h4m-4 4h4m-16 4h16m-16 4h8m8 4h4m0 4h4m-4 4h4m-8 8h4m-8 4h4m-8 4h4m-4 4h4m-4 4h4m-4 4h4m-4 4h4m-4 4h12m-12 4h16m-20 4h12m8 0h4m-24 4h16m4 0h4m-16 4h8m-8 4h8m0 4h8m-8 16h4m-4 4h4m-16 4h4m-4 4h4m0 4h8m-8 4h4m-4 4h4m4 24h4m-4 4h4m-4 4h4m0 8h4m0 4h4m-4 12h4m-4 16h4m-4 4h4m-4 4h8m-8 4h12m-12 4h16m-16 4h8m4 0h4m-16 4h16m-16 4h16m-12 4h12m-4 4h4m-4 4h4"/>
<path stroke="#3b51b1" d="M512 640h4m-12 16h4m12 0h4m8 0h4m-4 4h4m0 8h4m-4 4h4m-4 4h4m-36 4h4m24 0h4m8 0h4m-44 4h4m16 4h4m-12 8h4m-4 4h4m4 4h8m-4 20h4m-4 4h4m-4 4h4m-4 4h4m-8 12h4m-4 4h4m-4 16h4m0 8h4m-4 4h4m-4 4h4m-4 4h4m-4 4h4m-8 4h4m-8 4h8m-4 4h4m-4 4h4m-4 4h4m0 4h4m0 8h4m-4 12h4m-8 20h4m-4 4h4m-4 4h4m-4 4h4m-4 28h4m-4 4h4m-4 4h4m-4 4h4m0 4h4m0 4h4m-4 16h4m-4 4h4m-4 4h4m-4 4h4m0 4h4m8 0h4m-8 4h8m-4 4h4m-4 4h4m-4 4h4m-4 4h4m-4 4h4m-4 4h4m-4 4h4m-4 4h4m0 8h4"/>
<path stroke="#55bd48" d="M300 644h4m100 0h12m0 4h4m0 8h4m-20 4h4m-4 4h4m20 0h4m-16 4h4m-4 4h4m-4 4h4m-20 24h4m-4 4h4m8 0h4m-12 4h4m0 8h4m-8 12h4m0 4h4m0 4h4m-12 4h12m-28 4h4m12 0h4m4 0h8m-32 4h8m16 0h4m-24 4h4m12 0h4m-4 4h4m4 0h4m-12 12h4m4 4h4m0 8h4m-4 4h4m-4 28h4m-4 4h4m-28 12h4m-4 4h4m20 0h4m-8 4h4m-4 4h4m-4 4h4m0 8h4m-4 4h4m-4 4h4m-4 4h4m-4 8h4m-16 8h4m-8 24h4m4 0h4m8 0h4m-20 4h4m4 0h4m4 0h4m-16 4h4m4 0h8m-8 12h4m-4 4h4m-4 4h4m-4 4h4m-4 4h8m0 4h4m-4 4h4m-4 4h4m-4 4h4m4 0h4m4 0h4m-8 8h8m-16 4h4m-4 4h4m0 4h4m-16 4h8m-8 4h4"/>
<path stroke="#8fcc28" d="M328 644h4m-20 4h4m44 0h4m-4 4h8m-56 4h4m60 4h4m8 8h4m-84 4h4m60 8h4m-76 8h4m72 16h4m-80 4h4m64 0h12m-24 4h4m8 0h4m4 0h4m-24 4h4m12 0h4m-8 28h4m0 8h4m4 16h4m0 52h4m-4 28h4m-8 4h4m-12 12h4m0 12h4m0 12h4m-4 4h4m-12 4h4m-4 4h8m4 0h4m-12 4h4m4 8h4m-4 4h4m0 20h4m-4 4h4m-4 20h4m0 8h8m-4 16h4m-4 4h4"/>
<path stroke="#73c52d" d="M380 644h4m-12 4h4m8 4h4m-84 4h4m72 4h4m8 12h4m-80 8h4m-4 4h4m56 8h4m-16 20h4m12 4h4m-24 4h4m16 8h4m-4 4h4m-8 4h4m-8 4h4m4 36h4m-4 28h4m4 36h4m-4 4h4m-8 16h4m-12 4h4m-4 4h12m-8 4h4m-4 4h4m4 72h4m-4 4h4m0 8h8m0 16h4m-4 12h4"/>
<path stroke="#5abe32" d="M384 644h4m8 0h4m-52 20h4m28 0h4m-8 8h4m-4 4h4m8 4h8m-12 24h4m-24 16h4m20 0h8m-12 4h8m-4 4h8m-8 40h4m-4 4h4m-8 4h4m8 12h4m-4 4h4m-8 4h4m-12 4h4m0 24h4m0 16h4m0 4h4m-4 4h4m-4 4h4m4 8h4m-4 4h4m-12 4h4m-8 4h4m-8 12h4m-4 12h4m0 28h8m-4 4h16m-4 4h4m-4 4h4m-4 4h4m-4 16h4m0 8h4m-4 24h4"/>
<path stroke="#54b4e4" d="M452 644h8m4 0h4m4 8h4m-20 8h4m8 8h8m0 4h4m0 4h8m-20 16h4m-32 4h4m4 0h4m16 0h4m-36 4h4m4 0h4m16 0h4m-4 4h4m0 8h4m-32 4h4m24 0h4m-8 8h4m-4 20h4m-4 4h4m-4 12h4m0 8h4m-4 16h4m-12 8h4m8 0h4m-4 4h4m-4 8h4m-4 4h4m-4 4h4m-4 4h4m-20 12h4m12 0h4m-24 4h4m12 0h4m-8 4h4m-8 4h4m0 4h4m0 4h4m-4 4h4m0 8h4m0 4h4m0 4h4m-4 4h4m-4 4h4m-8 4h4m-24 4h8m12 0h4m-24 4h8m12 0h4m-20 4h4m12 0h4m-16 4h4m4 0h4m-12 4h8m-8 4h4m0 4h4m-4 4h8m-8 4h8m-8 4h16m-12 4h4m8 0h4m-4 4h4m-4 4h4m-4 4h4m-4 4h4m-8 8h4m0 8h4m-4 16h4m4 0h4m-4 4h4m-4 4h4m0 4h4"/>
<path stroke="#3c53b2" d="M524 644h4m4 0h4m-28 4h4m20 0h4m-32 4h4m4 0h4m16 0h4m-20 4h4m-16 4h4m20 4h8m-8 4h8m-8 4h8m-28 4h8m12 0h8m-36 4h4m4 0h4m-4 4h4m16 0h4m-16 4h8m-12 4h8m-8 4h4m-12 8h4m-4 4h4m16 0h4m-16 4h4m-4 4h4m0 4h16m-28 4h4m16 0h4m-4 12h4m-4 4h4m-4 4h4m-8 16h4m-4 4h4m0 8h4m-4 20h4m-8 4h4m-8 4h4m-4 4h8m-4 4h4m0 8h4m4 24h4m-4 4h4m-8 8h4m-4 20h4m-4 4h4m-4 4h4m-4 4h4m-8 4h8m-8 4h8m-8 4h4m0 16h4m0 4h4m0 4h4m-4 4h4m-4 4h4m-8 16h4m0 4h4m0 4h8m0 4h4m-4 4h4m-4 4h4m-4 4h4m0 20h4m-4 4h4"/>
<path stroke="#f29c15" d="M328 648h4m24 12h4m-56 4h4m24 0h4m16 12h4m-36 4h4m32 8h4m-12 28h4m-36 4h4m-16 12h4m40 20h4m4 8h4m12 8h4m-16 8h4m-4 8h4m-8 4h4m0 20h4m-4 16h4m4 8h4m-16 4h4m-4 4h4m4 36h4m-8 32h4m0 16h4m4 36h4m0 4h4m0 16h4m-12 12h4"/>
<path stroke="#54bc34" d="M308 652h4m100 0h4m-24 8h4m0 4h4m0 12h12m-32 4h8m20 0h4m-4 8h4m-8 4h4m-28 4h4m4 8h4m4 0h4m-8 4h4m-4 8h4m4 0h4m-12 16h4m-4 32h4m0 16h8m-20 4h4m16 0h4m-24 4h4m16 0h4m-20 4h4m12 0h4m0 12h8m-28 4h8m8 0h16m-32 4h16m4 0h8m-8 4h8m-12 4h12m-20 20h4m4 0h8m-8 4h8m-8 12h4m0 4h4m-4 8h4m-12 4h4m-4 12h4m-4 4h4m-12 4h4m4 0h4m4 0h4m0 4h4m-20 4h4m-4 4h4m-4 4h4m-4 4h8m-4 4h4m4 4h4m0 12h4m-4 4h4m-4 4h4m-4 4h4m-4 4h4m-4 4h4m4 4h4m-4 12h4m-8 16h4m-4 4h4m-4 4h4"/>
<path stroke="#e85c1e" d="M320 652h4m32 20h4m-8 12h4m-16 12h4m-8 20h4m4 0h4m-4 4h4m-24 4h4m-4 4h4m-20 12h4m12 0h4m-4 4h4m0 4h4m-4 4h4m16 8h4m-52 4h4m48 0h4m-4 16h4m-12 16h4m-4 4h4m0 44h4m0 8h4m4 16h4m-16 24h4m0 16h4m-4 12h4m-4 8h4m4 8h4m-4 4h4m0 24h4m4 8h4"/>
<path stroke="#e83420" d="M324 652h4m0 20h4m-4 16h4m-28 56h4m4 8h4m16 0h8m-36 4h12m20 4h4m-28 4h8m4 0h4m8 0h4m0 4h12m-4 4h4m-28 12h4m12 4h4m-44 4h4m28 0h8m-8 4h4m-4 4h4m0 16h4m0 4h4m0 12h4m-4 4h4m-8 4h4m-8 4h4m-8 4h12m-8 4h4m4 4h4m-12 4h4m-4 4h4m4 0h4m-16 8h4m-4 4h4m-36 8h4m4 8h4m20 0h4m-16 24h4m4 0h4m8 0h4m-20 12h4m8 0h8m-16 4h4m4 0h4m4 0h4m4 4h4m8 40h4m-44 12h4m-4 4h4"/>
<path stroke="#e82f20" d="M328 652h4m-12 8h4m-4 8h4m4 0h4m28 4h4m-36 20h4m4 4h4m-32 52h4m4 4h4m-4 4h4m12 0h8m-28 4h8m-4 8h4m16 0h4m-28 8h4m28 0h4m-24 4h4m12 4h4m-44 12h4m28 8h4m-4 4h4m0 32h4m-8 4h4m0 12h4m4 4h4m-8 4h4m-36 8h4m20 8h4m-4 4h4m-32 4h8m-8 4h4m-4 4h4m32 0h4m-44 4h4m40 8h4m-28 4h4m4 0h4m8 0h4m-8 4h4m8 0h4m-16 4h4m-8 4h8m-20 4h4m16 4h4m-40 4h4m16 20h4m-16 4h4m4 0h4m-12 4h4m8 0h4"/>
<path stroke="#e8451f" d="M332 652h4m-4 4h4m-16 16h4m4 8h4m-8 4h8m-8 4h4m12 24h4m-12 36h4m-16 8h4m16 8h4m4 0h4m-44 4h4m28 32h4m-4 12h4m0 4h12m-12 4h4m-4 4h4m-4 20h4m-4 4h4m0 8h4m4 8h4m-4 4h4m-12 4h4m4 0h4m-20 4h4m8 0h4m-16 4h4m-4 4h4m0 8h4m-4 4h4m-4 4h4m-24 20h4m20 0h4m4 16h4m-4 12h4m-4 12h4"/>
<path stroke="#ea641d" d="M336 652h4m16 16h4m-24 4h4m12 8h4m-40 20h4m8 0h4m-16 4h8m8 0h4m8 8h4m-20 12h4m-20 16h4m20 0h4m0 4h4m-20 12h4m16 0h4m-44 8h4m40 20h4m4 32h4m-4 4h4m-8 8h4m4 36h4m-4 8h4m-12 16h4m-8 8h4m-4 4h4m8 32h4m-4 12h4m-4 16h4"/>
<path stroke="#f1de16" d="M352 652h4m-16 16h4m0 16h4m0 4h4m20 4h4m-24 12h4m-56 12h4m56 16h4m-4 4h4m-4 8h4m0 4h4m4 32h4m-8 4h4m0 20h4m-4 4h4m4 16h4m-4 4h4m-4 4h4m-4 4h4m-4 8h4m-12 4h4m-8 20h4m-4 12h4m-4 32h4m0 8h4m0 24h4m4 20h4m-4 4h4m-4 4h4"/>
<path stroke="#e83f1f" d="M320 656h4m0 20h8m4 16h4m-12 4h4m0 4h4m-36 44h4m4 0h4m24 4h4m-32 12h4m8 0h4m20 4h4m-48 4h4m40 12h4m-8 16h4m-8 8h4m-4 4h4m-4 4h4m0 4h4m0 24h4m4 20h4m-12 8h8m-12 4h4m8 0h4m-20 4h4m-40 12h4m32 0h8m-44 4h4m20 24h4m-4 8h4m16 0h4m-20 4h4m12 0h4m0 4h4m4 8h4m-4 4h4m4 28h4"/>
<path stroke="#c71e27" d="M324 656h4m-16 136h4m-4 4h8m-20 20h4m4 24h4m0 20h4m0 28h4m-4 8h4m-8 8h4m-12 12h4m-8 8h4m32 20h4m8 4h4m-20 4h4m-4 28h8m16 0h4m-24 4h4m-28 4h4m20 0h4m-32 4h4"/>
<path stroke="#d81f29" d="M328 656h4m-28 120h4m-8 4h8m4 8h4m-12 12h4m16 8h4m0 4h4m-12 8h8m-28 4h8m-4 20h4m-4 4h4m4 16h8m-4 20h4m4 8h4m-16 16h4m8 32h4m8 0h4m-20 4h4m24 0h4m-28 4h4m8 0h4m4 0h4m-20 4h4m0 4h4m-36 8h4m40 0h4m-48 4h4m20 4h4m8 0h4m-16 4h8m4 0h8m-16 4h4m20 0h4m-44 4h4m16 4h4m4 0h8m-44 4h4m40 0h4"/>
<path stroke="#ed7b1a" d="M336 656h4m20 8h4m-32 4h4m-4 16h4m4 8h4m-20 8h4m-12 12h4m4 8h4m8 12h4m-20 4h4m16 4h4m0 8h4m0 8h4m4 16h4m-12 20h4m-4 4h4m-4 4h4m0 36h4m-4 4h4m-4 4h4m4 36h4m-12 24h4m0 4h4m-4 12h4m-4 4h4m0 24h4m12 24h4m-4 12h4"/>
<path stroke="#a61c25" d="M324 660h4m4 288h4m20 40h4"/>
<path stroke="#e8202a" d="M328 660h4m0 116h4m-32 8h4m8 0h4m-12 4h4m8 4h4m-16 16h4m8 0h4m-16 4h4m8 0h4m-8 12h4m12 0h4m-36 4h4m4 4h8m0 4h4m0 4h4m0 8h4m-8 4h4m-20 4h4m8 0h4m0 4h8m-20 4h4m-12 4h4m-4 4h4m12 0h4m0 4h4m-8 4h4m4 8h4m-16 8h4m-8 4h4m16 0h4m-4 4h8m-36 4h4m0 4h12m-8 16h4m4 12h4m-4 4h4m0 4h4m12 4h4m-4 4h4m-4 4h4m-8 4h4m-8 8h4m12 0h4m-44 4h8m40 0h4m-44 4h4m24 0h4m-16 4h4m12 0h8"/>
<path stroke="#ec731b" d="M332 660h4m20 4h4m-28 16h4m28 0h4m-32 8h4m4 16h4m-12 16h4m0 4h8m-48 12h4m20 16h4m16 0h4m4 8h4m0 16h4m-4 4h4m-8 4h4m-8 4h4m4 36h4m0 32h4m-12 36h4m0 20h4m-4 4h4m0 12h4"/>
<path stroke="#5ebf31" d="M344 660h4m36 8h4m-76 4h4m60 8h4m-68 4h4m-16 12h4m-4 4h4m80 8h4m-24 8h4m16 0h4m-24 8h4m16 8h4m-12 8h4m-8 4h4m4 0h4m-4 4h4m0 12h4m-4 4h4m-4 4h4m-8 24h4m0 16h4m-4 4h4m0 40h4m-4 4h4m0 4h4m-4 4h4m-8 36h4m-4 12h4m-4 8h4m0 12h4m4 0h8m-12 4h12m-8 4h4m-4 4h4m0 8h4m-4 4h4m0 8h4m-8 4h8m-8 8h4m0 8h4"/>
<path stroke="#e82d22" d="M320 664h4m0 8h4m32 4h4m-32 16h4m-36 56h4m-4 4h4m4 0h4m20 8h4m-8 4h4m-12 4h4m-8 4h4m20 0h8m-8 8h4m-16 4h4m-32 4h4m20 0h8m4 0h4m-36 4h4m20 0h4m-4 4h4m-4 4h4m-16 12h4m12 0h4m4 12h4m-16 12h8m-8 4h8m-8 4h4m8 8h4m-4 4h4m-4 4h4m-16 4h4m-4 4h4m-20 4h4m12 0h4m-24 4h4m16 0h4m-32 4h4m24 0h4m-28 4h4m20 0h4m-4 4h4m0 8h8m-36 4h4m32 0h4m-24 8h8m12 0h4m-8 4h4m8 0h4m-8 4h4m-32 4h4m12 0h4m-20 4h4m-16 8h4m-8 4h4m40 0h8m-32 20h4m-16 4h4m4 0h4m-4 4h8m-12 4h8m36 0h4m4 12h4m-40 12h4"/>
<path stroke="#b71d26" d="M324 664h4m-16 180h4m-8 4h8m-8 4h8m-16 68h4m0 4h4m24 16h4m-8 8h4"/>
<path stroke="#e82a24" d="M328 664h4m0 32h4m-4 68h4m-12 4h4m-24 4h4m28 0h4m-32 4h4m28 0h4m-32 4h4m12 0h4m0 8h4m-8 16h4m-20 8h4m-4 4h8m16 4h4m-20 12h12m-8 4h4m8 0h8m-20 4h4m0 8h4m-4 8h4m-4 4h4m-20 16h4m-12 4h4m0 4h4m16 8h4m-24 4h4m28 8h4m0 8h4m-16 4h4m-20 12h4m-20 4h4m16 0h8m-20 4h4m28 0h4m-40 4h8m40 0h4m-56 12h4m8 4h8m8 4h4m-24 4h4m16 0h4m-16 8h4m40 0h4m-40 12h4m-28 4h4m24 0h4m-32 4h4"/>
<path stroke="#e02029" d="M324 668h4m-12 120h4m-12 4h4m-4 4h4m8 0h4m-16 4h8m4 0h4m-16 4h4m4 0h8m-4 12h4m4 4h4m-12 4h4m-16 12h4m-8 4h4m12 4h4m-4 4h4m-20 4h4m8 0h4m4 0h4m-4 4h4m-12 4h4m0 4h4m-8 4h8m-4 4h4m-4 12h4m-8 16h12m-20 8h4m-4 8h4m-8 12h4m12 12h4m20 4h4m-48 16h4m28 0h4m0 4h8m4 0h4m-48 4h4m28 0h4m4 0h4m-48 4h8m24 4h4m20 0h4m-52 8h4m4 0h4m20 0h4m-40 4h4m40 0h4m-20 4h4m28 0h4"/>
<path stroke="#e84b1f" d="M360 668h4m-8 8h4m-36 4h4m28 4h4m-36 8h4m8 12h4m0 4h4m-4 8h4m-32 28h4m4 8h4m16 0h4m-4 4h4m-20 4h4m12 0h4m-36 4h4m-8 4h4m44 4h4m-12 12h4m-8 20h4m-4 4h4m0 4h12m-8 8h8m-4 36h4m0 4h4m-16 12h4m0 4h4m4 0h4m-8 4h4m-12 4h4m-4 4h4m4 24h4m-8 16h4m0 4h4m0 20h4m-4 4h4m0 8h4m0 4h4m0 4h4m-4 4h4m-4 4h4"/>
<path stroke="#e8561e" d="M332 672h4m-4 4h4m-16 20h8m12 4h4m-4 4h4m-8 8h4m0 8h4m-16 8h4m-4 4h8m-8 4h4m-32 4h8m20 0h4m-12 4h4m4 0h4m-32 16h8m36 32h4m-4 12h4m0 4h4m0 16h4m-8 16h4m-4 8h4m4 8h4m-4 24h4m-8 4h4m-8 4h4m-4 16h4m4 28h4m8 36h4m0 8h4m-4 4h4m-8 4h4m-4 4h4m-4 4h4"/>
<path stroke="#eb6b1c" d="M364 672h4m-48 4h4m12 0h4m24 0h4m-8 8h4m-44 8h4m-8 16h4m24 0h4m-36 4h4m-4 4h4m16 12h4m-12 4h4m-4 4h4m8 0h4m-24 4h8m0 8h4m20 56h4m0 4h4m0 4h4m-8 20h4m-4 16h4m0 4h4m0 8h4m-4 16h4m-8 8h4m-8 40h4m0 4h4m8 36h4m0 4h4m0 8h4m-4 4h4m-8 4h4"/>
<path stroke="#e83a20" d="M356 680h8m-28 20h4m-28 48h8m-20 8h4m24 4h4m-12 4h4m-12 4h4m-8 4h8m32 4h4m-12 16h4m-8 4h4m-4 4h4m4 28h4m-8 16h4m-12 8h4m8 0h4m-16 4h4m-4 4h4m12 0h4m-20 4h4m12 0h8m-24 4h12m8 0h4m-20 4h4m-4 8h4m-4 4h4m-8 4h4m0 4h8m-44 4h4m40 8h4m0 4h4m-28 4h4m-8 8h4m4 0h4m8 0h8m-28 4h4m4 0h4m8 0h4m-12 4h4m-4 4h4m-12 28h4m28 4h4m0 4h4"/>
<path stroke="#e8501e" d="M332 688h4m-16 12h4m12 8h4m-8 28h4m-4 4h4m-20 4h4m12 0h8m-20 4h4m16 0h4m-16 8h4m12 4h4m4 8h4m-4 8h4m-8 4h4m-8 8h4m-4 20h4m0 16h4m-4 4h4m-4 4h4m-4 4h4m-4 16h4m-8 24h4m-4 4h8m-4 4h4m0 32h4m-8 8h4"/>
<path stroke="#e82825" d="M304 748h4m20 20h8m-20 8h4m4 0h4m-20 4h4m8 0h4m-4 4h4m12 0h4m-36 4h4m-4 8h4m16 4h4m-16 8h8m12 8h4m-24 4h4m8 8h4m12 0h4m-40 4h4m24 0h4m4 0h4m-24 4h4m-24 16h4m24 0h4m-32 4h4m4 12h4m-8 4h4m-4 4h4m16 0h4m-20 4h4m12 0h4m-16 12h4m20 8h4m-40 4h8m12 0h4m4 4h4m4 0h4m-8 4h4m-20 4h4m-12 16h4m4 0h4m16 4h4m-40 4h4m8 0h4m-16 4h4m4 0h8m-16 4h4m8 0h4m-4 4h12m-16 4h4m40 8h4m-36 4h4m28 0h4m-44 4h4m32 0h4m4 0h4m-60 12h4m60 0h4"/>
<path stroke="#e82527" d="M304 752h4m-8 20h4m16 0h16m-8 4h4m4 0h4m-24 4h4m16 0h4m-8 4h4m-16 4h4m0 4h4m-4 4h4m-28 4h4m20 4h4m-16 20h4m4 4h4m4 0h4m-16 4h4m16 0h4m-36 4h4m16 8h4m-28 4h4m-4 12h4m0 4h4m-4 4h4m4 0h4m8 0h4m-4 4h4m-28 4h4m8 4h4m8 4h4m-16 4h4m12 8h4m0 4h4m0 4h4m-36 4h4m8 0h4m12 0h4m-20 4h4m-8 4h4m-4 4h4m-4 4h4m-4 4h4m-4 4h4m-4 4h4m16 0h4m4 4h12m-48 4h4m44 0h4m-48 4h4m-4 4h4m12 0h4m12 0h4m-44 4h8m20 0h4m-28 4h4m44 0h4m-48 8h4m12 0h12m-4 4h4m16 0h4m-44 4h8m28 0h4m-52 4h4m40 0h4m-28 4h4m-4 4h4m-4 4h4"/>
<path stroke="#cf1f28" d="M300 776h4m12 16h4m-4 8h4m-20 4h4m0 8h4m-4 4h4m20 0h4m-32 4h8m4 16h4m0 4h4m-4 8h4m-12 12h4m12 36h4m-16 4h4m-8 4h4m-12 8h4m4 8h4m-4 4h4m12 20h4m16 8h4m-4 4h4m-4 4h8m-12 8h4m-4 4h4m16 8h4m-12 4h4m-48 4h4m4 0h4m32 0h4m-40 4h4m16 0h12m4 0h4"/>
<path stroke="#e82328" d="M320 776h4m8 4h4m-36 4h4m4 0h8m-4 20h4m12 4h4m-24 8h4m-4 4h4m4 0h4m12 0h4m-28 4h4m12 0h8m4 0h4m-36 4h16m12 0h8m-40 4h4m-4 4h4m-4 4h4m-4 4h4m16 12h4m-20 4h4m-8 4h4m20 0h4m-12 12h4m0 4h4m-12 4h4m0 20h4m4 0h4m-28 24h4m12 8h16m8 8h4m-40 4h4m8 0h4m20 0h4m8 0h4m-52 4h4m44 0h4m-16 4h4m8 0h4m-16 4h4m-40 4h4m40 4h4m-44 4h4m8 0h4m-24 4h4m16 0h4m20 0h4m12 0h4m-60 4h8m4 0h12m20 0h4m-48 4h4m56 4h4"/>
<path stroke="#bf1e27" d="M304 804h4m-8 4h8m-8 4h4m20 0h4m-4 4h4m-16 24h4m-8 4h4m4 0h4m-12 12h8m4 32h4m-8 4h4m0 4h4m-24 20h4m24 24h4m16 12h4m-4 4h4m-20 28h4m-24 8h4"/>
<path stroke="#ae1d25" d="M320 892h4m-20 28h4m20 24h4m24 40h8m-8 8h4"/>
<path stroke="#9d1c23" d="M332 944h4"/>
<path stroke="#931b21" d="M360 988h4m-4 4h4"/>
</g></g>
<defs><clipPath id="clipd"><rect x="302" y="1119" width="841" height="355"/></clipPath>
<filter id="blurd" x="-2%" y="-5%" width="104%" height="110%"><feGaussianBlur stdDeviation="2.3"/></filter></defs>
<g clip-path="url(#clipd)"><g filter="url(#blurd)" shape-rendering="crispEdges" stroke-width="4" fill="none">
<path stroke="#c71e27" d="M296 1115h4m80 16h4m-24 8h4"/>
<path stroke="#e82328" d="M300 1115h4m116 0h4m-128 4h4m68 0h4m48 0h4m-100 4h4m40 0h4m-48 4h4m40 0h4m-4 4h4m-24 4h4m8 0h4m4 0h4m-36 4h4m16 28h4m20 220h4m-8 4h4m-84 36h4m20 24h4m52 4h4m36 4h4m-68 8h4m48 4h4m-52 4h4"/>
<path stroke="#e82527" d="M304 1115h4m20 0h4m-36 8h4m4 0h4m44 0h4m64 0h4m-128 12h4m36 0h4m32 0h4m-12 24h4m0 24h4m-12 8h4m4 0h4m0 208h4m36 56h4m-8 4h4m-40 8h4m16 0h4m-36 4h4m52 4h4m-124 4h4m116 0h4"/>
<path stroke="#cf1f28" d="M308 1115h4m44 0h4m32 4h4m20 4h4m-44 8h4m4 0h4m-68 4h4m-12 4h4m40 0h4"/>
<path stroke="#ae1d25" d="M312 1115h16m16 0h12m20 0h20m-88 4h16m16 0h12m20 0h20m-84 4h16m16 0h12m20 0h20m-80 4h12m16 0h8m28 0h12m-76 4h12m16 0h8m-32 4h4m24 0h4"/>
<path stroke="#e83a20" d="M332 1115h4m-8 4h4m68 0h4m-76 4h4m76 0h4m-84 4h4m-32 4h4m24 0h4m88 0h4m-96 4h4m-4 4h4m40 0h4m36 0h4m-88 4h4m12 0h4m-36 4h4m4 0h8m8 0h4m-8 8h4m-4 4h4m-8 4h4m-8 4h8m-8 4h8m28 0h4m-36 4h4m-4 4h4m-4 4h4m28 20h4m-4 8h4m-16 72h4m-28 4h4m24 0h4m-4 4h4m-32 4h4m16 0h8m-44 104h4m-8 8h4m-12 8h8m-4 4h4m76 4h4m-72 8h4m8 20h4m60 0h4m28 0h4m-96 4h4m0 4h4m20 4h8m-68 4h4m100 0h4"/>
<path stroke="#e82d22" d="M336 1115h4m-40 8h4m28 0h4m60 0h4m-68 4h4m24 0h4m56 0h4m-116 8h4m12 0h4m4 4h4m8 0h4m20 0h4m-44 12h4m20 20h4m12 8h4m0 4h4m-8 16h4m-44 72h4m-4 4h4m-8 4h4m0 4h4m-4 4h4m48 96h4m0 4h4m-16 8h4m-8 12h4m0 8h4m4 0h4m-88 4h4m16 16h4m60 12h4m-84 8h4m36 8h4m4 0h4m68 0h4m-64 4h4m4 0h4m48 0h4m-28 4h4"/>
<path stroke="#b71d26" d="M340 1115h4m-8 4h4m-4 4h4m-32 4h4m24 0h4m8 0h4m-12 8h4"/>
<path stroke="#e82a24" d="M360 1115h4m36 0h4m20 0h4m-72 4h4m-56 8h4m44 0h4m8 0h4m-8 4h4m20 4h4m-80 4h4m16 16h4m-4 4h4m28 4h4m-4 32h4m-4 12h4m-40 68h4m0 4h4m44 108h4m4 12h4m-4 4h4m-8 8h4m-80 28h4m12 0h4m-20 8h4m68 4h4m-56 4h4m60 0h4m-64 4h4m0 4h4m8 0h4m24 0h4m-20 4h4m4 0h4m0 4h4m48 0h4m-32 4h8m-36 4h4m28 0h4"/>
<path stroke="#e84b1f" d="M364 1115h4m56 8h4m-32 12h4m-100 4h4m96 0h4m-32 4h4m-32 4h4m20 8h4m-52 4h4m8 16h4m16 0h4m4 4h4m-32 8h4m-8 8h4m32 16h4m-36 28h4m48 0h4m-56 4h4m48 0h4m-4 4h4m-56 4h4m48 4h4m-60 4h4m-8 4h4m4 4h4m-4 4h4m12 4h4m-28 28h4m28 20h8m20 48h4m-8 8h4m4 0h4m-24 16h4m-72 12h4m-8 4h4m84 4h4m-88 12h4m72 0h4m-76 4h4m8 0h4m52 0h4m4 4h4m-88 4h4m120 8h8m-100 4h4m76 0h4m-44 4h4m-12 4h4m-68 4h4m100 0h4"/>
<path stroke="#e83420" d="M368 1115h4m-8 4h4m-8 4h4m-64 4h4m52 0h4m36 0h4m-96 4h4m24 4h4m16 0h4m60 0h4m-100 4h4m-4 4h4m44 0h4m-56 4h4m8 0h8m-12 4h4m4 0h4m-12 12h4m36 12h4m-4 32h4m-40 60h4m-8 4h4m-4 12h4m20 4h4m-4 4h4m32 88h4m-12 4h4m4 0h4m-16 8h4m-68 12h4m56 8h4m-64 20h4m-8 4h4m72 8h8m-16 12h4m-76 8h4m60 0h8m-72 4h4m92 0h4"/>
<path stroke="#e8202a" d="M372 1115h4m-52 4h4m64 4h4m16 0h4m0 4h4m-112 4h4m76 0h4m-28 4h4m-28 4h4m20 0h4m-4 16h4m-4 32h4m4 216h4m-4 8h4m-68 28h4m4 0h4m0 4h4m56 8h8m0 8h4m24 4h4m-84 4h4m16 4h4m12 0h4m-20 8h4"/>
<path stroke="#bf1e27" d="M396 1115h4m16 4h4m-48 8h4m12 0h4m-80 8h4"/>
<path stroke="#e8451f" d="M404 1115h4m4 0h4m-12 4h4m-8 4h4m4 4h4m-108 8h4m48 0h4m32 0h4m-8 4h4m12 0h4m-112 4h4m48 0h4m-12 4h4m-28 4h4m16 0h4m28 0h4m-52 4h4m-4 12h4m-4 4h4m40 0h4m-48 4h4m36 0h4m-40 4h4m4 0h4m36 0h4m-52 4h4m4 8h4m52 48h4m-4 4h4m-64 4h8m52 0h4m-12 4h8m-60 4h8m-4 4h4m-8 4h8m-16 12h4m28 8h4m-32 8h4m16 8h4m0 4h4m4 24h8m-8 4h8m-8 4h8m-12 4h4m-4 4h4m28 32h4m-80 8h4m56 16h4m-68 4h4m60 0h4m-68 12h4m60 0h4m12 4h4m-4 4h4m-4 4h4m-12 4h4m-4 4h4m-4 4h4m4 0h4m-92 4h4m76 0h4m8 0h4m-64 4h4m4 12h4m8 0h4m12 0h4m28 4h4m20 12h4"/>
<path stroke="#e8561e" d="M408 1115h4m12 12h4m-20 4h4m-12 4h4m-12 4h8m-100 4h8m68 0h16m8 0h4m8 0h4m-108 4h4m40 0h4m-60 4h4m40 0h4m4 0h8m-40 4h4m16 4h4m24 4h4m-52 4h4m-4 4h4m48 0h4m-56 8h4m16 0h4m-20 4h4m36 0h4m-28 4h4m-4 4h4m16 0h4m-32 8h4m24 8h4m0 8h4m-28 28h4m52 0h4m-72 8h4m-4 4h4m-8 8h4m64 0h4m-72 4h4m20 12h4m-4 4h4m-4 4h4m4 16h4m-32 4h4m24 0h4m0 8h8m-12 4h4m4 0h4m0 8h4m-4 4h4m-4 4h4m16 28h4m0 4h4m-4 4h4m-4 4h4m-80 4h4m52 12h4m-68 4h4m80 0h4m-4 4h4m-8 8h4m44 0h4m-132 12h4m124 4h4m-124 4h8m0 4h4m104 0h4m-48 4h4m40 0h4m-104 4h4m40 0h4m12 0h4m32 0h8m-60 4h4m48 0h4m-56 4h4m16 0h4m20 0h4m-52 4h4m-76 4h4m64 0h4m28 4h8m20 4h4m-4 4h4m-4 4h4"/>
<path stroke="#e82825" d="M416 1115h4m-120 4h4m92 0h4m-104 8h4m92 0h4m16 0h4m-120 4h4m24 0h4m36 0h4m48 0h4m-44 4h8m-72 8h8m40 44h4m4 0h4m-4 8h4m12 196h4m-4 4h4m-8 12h4m-8 8h4m-84 8h4m8 12h8m-12 8h4m16 4h4m56 0h4m-88 4h4m112 4h4m-16 12h4m-44 4h4m-72 4h4m60 0h8m-8 4h4m28 0h4"/>
<path stroke="#e8501e" d="M428 1115h4m-28 8h4m-8 4h4m-4 4h4m16 4h4m-72 4h4m60 0h4m-68 4h4m48 0h8m-116 4h4m48 0h4m-40 4h4m20 4h4m28 4h4m-56 4h4m12 0h4m-4 4h4m28 0h4m-36 4h4m-20 4h4m36 0h4m-40 4h4m12 4h4m-16 4h4m28 0h4m12 0h4m-52 4h4m44 0h4m-44 4h4m-4 40h8m44 0h8m-56 4h4m-12 4h4m60 4h4m-8 4h4m-12 4h4m4 0h4m-68 4h4m56 0h8m-72 20h4m28 0h4m-36 16h4m20 8h4m0 4h4m4 12h4m-4 20h4m-4 4h4m-8 4h4m-40 16h4m64 4h4m-16 16h4m-72 16h4m76 12h4m44 0h4m-4 4h4m-4 4h4m-64 4h4m-80 8h4m80 0h4m40 0h4m-132 4h4m24 0h4m44 0h4m48 0h4m-100 8h4m92 8h4m-96 4h4m56 0h4m8 0h4m16 0h4m-132 4h4m52 0h8m64 0h4m-8 20h4"/>
<path stroke="#f19316" d="M432 1115h4m-8 12h4m-128 28h4m76 0h4m-88 4h4m100 0h4m-100 4h4m60 0h4m8 4h4m-12 4h4m16 0h4m-100 8h4m76 0h4m-36 8h4m0 4h4m-52 4h4m4 0h4m0 4h4m-16 4h4m-12 4h4m24 0h4m60 0h4m-60 4h4m20 8h4m32 0h4m-64 8h4m88 0h8m-52 8h4m-32 4h4m40 4h4m20 4h4m-112 8h4m-4 12h4m0 16h4m-16 4h4m-4 4h4m132 8h4m-8 8h4m4 0h4m-104 4h4m16 0h4m72 4h4m-148 4h4m20 0h4m108 0h4m-140 4h4m132 0h4m-48 4h4m40 0h4m-12 4h4m4 0h4m-52 4h4m44 0h4m-8 4h4m-52 4h4m-20 4h4m48 4h4m8 0h4m28 0h4m-48 4h4m8 0h4m-76 4h4m-36 4h4m24 0h4m36 0h4m52 0h4m8 0h4m-120 4h4m100 0h4m8 0h4m-136 4h4m60 0h4m-64 4h4m8 0h4m28 0h4m32 0h4m8 0h4m-16 4h4m8 0h4m16 0h4m-32 4h4m-56 4h4m68 0h4m12 0h4m-8 4h4m-44 4h8m-68 4h4m80 0h4m8 0h4m-116 4h4m108 0h4m-104 4h4m8 0h4m128 0h4m-168 4h4m160 0h8m-176 4h4m16 0h4m148 0h4m-4 4h4m-132 4h4m56 0h4m60 0h8m-8 4h4m-128 4h4m24 0h4m40 0h4m40 0h8m-52 4h4m-28 4h4m20 0h4m-44 4h4m36 0h4m-100 4h4m8 4h4m76 4h4m0 4h4m4 12h4m0 4h4m-4 4h4"/>
<path stroke="#f2d715" d="M436 1115h4m4 4h4m-24 28h8m4 12h4m-32 4h4m-8 16h4m-8 8h4m44 0h4m4 0h4m-8 4h8m-112 8h4m44 0h4m-16 4h4m8 0h4m-20 4h4m-4 4h4m-68 4h8m0 4h4m24 0h4m68 0h4m-64 4h4m32 0h4m-100 4h4m40 4h4m-12 8h8m12 4h4m52 0h4m-120 4h4m8 0h4m24 0h4m16 0h4m-56 4h4m-16 8h8m68 0h4m20 4h4m-60 4h4m52 0h4m20 0h4m-52 8h4m12 4h4m-16 4h8m68 4h4m-160 4h4m140 0h4m-136 4h4m120 0h8m12 0h4m-60 4h4m-84 8h4m108 4h4m20 0h4m-84 4h4m12 0h4m-20 4h4m4 0h4m36 0h4m20 0h4m-8 8h4m-124 4h4m-24 4h4m-8 8h4m152 0h4m-48 4h4m-84 4h4m68 0h4m4 0h4m-36 4h4m20 0h4m4 0h4m-80 4h4m4 0h4m64 0h4m56 0h4m-36 12h8m-88 4h4m-56 4h4m52 0h4m36 0h8m60 0h4m-172 4h4m88 0h4m68 0h4m12 0h12m4 0h4m-24 4h4m-80 4h4m20 0h4m40 0h4m4 0h4m20 0h4m-192 4h8m76 0h8m16 0h4m48 0h8m-164 4h4m156 0h4m-168 4h4m96 8h4m40 0h4m0 4h8m32 0h4m-96 4h4m8 0h4m44 0h4m-124 4h8m52 0h4m4 0h4m48 0h4m-124 4h4m4 0h4m48 0h4m56 0h4m-120 4h8m84 0h4m-104 4h16m104 0h4m-20 12h4m-4 4h4m4 0h12m32 0h4m-52 4h8m4 0h4m-12 4h4m44 0h12m-48 4h4m44 0h4m-60 4h4m52 0h4m-60 4h4m52 0h4m-60 4h4m4 0h4m40 0h4m-56 4h4m4 0h4m8 0h8"/>
<path stroke="#f1de16" d="M440 1115h8m-28 36h4m8 4h4m-24 4h4m24 0h4m-36 8h4m-8 16h4m48 0h8m-64 8h4m44 0h4m-100 12h4m24 0h4m12 4h4m-92 4h4m60 0h4m-64 4h4m64 0h4m-32 8h4m-4 4h4m-56 4h4m36 4h4m16 4h4m12 0h4m-80 4h4m12 0h4m80 4h4m-104 8h4m0 4h4m-12 4h8m68 0h4m40 0h4m4 0h4m-128 4h4m56 0h4m-64 4h4m92 0h4m-8 4h4m-100 4h4m72 0h4m8 4h4m60 0h4m-88 4h4m-56 8h4m48 0h4m60 4h4m-64 4h4m56 0h4m-4 4h4m-116 4h4m20 0h4m44 0h4m-16 8h4m-64 8h4m4 0h4m88 4h4m20 0h4m-124 4h4m136 0h4m-148 4h4m4 0h4m124 0h4m-140 4h4m80 0h4m-108 4h4m100 0h4m-92 4h4m56 0h4m-8 4h4m76 0h4m16 0h4m-136 4h4m28 0h4m4 0h4m56 0h4m-80 4h8m4 0h4m28 0h4m-48 4h16m24 0h8m28 0h8m-84 4h12m28 0h8m-48 4h8m32 0h8m60 0h4m20 4h8m-32 4h4m4 0h4m-84 4h4m68 0h8m24 0h4m-108 4h4m72 0h4m-52 4h4m-116 4h4m104 0h4m-108 4h4m100 0h4m-8 4h8m76 0h4m-84 4h4m24 0h8m44 0h4m-92 4h4m4 0h4m24 0h4m4 0h4m-48 4h4m44 0h8m-56 4h4m48 0h4m-116 4h4m108 0h4m36 0h4m-164 4h8m4 8h4m104 0h4m-20 4h4m12 0h4m-16 4h4m48 0h4m-56 4h4m4 4h4m40 0h12m-56 4h8m48 0h4m-60 4h8m-4 4h8m-8 4h8m-8 4h4m-4 4h4m44 0h4"/>
<path stroke="#e5e51a" d="M448 1115h4m-4 4h4m-4 12h4m-4 4h4m-8 4h4m-4 4h4m-28 12h4m12 8h4m-32 12h4m48 0h4m-12 4h4m-12 8h4m12 0h4m-20 4h4m-48 4h4m44 0h4m-104 16h4m24 0h4m-36 4h4m24 0h4m52 0h4m-124 4h12m80 0h4m16 0h4m-116 4h4m-4 4h4m52 0h4m-64 4h4m12 0h4m16 0h8m64 0h4m-112 4h4m68 0h4m20 0h4m-100 4h4m8 0h4m80 0h4m-100 4h8m-8 8h4m28 16h4m76 0h4m-124 8h4m64 8h4m76 0h4m-80 4h16m56 0h4m-72 4h4m-8 4h4m-64 4h8m88 8h4m48 0h4m-56 4h4m-28 4h4m-44 4h4m-32 4h4m8 0h4m88 4h4m24 0h4m-104 4h4m112 0h4m-148 4h4m84 0h4m32 0h4m12 0h4m-24 4h4m-128 4h4m88 0h4m28 0h4m-36 4h4m28 0h4m-4 4h4m8 0h4m-156 8h4m140 0h8m-144 4h4m128 0h4m-136 4h4m160 0h4m24 4h4m-28 4h16m12 0h4m0 20h4m-4 4h4m-56 20h4m48 0h4m-52 4h4m0 4h4m-8 4h4m-4 4h4m44 0h4m-56 4h8m60 4h8m-20 4h4m4 0h12m-20 4h4m12 0h4m-8 8h4m-8 20h4"/>
<path stroke="#c7dc1e" d="M452 1115h4m-12 36h4m-28 8h4m8 4h4m-24 4h4m44 0h4m0 4h4m-16 4h4m8 0h4m-60 8h4m36 0h4m-48 8h4m52 4h4m-12 4h4m-56 4h4m-4 12h4m20 0h4m4 0h4m-120 8h8m20 0h8m-40 4h4m28 0h8m-44 4h4m4 0h4m-12 4h8m44 16h4m4 0h4m56 0h4m-72 4h4m4 0h4m40 0h4m12 0h4m-72 4h4m64 0h4m-68 4h4m60 0h4m-68 4h8m-76 4h4m68 0h4m-36 4h4m24 0h4m48 0h8m-32 4h4m52 0h8m-56 8h4m-24 4h8m8 0h4m8 0h4m24 0h4m-68 4h4m28 0h4m48 0h4m-88 4h4m-64 4h4m68 0h4m36 0h4m-120 4h8m68 0h4m36 0h4m-120 4h8m64 0h4m-72 4h4m104 0h4m32 0h4m-152 4h4m12 0h4m88 0h4m32 0h4m-116 4h4m108 0h4m-152 4h4m96 0h4m40 0h4m4 0h8m-160 4h4m4 0h4m96 0h4m28 4h4m20 0h4m-172 4h4m24 0h4m8 0h4m104 0h4m52 0h4m-60 4h4m16 0h4m32 0h4m-4 4h4m-208 4h4m4 0h4m20 0h4m104 0h8m48 0h16m-212 4h4m188 0h12m-204 4h4m188 0h12m-204 4h4m180 0h12m8 0h4m-208 4h4m168 0h4m8 0h4m4 0h4m8 0h4m-32 4h8m20 0h4m-4 4h4m-4 4h4m-212 4h4m204 0h4m-4 4h4m-4 20h4m0 16h4m-4 4h4m8 4h8m0 4h4m-16 4h4m-12 4h8m8 16h4m-4 4h4m-4 4h4m-4 4h4m-8 4h4m-4 4h4"/>
<path stroke="#aad423" d="M456 1115h4m-8 4h4m-28 40h4m12 0h4m12 4h4m-52 12h4m-12 24h4m36 0h4m12 0h4m-8 4h4m-60 4h4m16 8h4m-48 4h4m24 0h4m-4 4h4m4 4h4m-12 4h8m-8 4h8m-48 4h4m4 0h4m28 0h4m-44 4h4m36 0h4m4 0h4m16 4h4m-72 4h4m44 12h4m8 12h4m-96 4h4m60 0h4m16 0h8m16 0h4m-112 4h4m60 0h8m28 0h8m20 0h4m-72 4h4m32 0h4m28 0h4m-132 8h4m40 0h8m40 0h4m-52 4h4m-4 4h8m24 0h4m8 4h4m36 0h4m-136 4h4m4 0h4m120 0h4m-136 4h4m128 0h4m-128 4h4m64 0h4m52 0h4m24 0h8m-8 4h8m-156 4h4m148 0h4m-188 4h4m96 0h4m56 0h4m20 0h4m16 0h4m-24 4h16m-200 4h4m132 0h4m20 0h4m16 0h8m-188 4h4m132 0h4m40 0h4m-160 4h4m108 0h4m-144 4h4m28 0h4m132 4h4m8 0h4m24 0h4m-32 4h4m20 0h4m-36 4h8m24 0h4m-216 4h4m208 0h4m-4 4h4m-212 4h4m204 0h4m-212 4h4m204 0h4m-4 4h4m-4 4h4m-4 4h4m-4 4h4m-4 12h4m0 20h4m-8 4h4m4 0h4m12 0h4m-28 4h8m16 0h4m-4 4h4m-4 4h4m-4 4h4m-8 12h4m-8 20h4"/>
<path stroke="#8fcc28" d="M460 1115h4m-12 12h4m-4 4h4m-4 4h4m-8 4h4m-32 28h12m8 0h4m-36 24h4m28 0h4m-36 12h4m32 0h8m-48 8h4m4 0h4m8 0h4m8 0h4m-32 4h8m20 0h4m-32 4h4m-36 4h4m28 0h4m-4 4h4m-48 4h4m4 0h4m-8 12h4m36 0h4m0 4h4m-16 8h4m-4 4h4m28 4h4m-24 4h4m16 0h4m-8 8h20m-48 4h4m8 0h4m44 0h4m-60 4h4m4 0h16m-16 4h4m8 0h4m-96 4h4m88 0h4m-16 4h4m-4 4h4m44 0h4m-132 4h4m84 0h4m-92 4h4m156 0h4m-164 4h4m80 0h4m72 0h8m-168 4h4m128 0h4m-136 4h4m76 0h4m48 0h4m16 0h4m-152 4h4m68 0h4m72 0h4m8 0h4m-168 4h8m128 0h4m40 0h4m-180 4h4m176 0h4m-184 4h8m128 0h4m12 0h4m-160 4h8m-4 4h4m-4 4h4m132 0h4m4 0h4m-4 4h4m32 0h4m-44 4h8m32 0h4m-4 4h4m-8 8h4m-4 4h4m-220 4h4m216 8h4m-8 4h4m-4 4h4m-4 4h4m-4 4h4m-4 16h4m0 8h16m0 4h4m-4 24h4m-8 16h4m-4 4h4"/>
<path stroke="#81c92a" d="M464 1115h4m-12 4h4m-12 24h4m-36 28h4m-8 12h4m48 4h4m-60 8h4m28 0h4m-36 4h4m28 0h4m16 4h4m-60 4h8m16 0h32m-52 4h4m4 0h8m-52 12h4m0 4h4m-12 12h4m36 8h4m-4 4h4m20 8h4m-36 4h4m-4 4h4m-4 4h4m8 0h4m20 0h4m20 4h4m-56 8h4m4 4h4m40 8h4m-136 4h4m88 0h4m68 0h4m-168 4h4m80 0h8m72 0h4m-84 4h8m76 0h4m-88 4h4m48 0h4m-56 4h4m72 0h4m-84 4h4m84 0h4m-168 4h4m132 0h4m12 4h4m12 0h12m4 0h4m-48 4h4m8 0h4m-16 8h4m4 0h4m32 0h4m-48 4h4m4 0h4m32 0h4m-4 4h4m-44 4h4m36 12h4m-4 4h4m-4 4h4m-4 4h4m-4 4h4m-4 8h4m-4 12h4m-4 4h4m-4 4h4m-4 4h4m-4 4h4m-4 4h16m0 4h4m0 4h4m-4 4h4m-4 4h4m-4 4h4m-4 4h4m-8 12h4m-8 24h4"/>
<path stroke="#73c52d" d="M468 1115h4m-12 4h16m-20 4h4m-12 24h4m12 12h4m-24 4h4m8 0h4m-16 4h4m-20 4h24m16 0h4m-28 4h4m20 0h4m-28 4h4m20 0h4m-28 4h4m16 8h4m-56 12h4m24 0h4m-32 4h4m24 4h4m-72 16h4m132 0h8m-148 4h4m132 0h8m-144 4h4m136 0h4m-104 20h4m20 0h4m0 12h4m8 4h12m-52 4h4m-8 4h8m8 8h4m-8 4h4m-92 4h4m84 0h8m68 0h4m-80 4h4m76 0h4m-12 4h4m4 0h4m-36 4h4m20 0h4m-4 4h4m8 4h4m-4 8h4m-32 4h4m8 8h4m-12 4h4m-4 4h4m-4 4h4m36 44h4m-4 4h4m0 8h4m-4 4h4m-4 4h4m-4 4h12m0 4h4m0 4h4m-4 24h4m-8 12h4m-8 16h4"/>
<path stroke="#65c12f" d="M472 1115h4m0 4h4m-16 4h4m-20 28h4m16 8h4m-20 8h4m12 0h4m-52 4h8m-12 4h4m48 8h4m-60 16h4m0 8h4m4 0h4m16 4h4m4 0h4m-16 4h4m64 8h8m-12 12h4m-104 16h4m0 8h4m44 4h4m-8 4h12m-24 4h8m12 0h4m-64 4h4m60 8h4m-4 4h4m-48 4h4m40 0h4m28 4h4m-12 4h4m-28 4h4m32 8h4m-36 4h4m-4 4h4m36 4h12m-44 8h8m-8 4h8m36 0h4m-4 24h4m-4 16h4m-4 4h4m-4 4h4m-4 4h4m-4 4h4m-4 4h4m-4 4h4m0 8h4m-4 4h8m0 4h4m0 4h4m-8 44h4"/>
<path stroke="#60c030" d="M476 1115h4m-20 8h4m4 0h12m-24 4h4m8 12h4m-4 4h4m-4 4h8m-8 4h8m-28 4h4m16 0h4m-24 4h4m8 0h4m4 4h4m-24 4h4m-12 8h4m-28 4h4m-8 8h4m20 0h4m-28 4h4m20 0h4m-28 4h4m48 0h4m-36 8h8m-20 4h4m24 4h4m4 0h4m-20 8h4m64 0h8m-52 12h4m36 8h8m-80 12h4m24 0h4m-60 4h4m48 0h8m-8 4h8m-56 4h4m24 0h4m12 0h4m4 0h4m-56 4h4m28 0h4m4 0h4m-44 4h4m52 0h4m-64 4h4m56 0h4m-4 4h4m28 12h8m-16 4h4m-28 4h4m32 8h4m-20 4h4m-4 4h4m-8 4h4m16 0h4m-32 4h4m4 0h4m20 0h4m-32 4h8m36 4h4m-4 20h4m-4 4h4m-4 8h4m-4 4h4m-4 4h4m0 16h4m-4 4h4m-4 4h4m-4 4h4m-4 4h4m0 4h8m-4 4h8m-4 4h4m0 8h4m-4 4h4m-4 4h4m-4 4h4m-4 4h4m-8 12h4m-8 16h4m-4 4h4m-4 8h4"/>
<path stroke="#5cbf31" d="M480 1115h4m-4 8h4m-4 4h4m-20 4h20m-28 4h4m24 0h4m-12 4h12m-36 4h4m8 0h4m8 0h4m-16 4h4m8 0h4m-16 4h4m4 8h4m-56 16h8m64 0h4m-4 4h4m40 8h8m-8 4h8m-8 4h4m-124 4h4m0 4h8m36 0h4m-8 8h4m-20 4h16m48 0h8m-12 4h4m-44 4h4m48 0h4m-80 4h4m72 0h4m-84 4h4m20 0h4m4 0h4m40 0h4m-56 4h4m48 0h4m-52 4h4m-32 4h4m24 0h4m-4 8h4m-16 4h4m8 0h4m-28 8h4m52 20h8m-12 8h4m4 8h4m-20 4h4m-20 4h4m0 8h4m4 0h4m20 0h4m-32 4h4m24 0h8m8 4h4m-4 16h4m0 28h4m-4 4h4m0 8h4m-4 4h4m-4 4h4m-4 4h4m-4 4h4m-4 4h4m0 4h8m0 4h4m0 8h4m-4 4h4m-4 4h4m-4 4h4m-4 4h4m-4 4h4m-8 12h4m-8 12h4m-4 20h4"/>
<path stroke="#58bd33" d="M484 1115h4m4 0h12m-16 4h24m-16 4h16m-24 4h4m8 0h12m-24 4h8m8 0h4m-48 4h4m28 0h8m-40 4h4m32 0h4m-40 4h4m32 0h4m-40 4h4m16 0h8m4 0h8m16 0h8m-72 4h4m4 0h4m28 0h12m12 0h8m-72 4h8m16 0h4m16 0h8m16 0h4m-28 4h8m16 0h4m-32 4h8m-4 4h4m-12 8h4m-68 4h4m60 0h4m48 0h8m-124 4h4m-8 4h4m8 0h4m48 0h4m56 0h4m-128 4h4m68 0h4m32 0h4m12 0h4m-128 4h4m8 0h4m52 0h8m32 0h4m-108 4h4m100 0h4m8 0h4m-12 4h8m-76 8h4m40 0h8m-12 4h4m8 0h4m-76 4h4m4 0h8m8 0h4m-12 4h4m-8 8h4m-4 4h4m-4 4h4m-4 4h4m8 0h4m-16 4h4m8 0h4m40 0h4m-48 4h4m36 0h4m16 0h8m-88 4h4m16 0h4m56 0h8m-96 4h8m20 0h4m56 0h8m-8 4h4m-64 12h4m-4 4h4m24 0h8m-36 4h4m-4 4h4m20 0h4m8 4h4m-40 8h4m8 8h4m-12 4h4m28 0h4m-32 4h4m36 0h8m-4 4h4m0 32h4m12 0h4m-20 4h4m12 0h4m-8 4h12m-20 4h8m4 0h4m-4 4h4m-4 4h4m-8 4h8m-8 4h12m-12 4h12m-12 4h12m-8 4h8m40 0h4m-48 4h4m40 0h4m-48 4h4m40 0h4m-48 4h8m36 0h4m-44 4h4m28 0h4m-36 4h4m32 0h4m-4 4h4m-44 28h4m-8 12h4m-4 24h4"/>
<path stroke="#56bd33" d="M488 1115h4m12 0h16m-8 4h4m-28 4h8m16 0h4m-24 4h8m-4 4h8m4 0h4m-12 4h12m-56 4h4m40 0h8m-52 4h4m40 0h8m8 0h4m-64 4h4m40 0h8m4 0h4m-60 4h4m20 0h12m12 0h4m4 0h4m8 0h4m-36 4h4m8 0h4m8 0h4m4 0h4m-52 4h4m12 0h4m8 0h4m8 0h4m4 0h4m-40 4h4m8 0h4m-16 4h4m8 0h4m-32 4h4m12 0h4m8 0h4m-32 4h4m24 0h4m36 0h12m-52 4h4m32 0h4m8 0h4m-120 4h4m52 0h4m40 0h4m12 0h4m-128 4h4m100 0h4m-108 4h4m4 0h4m48 0h4m-64 4h8m112 0h4m-60 4h8m48 0h4m-20 4h4m8 0h4m-80 4h4m60 0h8m-20 4h4m-52 4h4m-24 4h4m8 8h4m8 0h4m24 12h4m0 8h4m24 0h4m-100 4h4m8 0h4m52 0h4m4 0h4m-76 4h8m60 0h8m8 0h4m-16 4h4m4 0h8m-8 4h8m4 0h4m-12 4h12m-40 8h8m-12 8h4m8 0h4m-4 4h4m-40 8h4m12 0h4m-8 8h4m-12 4h4m28 0h4m-32 4h4m28 4h8m8 16h4m-4 4h4m16 4h4m-8 4h8m-24 4h4m12 0h8m-12 4h4m4 0h4m-12 4h4m4 0h4m-4 8h4m-4 4h4m-4 4h4m-4 4h4m0 4h4m-4 4h8m-8 4h8m32 0h4m-44 4h8m36 0h4m-48 4h8m36 0h4m-48 4h8m28 0h4m4 0h4m-44 4h4m28 0h4m4 0h4m-44 4h4m32 0h4m-12 4h4m4 0h4m-44 4h4m28 0h4m-36 4h4m32 0h4m-40 4h4m-4 4h4m-4 4h4m-4 4h4m-4 4h4m-8 8h4m-8 12h4m-4 16h4"/>
<path stroke="#53bc3a" d="M520 1115h4m16 0h4m12 0h4m-24 4h4m16 0h4m-44 4h4m36 0h4m-44 4h4m20 0h8m8 0h4m-40 4h4m24 0h8m-36 4h8m-4 4h4m0 8h4m-4 4h4m-4 4h4m-52 4h8m40 0h4m-56 4h8m40 0h4m16 0h8m-12 4h4m8 0h4m-48 4h4m8 0h4m8 0h8m12 0h4m-44 4h8m8 0h4m-48 4h4m16 0h4m20 0h4m-48 4h4m16 0h4m-28 4h4m-4 4h4m36 4h4m-52 8h4m20 0h4m12 0h4m56 0h4m-96 4h12m12 0h4m36 0h4m12 0h16m-96 4h4m16 0h4m36 0h8m12 0h4m8 0h4m-96 4h4m40 0h20m16 0h4m8 0h4m-40 4h8m16 0h4m8 0h4m-16 4h16m-128 4h8m104 0h16m-136 4h4m4 0h4m104 0h12m-128 4h4m52 0h4m32 0h8m20 0h4m-124 4h4m84 0h16m-4 4h8m-104 4h8m24 0h4m40 0h4m20 0h4m-8 4h4m44 0h4m-92 4h4m36 0h4m44 0h4m-92 4h4m36 0h4m44 0h4m-92 4h4m36 0h4m44 0h4m-92 4h4m36 0h4m40 0h8m-8 4h8m-120 4h4m16 0h4m12 0h4m4 0h4m12 0h4m40 0h12m-116 4h4m48 0h4m4 0h4m40 0h4m4 0h4m-116 4h4m52 0h4m52 0h4m-100 4h4m80 0h4m-4 4h4m-104 4h4m28 0h4m56 0h4m-20 4h8m8 0h4m-92 4h4m68 0h12m8 0h4m4 0h4m-72 4h4m4 0h8m24 0h4m4 0h4m8 0h4m4 0h4m-56 4h4m20 0h4m4 0h4m12 0h8m-32 4h4m4 0h4m-36 4h4m16 0h4m-4 4h4m4 4h4m-4 4h4m0 4h4m-36 4h4m8 0h4m12 0h4m-4 4h4m12 4h4m-44 4h8m28 0h8m-16 4h16m-12 4h12m-4 4h4m-4 4h4m-4 4h4m16 0h8m-28 4h4m16 0h4m4 0h4m-32 4h4m16 0h4m4 0h4m-36 4h4m28 4h4m-4 4h4m-4 4h4m-40 4h4m16 0h4m-24 4h4m16 0h4m-24 8h4m28 0h4m-36 4h4m28 0h4m-36 4h4m12 0h4m-4 4h4m-4 4h4m-20 4h4m8 0h4m8 0h4m-32 4h4m12 0h16m-32 4h4m-4 4h4m-8 4h4m-8 4h4m-4 4h4m-8 4h4m-4 4h4m-4 4h4m-4 4h4m0 4h4m28 0h4m-36 4h4m36 0h4"/>
<path stroke="#55bd48" d="M524 1115h4m4 0h4m44 0h4m12 0h4m-32 4h8m-44 4h4m28 0h16m12 0h8m-76 4h4m4 0h4m28 0h4m8 0h8m8 0h8m-72 4h8m28 0h4m8 0h8m8 0h4m-60 4h8m20 0h4m12 0h8m4 0h4m-64 4h4m24 0h4m8 0h12m-52 4h4m8 0h4m8 0h4m16 0h4m-48 4h4m8 0h4m8 0h4m16 0h4m-48 4h4m8 0h4m8 0h4m16 0h4m-48 4h4m8 0h4m8 0h4m16 0h4m-48 4h4m40 0h4m-48 4h8m16 0h4m12 0h4m-20 4h4m8 0h8m-8 4h8m-16 4h4m4 0h8m16 0h4m-36 4h8m4 0h8m12 0h4m-120 4h4m32 0h4m4 0h4m36 0h8m4 0h8m12 0h4m-124 4h8m24 0h4m48 0h20m-104 4h8m24 0h4m48 0h16m-96 4h4m24 0h4m8 0h4m36 0h8m-56 4h4m76 0h4m-104 16h4m-4 4h8m-12 4h4m4 0h4m-12 4h4m40 0h4m-52 4h4m8 0h4m28 0h4m-48 4h4m-4 4h4m88 0h8m-100 4h4m12 0h4m68 0h12m-28 4h16m12 0h4m8 0h4m-48 4h4m24 0h4m12 0h4m-48 4h4m24 0h4m-84 4h4m48 0h4m24 0h4m-84 4h4m48 0h4m24 0h4m-32 4h4m-4 4h4m20 0h4m16 0h4m-56 4h8m20 0h4m-96 4h4m8 0h4m48 0h8m16 0h8m-96 4h4m32 0h8m16 0h32m20 0h4m-116 4h12m32 0h4m12 0h4m4 0h12m-80 4h8m36 0h4m20 0h4m-20 4h4m8 0h4m-36 4h4m4 0h4m8 0h4m8 0h4m-32 4h4m12 0h4m48 8h4m-4 4h4m-56 4h4m44 0h4m-52 4h4m44 0h4m-52 4h4m44 0h4m0 4h4m-4 4h16m-68 4h8m56 0h4m-4 4h4m-4 8h4m-4 4h4m0 4h4m-4 4h4m0 8h4m-28 8h8m16 4h4m-32 4h4m24 0h4m-36 4h8m24 0h4m-36 4h8m24 0h4m-36 4h8m-8 4h8m-8 4h4m-4 4h4m-4 4h4m24 0h4m-32 4h4m24 0h4m8 8h4m-20 4h4m8 0h4m-4 4h4m-8 4h4m-16 4h4m8 0h4m-16 4h4m8 0h4m-16 4h16m4 0h4m-24 4h24m-52 4h8m24 0h12m-44 4h12m20 0h8m-40 4h16m20 0h4m-44 4h20m20 0h4m-36 4h8m20 0h4m-32 4h8m20 0h4"/>
<path stroke="#55be4d" d="M528 1115h4m-8 4h8m68 0h4m-80 4h8m-4 4h4m36 0h8m-8 4h8m20 0h4m-32 4h12m16 0h4m-64 4h8m20 0h8m24 0h4m-64 4h8m16 0h16m20 0h4m-40 4h16m20 0h4m-40 4h16m20 0h4m-60 4h4m16 0h4m8 0h4m20 0h4m-64 4h8m16 0h4m4 0h8m20 0h4m-32 4h4m-12 4h8m-8 4h8m-4 4h4m0 4h4m-56 4h4m48 0h4m-64 4h4m4 0h4m72 0h4m-88 4h4m4 0h4m72 0h4m-88 4h8m76 0h4m-4 4h4m-4 4h4m-4 4h4m-4 4h4m-4 4h4m-4 4h4m-108 4h4m100 0h4m-108 4h8m96 0h4m-112 4h8m0 4h4m96 4h4m-112 4h4m104 0h4m-112 4h4m8 0h4m68 0h12m-100 4h4m8 0h4m56 0h24m-96 4h4m68 0h4m16 0h4m-96 4h4m68 0h4m16 0h4m-96 4h4m68 0h4m16 0h4m-96 4h4m68 0h4m16 0h4m-96 4h4m8 0h4m56 0h4m12 0h4m-96 4h4m8 0h4m56 0h12m4 0h4m-88 4h4m64 0h16m-84 4h8m24 4h8m20 0h4m44 0h4m-80 4h4m20 0h8m-36 4h4m4 0h4m12 0h8m-28 4h4m16 0h4m4 4h4m-12 4h4m4 0h4m-12 4h4m4 0h4m-12 4h4m0 4h4m-4 4h4m40 0h4m-4 4h4m0 4h12m-60 4h4m56 16h4m-4 4h4m0 12h4m-4 40h4m-4 4h4m4 8h4m-16 4h4m8 0h4m-16 4h4m12 0h4m-20 4h8m8 0h4m-24 4h12m8 0h4m-24 4h8m12 0h4m-24 4h8m12 0h4m-24 4h8m12 0h4m-4 4h4m-4 4h4m-12 4h12m-16 4h8m-8 4h4m12 0h4m-20 4h4m12 0h4m-8 4h8m-8 4h8"/>
<path stroke="#54bd44" d="M536 1115h4m24 0h16m4 0h12m-76 4h4m8 0h4m24 0h8m8 0h24m-80 4h4m36 0h4m16 0h12m-56 4h4m20 0h4m20 0h8m-56 4h8m16 0h4m20 0h8m-60 4h4m8 0h4m12 0h4m24 0h4m-48 4h4m8 0h4m24 0h12m-48 4h8m24 0h16m-48 4h8m24 0h16m-48 4h8m32 0h8m-48 4h8m32 0h4m-48 4h4m8 0h4m32 0h4m-68 4h4m44 0h4m12 0h4m-68 4h8m40 0h4m12 0h4m-40 4h4m16 0h8m4 0h8m-20 4h16m-116 4h8m28 0h12m56 0h12m-112 4h4m24 0h4m68 0h12m-40 4h4m20 0h16m-40 4h4m16 0h20m-120 4h4m88 0h28m-116 4h4m24 0h4m4 0h4m40 0h12m12 0h8m-84 4h8m44 0h8m20 0h8m-40 4h4m24 0h12m-104 4h8m56 0h4m24 0h12m-108 4h4m4 0h4m56 0h4m24 0h12m-108 4h4m40 0h4m16 0h8m24 0h8m-60 4h8m12 0h4m28 0h4m-88 4h4m24 0h4m4 0h4m12 0h8m24 0h8m-144 4h4m72 0h4m4 0h4m16 0h4m20 0h12m4 0h4m-148 4h4m72 0h8m20 0h8m16 0h20m-148 4h4m76 0h4m24 0h8m8 0h4m8 0h12m-148 4h4m104 0h16m12 0h8m-108 4h4m100 0h4m-112 4h4m100 0h4m-108 4h4m16 0h4m80 0h4m8 0h4m-16 4h4m8 0h4m-52 4h4m32 0h4m8 0h4m-100 4h4m44 0h4m28 0h4m12 0h4m-120 4h4m64 0h4m28 0h4m8 4h4m-80 4h4m20 0h4m48 0h4m-72 4h4m44 0h4m-40 4h4m20 0h16m-48 4h4m4 0h4m12 0h8m8 0h4m-92 4h4m40 0h4m-4 4h4m56 0h4m-76 4h4m4 0h4m60 0h4m-56 4h4m48 0h4m-56 4h4m12 0h4m-4 4h4m-8 4h4m16 0h4m-24 4h4m16 0h4m-24 4h4m16 0h16m-48 4h4m8 0h4m20 0h16m-52 4h4m32 0h16m-20 4h8m8 0h16m-64 4h8m24 0h4m12 0h12m-28 4h4m28 0h4m-8 4h4m-8 4h8m-12 4h16m-20 4h8m-8 4h12m8 0h4m-24 4h8m-8 4h8m16 0h4m-32 4h4m-8 4h12m-12 4h4m4 0h4m-4 4h4m-16 4h4m8 0h4m-4 4h4m20 0h4m-28 4h4m20 0h4m-40 4h4m4 0h4m20 0h4m-36 4h4m4 0h4m20 0h4m-36 4h4m4 0h4m-12 4h4m4 0h4m-8 4h4m-4 4h4m20 0h4m12 4h4m-24 4h4m16 0h4m-24 4h4m12 0h8m-48 4h12m8 0h4m16 0h8m-52 4h16m8 0h4m16 0h8m-56 4h16m8 0h8m16 0h4m-52 4h16m8 0h8m-32 4h4m8 0h8m8 0h8m-40 4h8m12 0h8m4 0h8m-40 4h8m16 0h4m8 0h8m-44 4h4m20 0h4m12 0h4m-44 4h12m8 0h4m-24 4h12m8 0h4"/>
<path stroke="#52bc35" d="M544 1115h4m4 0h4m-40 4h4m20 0h4m4 0h8m-16 4h16m-8 4h8m-40 4h4m-4 4h4m0 4h4m0 4h4m-48 12h8m0 4h4m-8 4h4m-4 4h4m20 0h4m8 0h4m20 0h8m-68 4h4m16 0h4m4 0h8m20 0h4m-60 4h4m16 0h4m24 0h4m16 0h4m-4 4h4m-84 4h4m52 0h4m20 0h4m-8 4h4m-4 4h4m-4 4h4m-68 4h4m8 0h4m20 0h4m24 0h4m-68 4h4m4 0h4m20 0h8m24 0h4m-84 4h12m28 0h4m28 0h4m-68 4h4m40 0h20m24 0h8m-96 4h4m20 0h4m16 0h4m40 0h8m-96 4h4m40 0h4m40 0h8m-124 4h8m20 0h4m-36 4h4m8 0h4m16 0h4m-8 4h4m20 0h4m16 4h4m-4 4h4m-80 4h4m8 0h4m44 0h4m12 0h4m8 0h4m4 0h4m-88 4h4m68 0h4m12 0h4m-104 4h8m24 0h4m24 0h4m12 0h8m-52 4h4m28 8h4m-4 4h12m20 0h4m-40 4h24m12 0h4m-36 4h4m12 0h4m4 0h4m-40 4h4m32 0h4m48 0h4m-8 4h8m-112 4h4m100 0h8m-112 4h4m100 0h8m-16 4h12m-108 4h4m4 0h4m20 0h4m60 0h12m-8 4h4m-24 4h4m16 0h4m-68 4h8m36 0h4m-4 4h4m-8 4h8m-32 4h4m20 0h8m-12 4h8m-8 4h4m4 4h4m-20 8h4m12 4h4m-4 4h4m-28 4h8m16 0h4m-4 4h8m-12 4h20m-16 4h4m8 0h4m-16 4h4m8 0h4m-4 4h4m24 0h4m-32 4h4m24 0h4m-36 4h4m20 0h4m4 0h4m-36 4h4m20 0h4m-28 4h4m-4 4h4m32 4h4m-4 4h4m-44 4h4m16 0h4m12 0h4m-40 4h4m16 0h4m-24 4h4m16 0h4m-20 8h4m24 0h4m-32 4h4m16 0h4m4 0h4m-36 4h4m16 0h8m-32 8h4m-4 4h4m-8 4h4m-8 8h4m-4 20h4m36 0h4m-8 4h8"/>
<path stroke="#54bc34" d="M548 1115h4m-8 4h4m-36 8h4m-4 4h4m-4 4h4m-8 4h12m-12 4h8m4 0h4m-16 4h4m12 0h4m-20 4h4m-24 4h4m16 0h8m-8 4h8m-44 4h4m28 0h20m-52 4h4m28 0h4m4 0h8m24 4h8m-16 4h4m-68 4h4m56 0h4m-108 4h4m68 0h4m-76 4h4m36 0h4m24 0h4m24 0h4m-100 4h4m36 0h4m24 0h4m24 0h4m-60 4h4m12 0h4m8 0h4m24 0h4m-60 4h4m52 0h4m-60 4h4m16 0h4m32 0h4m16 0h4m-36 4h16m8 0h4m-72 4h8m28 0h4m-36 4h4m-4 4h4m24 0h4m-60 4h4m8 0h4m12 0h4m24 0h4m16 0h4m-24 4h4m16 0h4m-72 4h4m60 0h4m-68 4h4m16 0h4m-24 4h4m16 0h4m-4 4h4m56 0h4m-96 4h4m28 0h4m40 0h4m8 0h4m4 0h4m-16 4h4m8 0h4m-36 4h4m8 0h8m12 0h4m-68 4h4m28 0h8m4 0h4m16 0h4m-68 4h4m32 0h12m16 0h4m-68 4h4m40 0h8m-52 4h4m48 0h12m-12 4h4m-24 4h4m-20 12h4m-20 12h4m28 0h4m-32 4h4m36 4h8m0 4h4m-4 12h4m20 4h4m-8 4h8m-12 4h4m4 0h4m-28 4h4m20 0h4m-16 4h4m8 0h4m-4 4h4m-4 4h4m-24 4h8m12 0h4m-4 8h4m4 0h8m-16 4h4m4 0h8m-16 4h16m-12 4h12m-8 4h4m28 0h4m-36 4h4m32 0h4m-40 4h4m24 0h4m-32 4h4m24 0h4m-32 4h4m-4 4h4m-8 8h4m-4 4h4m32 0h4m-40 4h8m20 0h4m4 0h4m-40 4h8m20 0h8m-36 4h8m24 0h4m-36 4h4m-4 4h4m-8 8h4m-8 8h4m-8 12h4m-4 4h4m-4 4h4m0 8h4"/>
<path stroke="#53bd3f" d="M560 1115h4m-28 8h4m-20 4h4m0 4h4m16 0h4m8 0h4m-32 4h4m16 0h12m-32 4h4m16 0h8m-28 4h4m48 8h8m-8 4h8m4 0h4m-48 4h8m24 0h12m-52 4h4m8 0h4m24 0h12m-116 4h8m40 0h4m8 0h4m40 0h12m-116 4h8m40 0h8m52 0h4m-112 4h8m24 0h4m8 0h8m28 0h4m-52 4h4m12 0h4m28 0h4m-36 4h4m28 0h4m-60 4h4m16 0h4m-24 4h4m16 0h4m-44 4h4m16 0h4m48 0h4m-84 4h4m4 0h4m16 0h4m12 0h4m32 0h4m12 0h12m-104 4h8m16 0h4m48 0h4m8 0h8m4 0h8m-92 4h12m44 0h4m4 0h4m16 0h4m-96 4h4m8 0h4m48 0h4m4 0h4m16 0h4m-84 4h4m44 0h8m4 0h4m16 0h4m-100 4h4m12 0h4m24 0h4m4 0h4m8 0h4m8 0h4m16 0h4m8 0h4m-112 4h4m12 0h4m24 0h4m8 0h12m4 0h8m16 0h4m4 0h8m-112 4h4m52 0h12m8 0h4m16 0h4m8 0h4m-116 4h4m52 0h16m4 0h4m12 0h4m12 0h4m-140 4h4m24 0h4m48 0h4m8 0h8m8 0h4m4 0h8m-124 4h4m24 0h4m16 0h4m20 0h4m20 0h8m8 0h8m-120 4h4m24 0h4m40 0h8m20 0h4m36 0h4m-92 4h4m44 0h4m36 0h4m-96 4h4m44 0h4m36 0h4m-44 4h4m36 0h4m-112 4h4m64 0h4m36 0h4m-112 4h4m104 0h4m-112 4h4m100 0h4m-88 4h4m40 0h4m36 0h4m-72 4h4m20 0h4m32 0h4m-68 4h4m4 0h8m48 0h4m-88 4h4m16 0h4m12 0h4m4 0h4m36 0h4m-68 4h4m12 0h8m52 0h4m-104 4h4m20 0h4m16 0h4m24 0h8m4 0h4m12 0h4m-108 4h4m40 0h4m16 0h20m16 0h4m-108 4h4m44 0h4m16 0h4m8 0h8m-44 4h8m16 0h4m12 0h8m-56 4h4m8 0h4m16 0h4m12 0h8m-8 4h12m-44 4h4m28 0h20m-24 4h4m4 0h12m-20 4h4m4 0h12m-20 4h4m-4 4h8m-24 4h4m16 0h4m-8 4h4m8 0h8m-20 4h4m4 0h12m12 0h4m-64 4h8m20 0h4m4 0h4m4 0h20m-36 4h8m8 0h16m-16 4h12m-12 4h8m-8 4h4m8 0h12m-24 4h4m12 0h8m-24 4h4m8 0h4m8 0h4m-28 4h4m8 0h4m-4 4h4m12 0h4m-24 4h4m12 0h4m-36 4h4m12 0h4m-20 4h4m12 0h4m-4 4h4m-20 4h4m-4 4h4m-8 4h4m28 12h4m-32 4h4m4 0h4m16 0h4m-32 4h4m4 0h4m-12 4h8m16 0h4m-32 4h12m-12 4h28m-28 4h4m12 0h8m-28 4h4m16 0h8m-32 4h4m16 0h8m-28 4h4m16 0h8m-32 4h8m20 0h8m-36 4h4m28 0h4m-36 4h4m28 0h8m-40 4h4m28 0h12m-16 4h4m8 0h4m-16 4h4"/>
<path stroke="#56be52" d="M600 1115h4m-4 8h4m-4 4h4m-68 20h8m-8 4h8m-8 4h4m24 0h8m-8 4h4m-8 4h8m28 0h4m-4 4h4m-4 4h4m-88 16h4m-4 4h4m76 40h4m-112 4h8m100 0h4m-112 4h12m-4 4h4m-4 12h4m60 0h16m24 0h4m-108 4h4m60 0h8m4 0h4m24 0h4m-108 4h4m60 0h4m8 0h4m24 0h4m-108 4h4m60 0h4m4 0h8m-16 4h12m-88 4h8m72 0h4m28 0h4m-112 4h4m28 12h4m68 0h4m-80 4h4m68 0h4m-52 4h4m44 0h4m-56 4h8m44 0h4m-52 4h4m44 0h4m-4 4h4m-52 4h8m40 0h4m-56 4h4m44 0h4m-52 4h4m48 0h4m4 0h4m-64 4h8m44 0h12m-64 4h8m56 0h4m-68 4h4m60 0h4m-4 4h4m-4 4h4m-4 4h4m0 12h4m-4 4h4m0 12h4m-4 4h4m-4 20h4m-4 4h4m-4 8h4m-8 4h12m-12 4h8m-8 4h8m4 0h4m-16 4h8m8 28h4m-4 4h4m-12 4h12m-16 4h12m-12 4h4m4 0h4m-20 4h4m4 0h8m-16 4h4m8 0h4"/>
<path stroke="#5bc071" d="M604 1115h4m-4 8h4m-4 4h4m-4 4h4m-8 24h4m-4 4h4m-8 28h4m-4 4h4m-4 4h4m-4 8h4m-4 4h4m-4 36h4m-112 12h4m-8 4h8m-8 4h8m-4 4h4m104 4h4m-8 12h4m-8 28h4m-4 4h4m4 4h4m0 12h4m-4 4h4m-4 8h4m-4 4h4m0 12h4m-4 4h4m-4 4h4m0 36h4m-4 4h4m0 8h4m0 12h4m-4 4h4m-4 4h4m-4 4h4m0 16h4m-4 4h4m-4 4h4"/>
<path stroke="#5dc281" d="M608 1115h4m-4 4h4m-4 4h4m-8 12h4m-4 4h4m-4 4h4m-4 4h4m-8 16h4m-4 4h4m-4 4h4m-4 4h4m-4 4h4m-4 8h4m-8 24h4m-4 4h4m-4 4h4m-4 4h4m-4 4h4m-4 4h4m-4 4h4m-4 4h4m0 8h4m-4 4h4m-4 4h4m-4 4h4m-4 4h4m-8 12h4m-8 12h4m-8 8h4m-4 4h4m-4 4h4m-4 4h4m0 8h4m4 4h4m-4 4h4m-4 4h4m-4 12h4m0 16h4m0 40h4m-4 4h4m0 12h4m0 12h4m0 28h4"/>
<path stroke="#62c4a0" d="M612 1115h4m-4 4h4m-4 4h4m-8 16h4m-4 4h4m-4 20h4m-8 4h8m-8 4h8m-8 4h8m-8 4h4m-4 4h4m0 4h4m-8 4h4m-4 4h4m-8 12h4m-4 4h4m-4 12h4m-4 4h4m-4 12h4m0 8h4m-4 4h4m-4 4h4m-4 4h4m-4 4h4m-8 8h4m-4 4h4m-12 20h4m-4 4h4m-4 4h4m-4 4h12m-8 4h12m-4 4h4m-4 16h4m-4 4h4m-4 12h4m0 12h4m-4 4h4m-4 4h4m-4 4h4m0 28h4m-4 4h4m0 8h4m0 16h4m-4 8h4m-4 4h4m0 8h4m0 8h4"/>
<path stroke="#63c6bd" d="M616 1115h4m-8 24h4m-4 4h4m-4 16h12m-8 4h8m-4 4h8m-4 4h4m0 8h4m-4 4h4m-4 4h4m-4 4h4m-20 4h4m12 0h4m-24 4h12m4 0h4m-20 4h4m8 0h8m-24 4h4m8 0h8m-20 4h4m-4 28h4m0 8h4m-4 4h4m-4 4h4m0 4h4m-4 4h4m-8 4h8m-8 4h8m-8 4h4m-4 4h4m-4 4h4m-12 4h4m4 0h4m-16 4h4m4 0h8m-4 60h4m0 12h4m-4 4h4m-4 4h4m-4 4h4m-4 4h4m-4 4h4m-4 4h4m0 12h4m-4 4h4m0 8h4m-4 4h4m0 16h4m-4 4h4m0 4h4m-4 4h8m-4 4h4m-4 4h4m-4 4h4"/>
<path stroke="#63c6cb" d="M620 1115h4m-8 4h4m-4 4h4m-4 4h4m-4 4h4m-4 4h4m-8 12h8m-8 4h12m-12 4h12m0 4h4m-4 4h4m0 4h4m-4 4h4m-4 4h4m0 8h4m-8 16h4m-20 4h8m8 0h4m-24 4h8m8 0h8m-20 4h16m-24 4h4m12 0h4m-20 4h4m-4 4h4m-4 4h4m-4 4h4m-4 4h4m8 0h4m-8 4h8m-12 4h8m-4 4h4m-4 4h4m-4 4h8m-4 4h4m-4 4h4m-4 4h4m-4 4h4m-8 4h4m-4 4h4m-4 4h4m-4 4h4m-16 4h4m4 4h4m-4 4h4m-4 4h4m-4 4h4m-4 4h4m-4 4h4m16 24h4m-4 4h4m-24 4h4m0 8h4m-4 4h4m0 4h4m-4 20h4m-4 4h4m-4 4h4m-4 4h4m0 8h4m-4 4h4m0 12h4m-4 4h4m-4 4h4m0 4h4m-4 4h8m-4 4h4m-4 20h4m-4 4h4m-4 4h4m-4 4h4m-4 4h4m-4 4h4"/>
<path stroke="#64c7da" d="M624 1115h4m-8 4h8m-8 4h4m-4 4h4m-4 4h4m-4 4h4m-8 4h12m-12 4h12m-8 4h8m-4 4h4m-4 4h4m0 4h4m-4 4h8m-4 4h4m-4 4h4m-4 4h4m-4 4h8m-4 4h4m-8 4h4m-4 4h4m-4 4h4m-4 4h4m-4 4h4m-28 8h4m16 0h8m-28 4h12m4 0h12m-20 4h16m-12 4h12m-12 4h12m-20 4h20m-24 4h8m4 0h12m-24 4h4m8 0h8m-12 4h8m-8 4h8m-8 4h8m-4 4h4m-4 4h4m-4 4h4m-4 4h4m-12 24h4m20 24h4m-12 4h12m-12 4h12m-32 4h4m16 0h12m-32 4h4m16 0h12m-32 4h4m16 0h16m-36 4h4m12 0h4m4 0h8m-32 4h4m12 0h4m4 0h8m-16 4h12m-24 4h4m4 0h12m-16 4h12m-12 4h8m-4 4h4m-8 4h4m-4 4h4m-4 4h4m-4 4h4m0 8h4m-4 4h4m-4 4h4m-4 4h4m0 8h4m-4 4h4m-4 4h4m0 12h4m0 4h4m0 4h4m-4 4h4m-4 4h4m-4 4h4m-4 28h4m-4 4h8"/>
<path stroke="#64c8e8" d="M628 1115h12m-12 4h12m-16 4h16m-16 4h12m-12 4h8m-8 4h8m-4 4h4m-4 4h4m-4 4h4m-4 4h4m-4 4h8m-4 4h4m0 4h8m-8 4h8m-8 4h8m-8 4h8m-4 4h4m-4 4h4m-8 4h4m-4 4h4m-4 4h4m-4 4h4m-4 4h4m-8 4h4m-28 12h8m16 0h4m-28 4h12m12 0h4m-28 4h12m12 0h4m-28 4h4m20 0h4m-4 4h4m-8 4h8m-12 4h8m-8 4h8m-8 4h4m-4 4h4m-4 4h4m-4 4h4m-8 8h4m-8 4h4m12 0h8m-24 4h4m12 0h8m-24 4h4m16 0h4m-24 4h4m16 0h4m-8 8h4m-4 4h4m-4 4h8m-8 4h8m-8 4h8m-8 4h4m4 0h4m-36 4h4m12 0h4m12 0h4m-36 4h4m12 0h4m12 0h4m-20 4h4m12 0h4m-4 4h4m0 4h4m-32 4h8m16 0h4m-32 4h12m16 0h4m-32 4h12m12 0h8m-28 4h4m12 0h8m-12 4h8m-12 4h8m-8 4h8m-12 4h8m-8 4h4m-4 4h4m-4 4h8m-8 4h8m-4 4h4m-4 4h4m-4 4h4m-4 4h4m-4 4h4m0 16h4m-4 4h4m0 4h8m-4 4h4m0 8h4m-4 4h4m-4 4h4m-8 4h4m-4 4h4m-4 4h4m-4 4h4m-4 4h8m-8 4h12m-8 4h8m-4 4h4"/>
<path stroke="#62c6e8" d="M640 1115h4m-4 4h4m-4 4h4m-8 4h8m-12 4h12m-12 4h8m-8 4h8m-8 4h8m-8 4h8m-8 4h12m-8 4h12m-12 4h12m-4 4h4m-4 4h8m-8 4h8m-8 4h8m-8 4h4m-4 4h4m-8 4h20m-20 4h4m8 0h4m-16 4h4m-4 4h4m-4 4h4m-8 4h4m-4 4h4m-4 4h4m-4 4h4m-4 4h4m-4 4h4m-8 16h4m-4 4h4m-8 4h8m-8 4h12m-12 4h16m-16 4h16m-20 4h20m-20 4h20m-24 4h12m8 0h4m-24 4h4m4 0h4m8 0h4m-12 4h4m4 0h4m-12 4h4m4 0h4m-28 4h4m12 0h12m-32 4h4m12 0h4m4 0h4m-28 4h4m12 0h4m4 0h4m-28 4h4m12 0h4m-20 4h4m12 0h4m8 0h4m-32 4h4m12 0h4m8 0h4m-32 4h4m12 0h4m12 12h4m-24 4h4m16 0h4m-36 4h4m8 0h4m-16 4h4m28 0h4m-4 4h4m-4 4h4m-8 4h8m-12 4h8m-12 4h12m-12 4h12m-16 4h8m-12 4h12m-12 4h8m-4 4h4m-4 4h4m-4 4h4m-4 12h4m-4 4h4m-4 4h4m-4 4h4m-4 4h4m0 8h8m0 4h4m-4 4h4m-4 4h4m-4 24h4m-4 4h4m0 4h8m-4 4h4m-4 4h4m-4 4h4"/>
<path stroke="#5fc4e8" d="M644 1115h4m-8 20h4m-4 4h4m-4 4h4m-4 4h8m-4 4h8m-4 4h4m-4 4h4m-4 4h4m0 4h4m-4 4h4m-4 4h8m-12 4h16m-16 4h20m-8 4h8m-24 4h8m4 0h8m-20 4h20m-20 4h4m-4 4h4m-8 4h4m-4 4h4m-8 20h4m-4 4h4m-4 4h4m-4 4h4m-4 4h4m-4 4h8m-4 4h4m0 4h4m-4 4h4m-4 4h4m-4 4h4m-24 8h4m-8 4h12m-12 4h4m4 0h4m-4 4h4m-16 4h4m4 0h4m12 0h4m-28 4h4m4 0h4m12 0h4m-28 4h4m20 0h4m0 8h4m-4 4h4m-36 4h4m4 0h4m20 0h12m-44 4h4m4 0h4m20 0h8m-40 4h12m24 0h4m-40 4h12m24 0h4m-36 4h8m24 0h4m-4 4h4m-4 4h4m-4 4h4m-4 4h4m-8 4h8m-8 4h8m-8 4h4m-12 4h12m-12 4h12m-16 4h12m-12 4h8m-8 4h4m-4 4h4m-8 4h4m-4 4h4m0 8h4m-4 12h4m-4 4h8m0 4h4m0 4h4m-4 8h4m-4 4h4m-4 4h4m-4 4h4m-8 4h4m-4 4h4m0 4h4m-4 4h24m-16 4h16m-16 4h12m-12 4h16m-16 4h12"/>
<path stroke="#5dc2e8" d="M648 1115h4m-8 4h4m-4 4h4m-4 4h4m-4 4h4m-4 4h4m-4 4h4m-4 4h8m-4 4h4m0 4h4m-4 4h4m-4 4h4m-4 4h8m-4 4h8m-8 4h12m-8 4h8m-4 4h8m-4 4h4m-8 8h4m-4 4h4m-20 4h20m-20 4h20m-24 4h20m-20 4h4m8 0h8m-24 4h4m16 0h4m-24 4h4m-4 4h4m-4 4h4m-4 16h4m-4 4h4m0 4h4m-4 4h8m-4 4h4m-4 4h4m-4 4h4m-4 4h4m-8 4h4m-4 4h4m-4 4h4m-24 4h4m16 0h4m-28 4h8m16 0h4m-28 4h4m20 0h4m8 0h8m-44 4h4m20 0h4m4 0h12m-44 4h8m16 0h20m-48 4h4m4 0h4m16 0h20m-48 4h4m4 0h4m20 0h12m-44 4h4m4 0h4m20 0h12m-44 4h4m36 0h4m-44 4h4m32 0h8m-8 4h8m-8 4h8m-8 4h4m-4 4h4m-4 4h4m-4 4h4m-4 4h4m-4 4h4m-4 4h4m-8 4h4m-4 4h4m-4 4h4m-8 4h4m-8 4h8m-12 4h8m-8 4h4m-8 4h8m-8 4h8m-8 4h4m-4 8h4m-4 4h4m0 4h4m0 4h4m0 4h4m-4 8h4m16 8h4m-4 4h8m-8 4h8m-28 4h4m4 0h24m-32 4h32m-28 4h28m-8 4h8m-8 4h8m-12 4h12m-8 4h4m-8 4h8"/>
<path stroke="#58bee8" d="M652 1115h4m-4 12h4m-4 4h4m-4 4h4m-4 4h8m-4 4h8m-4 4h8m-8 4h16m-12 4h12m-12 4h12m-4 4h4m-4 4h4m-4 4h4m-4 4h4m-4 4h4m-4 4h4m-8 16h4m-4 4h4m-4 8h4m-4 4h4m-28 4h12m12 0h4m-28 4h4m4 0h4m-12 4h4m4 0h8m4 0h4m-24 4h8m12 0h4m-24 4h8m12 0h4m-24 4h8m8 0h4m-16 4h4m4 0h8m-8 4h4m-4 4h4m-4 4h4m-4 4h4m-4 4h4m-4 4h4m-4 4h4m-8 4h12m-12 4h16m-20 4h20m-20 4h12m4 0h4m-16 4h8m8 0h4m-4 16h4m-4 4h4m-4 4h4m-4 8h4m-8 4h4m-4 4h4m-4 4h4m-4 4h4m-8 4h8m-8 4h4m-4 4h4m-4 4h4m-8 8h4m-8 8h4m-4 4h4m-4 4h4m-8 4h4m12 0h8m-28 4h4m20 0h4m-32 8h4m-4 4h4m-4 4h4m-4 4h16m-12 4h12m-8 4h12m-12 4h12m-8 4h8m-8 4h24m-24 4h8m12 0h4m-24 4h8m12 0h8m-4 4h4m-4 4h8m-4 4h4m-4 4h4m-4 4h4m-4 4h4m-4 4h4m-4 8h4m-4 4h4m-4 4h4"/>
<path stroke="#54b4e4" d="M656 1115h4m-8 4h8m-8 4h8m-4 4h12m-12 4h12m-12 4h16m-12 4h16m-12 4h16m-12 4h12m-4 4h4m-4 4h4m-4 4h4m-4 4h4m-4 4h4m-4 4h4m-4 4h4m-8 12h4m-4 4h4m-4 4h4m-4 4h4m-8 8h4m-24 16h4m16 0h4m-24 4h4m16 0h4m-4 4h4m4 0h8m-16 4h4m8 0h4m-20 4h4m-4 4h4m-8 4h4m-4 4h4m-4 4h4m-4 4h4m-4 4h4m-4 4h4m-4 4h4m0 4h4m0 4h4m-4 4h4m-4 4h4m-4 8h4m-4 4h4m-4 4h4m0 12h4m-8 4h4m-4 8h4m-4 4h4m-4 4h4m-4 4h4m-4 4h4m-8 4h8m-8 4h4m-4 4h4m-8 4h4m-4 4h16m-20 4h4m4 0h16m-24 4h4m8 0h12m-24 4h4m8 0h12m-24 4h4m8 0h12m-28 4h12m8 0h4m-28 4h20m4 0h4m-32 4h32m-32 4h28m-28 4h28m-28 4h20m-8 4h12m-12 4h12m-8 4h12m-12 4h16m-16 4h20m-4 4h4m-4 4h4m0 4h4m-4 4h4m0 8h4m-4 4h4m-4 4h4m-4 4h4m-4 4h4m-8 4h8m-4 4h4m-4 4h8m-8 4h8"/>
<path stroke="#4faadf" d="M660 1115h4m-4 4h16m-16 4h16m-8 4h8m-8 4h8m-4 4h8m-4 4h4m0 4h4m-4 4h4m-4 4h4m-4 4h4m-4 4h4m-4 4h4m-8 16h4m-4 4h4m-8 20h4m-4 4h4m-4 4h4m4 0h8m-16 4h4m4 0h8m-16 4h4m4 0h12m-20 4h20m-20 4h20m-20 4h4m8 0h4m-16 4h8m4 0h4m-20 4h20m-20 4h16m-20 4h8m-8 4h12m-12 4h4m-4 4h4m-4 4h8m-8 4h8m-8 4h8m-4 4h8m-4 4h4m-4 4h4m-4 4h4m-4 4h4m-4 12h4m-4 4h4m-4 4h4m-4 8h4m-4 4h4m-4 4h4m-4 4h4m-4 4h4m-4 8h4m-4 4h4m-8 4h8m-8 4h12m-16 4h16m-4 4h4m-20 4h4m-4 4h8m-8 4h8m-8 4h8m8 4h4m-4 4h4m-4 4h4m-8 4h8m-8 4h4m-12 4h12m-8 4h8m-8 4h12m-8 4h8m-4 4h8m-4 4h4m-4 4h4m-4 4h4m0 4h4m-4 4h4m-4 4h4m0 12h4m-4 4h8m-8 4h12m-12 4h16m-16 4h16m-12 4h12m-12 4h12"/>
<path stroke="#4ba0db" d="M664 1115h16m-4 4h4m-4 4h4m-4 4h4m-4 4h8m-4 4h4m-4 4h4m0 4h4m-4 4h4m-4 4h4m-4 4h4m-4 4h4m-8 8h4m-4 4h4m-4 4h4m-4 4h4m-4 4h4m-8 4h4m-4 4h4m-4 4h4m-4 4h4m-4 4h4m-4 4h16m-16 4h4m8 0h4m-16 4h4m8 0h4m-16 4h4m8 12h4m-4 4h4m-8 8h4m-16 4h16m-12 4h8m-16 4h12m-12 4h8m-4 4h4m-4 4h8m-8 4h8m-4 4h4m-8 20h4m-4 4h4m-4 40h4m0 8h4m-4 4h4m0 4h4m-4 4h4m-4 4h4m-4 4h4m-4 4h4m-4 4h4m-4 4h4m-4 8h4m-4 4h4m-4 4h4m-8 4h4m-4 4h4m-4 4h4m0 4h4m-4 4h4m0 4h4m-4 4h4m-4 4h4m-4 4h4m0 4h4m-4 4h4m-4 4h8m-8 4h8m-8 4h12m-8 4h8m-4 4h8m-4 4h4m0 4h4m-4 4h4m-4 4h4m-4 4h4"/>
<path stroke="#4796d7" d="M680 1115h4m-4 4h4m-4 4h4m-4 4h8m-4 4h4m-4 4h4m-4 4h4m0 8h4m-4 4h4m-4 4h4m-4 4h4m-8 4h4m-4 4h4m-4 4h4m-8 16h4m-4 4h4m-4 4h4m-4 4h8m-8 4h16m-4 12h4m-4 4h4m-4 4h4m-4 4h4m-8 12h4m-4 4h4m-4 4h4m-8 4h4m-8 4h8m-12 4h12m-12 4h8m-4 4h4m-4 4h4m-4 4h4m-8 4h4m-4 4h4m-4 4h4m-4 4h4m-4 16h4m-4 4h4m-4 4h4m-4 8h4m-4 4h4m-4 4h4m-4 4h4m-4 4h4m-4 4h4m0 4h4m-4 4h4m0 8h4m-4 16h4m-4 4h4m-8 4h4m-4 16h4m-4 4h8m-8 4h8m-4 4h4m-4 4h8m-4 4h4m-4 4h4m-4 4h8m-8 4h12m-8 4h8m-8 4h12m-8 4h8m-8 4h8m-4 4h4m-4 4h4m0 8h4m0 4h4m-4 4h4m-4 4h4m-4 4h4"/>
<path stroke="#448dd2" d="M684 1115h4m-4 4h4m-4 4h4m0 4h4m-4 4h4m-4 4h4m-4 4h4m-4 4h4m-8 32h4m-4 4h4m-4 4h4m-4 4h4m-4 4h8m-8 4h12m-8 4h8m0 4h4m-8 4h4m-4 4h4m-4 20h4m-4 4h4m-4 4h4m-4 4h4m-4 4h4m-8 4h4m-4 4h4m-4 4h4m-8 4h8m-8 4h8m-8 4h4m-4 4h4m-8 4h4m-4 4h4m-8 12h4m-4 4h4m-4 4h4m-4 16h4m0 16h4m-4 8h4m0 8h4m-4 4h4m-4 8h4m-4 4h4m-4 4h4m-4 12h4m-4 4h4m-4 4h4m-4 4h4m-4 4h4m0 4h4m-4 4h4m-4 4h4m0 4h4m-4 4h4m-4 4h8m-4 4h8m-4 4h4m-4 4h4m0 4h4m-4 4h4m-4 4h4m-4 8h4m-4 4h4m0 4h4m0 8h4"/>
<path stroke="#4284cd" d="M688 1115h4m-4 4h4m-4 4h4m0 4h4m-4 4h4m-4 4h4m-4 4h4m-4 4h4m-4 16h4m-8 4h4m-4 4h4m-4 4h4m-4 4h4m-4 4h4m-4 4h4m-4 4h8m-4 4h8m-4 4h4m-4 4h4m-4 8h4m-4 4h4m-4 4h4m-4 4h4m-4 4h4m-4 4h4m-8 24h4m-4 4h4m-4 4h4m-4 4h4m-4 4h4m-8 4h4m-4 4h8m-12 4h16m-16 4h4m8 0h8m-24 4h4m16 0h8m-28 4h4m16 0h4m-8 4h8m-4 4h4m-24 8h4m-4 4h4m-4 4h4m-4 12h4m-4 4h4m-4 8h4m0 8h4m0 12h4m-4 8h4m-4 4h4m-4 4h4m-4 4h4m-4 4h4m-4 4h4m-4 4h4m-4 4h4m-4 4h4m0 4h4m-4 4h4m-4 4h8m-4 4h12m-12 4h12m-8 4h8m-4 4h4m-4 4h4m-4 4h4m0 12h4m-8 4h4m0 4h4m-4 4h4m0 4h4m-4 4h4m-4 8h4m-4 4h4"/>
<path stroke="#3f7bc8" d="M692 1115h4m4 0h12m-20 4h16m-16 4h8m-4 4h4m-4 4h4m-4 4h4m-8 12h4m-4 4h4m-4 4h4m24 0h4m-8 4h8m-12 4h12m-12 4h12m-8 4h4m-28 4h4m-4 4h4m-4 4h12m-8 4h8m-4 4h4m-4 4h4m-4 4h4m-4 4h4m-8 28h4m-4 4h4m-4 4h4m-4 4h4m-4 4h4m-4 4h4m-4 4h4m-4 4h4m-4 4h4m-4 4h8m-12 4h12m-8 4h12m-8 4h8m-20 4h8m8 0h4m-24 4h16m-16 4h4m8 0h4m4 0h4m-28 4h4m8 0h4m8 0h4m-28 4h4m8 0h8m4 0h4m-28 4h4m12 0h8m-8 4h8m-24 12h4m-4 4h4m0 8h4m-4 4h4m-4 4h4m20 0h4m-28 4h4m0 8h4m-4 4h4m-4 8h4m0 12h4m-4 4h4m-4 4h4m-4 4h4m-4 4h4m-4 4h4m-4 4h8m-4 4h4m-4 4h16m-12 4h16m-8 4h8m-8 4h8m-8 4h4m-4 4h4m-4 4h4m-4 4h4m16 0h8m-28 4h4m16 0h8m-28 4h4m16 0h8m-24 4h4m-8 4h8m8 0h8m-20 4h4m-4 4h4m0 12h4"/>
<path stroke="#3c73c4" d="M696 1115h4m12 0h4m-8 4h4m-12 4h12m-12 4h8m-8 4h4m-4 4h4m-8 4h8m-8 4h4m16 0h8m-28 4h4m16 0h12m-16 4h16m-16 4h8m4 0h4m-32 4h4m12 0h4m8 0h4m-36 4h4m8 0h8m12 0h4m-36 4h8m4 0h8m12 0h4m-36 4h24m4 0h8m-32 4h36m-36 4h36m-28 4h28m-28 4h24m-24 4h24m-24 4h4m12 0h8m-24 4h4m-8 8h4m-4 4h4m-4 4h4m-4 4h4m-4 4h4m-4 4h4m-4 20h4m-4 4h4m-4 4h4m-4 4h8m-8 4h8m-4 4h8m-8 4h8m-4 4h4m-4 4h4m-4 4h4m-4 4h4m-24 4h8m12 0h4m-28 4h8m-8 4h8m-8 4h12m8 0h4m-24 4h12m8 0h4m-24 4h24m-24 4h8m4 0h8m-20 4h20m-20 4h20m-20 4h8m12 0h4m-20 4h4m12 0h12m-28 4h4m12 0h16m-32 4h20m4 0h8m-32 4h4m4 0h24m-32 4h4m4 0h20m-24 4h4m4 0h16m-24 4h4m8 0h12m-24 4h4m12 0h4m-20 4h16m-16 4h12m-12 4h8m-4 4h4m-4 4h4m-4 4h4m-4 4h8m-8 4h8m4 0h8m-20 4h20m-16 4h20m-20 4h20m-8 4h8m-4 4h4m-4 4h4m-8 8h4m-4 4h4m-4 4h4m8 0h16m-28 4h4m8 0h4m8 0h4m-28 4h4m8 0h4m8 0h8m-32 4h16m8 0h8m-28 4h28m-28 4h8m8 0h12m-28 4h28m-28 4h12m-12 4h4m-4 4h4m-4 8h4m-4 4h4"/>
<path stroke="#3a6bc0" d="M716 1115h4m-8 4h4m-4 4h4m-8 4h4m-8 4h8m-8 4h8m-8 4h28m-32 4h16m8 0h8m-32 4h16m12 0h4m-36 4h16m16 0h4m-36 4h4m8 0h4m16 0h4m-32 4h4m4 0h4m16 0h4m-36 4h8m24 0h4m-32 4h4m24 0h8m-8 4h8m-4 4h4m-4 4h4m-4 4h4m-8 4h8m-8 4h8m-28 4h12m8 0h4m-24 4h24m-28 4h4m12 0h8m-24 4h20m-20 4h4m4 0h8m-20 20h4m-4 4h4m-4 4h4m-4 4h8m-4 4h4m-4 4h16m-16 4h12m-8 4h8m-8 4h8m-4 4h4m-4 4h4m-4 4h4m-4 4h4m-4 4h4m-4 4h4m-4 4h4m-8 4h4m-4 4h4m-4 4h4m-4 4h4m-4 4h4m-20 4h4m8 0h8m-8 4h8m-8 4h24m-36 4h12m4 0h20m-36 4h12m12 0h12m-36 4h12m16 0h8m-8 4h4m-32 4h4m24 0h4m-32 4h4m20 0h4m-24 4h4m16 0h4m-24 4h8m12 0h4m-24 4h12m4 0h8m-12 4h8m-12 4h8m-12 4h12m-12 4h12m-12 4h12m-12 4h20m-16 4h16m-16 4h4m8 0h4m-4 4h8m-4 4h4m-4 4h4m-4 4h4m-4 4h4m-4 4h8m-12 4h16m-16 4h24m-24 4h28m-28 4h8m16 0h4m-28 4h8m16 0h8m-32 4h8m20 0h8m-8 4h8m-8 4h8m-8 4h8m-8 4h8m-24 4h24m-32 4h32m-32 4h4m16 0h12m-32 4h4m16 0h12m-16 4h12m-12 4h12"/>
<path stroke="#3b64bc" d="M720 1115h20m-20 4h20m-20 4h20m-20 4h20m-4 4h4m-4 4h4m-4 4h4m-4 4h4m-4 4h4m-4 4h4m-4 4h8m-4 4h4m-8 4h4m0 4h4m-4 4h4m-4 4h4m-4 4h4m-4 4h8m-4 4h12m-16 4h16m-16 4h16m-20 4h20m-20 4h8m-12 4h12m-16 4h12m-16 4h12m-16 4h12m-20 4h16m-20 4h20m-12 4h12m-12 4h12m-8 4h12m-8 4h12m-12 4h12m-8 4h8m-8 4h4m-4 4h4m-4 4h4m-8 4h8m-8 4h4m-8 4h8m-8 4h4m-8 4h4m-4 4h4m-4 4h4m-8 4h4m24 0h4m-32 4h4m20 0h8m-12 4h12m-28 4h4m8 0h8m4 0h4m-28 4h16m8 0h4m-24 4h8m12 0h4m-8 4h4m-4 4h4m-4 4h4m24 0h4m-32 4h4m24 0h4m-4 4h4m-36 4h4m24 0h4m-36 4h8m24 0h4m-40 4h8m28 0h4m-40 4h8m-8 4h4m-4 4h4m-8 4h8m-8 4h8m-8 4h8m-8 4h8m-4 4h8m-8 4h12m-12 4h12m-8 4h8m-8 4h8m-8 4h8m-4 4h4m-8 4h8m-4 4h4m0 4h4m0 4h4m0 4h4m0 4h4m0 4h8m-8 4h8m-4 4h4m-4 4h4m-4 8h4m-4 4h4m-4 4h4m-4 4h4m-4 4h4m-32 4h4m24 0h8m-40 4h4m28 0h4m-36 4h8m24 0h4"/>
<path stroke="#3b61ba" d="M740 1115h4m12 0h12m-28 4h4m8 0h12m-24 4h4m12 0h8m-24 4h4m-4 4h4m-4 4h4m-4 4h4m-4 4h4m-4 4h4m-4 4h4m28 0h4m-8 4h8m-8 4h8m-36 4h4m20 0h8m-8 4h8m-28 4h4m12 0h12m-28 4h4m8 0h12m-24 4h24m-20 4h16m-8 4h8m-8 4h8m-8 4h8m-8 4h8m-20 4h16m-16 4h12m-16 4h16m-20 4h16m-20 4h16m-20 4h8m-8 4h8m-8 4h8m-8 4h8m-4 4h8m-4 4h4m-4 4h4m-4 4h4m-8 4h4m-4 4h4m-4 4h4m-4 4h4m-8 4h8m-8 4h8m-12 4h12m-16 4h16m-16 4h4m12 0h8m-24 4h4m12 0h16m-36 4h4m8 0h12m4 0h8m-36 4h4m8 0h8m8 0h8m-36 4h16m12 0h4m-28 4h8m16 0h4m-4 4h4m-4 4h4m-8 4h4m20 0h4m-28 4h4m20 0h8m-4 4h4m-12 4h4m4 0h4m-36 4h4m20 0h4m4 0h4m-16 4h4m4 0h4m-12 4h4m4 0h4m-36 4h4m20 0h4m4 0h4m-36 4h4m20 0h8m-36 4h8m16 0h12m-36 4h4m20 0h8m-32 4h28m-28 4h24m-24 4h20m-20 4h20m-16 4h16m-12 4h8m-8 4h8m-8 4h4m-4 4h4m-4 4h4m-4 4h4m-4 4h4m-4 4h4m0 4h4m0 4h4m12 0h4m-16 4h16m-12 4h12m-4 4h4m-4 4h4m-4 4h4m-4 4h4m-4 4h4m-4 12h4m-4 4h4m-4 4h4m0 4h4m-8 4h8m24 0h4m-36 4h8m24 0h8"/>
<path stroke="#3b5db8" d="M744 1115h12m12 0h4m20 0h16m-64 4h8m12 0h4m20 0h16m-60 4h12m8 0h4m16 0h20m-60 4h24m16 0h20m-60 4h4m8 0h8m20 0h12m-52 4h4m-4 4h4m16 0h12m-32 4h4m16 0h16m-36 4h4m16 0h16m-36 4h4m16 0h8m4 0h4m-36 4h4m16 0h4m8 0h4m-36 4h4m16 0h4m8 0h4m-36 4h4m12 0h4m8 0h4m-32 4h4m8 0h8m8 0h4m-28 4h12m12 0h4m-28 4h8m12 0h4m-4 4h4m-8 4h8m-8 4h4m-4 4h4m-4 4h4m-4 4h4m-8 4h8m-12 4h8m-8 4h4m-8 4h8m-12 4h12m-24 4h24m-24 4h16m-16 4h16m-16 4h12m-8 4h4m-4 4h4m-4 4h4m-8 8h4m-4 4h4m-4 4h4m-4 4h8m-8 4h8m-8 4h8m-8 4h8m-8 4h20m-32 4h12m8 0h16m-36 4h12m16 0h8m-40 4h8m24 0h4m-36 4h8m24 0h4m-8 4h4m-4 4h4m16 4h4m-4 4h8m-16 4h4m4 0h4m-12 4h4m-24 4h4m16 0h4m-24 4h4m-4 4h4m-8 4h4m12 0h4m-20 4h4m12 0h4m-20 4h4m12 0h4m-20 4h4m12 0h4m8 0h4m-32 4h16m12 0h4m-36 4h20m8 0h8m-12 4h4m-8 4h8m-12 4h8m-8 4h4m-4 4h4m-8 4h4m-4 4h4m-8 4h4m-4 4h4m-4 4h4m-4 4h4m-4 4h4m16 0h12m-32 4h4m16 0h12m-28 4h4m8 0h16m-24 4h12m4 0h4m-4 4h4m-4 4h4m-8 24h4m-4 4h4m28 4h8m-36 4h4m24 0h12m-40 4h4m20 0h16m-36 4h4m16 0h16m-36 4h8m8 0h8m4 0h8m-36 4h8m8 0h8m8 0h4"/>
<path stroke="#3b5ab6" d="M772 1115h4m12 0h4m16 0h4m-44 4h4m8 0h8m16 0h4m-40 4h4m8 0h4m20 0h4m-40 4h4m8 0h4m20 0h4m-60 4h8m8 0h8m4 0h8m12 0h16m-64 4h64m-64 4h16m12 0h36m-64 4h4m8 0h4m16 0h12m8 0h16m-68 4h4m8 0h4m16 0h8m12 0h16m-68 4h4m8 0h4m16 0h4m20 0h12m-68 4h4m8 0h4m16 0h4m20 0h8m-64 4h4m8 0h4m16 0h4m20 0h8m-64 4h12m16 0h4m16 0h12m-60 4h8m20 0h4m-4 4h4m-8 4h4m-4 4h4m-4 4h4m-8 4h4m-4 4h4m-4 4h4m16 0h4m-24 4h4m12 0h4m-20 4h4m12 0h4m-24 4h8m8 0h8m-28 4h12m8 0h4m-24 4h12m-12 4h12m-12 4h8m-16 4h16m-16 4h12m-16 4h8m-12 4h8m-8 4h4m-4 4h4m44 0h4m-56 4h4m44 0h8m-56 4h4m44 0h8m-56 4h4m44 0h8m-56 4h4m40 0h12m-12 4h12m-12 4h8m-48 4h4m8 0h8m16 0h12m-48 4h20m20 0h4m-32 4h12m-8 4h8m-8 4h8m-12 4h12m-12 4h16m-20 4h20m-20 4h8m4 0h12m-28 4h8m8 0h4m4 0h4m-28 4h4m12 0h4m-24 4h4m8 0h4m12 0h4m-32 4h4m8 0h4m12 0h4m-20 4h4m12 0h4m-20 4h4m12 0h4m-20 4h4m12 0h4m-8 4h4m-32 4h4m24 0h4m-32 4h4m4 0h4m16 0h4m-32 4h12m16 0h4m-4 4h4m-12 8h4m-4 4h4m-8 4h4m-8 4h4m-4 4h4m-8 4h4m-4 4h4m-8 4h4m20 0h8m-32 4h4m16 0h16m-36 4h4m16 0h16m-36 4h4m16 0h16m-36 4h4m8 0h4m12 0h8m-36 4h16m12 0h4m-28 4h8m16 0h4m-8 4h4m-4 4h4m-4 4h4m-8 4h4m-4 4h4m-4 4h4m-4 4h4m28 0h4m-36 4h4m28 0h8m-20 4h20m-40 4h4m16 0h20m-40 4h4m16 0h8m8 0h8m-40 4h4m8 0h12m12 0h4m-40 4h20m16 0h4m-36 4h16m16 0h4m-32 4h8m20 0h4m-32 4h8m20 0h4"/>
<path stroke="#3c56b4" d="M776 1115h12m24 0h4m-44 4h8m28 0h4m-40 4h8m28 0h4m-40 4h8m28 0h8m-44 4h4m36 0h8m-8 4h8m-8 4h4m-64 4h8m32 0h8m-48 4h8m28 0h12m-48 4h8m24 0h20m-52 4h8m24 0h4m8 0h8m8 0h4m-64 4h8m24 0h4m8 0h8m8 0h4m-36 4h4m8 0h4m12 0h4m-32 4h32m-32 4h28m-32 4h32m-32 4h28m-28 4h24m-28 4h28m-28 4h24m-24 4h16m4 0h4m-24 4h12m4 0h8m-24 4h12m4 0h8m-24 4h8m8 0h4m-20 4h8m4 0h8m-20 4h16m-16 4h16m-20 4h24m-24 4h24m-28 4h32m-40 4h44m-48 4h28m4 0h16m-52 4h12m4 0h16m8 0h12m-52 4h8m32 0h4m4 0h4m-56 4h44m8 0h4m-56 4h8m12 0h24m8 0h4m-56 4h8m8 0h28m8 0h4m20 0h4m-80 4h4m12 0h24m36 0h8m-84 4h4m12 0h24m36 0h8m-84 4h8m4 0h20m4 0h4m8 0h4m24 0h8m-80 4h8m8 0h8m4 0h4m32 0h12m-60 4h8m8 0h4m4 0h4m20 0h8m-52 4h4m8 0h12m20 0h8m-52 4h4m12 0h8m-24 4h8m-8 4h8m-4 4h4m-4 4h8m-20 4h4m12 0h4m-24 4h8m12 0h4m-28 4h12m12 0h4m-32 4h8m32 0h8m-48 4h8m32 0h8m-52 4h4m40 0h8m-52 4h4m44 0h4m-52 4h4m4 0h4m36 0h4m-56 4h4m4 0h4m32 0h8m-48 4h8m32 0h8m24 0h4m-76 4h4m40 0h4m24 0h4m-8 4h8m-8 4h8m-52 4h4m40 0h8m-56 4h4m36 0h12m-52 4h4m36 0h12m-56 4h8m36 0h12m-60 4h16m-16 4h20m4 0h4m-32 4h32m-32 4h36m-40 4h20m8 0h16m-44 4h16m16 0h16m-48 4h16m16 0h16m-48 4h16m16 0h12m-44 4h8m24 0h12m-16 4h16m-16 4h4m4 0h8m-20 4h4m-4 4h4m-4 4h4m-8 4h4m16 0h12m-32 4h4m16 0h16m-36 4h4m16 0h20m-40 4h4m16 0h8m4 0h8m-40 4h4m12 0h12m8 0h8m-48 4h4m12 0h4m20 0h4m-40 4h16m20 0h4m-40 4h16m24 0h4m-40 4h8m28 0h4m-4 4h4m-4 4h4m-4 4h4m-4 4h8"/>
<path stroke="#3c53b2" d="M816 1115h4m8 0h12m-28 4h24m-24 4h20m-16 4h12m-8 4h8m-8 4h4m-8 4h4m-4 4h4m-4 4h4m-4 4h4m-32 4h8m20 0h4m-32 4h8m20 0h4m-36 4h8m20 0h4m-4 4h4m-8 4h8m-8 4h4m36 0h4m-48 4h8m36 0h4m-52 4h8m-8 4h4m-8 4h4m-4 4h4m-4 4h4m-4 4h4m-8 4h4m-4 4h4m-8 4h8m-8 4h12m-8 4h12m-12 4h12m-8 4h8m-4 4h4m-24 4h4m16 0h4m-44 4h4m16 0h8m12 0h4m-48 4h32m12 0h4m16 4h4m-72 4h12m52 0h16m-80 4h8m56 0h4m4 0h8m-84 4h12m36 0h4m16 0h4m8 0h4m-84 4h12m36 0h4m16 0h4m8 0h4m-80 4h4m20 0h4m16 0h4m12 0h8m8 0h4m-60 4h4m16 0h4m12 0h4m12 0h4m-56 4h8m12 0h4m12 0h4m8 0h8m-56 4h8m12 0h8m8 0h4m8 0h4m-52 4h12m8 0h8m8 0h16m-48 4h44m-44 4h36m-36 4h32m-28 4h28m-28 4h4m4 0h20m-28 4h4m4 0h16m-24 4h4m4 0h16m44 0h8m-80 4h4m4 0h4m8 0h4m44 0h12m-80 4h4m4 0h4m8 0h4m48 0h8m-108 4h8m20 0h4m4 0h4m8 0h4m48 0h8m-108 4h8m20 0h4m4 0h8m4 0h4m-52 4h4m24 0h4m4 0h8m4 0h4m20 0h4m-80 4h4m24 0h4m4 0h4m8 0h4m16 0h12m-52 4h4m4 0h4m8 0h4m16 0h4m4 0h4m-52 4h4m4 0h8m4 0h4m16 0h4m4 0h4m-52 4h4m4 0h16m24 0h4m-52 4h4m4 0h16m12 0h4m8 0h4m-52 4h20m16 0h4m8 0h4m-56 4h24m8 0h4m12 0h4m-52 4h24m8 0h4m12 0h4m-52 4h24m8 0h4m12 0h4m-48 4h20m4 0h24m-44 4h4m4 0h36m-36 4h36m-32 4h12m-8 4h8m-4 4h4m-4 4h4m-8 4h8m-8 4h4m-4 4h4m20 0h4m-40 4h4m8 0h8m12 0h8m-44 4h24m12 0h8m-44 4h24m12 0h8m-44 4h4m4 0h20m4 0h8m-44 4h4m4 0h8m12 0h16m28 0h4m-68 4h8m16 0h12m-36 4h8m20 0h8m-36 4h8m20 0h8m-44 4h4m4 0h4m28 0h4m-48 4h12m28 0h4m28 0h8m-40 4h4m28 0h4m-32 8h4m-4 4h4m-4 4h4m-4 4h4m0 4h4"/>
<path stroke="#3b51b1" d="M820 1115h8m12 0h8m28 0h8m-48 4h4m32 0h12m-52 4h8m32 0h12m-56 4h12m32 0h8m-52 4h16m28 0h8m-56 4h20m24 0h8m-56 4h8m4 0h8m24 0h8m-52 4h4m40 0h8m-52 4h4m40 0h8m-52 4h4m40 0h4m-48 4h4m-8 8h4m-4 4h4m24 0h12m-40 4h4m24 0h12m-44 4h8m24 0h4m4 0h4m-44 4h8m24 0h4m4 0h4m-48 4h8m28 0h12m-52 4h12m24 0h12m-52 4h16m28 0h8m-52 4h16m28 0h8m-52 4h16m28 0h4m-48 4h16m-20 4h20m-20 4h20m-20 4h20m-16 4h16m-12 4h12m-12 4h8m-8 4h8m-8 4h4m-4 4h4m-4 4h4m-4 4h4m12 0h16m-36 4h4m8 0h8m4 0h12m-36 4h4m8 0h4m16 0h4m-36 4h4m8 0h4m16 0h4m-36 4h4m8 0h4m16 0h4m-36 4h4m8 0h4m16 0h4m-36 4h4m4 0h4m20 0h4m-40 4h12m20 0h4m-36 4h12m20 0h4m-32 4h8m16 0h8m-32 4h8m16 0h4m-8 4h8m-16 4h12m20 0h8m-44 4h12m16 0h20m-48 4h8m20 0h24m-76 4h4m20 0h4m24 0h24m-76 4h4m16 0h8m24 0h28m-80 4h4m16 0h4m28 0h12m8 0h8m-84 4h4m16 0h4m28 0h12m12 0h4m-80 4h4m16 0h4m16 0h8m8 0h12m8 0h4m-80 4h4m16 0h4m12 0h16m8 0h8m8 0h4m-80 4h4m16 0h4m12 0h16m8 0h20m-80 4h4m16 0h4m12 0h4m4 0h8m12 0h16m-84 4h4m16 0h4m8 0h4m12 0h4m16 0h12m-80 4h4m16 0h4m8 0h4m12 0h4m20 0h4m-76 4h4m16 0h4m8 0h4m12 0h4m-52 4h4m16 0h4m8 0h4m12 0h4m-52 4h4m16 0h4m4 0h4m16 0h4m-36 4h16m16 0h4m-36 4h8m20 0h4m-32 4h8m20 0h4m-32 4h8m20 0h4m-32 4h4m24 0h4m56 0h4m-64 4h4m56 0h4m-64 4h4m48 0h4m-76 4h24m-24 4h24m-24 4h28m-28 4h4m12 0h12m20 0h8m-56 4h4m12 0h12m20 0h8m-60 4h8m8 0h12m16 0h16m-60 4h8m8 0h4m4 0h4m16 0h16m-56 4h4m4 0h4m8 0h4m16 0h16m-56 4h4m4 0h4m8 0h4m20 0h12m-56 4h12m8 0h4m20 0h12m-76 4h4m20 0h4m8 0h8m20 0h16m-84 4h4m36 0h4m20 0h4m4 0h8m-84 4h8m36 0h4m20 0h16m-84 4h8m36 0h4m20 0h16m-84 4h8m36 0h4m20 0h16m-80 4h4m36 0h4m20 0h16m-44 4h4m20 0h4m8 0h4m-40 4h4m20 0h4m4 0h8m-40 4h4m20 0h16m-20 4h20m-36 4h4m12 0h16m-32 4h4m8 0h20m-32 4h32m-28 4h28"/>
<path stroke="#3a4eaf" d="M848 1115h4m16 0h4m20 0h8m-36 4h4m20 0h12m-36 4h4m20 0h12m-36 4h4m20 0h16m20 0h8m-84 4h4m12 0h4m16 0h20m20 0h12m-88 4h4m12 0h4m16 0h20m20 0h16m-96 4h8m4 0h4m20 0h20m16 0h20m-88 4h12m16 0h28m12 0h12m4 0h4m-88 4h12m16 0h28m12 0h8m8 0h4m-88 4h8m20 0h28m12 0h8m8 0h4m-108 4h4m40 0h36m4 0h12m8 0h4m-112 4h12m36 0h4m8 0h52m-112 4h8m32 0h8m8 0h52m-108 4h12m28 0h8m8 0h20m8 0h20m-104 4h16m20 0h8m12 0h20m12 0h12m-100 4h4m4 0h8m20 0h4m12 0h12m4 0h8m12 0h12m-100 4h4m32 0h4m12 0h8m8 0h8m12 0h8m-96 4h4m12 0h4m32 0h4m12 0h8m12 0h4m-96 4h4m12 0h4m32 0h8m8 0h12m8 0h4m-92 4h4m12 0h4m12 0h4m16 0h8m8 0h24m-92 4h4m12 0h4m12 0h4m16 0h8m12 0h16m-88 4h4m28 0h4m16 0h12m-64 4h4m16 0h4m8 0h4m12 0h20m-52 4h4m8 0h4m8 0h24m-48 4h4m8 0h4m8 0h24m-48 4h20m4 0h24m-44 4h44m-44 4h44m-68 4h8m16 0h44m-68 4h16m4 0h44m-64 4h64m-48 4h20m8 0h20m-40 4h8m20 0h12m-36 4h4m24 0h12m-44 4h4m28 0h20m-52 4h4m32 0h20m-56 4h4m32 0h8m8 0h4m-56 4h4m32 0h8m8 0h8m-60 4h4m32 0h8m8 0h8m-60 4h8m28 0h12m8 0h8m-68 4h16m24 0h12m4 0h8m-60 4h24m12 0h16m4 0h8m-52 4h16m16 0h8m4 0h8m-44 4h8m20 0h16m-40 4h4m20 0h8m4 0h4m-40 4h4m20 0h4m4 0h8m-40 4h4m20 0h4m4 0h8m24 0h4m-68 4h4m20 0h12m28 0h8m-44 4h8m28 0h8m-68 4h4m24 0h4m24 0h12m-68 4h4m52 0h16m-76 4h4m48 0h20m-72 4h4m48 0h20m-72 4h4m48 0h12m4 0h8m-76 4h4m48 0h12m4 0h8m-76 4h4m48 0h12m4 0h8m-80 4h4m44 0h12m12 0h4m-76 4h4m48 0h8m12 0h4m-104 4h8m20 0h4m20 0h8m20 0h8m12 0h4m-104 4h12m12 0h8m16 0h12m20 0h8m12 0h4m-104 4h32m16 0h12m24 0h4m12 0h4m-104 4h28m16 0h8m4 0h4m24 0h4m12 0h4m-108 4h20m16 0h12m12 0h4m20 0h4m12 0h4m20 0h8m-132 4h4m32 0h8m16 0h4m20 0h4m12 0h4m20 0h8m-132 4h4m32 0h8m16 0h4m20 0h4m12 0h4m20 0h8m-132 4h4m32 0h8m16 0h4m20 0h4m12 0h4m-104 4h8m16 0h20m16 0h4m20 0h4m12 0h4m-104 4h4m12 0h24m16 0h4m36 0h4m-100 4h4m12 0h4m4 0h12m20 0h4m24 0h4m8 0h4m-100 4h8m8 0h4m32 0h4m28 0h4m8 0h4m-96 4h4m4 0h4m36 0h4m28 0h4m8 0h4m-96 4h4m4 0h4m20 0h8m8 0h4m32 0h4m4 0h4m-96 4h12m20 0h20m32 0h12m-100 4h12m20 0h20m32 0h12m-96 4h12m20 0h16m36 0h12m-96 4h12m20 0h16m36 0h8m-92 4h12m24 0h8m40 0h8m-92 4h4m4 0h4m24 0h8m-44 4h4m4 0h4m24 0h4m-44 4h12m24 0h4m-40 4h12m24 0h4m-40 4h12m24 0h4m-40 4h12m24 0h4m-40 4h12m24 0h4m-40 4h4m28 0h4m20 0h4m-28 4h4m16 0h12m-32 4h4m16 0h12m-32 4h4m16 0h8m-28 4h4m12 0h12m-28 4h4m12 0h4m4 0h8m-36 4h4m12 0h4m8 0h4m44 0h8m-84 4h4m12 0h4m8 0h8m40 0h8"/>
<path stroke="#394dae" d="M852 1115h4m8 0h4m32 0h44m-96 4h4m8 0h4m36 0h44m-96 4h4m8 0h4m36 0h48m-100 4h4m8 0h4m40 0h20m8 0h16m-96 4h4m4 0h4m40 0h20m12 0h12m-96 4h12m40 0h20m16 0h8m-96 4h4m44 0h16m20 0h4m-36 4h12m20 0h4m-36 4h12m20 0h4m-36 4h12m20 0h4m-32 4h4m24 0h4m-64 4h8m52 0h4m-68 4h8m52 0h4m-64 4h8m48 0h8m-68 4h12m44 0h12m-108 4h4m32 0h12m12 0h4m32 0h4m-100 4h12m24 0h12m8 0h8m28 0h8m-100 4h12m20 0h16m4 0h12m24 0h8m-100 4h4m4 0h4m20 0h16m8 0h8m24 0h8m-96 4h4m28 0h16m8 0h8m24 0h4m-92 4h4m28 0h16m8 0h12m16 0h8m-92 4h4m8 0h4m16 0h16m12 0h28m-88 4h4m8 0h4m16 0h12m20 0h24m-92 4h4m8 0h4m16 0h8m24 0h8m48 0h12m-132 4h4m8 0h4m16 0h8m24 0h8m48 0h16m-136 4h4m8 0h4m20 0h4m24 0h4m52 0h16m-136 4h4m8 0h8m44 0h4m52 0h16m-136 4h20m44 0h4m56 0h12m-132 4h16m44 0h4m-56 4h4m44 0h4m-4 4h4m-32 4h8m20 0h8m28 0h8m-76 4h20m12 0h12m24 0h8m-76 4h24m12 0h12m20 0h8m-80 4h28m20 0h4m8 0h16m-76 4h32m20 0h24m-76 4h4m8 0h20m20 0h24m-76 4h4m8 0h20m24 0h20m-76 4h32m24 0h20m-72 4h28m28 0h16m-68 4h24m24 0h16m-52 4h12m28 0h12m-48 4h16m20 0h8m-44 4h20m16 0h8m12 0h4m-60 4h12m4 0h4m16 0h8m12 0h12m-68 4h4m8 0h8m32 0h16m-68 4h4m12 0h4m16 0h4m8 0h12m4 0h8m-72 4h4m12 0h4m12 0h8m8 0h12m8 0h4m-72 4h4m16 0h4m8 0h8m8 0h12m8 0h4m-52 4h8m4 0h12m4 0h8m12 0h8m-72 4h4m16 0h32m16 0h4m-76 4h4m20 0h24m20 0h4m-72 4h4m20 0h24m20 0h4m-72 4h4m24 0h20m24 0h4m-76 4h4m24 0h20m24 0h4m-76 4h4m20 0h24m24 0h4m-80 4h8m12 0h24m28 0h4m-76 4h8m8 0h32m24 0h4m-76 4h8m4 0h8m8 0h20m24 0h4m16 0h4m-96 4h16m12 0h20m24 0h4m12 0h12m-100 4h16m12 0h8m8 0h8m36 0h12m-104 4h16m16 0h8m8 0h8m36 0h16m-120 4h16m28 0h4m12 0h4m36 0h4m8 0h4m-132 4h32m28 0h4m12 0h4m36 0h4m8 0h4m-132 4h32m28 0h4m12 0h4m36 0h4m8 0h4m-132 4h32m28 0h4m12 0h4m20 0h4m8 0h20m-128 4h16m80 0h4m8 0h20m-132 4h12m44 0h4m16 0h4m16 0h4m8 0h28m-136 4h12m44 0h4m16 0h4m16 0h4m12 0h28m-136 4h8m40 0h8m16 0h4m16 0h4m28 0h12m-136 4h4m44 0h4m20 0h4m16 0h8m28 0h8m-136 4h4m44 0h4m24 0h4m12 0h8m-52 4h4m24 0h4m12 0h8m-56 4h8m20 0h4m12 0h8m-56 4h12m20 0h4m12 0h4m-52 4h12m20 0h4m8 0h8m-56 4h16m20 0h4m8 0h4m-92 4h4m36 0h16m20 0h16m-92 4h4m32 0h20m20 0h12m-56 4h20m20 0h12m-52 4h24m16 0h12m-52 4h24m16 0h12m-52 4h24m16 0h12m-52 4h28m12 0h12m-56 4h20m4 0h8m8 0h8m-48 4h4m4 0h8m12 0h4m4 0h12m-48 4h4m4 0h8m12 0h4m4 0h12m-48 4h4m4 0h8m8 0h8m4 0h12m-48 4h4m4 0h4m12 0h8m4 0h12m28 0h4m-80 4h4m4 0h4m16 0h24m20 0h8m-84 4h12m16 0h24m16 0h4m8 0h4m-84 4h12m20 0h20m16 0h4m8 0h4"/>
<path stroke="#394bad" d="M856 1115h8m80 0h12m-104 4h8m84 0h8m-100 4h8m88 0h4m-100 4h8m88 0h4m24 0h4m-124 4h4m88 0h4m-4 4h4m-12 4h8m12 0h12m-32 4h8m12 0h12m-32 4h4m16 0h12m-32 4h4m12 0h16m-32 4h4m12 0h16m-32 4h4m12 0h12m-32 4h4m12 0h16m-32 4h4m12 0h16m-32 4h8m8 0h16m-40 4h36m-36 4h36m-40 4h8m8 0h24m-136 4h4m88 0h8m8 0h32m-140 4h8m80 0h12m8 0h28m-136 4h8m80 0h4m16 0h28m-136 4h8m76 0h8m12 0h32m-136 4h8m76 0h8m16 0h28m-140 4h8m60 0h24m16 0h8m12 0h12m-140 4h8m60 0h32m8 0h8m16 0h8m-140 4h8m56 0h8m8 0h20m8 0h8m16 0h8m-140 4h8m56 0h4m16 0h32m16 0h8m-76 4h4m16 0h36m12 0h8m-76 4h4m20 0h52m-80 4h4m16 0h56m-76 4h8m8 0h36m12 0h12m-72 4h28m8 0h8m-40 4h24m8 0h8m-36 4h20m8 0h8m-36 4h8m16 0h8m-8 4h8m-80 4h8m64 0h8m-80 4h8m64 0h8m-8 4h8m-8 4h8m-12 4h8m36 0h8m-52 4h12m32 0h8m-56 4h20m28 0h8m-56 4h12m4 0h12m20 0h8m-88 4h4m28 0h12m12 0h8m16 0h8m-96 4h8m24 0h16m16 0h4m16 0h8m-92 4h12m24 0h8m24 0h4m12 0h8m-92 4h12m24 0h8m24 0h4m12 0h8m-92 4h16m20 0h8m24 0h4m8 0h12m-92 4h8m4 0h4m24 0h4m28 0h4m4 0h12m-88 4h4m4 0h8m52 0h4m4 0h8m-88 4h4m4 0h12m48 0h20m-88 4h4m8 0h8m48 0h16m-84 4h4m8 0h12m48 0h16m-88 4h24m48 0h16m-88 4h20m52 0h20m-92 4h12m56 0h28m-96 4h8m60 0h28m-96 4h4m64 0h16m4 0h12m-32 4h12m12 0h8m-72 4h8m28 0h16m12 0h8m-72 4h8m28 0h16m16 0h4m-76 4h12m24 0h16m16 0h8m-76 4h12m24 0h16m16 0h8m-76 4h4m4 0h4m24 0h16m16 0h8m-76 4h4m4 0h4m28 0h8m20 0h12m-84 4h4m8 0h8m24 0h8m20 0h12m-84 4h4m8 0h4m24 0h8m28 0h8m-84 4h4m8 0h4m24 0h12m28 0h4m-84 4h4m8 0h4m24 0h28m12 0h4m-88 4h8m8 0h4m28 0h28m8 0h4m-88 4h8m8 0h8m24 0h12m8 0h20m-88 4h12m4 0h8m24 0h8m16 0h16m-88 4h8m4 0h8m24 0h8m16 0h16m-84 4h8m4 0h8m20 0h8m20 0h16m-84 4h8m8 0h4m20 0h4m-44 4h8m8 0h4m16 0h4m-40 4h8m8 0h4m16 0h4m-40 4h20m12 0h8m-44 4h20m12 0h4m-32 4h16m12 0h4m-32 4h16m12 0h4m56 0h4m-92 4h16m12 0h4m56 0h4m-88 4h12m-12 4h8m8 0h4m-48 4h4m24 0h4m12 0h4m-48 4h4m24 0h4m12 0h4m24 0h4m-76 4h4m24 0h4m12 0h4m20 0h12m-80 4h4m24 0h4m12 0h4m20 0h4m4 0h8m-84 4h4m60 0h4m8 0h8m-40 4h4m28 0h4m-36 4h4m28 0h4m8 0h4"/>
<path stroke="#3b50b0" d="M872 1115h4m8 0h8m-52 4h8m20 0h4m12 0h4m-48 4h8m20 0h4m12 0h4m-48 4h8m20 0h4m8 0h8m-44 4h4m20 0h4m8 0h4m-40 4h4m28 0h8m-56 4h4m8 0h4m16 0h4m8 0h8m-56 4h24m12 0h4m8 0h4m52 0h4m-108 4h24m12 0h4m8 0h4m48 0h8m-108 4h24m8 0h8m4 0h8m48 0h8m-108 4h4m4 0h40m52 0h8m-112 4h4m12 0h36m-52 4h4m8 0h32m-44 4h4m12 0h8m12 0h8m36 0h8m-88 4h4m16 0h4m12 0h4m40 0h12m-92 4h4m16 0h4m12 0h4m40 0h12m-92 4h4m16 0h4m12 0h4m40 0h12m-96 4h8m32 0h4m40 0h12m-96 4h4m32 0h4m44 0h8m-92 4h4m20 0h4m-28 4h4m20 0h4m-28 4h4m20 0h4m4 0h4m-36 4h4m24 0h8m-36 4h4m20 0h8m-32 4h4m20 0h8m-32 4h4m-4 4h4m-4 4h4m-8 4h4m-4 4h4m-8 4h8m-8 4h24m-24 4h32m-32 4h12m16 0h8m-40 4h8m24 0h4m-36 4h8m24 0h4m-36 4h8m24 0h4m44 0h8m-88 4h8m24 0h4m44 0h8m-88 4h8m24 0h4m44 0h8m-88 4h4m28 0h4m48 0h8m-64 4h4m52 0h4m-60 4h8m52 0h4m-64 4h20m40 0h4m-68 4h32m-32 4h36m32 0h4m-76 4h20m8 0h12m28 0h4m-76 4h16m20 0h8m28 0h4m-80 4h20m24 0h4m-52 4h24m24 0h8m-56 4h24m28 0h4m-60 4h28m28 0h4m-64 4h28m28 0h4m-60 4h16m8 0h8m24 0h4m-60 4h12m16 0h8m20 0h4m64 0h4m-128 4h12m16 0h8m20 0h4m64 0h4m-128 4h12m16 0h12m16 0h4m64 0h4m-132 4h8m20 0h16m12 0h4m60 0h12m-132 4h8m20 0h20m4 0h8m60 0h12m-132 4h8m20 0h4m8 0h20m60 0h12m-132 4h8m20 0h4m12 0h12m64 0h12m-132 4h4m24 0h4m88 0h12m-104 4h4m52 0h4m32 0h12m-108 4h4m48 0h12m28 0h12m-104 4h4m44 0h16m28 0h12m-104 4h4m44 0h16m28 0h12m-104 4h4m44 0h8m4 0h4m28 0h12m-104 4h4m44 0h8m4 0h4m28 0h12m-104 4h4m40 0h4m4 0h8m28 0h12m-100 4h4m20 0h4m12 0h20m32 0h8m-100 4h4m20 0h32m36 0h8m-96 4h4m12 0h36m36 0h8m-120 4h12m12 0h4m12 0h4m8 0h8m8 0h8m40 0h4m-120 4h12m12 0h4m12 0h4m8 0h8m-60 4h8m12 0h4m28 0h4m-56 4h8m12 0h4m28 0h4m-56 4h4m16 0h4m28 0h4m-56 4h4m16 0h4m12 0h4m12 0h8m-40 4h4m12 0h4m12 0h8m-40 4h4m12 0h4m16 0h4m-44 4h4m12 0h4m16 0h4m-40 4h4m12 0h4m16 0h4m-40 4h4m12 0h4m16 0h4m-40 4h4m12 0h4m16 0h4m-40 4h4m12 0h4m16 0h4m-44 4h8m4 0h8m16 0h4m-40 4h20m16 0h4m-40 4h20m16 0h4m-40 4h16m20 0h4m-36 4h12m16 0h8m-36 4h8m20 0h8m20 0h4m-32 4h4m20 0h8m-32 4h4m20 0h8"/>
<path stroke="#384aab" d="M956 1115h36m-40 4h36m-36 4h40m-40 4h24m4 0h12m-40 4h36m-36 4h36m-40 4h12m12 0h12m-36 4h12m12 0h8m-36 4h16m12 0h8m-36 4h12m16 0h4m-32 4h4m4 0h4m16 0h4m-32 4h12m12 0h8m-36 4h12m16 0h4m-32 4h12m16 0h4m-28 4h8m16 0h4m-8 4h12m-12 4h12m-44 4h8m24 0h12m-48 4h8m32 0h4m-44 4h8m28 0h8m-52 4h16m28 0h8m-52 4h12m32 0h8m-52 4h16m28 0h8m-56 4h16m32 0h4m-44 4h8m32 0h4m-72 4h8m20 0h8m32 0h4m-76 4h16m56 0h4m-76 4h16m56 0h4m-76 4h20m52 0h4m-80 4h16m56 0h8m-76 4h8m36 0h12m12 0h8m-36 4h40m-40 4h8m8 0h24m8 0h8m-56 4h8m12 0h20m4 0h12m-60 4h4m20 0h36m-60 4h4m20 0h36m-60 4h4m20 0h36m-60 4h4m24 0h32m-60 4h4m24 0h28m-56 4h8m20 0h28m-60 4h12m16 0h8m8 0h12m-52 4h8m16 0h8m8 0h8m-44 4h12m8 0h8m8 0h8m-36 4h8m8 0h4m8 0h4m-28 4h4m8 0h4m8 0h4m-32 4h8m4 0h4m8 0h4m-24 4h12m8 0h4m-24 4h12m8 0h4m-24 4h8m12 0h4m-88 4h4m64 0h4m12 0h4m-88 4h4m64 0h4m8 0h8m-92 4h4m80 0h4m-88 4h8m72 0h8m-88 4h8m76 0h8m-8 4h12m-8 4h16m-12 4h8m-8 4h8m-4 4h4m-4 4h4m-4 4h4m-4 4h8m-8 4h8m-8 4h8m-80 4h4m68 0h8m-80 4h4m72 0h4m-84 4h8m72 0h4m-84 4h8m-8 4h8m-8 4h8m-8 4h8m72 0h4m-84 4h8m44 0h8m20 0h4m-80 4h4m40 0h16m16 0h4m-84 4h4m40 0h16m16 0h4m-80 4h4m36 0h20m16 0h4m-80 4h8m28 0h8m12 0h24m-80 4h8m24 0h8m16 0h24m-80 4h8m24 0h4m20 0h24m-48 4h4m24 0h8m12 0h8m-64 4h4m44 0h16m-64 4h4m48 0h12m-12 4h4m4 0h4m-12 4h4m4 0h4m-68 4h4m28 0h4m20 0h12m-72 4h4m20 0h16m16 0h12m-68 4h4m16 0h20m16 0h8m-64 4h4m16 0h4m4 0h16m-44 4h4m12 0h4m12 0h12m-44 4h4m12 0h4m16 0h12m-48 4h4m8 0h4m20 0h16m-52 4h4m4 0h4m20 0h20m-52 4h4m4 0h4m20 0h8m4 0h8"/>
<path stroke="#3749aa" d="M992 1115h4m-8 4h8m-4 4h4m-4 4h4m-8 4h8m-8 4h8m-12 4h12m-16 4h16m-16 4h16m-20 4h20m-48 4h4m24 0h20m-20 4h20m-24 4h24m-24 4h20m-20 4h16m-12 4h8m-8 4h8m-8 4h4m-8 4h8m20 0h12m-40 4h8m20 0h12m-40 4h8m20 0h12m-40 4h8m20 0h12m-40 4h8m20 0h8m-40 4h8m20 0h12m-40 4h4m24 0h8m-36 4h4m20 0h4m-28 4h4m20 0h4m-28 4h4m16 0h8m-28 4h4m12 0h12m-28 4h28m-28 4h28m-24 4h24m-56 4h8m24 0h8m8 0h8m-56 4h12m20 0h4m12 0h8m-64 4h20m36 0h4m-60 4h8m8 0h4m36 0h8m-64 4h4m12 0h4m36 0h8m-64 4h4m12 0h8m32 0h8m-64 4h8m8 0h8m28 0h12m-60 4h4m8 0h8m28 0h8m-56 4h16m28 0h8m-52 4h16m24 0h8m-40 4h8m24 0h4m12 0h4m-48 4h8m16 0h4m16 0h4m-48 4h8m16 0h4m16 0h4m-48 4h4m16 0h4m12 0h12m-28 4h4m12 0h12m-28 4h4m12 0h12m-28 4h4m12 0h12m-28 4h4m12 0h12m-28 4h4m12 0h8m-28 4h8m8 0h16m-32 4h32m-28 4h32m-28 4h12m4 0h12m-20 4h4m8 0h8m-24 4h20m-20 4h16m-16 4h12m-12 4h12m-12 4h12m-8 4h8m-8 4h4m-4 4h4m-4 4h4m-4 4h4m-4 4h4m-8 4h4m-4 4h4m-4 4h4m-4 16h4m-4 4h4m-40 4h12m24 0h8m-48 4h16m24 0h8m-52 4h8m8 0h4m24 0h12m-56 4h8m8 0h8m8 0h12m8 0h4m-64 4h8m8 0h28m16 0h4m-64 4h4m12 0h32m12 0h4m-68 4h8m12 0h20m8 0h4m12 0h4m-68 4h4m16 0h20m8 0h4m12 0h4m-68 4h4m12 0h12m4 0h8m8 0h4m12 0h4m-72 4h4m8 0h8m16 0h16m12 0h4m-68 4h4m8 0h4m20 0h16m8 0h8m-68 4h4m8 0h4m24 0h24m-64 4h4m4 0h4m28 0h24m-64 4h12m32 0h16m-60 4h8m40 0h8m-56 4h4m44 0h4m-52 4h4m44 0h4"/>
<path stroke="#3747a9" d="M996 1115h4m-4 4h4m-4 4h4m-4 4h4m-4 4h4m-4 4h8m-8 4h8m-8 4h8m-8 4h8m-8 4h8m-8 4h8m-8 4h8m-8 4h12m-16 4h20m-24 4h24m-28 4h32m-32 4h32m-36 4h36m-36 4h20m12 0h4m-36 4h4m4 0h12m12 0h4m-36 4h4m8 0h8m12 0h4m-36 4h4m8 0h8m12 0h4m-36 4h4m8 0h8m8 0h8m-40 4h20m12 0h4m-40 4h24m8 0h8m-40 4h20m4 0h12m-36 4h20m4 0h8m-32 4h16m8 0h8m-32 4h12m12 0h4m-4 4h4m-4 4h4m-4 4h4m-4 4h4m-4 4h4m-8 4h4m-56 4h8m48 0h4m-64 4h12m48 0h4m-64 4h12m48 0h4m-60 4h8m48 0h4m-60 4h8m44 0h8m-12 4h12m-16 4h16m-20 4h12m4 0h4m-24 4h16m4 0h4m-24 4h4m4 0h8m4 0h4m-28 4h12m12 0h4m-28 4h4m4 0h4m12 0h4m-28 4h4m4 0h4m12 0h4m-28 4h4m4 0h4m12 0h4m-28 4h4m4 0h4m12 0h8m-32 4h12m8 0h12m-32 4h8m16 0h8m-8 4h8m-4 4h4m-20 4h4m12 0h4m-20 4h8m8 0h4m-8 4h8m-12 4h12m-16 4h12m-12 4h8m-8 4h8m-8 4h4m-8 4h4m-4 4h4m-8 16h4m-4 4h4m-4 4h4m-4 4h4m-4 4h4m-4 4h4m-4 4h4m-4 4h4m0 4h4m-4 4h4m-48 4h8m40 0h4m-52 4h8m40 0h4m-60 4h8m-12 4h12m-12 4h12m20 0h8m-44 4h16m20 0h8m-44 4h12m24 0h8m-48 4h8m56 0h4m-68 4h8m56 0h4m-68 4h8m52 0h4m-64 4h4m56 0h4m-8 4h8m-12 4h8m-12 4h8m-8 4h4"/>
<path stroke="#3646a8" d="M1000 1115h4m-4 4h4m-4 4h4m-4 4h16m-16 4h20m-16 4h16m-16 4h16m-16 4h12m-12 4h12m-12 4h12m-12 4h12m-12 4h12m-8 4h8m-4 4h4m-4 4h8m-4 4h4m-4 4h4m-4 4h4m-4 4h4m-36 4h4m28 0h4m-36 4h8m24 0h4m-36 4h8m24 0h4m-36 4h8m24 0h4m-8 4h4m-4 4h4m-8 4h8m-12 4h8m-8 4h8m-12 4h8m-8 4h8m-8 4h8m-8 4h8m-8 4h4m-4 4h4m-8 4h12m-8 4h4m-4 4h4m-4 4h4m-4 4h8m-8 4h8m-8 4h8m-8 4h8m-8 4h4m-4 4h4m-24 4h4m16 0h4m-4 4h4m-28 4h4m20 0h4m-28 4h4m20 0h4m-28 4h4m20 0h4m-28 4h4m24 0h4m-4 4h4m-4 4h4m-4 4h4m-4 4h4m-4 4h4m-4 4h4m-4 4h4m-4 4h4m-8 4h8m-12 4h12m-12 4h12m-16 4h8m-12 4h20m-20 4h8m-12 4h8m-8 4h4m-4 4h4m8 4h8m-4 4h4m-20 4h4m-4 4h4m-4 4h4m-4 4h8m-8 4h12m-12 4h12m-8 4h8m-8 4h8m-4 4h4m-4 4h4m-8 4h4m-4 4h4m-4 4h8m-8 4h8m-8 4h8m-8 4h4m-4 4h4m-8 4h8m-8 4h4m-4 4h4m-8 4h8m-12 4h12m-16 4h16m20 0h4"/>
<path stroke="#3543a5" d="M1004 1115h16m-16 4h20m-20 4h20m-8 4h8m-4 4h4m-4 4h4m-4 4h4m-8 4h4m-4 4h4m-4 4h4m-4 4h4m-4 4h4m-4 4h4m-4 4h4m0 4h4m-4 4h4m-4 4h4m-4 4h4m-4 4h4m-4 4h4m-4 4h4m-4 4h4m-4 4h4m-8 4h4m-4 4h4m-4 4h4m-8 4h8m-8 4h8m-12 4h12m-12 4h12m-12 4h12m-12 4h12m-16 4h16m-16 4h16m-12 4h12m-16 4h20m-20 4h20m-20 4h20m-16 4h16m-16 4h16m-16 4h16m-16 4h16m-20 4h16m-16 4h8m-8 4h4m-4 4h4m8 0h4m-16 4h4m-4 4h8m-8 4h12m-8 4h8m-8 4h8m-8 4h8m-8 4h4m-4 4h4m-4 4h4m-4 4h4m-4 4h4m-4 4h4m-4 4h4m-4 4h8m-8 4h8m-16 4h16m-8 4h8m-20 4h16m-20 4h20m-24 4h24m-24 4h24m-28 4h12m8 0h8m-28 4h16m4 0h4m-20 4h20m-20 4h20m-20 4h20m-16 4h16m-12 4h8m-8 4h8m-8 4h8m-8 4h8m-8 4h12m-12 4h12m-16 4h20m-20 4h20m-16 4h12m-12 4h4m-4 4h4m-8 4h8m-8 4h4m-4 4h4m-8 4h8m-8 4h8m-8 4h8m16 0h4m-28 4h4m12 0h12m-28 4h8m8 0h4m4 0h4"/>
<path stroke="#3341a3" d="M1020 1115h4m0 8h4m-4 4h4m-4 4h4m-8 12h4m-4 4h4m-4 4h4m-4 4h4m-4 4h4m-4 4h4m-4 4h4m0 16h4m-4 4h4m-4 4h4m-4 4h4m-4 4h4m-4 4h4m-8 4h4m-4 4h4m-4 4h4m-4 4h4m-4 4h4m-4 4h4m-4 4h4m-4 4h4m-4 4h4m-4 4h4m-4 4h4m-4 4h8m-4 4h4m-4 4h4m-4 4h4m-4 4h4m-4 4h4m-4 4h4m-4 4h4m-8 4h8m-16 4h16m-20 4h16m-16 4h8m4 0h4m-16 4h16m-12 4h12m-8 4h8m-8 4h8m-8 4h4m-4 4h8m-12 4h8m-8 4h8m-8 4h8m-8 4h8m-8 4h8m-8 4h8m-8 4h8m-4 4h4m-4 4h4m-4 4h4m-4 4h4m-8 4h4m-4 4h4m-4 4h4m-4 4h4m-4 4h4m-8 4h8m-8 4h4m-4 4h4m-4 4h4m-4 4h4m-8 4h12m-12 4h16m-16 4h16m-16 4h16m-12 4h12m-12 4h12m-8 4h4m-4 4h4m-8 4h8m-16 4h16m-16 4h16m-16 4h16m-20 4h24m-24 4h24m-24 4h24m-24 4h24m-24 4h16m4 0h4m-28 4h12m12 0h4m-24 4h8m12 0h4"/>
<path stroke="#323ea0" d="M1024 1115h4m-4 4h4m-4 16h4m-4 4h4m-4 4h4m-4 12h4m-4 4h4m-4 4h4m-4 4h4m-4 4h4m-4 4h4m-4 4h4m16 4h12m-28 4h28m-28 4h28m-28 4h8m4 0h16m-28 4h8m8 0h12m-28 4h4m12 0h12m-32 4h12m4 0h12m-28 4h8m12 0h8m-28 4h4m16 0h8m-28 4h4m-4 4h4m-4 4h4m-4 4h4m-4 4h4m-4 4h4m-4 4h4m-4 4h8m-4 4h4m-4 4h4m-4 4h4m-4 4h4m-4 4h4m-4 4h4m-4 8h4m-4 4h4m-4 4h4m-8 4h8m-8 4h4m-4 4h4m-4 4h4m-4 4h4m-4 4h4m-8 4h8m-4 4h4m-8 4h8m-8 4h4m-4 4h4m-4 4h4m-4 4h4m-4 4h4m-4 4h4m-4 4h4m-4 4h4m-4 4h4m-8 8h4m-4 4h4m-4 4h4m-4 4h4m-4 4h4m-4 4h4m-8 4h8m-8 4h8m-8 4h8m-8 4h12m-8 4h8m-4 4h4m-4 4h4m-4 4h4m-4 4h4m-4 4h4m-8 4h4m-4 4h4m-4 4h4m-4 4h4m-4 4h4m-4 4h8m-4 4h4m-4 4h4m-4 4h4m-4 4h4m-4 4h4m-4 4h4m-4 4h4"/>
<path stroke="#313c9d" d="M1028 1115h4m-4 4h4m-4 4h4m-4 4h4m-4 4h4m-4 4h4m-8 12h4m-4 4h4m0 8h4m-4 4h4m-4 4h4m-4 4h4m12 0h8m-24 4h8m4 0h20m-32 4h32m-32 4h16m12 0h8m-8 4h4m-4 4h4m-24 4h4m16 0h4m-24 4h8m12 0h4m-28 4h12m12 0h4m-24 4h4m12 0h4m-24 4h12m8 0h4m-28 4h16m8 0h4m-28 4h4m8 0h12m-24 4h4m8 0h12m-24 4h4m12 0h4m-20 4h8m-8 4h8m-8 4h8m-8 4h8m-4 4h4m-4 24h4m-8 4h4m0 16h4m-8 4h4m-4 4h4m-4 4h4m-4 4h4m-4 4h4m-4 4h4m-4 4h4m-4 4h4m-8 4h4m-4 4h4m-4 4h4m-4 4h4m-4 4h4m-4 4h4m-4 4h4m-8 12h4m-4 4h4m-4 4h4m-4 4h4m-4 4h4m-4 4h4m-4 4h4m-4 4h4m-4 4h8m-8 4h8m-4 4h8m-8 4h4m-4 4h4m-4 4h4m-4 4h4m-4 4h4m-4 4h4m-8 4h4m-4 4h4m-4 4h4m-4 4h4m-4 4h4m0 12h4m-4 4h4m-4 4h4m-4 4h4"/>
<path stroke="#2f399a" d="M1032 1115h4m-8 24h4m-4 4h4m-4 4h4m-4 4h4m-4 4h8m-4 4h4m-4 4h28m-28 4h32m-32 4h12m8 0h12m-28 4h4m20 0h8m-8 4h8m-4 4h4m-8 4h4m-4 4h4m44 0h4m-52 4h4m40 0h12m-56 4h4m40 0h12m-56 4h4m40 0h12m-60 4h4m36 0h16m-56 4h4m36 0h16m-56 4h4m40 0h8m-76 4h8m12 0h8m8 0h8m24 0h8m-76 4h8m12 0h4m12 0h8m28 0h4m-76 4h12m4 0h8m12 0h12m-44 4h16m12 0h8m-36 4h20m8 0h4m-32 4h20m-20 4h4m4 0h16m-24 4h4m8 0h16m-32 4h4m8 0h16m-28 4h4m12 0h12m-28 4h4m12 0h8m-24 4h4m12 0h8m-24 4h4m12 0h8m-8 4h8m-24 4h4m8 0h4m-16 4h4m-4 4h4m-4 4h4m-4 8h4m-4 4h4m-4 4h4m-4 4h4m-4 4h4m-4 4h4m-8 12h4m-4 4h4m-4 4h4m-8 20h4m-4 4h4m-4 4h4m-4 4h4m-4 4h4m-4 4h4m-4 4h4m-4 4h4m-4 4h4m-4 4h8m-4 4h4m-4 4h4m-4 8h4m-4 4h4m-4 4h4m-4 4h4m-8 12h4m-4 4h4m-4 4h4m-4 4h4m-4 4h4m-4 4h4m-4 4h4m0 12h4m64 4h4m-76 4h4m64 0h4m-72 4h4m64 0h4"/>
<path stroke="#2e3798" d="M1036 1115h4m4 0h16m-28 4h24m-24 4h4m4 0h12m-20 4h4m4 0h12m84 0h4m-108 4h4m8 0h8m84 0h4m-108 4h4m8 0h8m84 0h4m-108 4h8m4 0h8m80 0h8m-108 4h8m4 0h8m80 0h8m-108 4h20m-20 4h24m-20 4h32m-32 4h36m-12 4h12m-8 4h8m-8 4h8m-4 4h4m44 0h8m-56 4h4m36 0h20m-60 4h4m28 0h28m-64 4h4m24 0h32m-60 4h4m24 0h16m4 0h12m-60 4h8m20 0h12m12 0h8m-60 4h8m16 0h16m12 0h8m-60 4h12m8 0h20m12 0h8m-64 4h20m4 0h12m16 0h4m32 0h4m-92 4h36m16 0h4m28 0h8m-92 4h24m8 0h8m8 0h8m28 0h8m-92 4h8m8 0h8m8 0h8m8 0h8m28 0h8m-96 4h12m8 0h8m8 0h12m4 0h8m28 0h8m-96 4h12m12 0h4m8 0h24m28 0h8m-100 4h12m8 0h8m12 0h16m32 0h12m-96 4h8m4 0h12m12 0h16m32 0h12m-96 4h24m16 0h12m32 0h12m-112 4h4m16 0h16m20 0h12m32 0h8m-108 4h8m16 0h8m32 0h8m28 0h8m-112 4h8m16 0h4m40 0h8m28 0h8m-112 4h12m12 0h4m40 0h8m28 0h8m-112 4h12m8 0h8m40 0h8m-76 4h12m8 0h8m40 0h12m-80 4h12m8 0h4m44 0h12m-80 4h12m8 0h4m44 0h12m-80 4h8m4 0h8m40 0h16m-76 4h20m40 0h16m-76 4h16m44 0h12m-72 4h16m44 0h12m-72 4h12m48 0h12m-72 4h4m12 0h8m36 0h8m-68 4h4m16 0h4m36 0h8m-68 4h4m-4 4h4m-4 4h4m-8 8h4m-4 4h4m-4 4h4m-4 4h4m-4 4h4m-8 4h4m-4 4h4m-4 4h4m-4 4h4m-4 4h4m-4 4h4m-4 8h4m-4 4h4m-4 4h4m-4 4h4m-4 4h4m-4 4h4m0 8h4m-4 4h4m-4 4h4m-8 20h4m-4 4h4m-4 4h4m24 0h8m-36 4h4m24 0h12m-40 4h4m20 0h16m-40 4h4m20 0h16m72 0h8m-120 4h4m20 0h16m72 0h8m-120 4h4m16 0h16m68 0h8m-112 4h4m16 0h16m24 0h12m32 0h8m-112 4h4m16 0h12m28 0h16m28 0h8m-112 4h4m16 0h12m24 0h20m24 0h12m-92 4h12m28 0h16m24 0h12m-112 4h4m16 0h12m28 0h8m4 0h8m16 0h16m-112 4h4m8 0h12m32 0h8m4 0h8m16 0h12m-104 4h4m8 0h12m28 0h12m4 0h8m12 0h16"/>
<path stroke="#2c3495" d="M1040 1115h4m16 0h4m68 0h16m-92 4h4m40 0h4m24 0h16m-108 4h4m12 0h8m40 0h4m24 0h20m-112 4h4m12 0h8m40 0h8m20 0h8m4 0h8m-112 4h8m8 0h8m40 0h8m20 0h8m4 0h8m-112 4h8m8 0h8m16 0h4m20 0h8m20 0h8m4 0h8m-108 4h4m8 0h4m16 0h8m20 0h4m20 0h8m8 0h4m-104 4h4m8 0h8m4 0h16m44 0h8m8 0h4m-92 4h28m44 0h24m-92 4h24m44 0h24m-80 4h12m44 0h24m-76 4h8m44 0h24m-76 4h4m24 0h40m-68 4h4m20 0h44m-68 4h4m20 0h44m-68 4h4m16 0h24m8 0h16m-68 4h4m16 0h16m20 0h8m-64 4h4m16 0h8m28 0h8m-68 4h4m12 0h8m32 0h8m-64 4h8m4 0h12m32 0h4m16 0h8m-80 4h20m32 0h4m16 0h8m-80 4h16m36 0h4m16 0h8m-76 4h8m40 0h4m16 0h8m-72 4h4m32 0h8m16 0h8m-32 4h4m20 0h4m-60 4h8m24 0h4m16 0h8m-60 4h8m24 0h4m16 0h8m-60 4h8m24 0h4m16 0h8m-60 4h8m24 0h4m16 0h8m-64 4h12m16 0h12m12 0h8m-60 4h12m16 0h12m12 0h8m-60 4h16m12 0h12m8 0h12m-64 4h20m12 0h32m8 0h4m-80 4h32m8 0h28m8 0h4m-88 4h40m8 0h28m8 0h4m-88 4h40m8 0h28m8 0h4m-88 4h40m8 0h40m-88 4h20m12 0h8m12 0h36m-92 4h12m24 0h8m12 0h36m-92 4h12m24 0h8m12 0h32m-92 4h20m16 0h4m16 0h24m-80 4h20m16 0h4m16 0h8m4 0h12m-84 4h24m12 0h8m12 0h12m8 0h4m-80 4h24m12 0h8m12 0h12m-72 4h28m12 0h8m12 0h12m-80 4h12m8 0h12m8 0h16m8 0h16m-80 4h16m4 0h12m8 0h16m8 0h8m-72 4h32m8 0h32m-72 4h4m4 0h20m12 0h32m-72 4h4m32 0h36m-76 4h4m36 0h32m-72 4h4m28 0h32m-64 4h4m28 0h20m-52 4h4m28 0h20m-52 4h4m28 0h20m-52 4h4m28 0h20m-56 4h4m28 0h16m-48 4h4m28 0h20m-52 4h4m28 0h20m-52 4h4m32 0h16m-52 4h4m32 0h16m-52 4h4m36 0h16m-60 4h4m44 0h16m-12 4h16m-64 4h4m48 0h12m-64 4h4m48 0h12m-64 4h4m48 0h12m-64 4h4m44 0h16m-64 4h4m44 0h16m-64 4h4m44 0h16m-16 4h16m-16 4h16m-44 4h8m20 0h16m-64 4h4m12 0h8m20 0h16m-60 4h4m12 0h8m24 0h12m-60 4h4m12 0h8m24 0h16m-64 4h4m12 0h12m24 0h12m-64 4h4m12 0h20m16 0h12m-64 4h4m12 0h24m16 0h8m48 0h8m-120 4h4m12 0h8m8 0h8m12 0h12m40 0h12m-116 4h4m12 0h8m12 0h4m12 0h12m40 0h12m-116 4h4m8 0h8m16 0h4m12 0h16m36 0h12m-116 4h8m4 0h8m16 0h4m12 0h24m24 0h8m8 0h4m-120 4h8m4 0h8m16 0h4m12 0h32m12 0h12m8 0h4m-120 4h16m16 0h4m12 0h36m8 0h8m8 0h8m-116 4h16m16 0h4m12 0h8m12 0h16m8 0h8m8 0h8m-116 4h16m12 0h8m12 0h8m16 0h28m8 0h8m-116 4h16m12 0h8m12 0h4m20 0h8m4 0h12m12 0h8m-116 4h16m12 0h8m12 0h8m16 0h24m12 0h4m-112 4h16m12 0h8m12 0h8m20 0h16m16 0h4m-112 4h8m12 0h12m8 0h12m20 0h16m12 0h8m-108 4h8m12 0h12m8 0h8m24 0h12m16 0h8"/>
<path stroke="#2b3292" d="M1064 1115h68m16 0h4m-92 4h40m4 0h24m16 0h8m-92 4h40m4 0h24m20 0h4m-92 4h40m8 0h20m20 0h4m-92 4h40m8 0h20m20 0h4m-92 4h16m4 0h20m8 0h20m20 0h4m-96 4h16m8 0h20m4 0h20m20 0h4m-88 4h4m16 0h44m20 0h8m-72 4h44m24 0h4m-72 4h44m24 0h4m-72 4h44m24 0h4m-72 4h44m24 0h4m-76 4h24m40 0h8m-72 4h20m44 0h12m-76 4h20m44 0h12m-76 4h16m48 0h12m-76 4h16m44 0h16m-76 4h16m44 0h16m-80 4h12m48 0h20m-76 4h4m48 0h16m-16 4h16m-16 4h16m-16 4h16m-20 4h16m-20 4h20m-20 4h16m-16 4h16m-16 4h16m-16 4h16m-16 4h12m-12 4h12m-12 4h8m-44 24h12m-24 4h24m-24 4h24m52 0h4m-76 4h16m44 0h16m-76 4h16m28 0h4m12 0h16m-76 4h12m32 0h8m4 0h20m-76 4h12m32 0h32m-76 4h12m32 0h20m8 0h4m-80 4h8m40 0h16m8 0h8m-80 4h8m32 0h20m12 0h8m-80 4h8m32 0h20m16 0h4m-108 4h4m20 0h12m32 0h20m16 0h4m-108 4h32m36 0h20m16 0h4m-112 4h36m32 0h24m16 0h4m-112 4h28m32 0h28m12 0h12m-112 4h28m20 0h40m12 0h12m-112 4h4m12 0h12m20 0h40m16 0h8m-112 4h4m16 0h8m20 0h40m16 0h8m-112 4h4m16 0h8m20 0h40m16 0h8m-116 4h4m16 0h8m16 0h44m20 0h4m-112 4h4m16 0h8m20 0h36m24 0h4m-88 4h4m20 0h32m-60 4h12m16 0h32m-60 4h12m16 0h28m-56 4h16m16 0h24m-80 4h4m16 0h24m16 0h16m-76 4h4m16 0h28m16 0h12m-56 4h32m12 0h12m-72 4h4m12 0h32m12 0h12m-72 4h4m12 0h20m4 0h8m12 0h12m-72 4h4m8 0h32m16 0h8m-68 4h4m4 0h24m4 0h8m16 0h8m-68 4h32m4 0h8m16 0h8m-68 4h28m12 0h4m16 0h8m-68 4h28m12 0h4m16 0h8m16 0h8m-92 4h16m8 0h4m12 0h4m16 0h8m16 0h8m-92 4h12m8 0h8m8 0h4m16 0h12m8 0h16m-92 4h12m8 0h8m8 0h8m12 0h12m8 0h16m-92 4h12m8 0h24m16 0h8m8 0h16m-92 4h12m12 0h24m12 0h32m16 0h8m-116 4h12m20 0h16m12 0h32m12 0h12m-116 4h12m24 0h16m8 0h32m8 0h8m-108 4h12m24 0h12m12 0h28m8 0h4m12 0h4m-116 4h12m24 0h12m12 0h40m12 0h4m-116 4h8m28 0h12m16 0h36m12 0h4m-112 4h4m28 0h12m24 0h24m-92 4h4m28 0h12m32 0h12m-60 4h12m36 0h8m-56 4h12m36 0h8m24 0h4m-84 4h12m68 0h4m-84 4h12m32 0h4m32 0h4m-84 4h12m64 0h8m-84 4h12m64 0h8m-88 4h8m68 0h12m-88 4h8m68 0h12"/>
<path stroke="#e02029" d="M304 1119h4m44 0h4m16 12h4m-60 8h4m36 4h12m-12 4h12m-12 4h12m-12 4h8m-8 4h8m-12 4h8m-8 4h4m8 24h4m-4 4h4m-4 4h4m-4 4h4m12 188h4m-8 4h8m-8 4h8m-8 4h8m-12 4h8m-4 4h4m-68 28h4m-8 4h12m-12 4h16m-20 4h16m-16 4h20m56 0h8m-84 4h24m48 0h12m24 0h4m-112 4h28m44 0h16m16 0h8m-112 4h32m4 0h12m24 0h16m16 0h12m-116 4h52m20 0h20m12 0h12m-120 4h56m12 0h24m8 0h16m-116 4h56m12 0h24m8 0h16"/>
<path stroke="#e82f20" d="M332 1119h4m72 0h4m-56 4h4m4 0h4m-36 8h4m16 0h4m36 0h4m16 0h4m-28 4h4m-60 8h12m-20 12h4m-4 4h4m32 8h4m-8 4h4m4 8h4m-4 4h4m-8 16h4m4 4h4m-44 88h4m44 128h8m-60 24h4m60 4h4m20 4h8m-12 4h4m8 0h4m-124 4h4m68 0h4m44 0h4m-88 4h4m12 0h4m36 0h4m8 0h4m-112 8h8m96 0h4"/>
<path stroke="#e83f1f" d="M360 1119h4m60 0h4m-72 12h4m36 0h4m-100 4h4m108 0h4m-120 4h4m4 0h4m16 0h4m20 0h4m24 0h12m20 0h4m-104 4h4m12 0h4m40 4h4m-52 4h4m-4 12h4m0 12h4m40 0h4m-40 8h4m-8 4h4m-4 4h4m-4 60h4m-8 16h4m20 12h4m-28 20h4m20 0h4m-44 88h4m60 0h4m-68 4h4m-4 4h4m-12 16h8m64 8h4m-76 4h4m72 0h4m0 4h4m-64 8h4m0 4h4m52 0h4m-88 8h4m76 0h4m-8 4h4m-36 8h8m20 0h4m20 0h4m8 0h4"/>
<path stroke="#d81f29" d="M412 1119h4m-80 12h4m8 0h4"/>
<path stroke="#ed7b1a" d="M428 1119h4m-20 28h4m-28 4h12m8 0h4m-40 4h4m-4 4h4m-36 4h4m24 0h4m20 0h12m-16 4h4m-16 8h4m-32 4h4m-56 4h4m12 0h4m32 0h4m-56 4h4m52 0h4m20 0h4m-64 4h4m0 4h4m16 0h4m-48 4h8m36 0h4m28 0h4m-40 4h4m0 4h4m44 8h4m-52 4h4m44 0h4m-52 4h4m76 8h4m-32 4h4m24 0h8m-8 4h4m-44 4h4m-60 4h4m-8 4h4m68 0h4m-48 4h4m-4 4h4m0 4h4m-40 4h4m72 0h4m-80 8h4m20 24h4m100 0h4m-92 4h4m-60 4h4m60 12h4m24 0h4m-32 20h4m16 0h4m36 0h4m-44 4h4m4 0h4m24 0h8m-68 4h4m20 0h4m32 0h8m-8 4h8m-80 4h4m68 0h8m-104 4h4m20 0h8m104 0h4m-116 4h4m28 4h4m-72 4h4m8 0h4m88 4h4m36 0h4m-44 4h8m28 0h4m-152 4h4m60 0h4m76 0h4m-112 4h4m100 0h4m-104 4h4m16 0h4m72 0h4m-8 4h8m-144 4h4m32 0h4m-4 4h4m-8 4h4m-4 4h8m-8 4h8m24 0h4m-48 4h4m8 0h4m-4 4h4m-32 4h4m24 8h4m32 4h4m44 0h4m-120 4h4m64 0h4m-36 4h4m28 0h4m60 0h4m-96 4h4m84 12h4m-4 4h4m4 0h4m-12 4h4m4 0h4m-12 4h8m-8 4h12m4 0h4"/>
<path stroke="#f4af12" d="M432 1119h4m-4 4h4m-4 4h4m0 4h8m-8 4h8m-12 4h4m0 8h4m-60 12h4m-80 4h4m68 0h8m20 0h4m-104 4h4m72 0h4m-80 4h4m88 8h4m-12 4h8m-48 8h4m32 0h8m-40 4h4m-48 8h4m12 8h4m-28 4h4m24 0h4m52 0h4m-88 4h4m120 4h4m-72 4h8m52 4h4m-96 4h4m88 0h4m-100 12h4m104 0h4m-16 4h4m4 0h4m-52 12h4m-72 4h4m-4 4h4m68 0h4m-44 4h4m36 0h4m4 0h4m-92 8h4m8 0h4m24 4h4m16 0h4m-56 4h4m132 0h8m-88 16h4m28 0h4m48 0h4m-20 4h4m-116 4h4m120 0h4m-104 4h4m76 0h4m8 4h4m-60 4h8m-40 4h4m-28 4h4m40 8h4m4 0h4m16 0h4m-76 4h4m128 0h4m-96 4h4m96 0h4m-152 4h4m24 0h4m32 0h4m-56 4h4m48 0h4m28 0h4m-84 8h8m88 0h4m-56 4h4m48 0h4m-4 4h4m12 0h4m-20 4h4m-68 4h4m56 0h4m28 0h4m-136 4h4m76 0h4m24 0h4m20 0h4m-132 4h4m84 0h4m-64 4h4m32 0h4m56 0h4m36 0h4m-200 4h4m28 0h4m156 0h4m4 0h4m-52 4h4m-48 4h4m72 0h4m-136 4h8m124 0h4m-140 4h4m44 0h4m28 0h4m52 0h4m12 0h4m-20 4h4m12 0h4m-4 4h4m-160 4h4m76 0h4m-24 4h4m8 0h4m60 4h4m16 0h4m-136 4h4m40 0h4m64 0h4m4 0h16m-160 4h4m20 0h4m112 0h4m8 0h8m-148 4h4m4 0h4m128 0h4m-60 4h4m48 0h8m-56 4h4m44 0h4m-44 12h4m0 4h4m-4 8h4"/>
<path stroke="#f3cf14" d="M436 1119h8m0 4h4m-20 20h4m0 8h4m4 4h4m-40 20h4m44 12h4m-60 8h4m-20 4h8m-80 8h4m60 0h4m-64 4h4m80 0h4m-96 4h4m44 0h4m-52 4h4m120 0h4m-128 4h4m112 0h4m8 0h4m-36 4h4m-8 4h4m-104 4h4m-4 4h4m20 0h4m16 4h4m32 0h4m-84 8h4m56 0h4m36 0h4m-104 4h4m56 0h4m12 0h4m20 0h4m-44 4h4m36 0h4m24 0h4m-124 4h4m28 0h4m80 0h4m-48 8h4m-20 8h4m12 0h4m-84 4h4m12 8h4m48 0h4m-32 4h4m24 4h4m24 0h4m36 0h4m16 0h4m-140 4h4m80 0h4m48 0h4m-88 4h4m80 0h4m-72 12h4m12 0h4m-60 4h4m52 0h4m16 0h4m16 0h4m-144 4h4m-4 4h4m112 4h4m-8 4h4m48 4h4m-152 4h4m52 0h4m76 0h4m-88 4h4m4 0h4m-68 4h4m48 4h4m32 0h4m44 0h4m-144 4h4m20 0h4m96 0h4m-80 4h4m104 0h4m-112 4h4m12 0h4m-8 4h4m24 0h4m36 0h4m-84 4h4m4 0h4m28 0h4m-44 4h8m128 0h4m-96 4h4m60 0h4m12 0h12m4 0h4m-204 4h4m12 0h4m104 0h4m40 0h4m12 0h8m-168 4h4m104 0h4m32 0h8m8 0h4m16 0h4m-184 4h4m72 0h8m24 0h4m36 0h8m4 0h4m16 0h4m-184 4h4m76 0h4m12 0h4m8 0h4m24 0h8m8 0h8m-168 4h8m92 0h4m32 0h12m0 4h12m-72 4h4m4 0h4m56 0h4m-124 4h8m44 0h8m92 0h4m-148 4h4m44 0h4m4 4h4m56 0h4m-12 4h4m32 0h4m-144 4h4m80 0h4m-104 4h12m4 0h4m80 0h4m20 0h4m-116 4h4m84 0h4m20 0h4m-4 4h4m-24 8h4m48 0h4m-52 4h4m12 0h4m28 0h4m-48 4h4m48 0h8m-44 4h4m12 0h12m12 0h4m-44 4h4m8 0h16m-20 4h12m-20 4h8m8 0h8m12 0h4"/>
<path stroke="#5ebf31" d="M480 1119h4m-24 8h20m-24 4h4m-8 8h4m8 0h4m4 0h4m-4 4h4m-12 12h4m4 0h4m-28 8h8m-28 12h12m0 4h4m-28 4h4m20 0h4m-8 12h4m-4 4h4m24 0h4m-52 4h4m8 0h4m28 4h4m-24 16h4m60 0h4m-4 4h4m-8 4h4m-40 4h4m40 8h4m-76 4h4m16 4h4m-56 8h4m28 0h4m12 0h4m8 0h4m-64 4h4m40 0h4m12 0h4m-64 4h4m36 0h4m16 0h4m-64 4h4m88 16h8m-40 8h4m32 8h4m-20 4h4m-20 4h4m0 8h4m36 0h8m-44 4h4m40 4h4m-4 16h4m-4 4h4m0 28h4m-4 4h4m-4 4h4m0 20h4m4 4h4m0 4h4m-4 4h4m-4 4h4m-4 24h4m-8 12h4m-8 20h4"/>
<path stroke="#5abe32" d="M484 1119h4m-4 4h4m-4 4h4m-28 4h4m20 0h4m-24 4h20m4 0h4m-4 4h8m-16 4h16m-44 4h4m32 0h4m-16 4h4m-20 4h4m-12 4h8m32 8h4m-4 4h8m-4 4h4m-80 4h4m4 0h12m56 0h4m-80 4h4m12 0h4m52 0h8m36 0h12m-132 4h4m68 0h8m36 0h4m-120 4h4m68 0h4m40 0h4m-120 4h4m112 0h4m4 0h4m-124 4h4m4 0h8m96 0h8m-80 16h8m-8 4h8m48 0h4m-52 4h4m-8 4h8m-36 8h4m28 0h4m28 0h4m-68 4h4m20 0h4m4 0h4m40 0h4m-56 4h4m40 0h4m4 0h4m-56 4h8m40 0h4m-60 4h4m-20 4h4m8 4h4m-8 4h4m20 0h4m-4 4h4m-4 4h4m-4 20h4m28 4h4m-20 4h4m-20 4h4m8 8h4m40 48h4m-4 4h4m8 0h4m-12 4h12m-12 4h12m-12 4h8m-4 4h4m-4 4h4m-4 4h4m-4 4h8m-8 4h12m-12 4h12m-4 4h4m0 4h4m36 0h4m-44 4h4m-4 28h4m-8 12h4m-8 12h4m-4 4h4m-4 4h4m-4 4h4"/>
<path stroke="#58bf62" d="M604 1119h4m-8 12h4m-4 4h4m-4 4h4m-4 4h4m-4 4h4m-4 4h4m-8 24h4m-4 4h4m-4 4h4m-4 16h4m-112 44h4m-4 4h8m100 0h4m-116 4h8m104 0h4m-116 4h4m76 4h4m-8 4h8m-84 4h4m72 0h4m32 0h4m-116 4h8m100 8h4m-60 32h4m44 8h12m-8 4h4m4 0h4m-4 4h4m0 24h4m-4 4h4m0 16h4m-4 12h4m-4 4h4m-4 4h4m-4 4h4m-4 12h4m0 4h4m0 8h4m0 24h4m-4 4h4m-4 4h4m0 16h4m-16 4h4m8 0h4m-24 4h4m16 0h4m-24 4h8m12 0h4"/>
<path stroke="#5ac0e8" d="M648 1119h4m-4 4h4m-4 4h4m-4 4h4m-4 4h4m-4 4h4m0 4h4m-4 4h8m-4 4h4m-4 4h8m-8 4h8m-4 4h12m-8 4h8m-4 4h4m-4 4h4m-4 12h4m-4 4h4m-4 4h4m-8 12h4m-20 4h8m8 0h4m-24 4h16m4 0h4m-12 4h12m-12 4h12m-8 4h4m-24 4h4m8 0h12m-24 4h4m8 0h12m-24 4h4m8 0h8m-16 4h4m4 0h4m-12 4h12m-8 4h8m-4 4h4m-4 4h4m-4 4h4m-4 4h4m-4 4h4m-8 4h4m-4 4h4m8 8h4m-16 4h4m8 0h8m-20 4h8m8 0h4m-20 4h4m12 0h4m-4 4h4m-48 4h4m40 0h4m-48 4h4m36 0h8m-48 4h4m36 0h8m-8 4h8m-8 4h8m-8 4h4m-4 4h4m-8 4h8m-8 4h8m-8 4h4m-4 4h4m-4 4h4m-4 4h4m-4 4h4m-8 4h4m-4 4h4m-8 8h4m-4 4h4m-8 4h4m-8 4h4m-4 4h4m-8 8h4m-4 4h4m-4 4h4m-4 4h8m-4 4h8m-4 4h4m0 4h4m-4 4h4m-4 4h4m8 0h12m-24 4h4m8 0h12m-24 4h16m4 0h8m-28 4h16m8 0h4m-28 4h16m8 0h8m-32 4h4m24 0h4m-4 4h4m-4 4h4m-4 4h4m-4 4h4m-4 4h4m-8 4h8m-8 4h8"/>
<path stroke="#3a68be" d="M716 1119h4m-4 4h4m-8 4h8m-8 4h24m-24 4h24m-4 4h4m-4 4h4m-4 4h4m-4 4h4m-36 4h8m24 0h4m-32 4h4m24 0h8m-8 4h4m0 4h4m-4 4h4m-4 4h4m-4 4h4m-4 4h4m-4 4h8m-8 4h4m-8 4h8m-8 4h4m-28 4h12m8 0h8m-12 4h8m-24 4h4m8 0h8m-24 4h20m-20 4h16m-16 4h8m-8 4h4m-4 4h12m-12 4h12m-12 4h16m-12 4h16m-16 4h16m-4 4h8m-12 4h12m-12 4h12m-12 4h12m-12 4h8m-8 4h8m-8 4h4m-4 4h4m-8 24h4m-4 4h4m20 0h4m-28 4h4m16 0h8m-28 4h8m8 0h12m-28 4h24m-8 4h8m-8 4h8m-8 4h8m-8 4h8m-12 4h8m-8 4h4m-8 4h4m-4 4h4m-4 4h4m-4 4h4m-8 4h4m-8 4h8m-8 4h8m-8 4h8m-8 4h12m-4 4h4m-4 4h4m-4 4h8m-4 4h4m-4 4h4m-4 4h8m-8 4h4m-4 4h8m-4 4h8m-4 4h8m0 4h4m0 4h4m-4 4h8m-4 4h4m0 4h4m-4 4h4m-4 4h8m-8 4h4m-4 4h4m-4 4h4m-4 4h4m-32 4h16m12 0h4m-32 4h4m4 0h8m12 0h4m-36 4h4m4 0h8m12 0h8m-36 4h4m8 0h4m12 0h8"/>
<path stroke="#ef8219" d="M428 1123h4m-8 12h4m-8 4h4m-120 12h4m68 0h4m4 0h4m-88 4h4m4 0h4m76 0h4m4 0h12m-96 4h4m84 0h4m-108 4h4m92 4h8m-104 8h4m-4 4h4m12 8h4m28 0h4m-4 4h4m28 0h4m-80 4h4m40 0h4m-4 4h4m-48 4h4m20 0h4m12 0h8m-20 4h4m4 0h4m28 0h4m16 4h4m-36 4h4m32 0h4m-8 8h4m-56 4h4m-12 4h4m92 0h4m-48 8h4m-60 4h4m92 0h4m-72 4h4m40 0h4m-52 4h4m68 0h4m-48 4h4m-28 4h4m24 4h4m-28 8h4m24 0h4m-32 8h4m-40 12h4m120 4h4m-152 8h4m144 0h4m-8 4h4m-120 8h4m68 0h4m-4 8h4m-4 4h4m28 0h4m-136 4h4m68 0h4m24 0h4m28 0h4m-136 4h4m68 0h4m16 0h4m4 0h4m28 0h4m-40 4h4m24 0h4m-104 4h4m40 0h4m-12 12h4m100 0h4m-44 4h8m28 0h4m-80 4h4m28 0h4m-92 4h4m20 0h4m60 0h4m4 0h4m-76 4h4m68 0h4m-104 4h8m20 0h4m68 0h4m-116 4h4m16 0h4m16 0h4m96 0h4m-124 4h8m8 4h4m92 0h4m4 0h4m-116 4h4m96 0h4m4 0h4m-112 4h4m24 8h4m-28 4h4m16 0h4m64 0h4m-44 8h4m-76 4h4m4 0h8m4 0h4m24 0h4m0 8h4m52 0h4m-96 4h4m56 4h4m20 0h4m-120 4h4m92 8h4m-56 4h4m12 0h4m32 0h8m28 12h8m-8 4h4m-4 4h4m4 0h4m0 4h4"/>
<path stroke="#f3c713" d="M436 1123h8m0 4h4m-4 4h4m-20 8h4m-8 4h4m-12 8h4m20 0h4m-32 4h4m20 0h4m-36 16h4m-8 12h4m-8 8h4m-52 4h4m0 4h4m20 4h4m-76 8h4m8 0h4m32 0h4m76 16h4m-140 4h4m24 0h4m100 0h4m-84 4h4m-56 8h4m44 0h4m-32 4h4m56 0h4m-44 4h8m28 0h4m-68 4h4m104 4h4m-80 4h4m-40 4h4m68 0h4m-20 4h4m-64 4h4m-8 12h4m144 0h8m-136 4h4m132 0h4m-96 4h4m-60 8h4m84 0h4m-4 4h4m32 8h4m16 0h4m-152 8h4m12 0h4m52 0h12m16 4h4m-80 4h4m-32 8h4m156 0h8m-140 4h4m16 0h4m64 0h4m16 0h4m-92 4h4m84 0h4m-124 12h4m40 4h4m36 0h4m44 0h4m16 0h4m-160 4h4m84 0h4m32 0h4m8 0h4m-52 4h4m8 0h4m20 0h4m28 0h4m-60 4h4m20 0h4m4 0h4m20 0h4m-36 4h8m-40 4h4m56 0h4m-152 4h8m36 0h4m32 0h4m28 0h4m64 0h4m-180 4h8m104 0h4m56 0h4m4 0h4m-176 4h4m132 0h4m20 0h4m-164 4h4m88 0h4m36 0h12m-72 4h4m52 0h4m8 0h8m8 0h4m16 0h4m-196 4h4m84 0h4m60 0h16m-80 4h8m68 0h4m-80 4h4m4 0h4m64 0h4m-120 4h4m36 0h4m72 0h4m-132 4h4m72 0h4m48 0h4m24 0h4m-160 4h4m12 0h4m40 0h4m-68 4h4m64 0h4m56 0h4m-132 4h4m124 0h4m28 0h4m-164 4h4m156 0h4m-144 4h4m136 0h4m-60 4h4m52 0h4m-60 4h4m20 0h4m-4 4h4m-24 4h4m44 0h4m-48 4h4m16 0h4m12 0h20m-52 4h4m16 0h12m12 0h12m-36 4h8m16 0h16m-44 4h8m12 0h4m12 0h4"/>
<path stroke="#d6e11c" d="M448 1123h4m-4 4h4m-8 20h4m-24 8h8m-16 4h4m12 0h4m-24 4h4m44 8h4m-8 4h4m-52 4h4m52 0h4m-4 4h4m-64 4h4m52 4h4m-20 4h4m-48 4h4m52 0h4m-112 16h4m24 0h4m-36 4h8m-40 4h4m64 0h4m32 0h4m-40 4h4m-8 4h4m20 0h4m-88 4h4m92 0h4m-108 4h8m96 12h4m-48 8h4m-12 4h4m4 0h4m-76 4h4m64 4h4m56 0h4m-60 4h4m-36 4h4m24 0h8m-36 4h4m28 0h4m16 0h4m64 0h4m-124 4h4m44 0h4m-12 4h4m20 0h8m-20 4h4m8 0h4m0 4h4m48 0h4m-152 4h4m24 0h4m32 0h4m28 0h4m48 0h4m-88 4h4m0 4h4m4 0h4m36 0h4m28 0h4m-152 4h4m28 0h4m40 0h4m-84 4h4m-4 4h4m108 0h4m28 0h4m-140 4h4m12 4h4m72 0h4m36 0h4m8 0h4m4 0h4m-124 4h4m64 0h4m-104 4h4m88 0h8m96 0h4m-184 4h4m176 0h4m-64 4h4m16 0h4m36 0h4m-172 4h4m-36 4h4m24 0h4m100 0h8m-140 4h4m156 4h4m24 0h8m-16 4h4m4 0h8m-32 4h4m8 0h12m4 0h4m0 20h4m-4 20h4m-4 4h4m-56 8h4m-4 4h8m-8 4h4m48 0h4m-56 4h4m64 0h8m-8 4h12m-16 4h4m8 0h4m-20 4h4m12 0h4m-8 8h4"/>
<path stroke="#9cd025" d="M452 1123h4m8 40h4m-52 4h4m12 0h8m16 0h4m-8 4h4m-8 4h4m-40 4h4m-8 8h4m28 0h4m-40 16h4m44 0h4m-28 8h8m-32 4h4m8 0h4m-8 4h4m20 0h4m-28 4h4m20 0h4m-72 4h4m64 0h4m-8 4h4m-72 4h4m4 0h4m56 0h4m-28 4h4m20 0h4m-4 4h4m-68 4h4m32 0h4m-8 4h4m28 20h4m-40 4h4m12 0h4m32 0h12m-36 4h16m-12 4h4m-100 4h4m72 0h4m0 4h4m-84 8h4m44 0h4m76 4h4m-136 4h4m76 0h4m-4 4h4m-76 4h4m68 0h4m4 0h4m72 0h8m-172 4h4m-4 4h4m80 0h4m48 0h4m-60 4h4m76 0h4m4 0h4m-168 4h4m4 0h4m144 0h4m4 0h16m-204 4h4m204 0h4m-216 4h4m176 0h4m-184 4h4m24 0h4m148 0h4m-184 4h4m176 0h4m-16 4h4m8 0h4m-12 8h8m28 0h4m-4 4h4m-220 8h4m212 4h4m-220 4h4m212 0h4m-4 4h4m-4 20h4m-4 4h4m-4 4h4m-4 8h4m-4 4h4m0 4h16m-20 4h4m12 32h4m-8 12h4"/>
<path stroke="#e85c1e" d="M404 1127h4m0 8h4m-16 8h4m-28 4h4m28 0h4m-64 4h4m-52 4h4m52 0h4m-20 20h4m32 0h4m-20 4h4m16 4h4m-60 4h4m0 8h4m4 4h4m-4 32h8m44 0h4m4 8h4m-60 8h4m-20 12h4m60 4h4m0 4h4m-72 4h4m28 0h4m-12 4h4m-28 8h4m20 8h4m4 4h4m-4 4h4m-4 12h8m-8 12h4m-4 4h4m0 20h4m-8 4h4m-36 4h4m64 0h4m-72 4h4m64 0h4m-4 4h4m-76 4h4m68 24h4m-4 12h4m-96 4h4m64 0h4m68 0h4m-4 4h4m-4 4h4m-72 4h4m-64 8h4m8 0h8m-4 4h4m56 0h4m-60 4h4m88 0h4m-4 4h4m-4 4h4m4 0h4m-100 4h4m92 0h4m-96 8h12"/>
<path stroke="#f5b810" d="M436 1127h8m-12 4h4m-8 4h4m-8 4h4m12 0h4m-12 4h4m4 0h4m-8 8h4m-32 8h4m-12 16h4m-8 8h4m-8 8h4m-8 4h4m-16 4h4m12 4h4m-92 4h4m8 0h4m32 0h4m28 4h4m-60 8h4m-32 4h4m24 0h4m64 0h4m-104 4h4m28 0h4m88 0h4m-28 8h4m-52 4h4m76 4h4m-16 12h4m-84 4h4m80 0h4m-116 4h4m-12 16h4m8 8h4m0 12h4m40 0h4m36 8h4m28 0h4m12 4h4m-136 8h4m48 0h4m68 0h4m-72 8h8m56 0h4m-20 4h4m-76 4h4m48 0h4m-60 4h4m24 0h4m20 0h4m56 4h8m-52 8h4m-4 4h4m36 0h4m-96 4h4m68 0h4m-28 4h4m16 0h4m-56 4h4m-72 4h4m128 8h4m-132 4h12m104 0h8m-76 4h4m56 0h4m-32 4h4m8 0h4m48 0h4m-132 4h4m20 0h4m60 0h4m36 0h4m36 0h4m-48 4h4m-44 4h4m68 0h4m-168 4h4m84 0h4m84 0h4m-192 4h4m4 0h4m72 0h4m28 0h4m68 0h4m-144 4h4m0 8h4m32 0h4m44 0h4m28 0h4m-80 4h4m40 0h4m28 0h4m-40 4h4m52 0h4m-100 4h4m36 0h4m-44 4h4m36 0h4m-44 4h8m32 0h4m32 0h4m4 0h8m-136 4h4m80 0h4m32 0h16m4 0h4m-60 4h4m28 0h16m-16 4h8m4 0h4m4 0h4m-52 4h4m36 0h8m-48 4h4m4 4h4"/>
<path stroke="#60c390" d="M608 1127h4m-4 4h4m-4 4h4m-8 16h4m-4 4h4m-4 4h4m-4 4h4m-8 20h4m0 4h4m-8 4h4m-4 4h4m-4 4h4m-4 4h4m-4 40h4m-4 24h4m-8 12h4m-8 12h4m-4 20h4m0 4h8m0 36h4m0 24h4m-4 4h4m-4 4h4m-4 4h4m-4 4h4m0 16h4m0 8h4m-4 4h4m0 24h4m-4 4h4m0 4h4m-4 4h4m-4 4h4m-4 4h4m-4 4h4m-4 4h4m-4 4h4m-4 4h4"/>
<path stroke="#62c5ae" d="M612 1127h4m-4 4h4m-4 4h4m-8 12h4m-4 4h4m-4 4h4m-4 4h4m0 4h4m-4 4h8m-8 4h12m-12 4h16m-20 4h20m-20 4h20m-16 4h16m-20 4h20m-20 4h4m4 0h12m-24 4h4m12 0h4m-20 4h4m-8 12h4m-4 4h4m-4 12h4m-4 4h4m0 8h4m0 16h4m-4 4h4m-8 4h4m-4 4h4m-4 4h4m-8 4h8m-12 4h12m-12 4h4m4 0h4m-12 8h12m-12 4h12m-12 4h12m-4 4h4m-4 12h4m-4 4h4m-4 4h4m-4 12h4m-4 4h4m0 12h4m0 36h4m-4 4h4m0 12h4m0 12h4m-4 4h4m-4 8h4m0 8h4m-4 4h4m0 4h4m-4 4h4m-4 8h4m-4 4h4m-4 4h4m-4 4h4m-4 4h4m-4 4h4"/>
<path stroke="#ea641d" d="M404 1131h4m-16 12h4m-96 4h4m96 0h4m4 0h4m-72 8h4m4 0h4m-56 4h4m16 0h4m32 0h4m-20 12h4m0 8h4m8 0h4m-40 4h4m20 0h4m-8 12h4m32 0h4m12 36h4m-64 8h4m-12 16h4m-8 4h4m32 16h4m0 12h4m-4 4h4m-20 4h4m-24 4h4m28 16h4m8 8h4m-16 8h4m-4 4h4m-8 4h4m8 0h4m-16 4h4m36 4h4m-72 4h4m64 0h4m-72 16h4m56 8h4m-16 12h4m-68 4h4m32 4h4m-4 4h4m92 4h4m-12 16h4m4 0h4m-12 4h4m-104 4h4m40 0h4m12 0h4m40 0h4m-108 4h4m36 0h4m48 0h4m-36 4h4m0 8h4m-100 8h4m32 0h4m56 0h4m8 0h4m-48 4h4m36 0h4m20 20h4"/>
<path stroke="#eb6b1c" d="M424 1131h4m-24 4h4m-104 12h4m68 0h8m4 0h4m4 0h4m-28 4h4m28 0h4m-96 4h4m28 0h4m-8 4h4m4 0h4m-40 4h4m20 0h4m8 0h4m-16 4h4m28 0h4m-60 4h4m24 0h4m-32 4h4m24 0h4m32 4h4m-24 4h4m-44 4h4m0 4h4m32 4h4m-24 4h4m-12 4h4m24 8h4m20 48h4m-68 4h4m32 4h4m28 0h4m-40 4h4m4 12h4m-40 4h4m-28 20h4m44 0h4m8 0h4m-64 4h4m24 0h4m20 0h4m8 0h4m-4 32h4m24 0h4m-44 4h4m0 8h4m36 0h4m-4 4h4m-76 4h4m132 0h4m-8 4h8m-140 4h4m128 0h4m-144 4h4m-12 12h4m80 0h4m-52 4h4m92 8h4m-100 4h4m96 0h4m-80 8h4m60 4h4m-128 8h4m4 0h12m64 0h4m44 0h4m-12 4h4m0 4h4m-4 8h4m-104 4h4m80 0h4m-56 8h4m60 0h4m-84 4h4m4 0h4m36 0h4m36 20h4m-16 4h4"/>
<path stroke="#f3a613" d="M428 1131h4m4 12h4m-28 8h4m-112 8h4m68 0h4m-80 4h4m-4 4h4m72 0h4m-80 4h4m76 0h4m16 0h4m-100 4h4m76 0h4m8 0h4m-16 4h12m-12 4h4m-4 4h12m-88 4h4m68 0h4m-76 4h4m-4 4h4m0 4h8m36 0h4m-40 4h4m-24 4h4m60 8h4m16 0h4m-92 4h4m56 0h4m24 0h4m40 0h4m-36 4h4m-48 4h8m-8 4h8m36 4h4m-52 4h4m-40 8h4m28 0h4m-4 4h4m-4 4h4m-4 4h4m-4 4h4m8 0h4m-48 4h4m-12 4h4m4 4h4m24 0h4m-4 4h4m-44 4h4m4 0h4m4 0h4m-20 4h4m56 0h4m-68 4h8m136 0h4m-84 8h4m72 0h4m8 0h4m-52 8h4m40 0h4m-80 4h4m20 0h4m36 0h4m-48 4h4m-72 4h4m100 0h4m-56 8h8m-8 4h8m40 0h4m-48 4h4m16 8h4m60 0h4m-84 4h4m12 0h4m-40 4h4m32 0h4m64 0h4m-124 4h4m104 0h4m-116 4h4m-16 4h4m8 0h4m-4 4h4m-4 4h4m8 0h4m-40 4h4m32 0h4m104 0h4m-116 4h4m52 0h4m12 0h4m12 0h4m-92 4h4m-52 4h4m44 0h4m8 0h4m68 0h4m16 0h4m-124 4h4m16 4h8m32 0h4m52 0h4m40 0h4m-168 4h4m60 0h4m12 0h4m76 0h4m4 0h4m-180 8h4m20 0h4m-36 4h4m44 4h4m28 0h4m28 0h4m-88 4h4m136 0h4m-120 4h4m28 0h4m80 0h4m12 0h4m-164 4h4m56 0h4m76 0h4m12 0h4m-160 4h4m24 0h4m44 0h4m68 0h12m-16 4h4m-140 8h8m52 0h4m28 8h4m0 4h4m0 8h4m4 8h4"/>
<path stroke="#f4c011" d="M432 1135h4m8 0h4m-28 12h4m8 0h4m4 0h4m-40 20h4m-8 12h4m-8 8h4m-20 8h8m4 0h4m-8 4h8m-8 4h4m-80 4h4m68 0h4m-68 4h4m0 4h4m40 0h4m24 0h4m-4 4h4m-100 8h4m124 8h4m-16 4h4m8 0h4m-112 4h4m-28 4h4m44 0h4m-12 8h8m80 0h4m-120 4h4m28 0h4m12 4h4m-56 8h4m68 4h4m0 4h8m-28 4h4m-24 8h4m-40 4h4m-4 4h4m128 0h4m-76 4h4m28 0h4m32 0h4m-132 4h4m32 0h4m-40 4h4m60 0h4m20 0h4m-92 4h4m36 0h4m-48 4h4m80 4h4m-68 4h4m96 0h4m-24 4h4m32 0h4m-4 4h4m-8 4h4m-64 4h4m-8 4h4m4 0h4m32 0h4m48 0h4m-152 4h4m24 0h4m84 0h4m16 0h4m-128 4h4m32 0h4m64 0h4m-108 8h4m4 0h4m36 0h4m28 4h4m32 4h4m-76 4h4m-8 4h4m36 0h4m52 0h4m-116 4h4m-56 4h4m16 0h4m28 0h4m72 0h4m28 0h4m-140 4h4m24 0h8m100 0h4m28 0h4m-200 4h4m104 0h4m80 0h4m-88 4h4m76 0h4m-164 4h4m76 0h4m-16 4h4m4 0h4m20 0h4m16 0h4m28 0h4m-168 4h4m88 0h8m32 0h4m28 0h4m-132 4h8m88 0h4m28 0h4m-136 4h4m96 0h4m28 0h4m-80 4h4m12 4h4m80 0h4m-144 4h4m40 0h4m64 0h4m-72 4h8m60 0h4m-72 4h4m64 0h4m-132 4h12m116 0h4m-4 4h4m20 4h4m-56 4h4m32 0h4m12 0h4m-28 4h12m8 0h4m-48 4h4m24 0h12m-32 8h4m-4 4h4m36 0h12m-52 4h4m36 0h12"/>
<path stroke="#f29c15" d="M436 1139h4m-20 4h4m-8 4h4m-44 8h8m24 0h4m-104 4h4m72 0h4m-80 8h4m-4 4h4m72 0h4m-88 4h4m4 0h4m68 0h4m4 0h8m-92 4h8m-8 4h8m-8 4h8m68 0h4m-80 4h4m68 4h4m-68 4h4m4 4h4m-24 4h4m88 0h4m-100 4h4m28 0h4m36 0h4m-76 4h4m32 0h4m-40 4h4m32 0h4m-4 4h4m24 0h4m28 0h4m-12 4h4m-8 4h4m8 0h4m-72 8h4m28 0h4m-4 4h4m-12 4h4m4 0h4m60 8h4m-48 4h4m0 8h4m-40 4h4m-40 4h8m40 0h4m24 0h4m-84 4h8m-8 4h8m4 12h4m36 0h4m88 0h4m-156 4h8m144 0h4m-112 4h4m-24 8h4m72 0h4m0 4h4m24 4h4m4 0h4m-72 4h4m16 0h4m-44 4h4m72 0h4m-48 4h8m-8 4h4m-64 4h4m44 0h4m44 0h4m-4 4h4m8 0h4m-52 4h4m32 0h4m8 0h4m-108 4h4m128 0h4m-144 8h4m76 0h4m64 0h4m-44 4h4m-76 4h4m68 0h4m-96 4h8m4 0h4m4 0h4m68 0h4m32 0h4m-156 4h4m24 0h4m52 0h4m64 0h4m-144 4h4m12 0h8m28 0h4m16 0h4m-72 4h4m0 4h4m84 0h4m-88 4h4m12 4h4m8 0h4m68 0h4m12 0h4m-120 4h4m24 0h4m44 0h8m-120 4h4m52 0h12m128 0h4m-172 4h4m20 0h8m32 0h4m92 0h4m4 0h4m-140 4h4m124 0h4m-180 4h4m4 0h4m40 0h4m120 0h4m-148 4h4m140 0h4m-96 4h4m88 0h4m-4 4h4m4 0h4m-8 4h4m-96 4h4m80 0h4m-148 4h4m56 0h4m8 4h4m-48 4h4m32 0h4m32 0h4m0 16h4m4 8h4"/>
<path stroke="#2a308f" d="M1148 1139h4m-4 24h4m-12 128h8m-12 4h8m-12 4h12m-12 4h16m-16 4h16m-16 4h16m-16 4h16m-20 4h12m-12 4h12m-96 4h12m72 0h16m-100 4h16m68 0h16m-100 4h16m68 0h16m-104 4h4m8 0h4m68 0h20m4 0h4m-112 4h4m8 0h4m64 0h24m4 0h4m-116 4h4m12 0h8m56 0h36m-116 4h4m12 0h4m60 0h36m-116 4h4m8 0h8m56 0h40m-116 4h8m4 0h8m56 0h16m4 0h20m-116 4h16m56 0h20m4 0h12m-108 4h16m56 0h16m8 0h12m-108 4h16m56 0h8m4 0h4m8 0h8m-100 4h12m56 0h32m-100 4h12m20 0h4m32 0h32m-100 4h8m56 0h32m-96 4h4m24 0h4m32 0h32m-68 4h4m32 0h32m-72 4h12m28 0h32m-72 4h12m28 0h16m8 0h8m-72 4h12m28 0h16m8 0h8m-72 4h8m32 0h8m16 0h4m16 0h4m-88 4h8m32 0h8m16 0h24m-48 4h8m16 0h24m-24 4h16m-16 4h12m-12 4h8m-12 4h8m16 20h4"/>
<path stroke="#ec731b" d="M416 1143h4m-36 4h4m4 0h4m-96 4h4m4 0h4m88 0h4m-60 8h4m-4 4h4m40 0h4m-80 4h4m24 0h12m-8 4h8m20 0h4m-32 4h8m-40 4h4m28 0h4m-4 4h4m4 0h4m-16 4h4m-48 4h4m40 0h4m-48 4h4m24 4h4m4 4h4m4 8h4m-4 4h4m20 0h4m-8 4h4m-24 8h4m44 0h4m-64 8h4m92 4h4m-4 4h4m-48 4h4m40 0h4m-52 4h4m-64 4h4m72 0h4m-4 4h4m-48 4h4m40 0h4m-48 4h4m36 4h4m-72 32h4m-24 8h4m-8 4h8m60 0h4m-20 4h4m40 4h4m-4 4h4m-4 4h4m-4 4h4m-8 4h4m-72 8h4m68 0h4m-48 4h4m4 0h4m24 0h4m4 0h4m-12 4h4m-4 4h4m28 4h4m32 0h4m-40 4h4m-104 4h4m60 0h4m32 0h4m36 0h4m-8 4h4m-80 4h4m8 4h4m52 0h4m-104 12h4m16 0h4m-24 4h4m16 0h4m72 0h4m-144 4h4m40 0h4m-12 4h4m88 4h4m-44 8h4m-84 4h4m12 0h8m36 0h4m-40 4h4m100 0h4m-52 4h4m-24 4h4m60 0h4m-104 4h4m56 0h4m36 4h4m-136 4h4m108 0h4m-80 4h4m12 4h4m72 0h4m-4 4h4m8 16h4m-4 4h4"/>
<path stroke="#f08a18" d="M380 1151h4m8 4h4m-8 4h12m-16 4h4m-92 4h4m72 0h4m24 0h4m-108 4h4m88 0h8m-96 12h4m76 0h4m-84 4h4m-4 4h4m8 0h4m0 4h4m-16 4h4m12 0h4m32 0h4m-64 4h4m72 0h4m-44 4h4m0 4h4m52 0h4m-60 4h4m-4 4h4m-4 4h4m52 4h4m-44 16h4m-40 8h4m32 0h4m-4 4h4m-44 4h4m-4 4h4m0 8h4m72 0h4m-80 8h4m36 20h4m-60 4h4m136 0h4m-124 4h4m36 0h4m72 4h8m-96 4h4m84 0h4m-44 4h4m-52 4h4m76 0h4m-136 4h4m68 0h4m16 4h4m32 4h4m-48 4h4m-24 12h4m-40 4h4m128 0h4m-44 4h4m8 0h4m-120 4h4m28 0h4m72 0h4m-112 4h4m76 0h4m16 4h4m32 0h4m-136 4h4m8 0h4m116 0h4m-128 4h4m4 0h4m8 0h4m108 0h4m-124 4h12m60 0h8m24 0h4m8 0h4m-124 4h8m68 0h8m-8 4h8m-116 4h4m140 0h4m-100 8h4m80 0h4m-108 4h4m108 0h4m-116 4h4m8 0h4m16 0h4m24 0h4m48 0h4m-120 4h8m108 0h4m44 0h4m-184 4h8m124 0h4m44 0h4m-156 4h4m100 0h4m-108 4h4m52 0h4m44 0h4m-144 4h4m112 0h4m-120 4h4m32 8h4m72 0h4m-8 4h4m-64 4h4m4 0h4m72 0h4m-4 8h4m4 8h4"/>
<path stroke="#f0e618" d="M424 1151h8m-16 4h4m-12 16h4m44 8h8m-12 4h4m-4 12h8m-112 8h4m-8 4h8m24 0h4m-36 4h4m-40 4h4m8 4h4m44 0h4m8 0h4m48 0h4m-112 4h4m-4 4h4m88 0h4m-60 4h4m-64 4h4m16 0h4m20 0h4m12 0h4m-64 4h4m8 4h4m84 0h4m-100 4h8m104 0h4m-120 4h4m0 4h4m64 12h4m48 0h4m-88 4h4m28 0h4m44 0h4m-64 4h4m8 8h4m76 0h4m0 4h4m-92 4h4m84 0h4m-68 4h8m28 0h4m-96 4h4m28 0h4m16 0h4m8 0h4m-16 4h4m-4 4h4m-20 4h4m-60 4h4m56 0h4m24 0h4m16 0h4m24 0h4m-144 4h4m132 0h4m-8 4h4m-104 4h4m-32 4h4m8 4h4m132 0h4m-68 4h4m60 0h4m-60 4h4m-100 4h4m12 0h4m-36 4h4m104 0h4m60 0h4m-176 4h4m32 0h4m4 0h4m28 0h4m28 0h4m28 0h4m-68 4h4m28 0h4m-40 4h4m28 0h4m36 0h4m-140 8h4m160 0h4m-168 4h4m180 0h12m-28 4h20m8 0h4m-108 4h4m72 0h4m24 0h4m-208 4h4m124 12h4m-4 4h4m76 0h4m-92 8h4m-4 4h4m32 0h4m-40 4h4m28 0h4m4 0h4m-12 4h4m8 0h4m40 0h4m-60 4h4m-4 4h4m8 0h4m-16 4h4m8 0h4m-16 4h4m8 0h4m40 0h4m-56 4h12m40 0h4m-52 4h12m36 4h4m4 0h12m-8 4h8m-4 8h4m-4 4h4m-4 4h4m-8 4h4"/>
<path stroke="#b8d820" d="M444 1155h4m-24 4h4m-12 4h16m8 0h4m20 4h4m-56 4h4m40 0h4m-12 8h4m-48 16h4m40 4h4m-52 12h4m-32 8h4m40 0h4m-52 4h4m-56 4h8m80 0h4m-96 4h4m96 8h4m-44 4h4m-12 4h4m4 0h4m-12 8h4m-4 4h4m44 0h4m12 8h4m-96 4h4m76 0h4m8 0h4m-100 4h4m108 4h4m8 0h4m-68 4h4m44 0h4m-56 4h4m4 0h4m4 0h4m24 0h8m-104 4h4m48 0h8m32 0h8m24 0h4m-80 4h4m20 0h4m-28 4h4m20 0h4m12 0h4m-92 8h4m36 0h8m36 4h4m32 8h4m-152 4h4m92 0h4m48 0h8m-156 4h4m16 0h4m80 0h4m36 0h4m8 0h4m-20 4h8m-152 4h4m4 0h4m16 0h4m72 0h4m36 0h8m52 0h8m-76 4h4m52 0h8m8 0h4m-216 4h4m36 0h4m96 0h4m48 0h12m8 0h4m-216 4h4m4 0h4m28 0h4m96 0h4m44 0h16m8 0h4m-28 4h8m16 0h4m-212 4h4m180 0h4m12 0h8m-208 4h4m164 0h4m12 0h4m12 0h4m-212 4h4m172 0h4m0 4h8m-184 4h4m204 28h4m-4 4h4m-4 8h4m-4 4h4m-4 4h4m16 12h4m-16 4h4m-12 4h8m12 12h4m-4 4h4"/>
<path stroke="#282e8a" d="M1044 1339h8m-8 4h8m-12 4h12m-12 4h12m-12 4h8m-4 4h4m80 0h4m-4 4h4m12 0h8m-28 4h8m12 0h8m-36 4h4m4 0h8m8 0h12m-12 4h12m-12 4h12m-16 4h16m-16 4h16m-16 4h16m-16 4h16m-16 4h16m-16 4h16m-20 4h16"/>
</g></g>
<rect x="1123" y="636" width="5" height="350.5" fill="#1c1c48" opacity="0.4"/>
<rect x="306" y="637.5" width="822" height="3.5" fill="#a8a8d8" opacity="0.5"/>
<rect x="306" y="636" width="822" height="350.5" fill="none" stroke="#303040" stroke-width="2"/>
<line x1="305" y1="635.5" x2="1129" y2="635.5" stroke="#4a4a58" stroke-width="2"/>
<rect x="1138" y="1119" width="5" height="355" fill="#1c1c48" opacity="0.4"/>
<rect x="302" y="1120.5" width="841" height="3.5" fill="#a8a8d8" opacity="0.5"/>
<rect x="302" y="1119" width="841" height="355" fill="none" stroke="#303040" stroke-width="2"/>
<line x1="301" y1="1118.5" x2="1144" y2="1118.5" stroke="#4a4a58" stroke-width="2"/>
<defs><linearGradient id="cbar" x1="0" y1="0" x2="0" y2="1"><stop offset="0.0" stop-color="#5e1616"/><stop offset="0.05" stop-color="#a01c24"/><stop offset="0.12" stop-color="#e8202a"/><stop offset="0.17" stop-color="#e83020"/><stop offset="0.23" stop-color="#e85a1e"/><stop offset="0.28" stop-color="#f08a18"/><stop offset="0.32" stop-color="#f5b810"/><stop offset="0.37" stop-color="#f0e818"/><stop offset="0.4" stop-color="#b8d820"/><stop offset="0.45" stop-color="#62c030"/><stop offset="0.51" stop-color="#52bc34"/><stop offset="0.56" stop-color="#56be52"/><stop offset="0.6" stop-color="#62c4a0"/><stop offset="0.64" stop-color="#64c8e8"/><stop offset="0.68" stop-color="#58bee8"/><stop offset="0.71" stop-color="#4898d8"/><stop offset="0.75" stop-color="#3a6cc0"/><stop offset="0.81" stop-color="#3c52b2"/><stop offset="0.88" stop-color="#3646a8"/><stop offset="0.95" stop-color="#2a3090"/><stop offset="1.0" stop-color="#222870"/></linearGradient></defs>
<rect x="1157" y="631.5" width="51.5" height="362" fill="url(#cbar)" stroke="#333" stroke-width="2"/>
<rect x="1165" y="1121" width="60" height="358" fill="url(#cbar)" stroke="#333" stroke-width="2"/>
<text x="1216" y="642.0" font-family="Liberation Sans, sans-serif" font-size="28" fill="#3a3a3a">3000</text>
<text x="1216" y="697.0" font-family="Liberation Sans, sans-serif" font-size="28" fill="#3a3a3a">2500</text>
<text x="1216" y="758.0" font-family="Liberation Sans, sans-serif" font-size="28" fill="#3a3a3a">2000</text>
<text x="1216" y="817.5" font-family="Liberation Sans, sans-serif" font-size="28" fill="#3a3a3a">1500</text>
<text x="1216" y="877.0" font-family="Liberation Sans, sans-serif" font-size="28" fill="#3a3a3a">1000</text>
<text x="1216" y="936.5" font-family="Liberation Sans, sans-serif" font-size="28" fill="#3a3a3a">500</text>
<text x="1216" y="997.0" font-family="Liberation Sans, sans-serif" font-size="28" fill="#3a3a3a">0</text>
<text x="1234" y="1131.5" font-family="Liberation Sans, sans-serif" font-size="28" fill="#3a3a3a">300</text>
<text x="1234" y="1188.5" font-family="Liberation Sans, sans-serif" font-size="28" fill="#3a3a3a">250</text>
<text x="1234" y="1246.7" font-family="Liberation Sans, sans-serif" font-size="28" fill="#3a3a3a">200</text>
<text x="1234" y="1307.0" font-family="Liberation Sans, sans-serif" font-size="28" fill="#3a3a3a">150</text>
<text x="1234" y="1367.0" font-family="Liberation Sans, sans-serif" font-size="28" fill="#3a3a3a">100</text>
<text x="1234" y="1426.5" font-family="Liberation Sans, sans-serif" font-size="28" fill="#3a3a3a">50</text>
<text x="1234" y="1486.0" font-family="Liberation Sans, sans-serif" font-size="28" fill="#3a3a3a">0</text>
<text x="291" y="650.0" font-family="Liberation Sans, sans-serif" font-size="28" fill="#3a3a3a" text-anchor="end">800</text>
<text x="291" y="1135.6" font-family="Liberation Sans, sans-serif" font-size="28" fill="#3a3a3a" text-anchor="end">800</text>
<text x="291" y="719.2" font-family="Liberation Sans, sans-serif" font-size="28" fill="#3a3a3a" text-anchor="end">750</text>
<text x="291" y="1205.0" font-family="Liberation Sans, sans-serif" font-size="28" fill="#3a3a3a" text-anchor="end">750</text>
<text x="291" y="788.4" font-family="Liberation Sans, sans-serif" font-size="28" fill="#3a3a3a" text-anchor="end">700</text>
<text x="291" y="1274.4" font-family="Liberation Sans, sans-serif" font-size="28" fill="#3a3a3a" text-anchor="end">700</text>
<text x="291" y="857.6" font-family="Liberation Sans, sans-serif" font-size="28" fill="#3a3a3a" text-anchor="end">650</text>
<text x="291" y="1343.8" font-family="Liberation Sans, sans-serif" font-size="28" fill="#3a3a3a" text-anchor="end">650</text>
<text x="291" y="926.8" font-family="Liberation Sans, sans-serif" font-size="28" fill="#3a3a3a" text-anchor="end">600</text>
<text x="291" y="1413.2" font-family="Liberation Sans, sans-serif" font-size="28" fill="#3a3a3a" text-anchor="end">600</text>
<text x="291" y="996.0" font-family="Liberation Sans, sans-serif" font-size="28" fill="#3a3a3a" text-anchor="end">550</text>
<text x="291" y="1482.6" font-family="Liberation Sans, sans-serif" font-size="28" fill="#3a3a3a" text-anchor="end">550</text>
<text x="438" y="1022.5" font-family="Liberation Sans, sans-serif" font-size="28" fill="#3a3a3a" text-anchor="middle">1000</text>
<text x="573" y="1022.5" font-family="Liberation Sans, sans-serif" font-size="28" fill="#3a3a3a" text-anchor="middle">1100</text>
<text x="717.7" y="1022.5" font-family="Liberation Sans, sans-serif" font-size="28" fill="#3a3a3a" text-anchor="middle">1200</text>
<text x="853" y="1022.5" font-family="Liberation Sans, sans-serif" font-size="28" fill="#3a3a3a" text-anchor="middle">1300</text>
<text x="992" y="1022.5" font-family="Liberation Sans, sans-serif" font-size="28" fill="#3a3a3a" text-anchor="middle">1400</text>
<text x="439" y="1510" font-family="Liberation Sans, sans-serif" font-size="28" fill="#3a3a3a" text-anchor="middle">1000</text>
<text x="576" y="1510" font-family="Liberation Sans, sans-serif" font-size="28" fill="#3a3a3a" text-anchor="middle">1100</text>
<text x="718" y="1510" font-family="Liberation Sans, sans-serif" font-size="28" fill="#3a3a3a" text-anchor="middle">1200</text>
<text x="854" y="1510" font-family="Liberation Sans, sans-serif" font-size="28" fill="#3a3a3a" text-anchor="middle">1300</text>
<text x="992.7" y="1510" font-family="Liberation Sans, sans-serif" font-size="28" fill="#3a3a3a" text-anchor="middle">1400</text>
<text x="693" y="1057.5" font-family="Liberation Sans, sans-serif" font-size="30.5" fill="#3a3a3a" text-anchor="middle">Wavelength (nm)</text>
<text x="693" y="1547.5" font-family="Liberation Sans, sans-serif" font-size="30.5" fill="#3a3a3a" text-anchor="middle">Wavelength (nm)</text>
<text x="0" y="0" font-family="Liberation Sans, sans-serif" font-size="31" fill="#3a3a3a" text-anchor="middle" transform="translate(205.5,817) rotate(-90)">Intensity (a.u.)</text>
<text x="0" y="0" font-family="Liberation Sans, sans-serif" font-size="31" fill="#3a3a3a" text-anchor="middle" transform="translate(204,1300) rotate(-90)">Intensity (a.u.)</text>
<text x="1034.9" y="709" font-family="Liberation Sans, sans-serif" font-size="32" fill="#4a4c30" stroke="#dcdcc8" stroke-width="1.7" text-anchor="middle">GO</text>
<text x="979.8" y="1185.8" font-family="Liberation Sans, sans-serif" font-size="32" fill="#55602a" stroke="#d6dcb4" stroke-width="1.7" text-anchor="middle" textLength="145" lengthAdjust="spacingAndGlyphs">NGO−PEG</text>
</svg>
</body></html>
